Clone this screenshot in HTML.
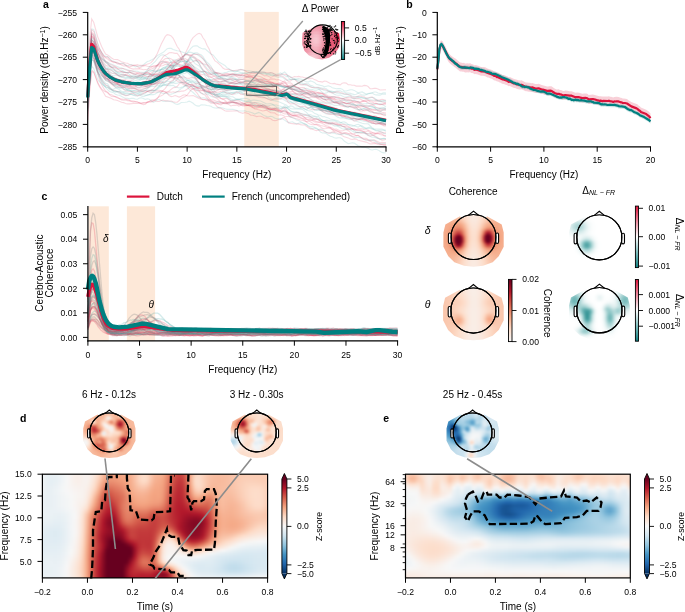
<!DOCTYPE html>
<html><head><meta charset="utf-8"><style>
html,body{margin:0;padding:0;background:#fff;}
#w{position:relative;width:685px;height:612px;overflow:hidden;}
svg{position:absolute;left:0;top:0;display:block;will-change:transform;}
text{font-family:"Liberation Sans", sans-serif;}
</style></head><body><div id="w">
<div style="position:absolute;left:42.4px;top:474.2px;width:225.2px;height:103.7px;overflow:hidden;"><div style="position:absolute;left:-3.6px;top:-3.6px;width:236.0px;filter:blur(1.2px)"><div style="height:3px;background:linear-gradient(90deg,#f0f4f6,#eff3f6,#ebf1f5,#e9f1f5,#eaf1f5,#edf2f5,#f1f4f6,#f7f7f7,#f8f3f0,#f8f0eb,#f9efea,#f8f1ed,#f8f2ee,#f9efe9,#fae7dc,#fddbc7,#f8bc9f,#f3a380,#ef9979,#f09c7b,#f3a380,#f4a885,#f5ab8a,#f6b394,#f9c1a6,#fbd0b9,#fdd9c4,#fcd5c0,#f9c5ab,#f7b99b,#f7b697,#f5ae8d,#ec9374,#dd6f59,#ce5146,#c7433f,#cc4d44,#df745c,#f5ae8d,#fcd3bc,#fddcc8,#fcd5c0,#facbb2,#f9c3a8,#f8c0a4,#f8bfa3,#f8bea2,#f8bfa3,#f9c1a5,#f9c4aa,#fac8ae,#facbb2,#fbccb4,#fbcdb6,#fbceb6,#fbceb6,#fbceb6,#fbcdb6,#fbceb6,#fbceb6)"></div><div style="height:3px;background:linear-gradient(90deg,#f0f4f6,#eff3f5,#eaf1f5,#e8f0f4,#e9f0f4,#ecf2f5,#f0f4f6,#f7f7f7,#f8f3f0,#f9f0ea,#f9efe9,#f8f1ed,#f8f2ef,#f9eee8,#fbe6da,#fdd9c4,#f8bb9d,#f3a381,#ef9a7a,#f09d7c,#f3a380,#f4a785,#f5aa88,#f6b293,#f9c2a7,#fcd3bd,#fddcc9,#fdd9c4,#fac6ad,#f7b799,#f6b495,#f5ac8b,#eb9173,#dc6e57,#ce5045,#c7413e,#cb4a43,#de735c,#f6b090,#fcd6c1,#fddcc9,#fcd4be,#fac9b0,#f9c1a6,#f8bea2,#f8bda1,#f8bda1,#f8bea2,#f9c1a6,#f9c5ab,#fac9b0,#facbb3,#fbcdb5,#fbcdb5,#fbcdb5,#fbcdb5,#fbcdb5,#fbcdb5,#fbceb6,#fbceb6)"></div><div style="height:3px;background:linear-gradient(90deg,#f0f4f6,#eef3f5,#e8f0f4,#e6eff4,#e7eff4,#eaf1f5,#f0f4f6,#f6f7f7,#f8f3f0,#f9efea,#f9eee8,#f8f1ed,#f8f2ef,#f9ede6,#fbe3d5,#fbd1bb,#f7b597,#f29f7e,#ee9878,#ef9a7a,#f2a07e,#f4a481,#f4a785,#f6b090,#f9c2a7,#fcd5c0,#fcdecc,#fddbc7,#f9c6ac,#f6b394,#f6af8f,#f5a886,#e98c6f,#da6954,#cc4c43,#c43c3c,#c84440,#dd7059,#f6b394,#fddcc8,#fcddcb,#fcd2bc,#fac7ad,#f8bfa4,#f8bc9f,#f8bb9e,#f8bc9f,#f8bea1,#f9c1a6,#fac6ad,#facbb2,#fbceb6,#fbcfb7,#fbceb7,#fbcdb6,#fbcdb5,#fbccb4,#fbcdb5,#fbceb6,#fbceb6)"></div><div style="height:3px;background:linear-gradient(90deg,#f0f4f6,#eef3f5,#e8f0f4,#e6eff4,#e7f0f4,#ebf1f5,#f1f4f6,#f7f7f7,#f8f3f0,#f9f0eb,#f9efe9,#f8f1ed,#f8f2ee,#f9ece3,#fce0d0,#facab1,#f5ad8c,#ed9576,#ea8f71,#ec9374,#ef9979,#f19e7d,#f4a582,#f6af8f,#f9c0a5,#fcd2bc,#fddcc8,#fcd7c2,#f9c1a6,#f6b090,#f5ac8b,#f4a582,#e7886c,#d86450,#c94641,#c1373a,#c53e3d,#db6b56,#f6b293,#fddcc9,#fcdecd,#fcd4be,#fac7ad,#f8bea2,#f8bb9e,#f8ba9d,#f8bb9e,#f8bea2,#f9c2a7,#fac7ae,#fbccb4,#fbcfb8,#fbd1ba,#fbd1bb,#fbd1ba,#fbd0b8,#fbceb7,#fbceb6,#fbceb6,#fbceb6)"></div><div style="height:3px;background:linear-gradient(90deg,#f0f4f6,#eef3f5,#e8f0f4,#e6eff4,#e9f0f4,#edf2f5,#f3f5f6,#f7f7f6,#f8f3f1,#f8f1ec,#f9f0eb,#f8f1ed,#f8f1ec,#faeae0,#fcddcb,#f9c2a6,#f2a17f,#e7876b,#e58368,#e8886c,#eb8f71,#ee9777,#f2a17f,#f5ae8d,#f8bda1,#faccb3,#fcd3bd,#fbcdb6,#f8bb9e,#f5ac8b,#f5aa88,#f3a280,#e68469,#d6604d,#c7413e,#bf3137,#c3393b,#d96652,#f5ae8d,#fddac6,#fcdecd,#fcd5bf,#fac6ac,#f8bca0,#f7ba9c,#f8bb9e,#f8bc9f,#f8bea2,#f9c2a7,#fac7ae,#fbcdb5,#fbd1ba,#fcd4bd,#fcd5bf,#fcd5c0,#fcd4be,#fcd2bc,#fbcfb7,#fbcdb6,#fbcdb6)"></div><div style="height:3px;background:linear-gradient(90deg,#f1f4f6,#eff3f5,#e9f0f4,#e8f0f4,#ebf1f5,#eff3f6,#f4f6f6,#f7f6f6,#f8f4f2,#f8f2ef,#f8f1ed,#f8f2ee,#f9f0ea,#fae7dc,#fdd9c5,#f7b89a,#ec9274,#e0775f,#df755d,#e27d63,#e68469,#ea8e71,#f09d7c,#f5ac8b,#f7b99b,#f9c3a9,#fac8af,#f9c2a7,#f6b394,#f5a987,#f5a886,#f19f7e,#e48066,#d35b4a,#c43c3c,#bc2c35,#c03539,#d6614e,#f4a785,#fcd3bd,#fddcc9,#fcd2bc,#f9c2a8,#f7b89a,#f7b89a,#f8bb9e,#f8bda1,#f8bfa3,#f9c2a7,#fac7ad,#fbccb4,#fbd2bb,#fcd6c0,#fdd9c4,#fddac6,#fdd9c5,#fcd6c0,#fbd0b9,#fbcdb6,#fbcdb6)"></div><div style="height:3px;background:linear-gradient(90deg,#f0f4f6,#eef3f5,#e9f0f4,#e9f0f4,#ecf2f5,#f0f4f6,#f4f6f7,#f7f7f7,#f7f5f4,#f8f3f1,#f8f2ef,#f8f2ee,#f9eee8,#fbe4d7,#fbd1ba,#f5ae8d,#e58267,#d96652,#d96752,#de725b,#e17a61,#e6856a,#ee9878,#f5aa88,#f7b496,#f8bb9e,#f8bda1,#f7b89b,#f5ad8c,#f4a684,#f4a784,#f19d7c,#e37d63,#d15648,#c1373a,#ba2933,#bf3237,#d45c4b,#f19e7d,#fac9b1,#fcd4be,#facab1,#f7b99c,#f6b08f,#f6b495,#f8bb9f,#f8bea2,#f8bfa3,#f9c1a6,#f9c6ac,#faccb3,#fbd2bb,#fcd7c2,#fddbc7,#fddcc9,#fddcc8,#fdd9c4,#fbd1ba,#fbceb6,#fbceb6)"></div><div style="height:3px;background:linear-gradient(90deg,#eff3f6,#eef3f5,#e9f1f4,#e9f0f4,#ecf2f5,#f0f3f6,#f3f5f6,#f6f6f7,#f7f6f6,#f8f4f3,#f8f3f0,#f8f2ee,#f9ede6,#fce1d1,#fac6ac,#f2a17f,#de725a,#d15649,#d35b4b,#da6853,#dd7059,#e27c63,#ec9273,#f4a684,#f6b090,#f7b495,#f7b597,#f6b192,#f5a987,#f4a481,#f4a683,#f09b7b,#e17960,#ce5146,#bf3338,#b92632,#be3036,#d15749,#ec9475,#f8bda0,#f9c6ac,#f8ba9d,#f5a987,#f3a27f,#f5ad8d,#f8bb9e,#f8bea2,#f8bea1,#f8bfa3,#f9c4a9,#facab2,#fbd1ba,#fcd7c2,#fddbc8,#fdddca,#fddcca,#fddac5,#fbd1bb,#fbceb6,#fbceb6)"></div><div style="height:3px;background:linear-gradient(90deg,#eef3f5,#ecf2f5,#e9f0f4,#e9f0f4,#ebf1f5,#eef3f5,#f1f4f6,#f4f6f6,#f7f7f7,#f7f5f3,#f8f3f0,#f8f2ee,#f9ece4,#fddcc9,#f8bb9e,#ec9374,#d76350,#ca4942,#ce5045,#d6604d,#da6954,#df755d,#e98c6f,#f3a280,#f5ab8a,#f6af8f,#f6b090,#f5ad8c,#f4a683,#f3a280,#f4a582,#ef9979,#df755d,#cc4c44,#be2f36,#b82431,#bd2e35,#cf5146,#e7876b,#f5ad8c,#f6b394,#f4a784,#ec9274,#eb8f71,#f4a684,#f7b99c,#f8bea2,#f8bc9f,#f8bca0,#f9c1a6,#fac8af,#fbd0b9,#fcd6c1,#fddbc7,#fdddca,#fddcca,#fddac6,#fbd1bb,#fbceb6,#fbceb6)"></div><div style="height:3px;background:linear-gradient(90deg,#edf2f5,#ecf2f5,#e9f0f4,#e9f0f4,#ebf1f5,#eef3f5,#f1f4f6,#f3f5f6,#f6f6f7,#f7f5f3,#f8f2ef,#f8f1ed,#faeae1,#fcd6c0,#f6b292,#e7886b,#d2594a,#c53e3d,#c84440,#d15648,#d86450,#df745c,#e8896d,#f09d7c,#f4a784,#f5ab8a,#f5ac8b,#f5aa88,#f3a481,#f2a17f,#f3a280,#ed9575,#dd7059,#ca4741,#bc2c35,#b72230,#bb2b34,#ca4942,#df755d,#ee9677,#f09c7b,#ea8e71,#e37e64,#e48166,#f2a07e,#f7b89a,#f8bea1,#f8ba9d,#f7ba9c,#f8bea2,#f9c5ab,#fbcdb5,#fcd4bf,#fddac6,#fddcca,#fdddca,#fddac6,#fbd1ba,#fbcdb5,#fbcdb5)"></div><div style="height:3px;background:linear-gradient(90deg,#ecf2f5,#ebf1f5,#e9f0f4,#e9f0f4,#ebf1f5,#eef3f5,#f1f4f6,#f3f5f6,#f6f7f7,#f8f5f3,#f8f1ed,#f9f0eb,#fae8dd,#fbceb7,#f5a988,#e48065,#cf5246,#c13639,#c2383a,#cc4b43,#d7624e,#e0775f,#e8896c,#ee9778,#f3a27f,#f4a785,#f5a886,#f4a683,#f2a07e,#f19d7c,#f09c7b,#ea8d70,#da6a55,#c8433f,#bb2933,#b61f2e,#b92632,#c53e3d,#d6604d,#e17a61,#e48066,#e17960,#dc6f58,#e0785f,#f09c7b,#f7b799,#f8bda0,#f7b99b,#f7b799,#f8ba9d,#f9c1a6,#fac9b0,#fbd2bb,#fdd9c4,#fddcc9,#fdddca,#fddac6,#fbd0b9,#faccb3,#faccb3)"></div><div style="height:3px;background:linear-gradient(90deg,#edf2f5,#ecf2f5,#e9f0f4,#e9f0f4,#ebf1f5,#eef3f5,#f1f4f6,#f3f5f6,#f6f7f7,#f8f4f3,#f8f1ec,#f9eee7,#fbe4d6,#f9c5ab,#f29f7e,#e0775f,#cc4c44,#bd2f36,#bc2c35,#c6403e,#d65f4d,#e17a61,#e8896d,#ec9273,#ef9a79,#f29f7e,#f2a17f,#f19e7c,#ee9778,#ec9374,#eb9172,#e58267,#d7624f,#c53f3d,#b92732,#b41d2d,#b6212f,#bf3137,#ca4942,#d45c4b,#d86550,#d86450,#d7624e,#de725b,#ef9878,#f7b596,#f8bb9e,#f7b799,#f7b596,#f7b79a,#f8bea1,#f9c6ac,#fbcfb7,#fcd6c1,#fddbc8,#fddcc9,#fdd9c5,#fbceb7,#fac9b1,#fac9b1)"></div><div style="height:3px;background:linear-gradient(90deg,#edf2f5,#ecf2f5,#eaf1f5,#e9f1f4,#ebf1f5,#edf2f5,#eff3f6,#f2f5f6,#f5f6f7,#f7f5f4,#f8f0ec,#faeae1,#fcdecc,#f7b89b,#eb9173,#db6b56,#c84440,#b92732,#b7212f,#c03438,#d35a4a,#e17a61,#e7886c,#e98c6f,#ea8f71,#eb9173,#ec9374,#eb9072,#e7866a,#e47f65,#e37e64,#de735c,#d2594a,#c33a3b,#b92531,#b41b2d,#b41c2d,#b92531,#bf3338,#c6403e,#ca4842,#cc4d44,#d05347,#da6a55,#ec9475,#f6b293,#f7b99b,#f7b597,#f6b394,#f7b697,#f8bb9f,#f9c3a8,#facbb3,#fcd2bc,#fcd7c2,#fdd8c4,#fcd5bf,#facbb3,#fac7ad,#fac7ad)"></div><div style="height:3px;background:linear-gradient(90deg,#edf2f5,#edf2f5,#ebf1f5,#eaf1f5,#eaf1f5,#ebf1f5,#edf2f5,#f0f4f6,#f4f5f6,#f7f6f5,#f8f0ec,#fbe6da,#fbd2bb,#f5aa89,#e48166,#d45d4c,#c2383a,#b51e2e,#b0172b,#bb2933,#cf5146,#df755d,#e68569,#e7866a,#e58267,#e48065,#e58267,#e37e64,#dd7059,#d96651,#d96752,#d7634f,#cd4e45,#c13639,#b82531,#b41b2c,#b2182b,#b31a2c,#b6202f,#b92732,#bd2d35,#c13639,#c84340,#d7624e,#ea8e70,#f6ae8e,#f7b698,#f6b394,#f6b292,#f7b596,#f8ba9d,#f9c1a6,#fac7ae,#fbcdb5,#fbd0b9,#fbd1bb,#fbcfb7,#fac8ae,#f9c4aa,#f9c4aa)"></div><div style="height:3px;background:linear-gradient(90deg,#edf2f5,#edf2f5,#ebf2f5,#eaf1f5,#e9f0f4,#e8f0f4,#eaf1f5,#edf2f5,#f2f5f6,#f7f7f7,#f8f0eb,#fbe3d4,#f9c5ab,#f09c7b,#de735b,#ce4f45,#bc2c35,#ac162a,#a31329,#b41d2d,#ca4842,#dd7059,#e58267,#e48166,#e0765e,#dd6f59,#de725a,#dc6d57,#d45b4b,#ce4f45,#d05447,#d15648,#c94741,#c03338,#b92531,#b41b2d,#ae172a,#a9152a,#a81529,#aa152a,#ae172a,#b61f2e,#c03438,#d3594a,#e8896c,#f5ab89,#f6b394,#f6b192,#f6b090,#f6b394,#f7b89b,#f8bea2,#f9c3a9,#fac7ae,#facab2,#facbb3,#facab1,#f9c6ac,#f9c4a9,#f9c4a9)"></div><div style="height:3px;background:linear-gradient(90deg,#ecf2f5,#ecf2f5,#ebf1f5,#e9f1f4,#e7f0f4,#e7eff4,#e8f0f4,#ecf2f5,#f2f4f6,#f7f7f7,#f9efea,#fce1d1,#f8bfa3,#ec9274,#da6954,#c94641,#b72230,#9f1228,#940e26,#a81529,#c53e3d,#db6b55,#e37e64,#e27d63,#dc6e58,#d86450,#d86450,#d6604d,#cd4d44,#c7433f,#cb4a43,#ce4f45,#c84440,#bf3338,#b92732,#b41c2d,#a9152a,#9f1228,#981027,#950f26,#981027,#a61429,#ba2832,#cf5347,#e68569,#f5a886,#f6b191,#f6af8f,#f5ae8d,#f6b091,#f7b596,#f8ba9d,#f8bfa3,#f9c3a9,#fac7ad,#fac9b0,#fac9b0,#fac7ae,#fac6ac,#fac6ac)"></div><div style="height:3px;background:linear-gradient(90deg,#eaf1f5,#eaf1f5,#eaf1f5,#e8f0f4,#e6eff4,#e6eff4,#e7f0f4,#ecf2f5,#f2f4f6,#f7f6f6,#f9eee8,#fce0cf,#f8bca0,#e98d6f,#d76350,#c63f3e,#b31a2c,#940e26,#880a24,#9b1127,#c03338,#d7624f,#e0775f,#df765e,#d96752,#d45b4b,#d35a4a,#d05548,#c94640,#c53f3d,#ca4842,#ce4f45,#c94641,#c13639,#ba2933,#b41b2c,#a51429,#960f27,#8c0c25,#860a24,#880b24,#981027,#b6202f,#cd4f45,#e58267,#f4a784,#f6af8f,#f5ae8d,#f5ac8a,#f5ad8c,#f6b191,#f7b698,#f8bc9f,#f9c2a6,#fac6ad,#facab1,#faccb4,#facbb3,#facab2,#facab2)"></div><div style="height:3px;background:linear-gradient(90deg,#e9f0f4,#e9f0f4,#e8f0f4,#e6eff4,#e4eef4,#e4eef4,#e6eff4,#ebf1f5,#f2f4f6,#f7f6f5,#f9eee8,#fcdfce,#f8bb9e,#e88a6d,#d55f4c,#c33b3b,#b0172b,#910d26,#840924,#940e26,#b92531,#ce5045,#d96752,#da6954,#d55d4c,#cf5246,#ce5045,#cc4c43,#c6413e,#c53e3d,#cb4942,#cf5347,#cc4d44,#c53d3d,#bc2b34,#b2192b,#a11328,#920e26,#860a24,#800823,#820923,#940e26,#b51e2e,#cd4f45,#e58267,#f4a683,#f6af8e,#f5ad8c,#f5aa88,#f5ab89,#f6ae8e,#f7b495,#f8bb9f,#f9c3a8,#facab1,#fbcfb8,#fbd2bb,#fbd1ba,#fbcfb8,#fbcfb8)"></div><div style="height:3px;background:linear-gradient(90deg,#e8f0f4,#e7f0f4,#e5eef4,#e3edf3,#e2edf3,#e2edf3,#e5eff4,#ebf1f5,#f2f5f6,#f7f6f5,#f9eee8,#fcdfce,#f7b99b,#e7886b,#d35b4b,#c13639,#af172b,#950f26,#890b24,#910e26,#ae172a,#c13639,#cd4e45,#d25749,#ce5045,#ca4841,#c94641,#c84440,#c53d3d,#c53e3d,#cc4c44,#d35a4a,#d35b4a,#cc4c44,#bf3237,#b1182b,#9f1228,#910e26,#870a24,#820923,#860a24,#991027,#b72230,#cf5246,#e68469,#f4a784,#f6af8f,#f5ad8c,#f5aa89,#f5ab8a,#f6af8f,#f7b698,#f8bfa3,#fac8af,#fbd0b9,#fcd7c2,#fdd9c5,#fcd7c2,#fcd5c0,#fcd5c0)"></div><div style="height:3px;background:linear-gradient(90deg,#e6eff4,#e6eff4,#e3edf3,#e0ecf3,#dfecf3,#e0ecf3,#e4eef3,#eaf1f5,#f2f4f6,#f7f6f6,#f9eee8,#fcdecd,#f7b799,#e6866a,#d25749,#bf3137,#ae172a,#991027,#8f0d25,#900d26,#9e1228,#b41c2d,#c2383a,#ca4842,#c94540,#c53e3d,#c53f3d,#c53e3d,#c33a3b,#c63f3e,#cf5347,#da6853,#de725b,#d96752,#c84340,#b51e2e,#a11228,#930e26,#8a0b25,#870a24,#8d0c25,#a01228,#bb2933,#d25849,#e8896c,#f5a988,#f6b292,#f6b090,#f6ae8e,#f6b090,#f7b596,#f8bda1,#fac7ad,#fbd1ba,#fddac6,#fcdecc,#fcdfce,#fcdecb,#fddcc9,#fddcc9)"></div><div style="height:3px;background:linear-gradient(90deg,#e5eef4,#e4eef4,#e1edf3,#dfecf3,#deebf2,#dfecf3,#e3eef3,#eaf1f5,#f1f4f6,#f7f6f6,#f9eee8,#fcddcb,#f7b596,#e58468,#d05447,#bc2d35,#a9152a,#960f27,#8f0d25,#8d0c25,#910d26,#a51429,#bc2d35,#c84440,#c7413f,#c33a3b,#c33a3b,#c33a3b,#c2383a,#c7423f,#d55f4c,#e48066,#ee9777,#eb9072,#d96652,#c03438,#aa152a,#950f26,#8b0c25,#8a0b25,#900d26,#a51429,#bf3137,#d7624e,#eb9072,#f6ae8e,#f7b799,#f7b698,#f7b698,#f8bb9e,#f9c2a7,#facbb2,#fcd4be,#fddcc9,#fce0d0,#fbe3d5,#fbe4d7,#fbe3d5,#fbe2d4,#fbe2d4)"></div><div style="height:3px;background:linear-gradient(90deg,#e4eef3,#e3eef3,#e1ecf3,#dfecf3,#deebf2,#dfecf3,#e3eef3,#eaf1f5,#f1f4f6,#f7f6f5,#f9ede6,#fddcca,#f6b394,#e48167,#cf5246,#bb2933,#a21328,#8d0c25,#860a24,#840924,#860a24,#9b1127,#ba2833,#c84340,#c7413e,#c2383a,#c2383a,#c2383a,#c13639,#c94641,#dd6f59,#f2a07e,#f8bda0,#f8bc9f,#ed9475,#d25749,#b82431,#9c1128,#8f0d25,#8e0d25,#950f26,#ac162a,#c43c3c,#dc6e58,#f09b7b,#f7b597,#f8bea2,#f8c0a4,#f9c3a9,#facbb2,#fcd4be,#fddcc9,#fce0d0,#fbe4d7,#fae7dc,#fae9e0,#faeae1,#faeae1,#faeae1,#faeae1)"></div><div style="height:3px;background:linear-gradient(90deg,#e3edf3,#e2edf3,#e1edf3,#e0ecf3,#dfecf3,#e0ecf3,#e4eef3,#eaf1f5,#f1f4f6,#f7f5f4,#f9ece4,#fddbc8,#f6b192,#e37f65,#ce5146,#ba2933,#9f1228,#840924,#770522,#730421,#780522,#8f0d25,#b51d2d,#c33a3b,#c43c3c,#c13639,#c13739,#c13639,#c13539,#cc4b43,#e58267,#f8ba9d,#fddcc8,#fdddcb,#f8bda1,#e58368,#c84440,#b2182b,#9f1228,#9e1228,#a61429,#b82531,#ce5046,#e48066,#f5a886,#f8bea2,#fac8ae,#fbccb4,#fcd3bd,#fddcc9,#fce2d3,#fbe7db,#faeae1,#f9ede5,#f9efe8,#f9f0eb,#f8f1ed,#f8f2ee,#f8f2ef,#f8f2ef)"></div><div style="height:3px;background:linear-gradient(90deg,#e2edf3,#e2edf3,#e2edf3,#e1ecf3,#e0ecf3,#e1edf3,#e5eef4,#ebf1f5,#f2f5f6,#f8f4f2,#faebe2,#fddac6,#f6b090,#e27c63,#ce5046,#bc2c35,#a11328,#7f0823,#67001f,#67001f,#67001f,#7a0622,#9b1127,#b51d2d,#bc2c34,#bf3338,#c13639,#c03539,#c03438,#cf5247,#ee9777,#fbd1bb,#fae7dc,#fae9df,#fddcc8,#f6af8f,#de725a,#c53e3d,#ba2732,#b92531,#be3137,#cb4b43,#dd715a,#ef9878,#f7b597,#fac8ae,#fcd3bd,#fddbc8,#fce0d0,#fbe6da,#f9ece4,#f8f0eb,#f8f3f0,#f7f5f3,#f7f6f5,#f7f7f7,#f6f6f7,#f3f5f6,#f2f5f6,#f2f5f6)"></div><div style="height:3px;background:linear-gradient(90deg,#e2edf3,#e2edf3,#e3edf3,#e2edf3,#e2edf3,#e3edf3,#e6eff4,#ecf2f5,#f4f5f6,#f8f3f1,#faeae1,#fdd8c4,#f5ae8d,#e17960,#ce5046,#be3036,#a61429,#7c0722,#67001f,#67001f,#67001f,#67001f,#760521,#910d26,#b2182b,#be3036,#c2383a,#c03438,#c03539,#d3594a,#f4a885,#fcdfce,#f9eee8,#f9f0eb,#fae8dd,#fbd2bb,#f3a481,#dd715a,#d25849,#d05548,#d86450,#e37d63,#f09b7b,#f7b495,#fac7ad,#fcd6c1,#fcdfce,#fbe5d7,#faeae1,#f8f0eb,#f7f5f4,#f4f6f7,#f1f4f6,#f0f4f6,#eff3f5,#eef3f5,#ecf2f5,#e9f0f4,#e8f0f4,#e8f0f4)"></div><div style="height:3px;background:linear-gradient(90deg,#e3eef3,#e3eef3,#e4eef3,#e3eef3,#e3eef3,#e4eef4,#e7f0f4,#eef3f5,#f5f6f7,#f8f2ef,#fae9e0,#fcd7c1,#f5ac8a,#e0775f,#cd4f45,#be3036,#a51429,#750421,#67001f,#67001f,#67001f,#67001f,#67001f,#720321,#a21328,#be2f36,#c43b3c,#c1373a,#c1373a,#d65f4d,#f6b191,#fbe4d7,#f8f1ed,#f8f2ef,#f9efe9,#fbe4d6,#fac9b0,#f4a784,#ea8f71,#e98c6f,#f09d7c,#f6b192,#f9c4a9,#fcd3bd,#fcdecc,#fbe4d7,#faeae0,#f9efea,#f7f5f3,#f3f5f6,#eef3f5,#eaf1f5,#e8f0f4,#e6eff4,#e6eff4,#e5eff4,#e4eef3,#e1edf3,#e0ecf3,#e0ecf3)"></div><div style="height:3px;background:linear-gradient(90deg,#e4eef4,#e4eef4,#e5eef4,#e4eef4,#e4eef4,#e5eff4,#e9f0f4,#eff3f5,#f6f7f7,#f8f2ee,#fae9de,#fcd5bf,#f5aa88,#df755d,#cc4c44,#bb2b34,#9d1128,#69011f,#67001f,#67001f,#67001f,#67001f,#67001f,#67001f,#9d1128,#c03338,#c7433f,#c53d3d,#c43c3c,#d7634f,#f7b596,#fbe6da,#f8f2ee,#f8f3f0,#f8f2ef,#f9ede5,#fce1d1,#fbcfb8,#f9c1a5,#f8bfa4,#facbb3,#fddcc8,#fbe3d5,#fae9df,#f9eee8,#f8f3f0,#f7f7f7,#f2f4f6,#ecf2f5,#e7f0f4,#e3eef3,#e1ecf3,#dfecf3,#dfecf3,#dfecf3,#dfebf3,#deebf2,#dceaf2,#dbeaf2,#dbeaf2)"></div><div style="height:3px;background:linear-gradient(90deg,#e6eff4,#e6eff4,#e6eff4,#e6eff4,#e6eff4,#e7eff4,#eaf1f5,#f0f4f6,#f7f7f6,#f8f1ec,#fae8dc,#fcd3bd,#f4a886,#de735b,#ca4842,#b82431,#930e26,#67001f,#67001f,#67001f,#67001f,#67001f,#67001f,#67001f,#a11328,#c43c3c,#cd4e45,#cb4942,#c84440,#d96753,#f7b799,#fae7dc,#f8f3ef,#f8f4f2,#f8f4f3,#f8f3ef,#f9ede7,#fae7dc,#fbe3d4,#fbe3d4,#fae8dd,#f9efe8,#f8f4f2,#f4f6f6,#eef3f5,#eaf1f5,#e6eff4,#e3eef3,#e0ecf3,#ddebf2,#dbeaf2,#d9e9f2,#d9e9f1,#d9e9f2,#dae9f2,#dae9f2,#dae9f2,#d9e9f2,#d9e9f1,#d9e9f1)"></div><div style="height:3px;background:linear-gradient(90deg,#e7eff4,#e7f0f4,#e8f0f4,#e7f0f4,#e7eff4,#e8f0f4,#ebf1f5,#f2f4f6,#f7f5f4,#f9efe9,#fbe6d9,#fbd1ba,#f4a785,#dd705a,#c84540,#b6202f,#8e0c25,#67001f,#67001f,#67001f,#67001f,#67001f,#67001f,#6e0220,#ad162a,#ca4842,#d55f4c,#d45c4b,#cf5146,#dc6e58,#f8ba9d,#fae9df,#f7f5f3,#f7f7f6,#f6f7f7,#f6f7f7,#f7f7f7,#f7f5f4,#f8f3f1,#f8f4f2,#f6f7f7,#f0f4f6,#ebf1f5,#e7eff4,#e2edf3,#deebf2,#dbeaf2,#d9e9f2,#d8e8f1,#d6e7f1,#d5e7f1,#d5e7f1,#d5e7f1,#d6e8f1,#d8e8f1,#d9e9f1,#d9e9f1,#d8e9f1,#d8e8f1,#d8e8f1)"></div><div style="height:3px;background:linear-gradient(90deg,#e9f0f4,#e9f0f4,#e9f1f5,#e9f0f4,#e8f0f4,#e9f0f4,#edf2f5,#f3f5f6,#f8f3f1,#f9ede5,#fbe4d6,#fbcfb8,#f4a785,#dc6e58,#c7423f,#b51e2e,#8c0c25,#67001f,#67001f,#67001f,#67001f,#67001f,#67001f,#830923,#b72230,#d05347,#dc6e57,#dc6d57,#d55f4c,#df745c,#f8ba9d,#fae8dd,#f8f4f3,#f6f7f7,#f4f6f6,#f2f4f6,#eff3f6,#eef3f5,#edf2f5,#ebf1f5,#e8f0f4,#e5eff4,#e3eef3,#e1edf3,#deebf2,#d9e9f2,#d6e7f1,#d3e6f0,#d2e5f0,#d1e5f0,#d1e5f0,#d2e6f0,#d4e6f0,#d5e7f1,#d7e8f1,#d8e8f1,#d9e9f1,#d9e9f1,#d8e8f1,#d8e8f1)"></div><div style="height:3px;background:linear-gradient(90deg,#e9f1f5,#eaf1f5,#eaf1f5,#eaf1f5,#e9f0f4,#eaf1f5,#eef3f5,#f5f6f7,#f8f2ee,#faeae1,#fce1d2,#fbceb6,#f4a886,#dc6d57,#c63f3e,#b41c2d,#8c0c25,#67001f,#67001f,#67001f,#67001f,#67001f,#6a011f,#9a1027,#be2f36,#d25849,#de725b,#df745c,#d86450,#dd715a,#f5ac8b,#fdddca,#faeae0,#f8f0eb,#f7f5f4,#f3f5f6,#edf2f5,#e9f0f4,#e5eef4,#e2edf3,#e0ecf3,#dfecf3,#dfecf3,#dfecf3,#dceaf2,#d7e8f1,#d3e6f0,#cee3ef,#cae2ee,#cae1ee,#cbe2ee,#cfe4ef,#d2e5f0,#d4e7f1,#d7e8f1,#d8e8f1,#d9e9f2,#d9e9f1,#d8e9f1,#d8e9f1)"></div><div style="height:3px;background:linear-gradient(90deg,#eaf1f5,#eaf1f5,#eaf1f5,#eaf1f5,#eaf1f5,#ebf1f5,#eff3f6,#f7f7f7,#f8f0ec,#fae9df,#fce0cf,#fbccb4,#f5a886,#dc6d57,#c53e3d,#b31a2c,#8a0b25,#67001f,#67001f,#67001f,#67001f,#67001f,#7d0723,#ac162a,#c13539,#cf5146,#d96752,#da6a55,#d55d4c,#d6604d,#e58368,#f5ad8c,#fac7ad,#fddcca,#fae9df,#f8f4f2,#f1f4f6,#eaf1f5,#e3eef3,#deebf2,#dceaf2,#dceaf2,#ddebf2,#ddebf2,#dae9f2,#d5e7f1,#cfe4ef,#c8e0ed,#c4deec,#c3deec,#c6dfed,#cae1ee,#cfe4ef,#d3e6f0,#d6e7f1,#d8e8f1,#d9e9f1,#d9e9f1,#d8e9f1,#d8e9f1)"></div><div style="height:3px;background:linear-gradient(90deg,#e9f1f5,#eaf1f5,#eaf1f5,#e9f1f4,#eaf1f5,#ecf2f5,#f1f4f6,#f7f6f6,#f9efea,#fae8dd,#fcdfce,#facbb3,#f5a886,#dc6e57,#c43d3c,#b1182b,#880b24,#67001f,#67001f,#67001f,#67001f,#67001f,#8c0c25,#b51f2e,#c03539,#c7433f,#ce5046,#d05548,#cc4d44,#c94641,#cc4c43,#d65f4d,#e47f65,#f5ab89,#fcd4be,#fae9e0,#f8f5f3,#f0f4f6,#e6eff4,#dfecf3,#dbeaf2,#dbeaf2,#dceaf2,#dbeaf2,#d8e8f1,#d4e6f0,#cde3ef,#c6dfed,#c2ddec,#c1ddeb,#c3deec,#c8e0ed,#cde3ef,#d2e6f0,#d6e7f1,#d9e9f1,#dae9f2,#dae9f2,#dae9f2,#dae9f2)"></div><div style="height:3px;background:linear-gradient(90deg,#e9f1f5,#e9f1f5,#e9f0f4,#e9f1f4,#eaf1f5,#edf2f5,#f2f4f6,#f7f6f5,#f9efe9,#fae8dd,#fcdfcd,#facbb3,#f5a886,#dc6e58,#c43c3c,#af172a,#860a24,#67001f,#67001f,#67001f,#67001f,#67001f,#960f26,#b82431,#be3036,#bf3237,#c13739,#c33a3b,#c2383a,#bb2a34,#b1182b,#ae172a,#bf3237,#db6c56,#f6b090,#fcddcb,#f9ece5,#f7f6f6,#ecf2f5,#e3eef3,#dfebf3,#ddebf2,#ddebf2,#dceaf2,#d9e9f2,#d5e7f1,#d1e5f0,#cbe2ee,#c8e1ed,#c8e0ed,#c9e1ee,#cde3ef,#d2e6f0,#d6e7f1,#d9e9f2,#dceaf2,#deebf2,#deebf2,#deebf2,#deebf2)"></div><div style="height:3px;background:linear-gradient(90deg,#eaf1f5,#eaf1f5,#eaf1f5,#eaf1f5,#ebf1f5,#edf2f5,#f2f5f6,#f7f5f4,#f9efe9,#fae8dd,#fcdfce,#faccb3,#f5a886,#dc6f58,#c43c3c,#ae172a,#860a24,#67001f,#67001f,#67001f,#67001f,#67001f,#970f27,#b72330,#ba2933,#b82330,#b72230,#b82531,#b82431,#af172b,#910d26,#830923,#9c1127,#c53e3d,#ea8e71,#facab2,#fbe4d7,#f8f0eb,#f4f5f6,#eaf1f5,#e5eef4,#e3edf3,#e2edf3,#e1edf3,#dfecf3,#dceaf2,#dae9f2,#d8e8f1,#d7e8f1,#d7e8f1,#d8e8f1,#dae9f2,#dceaf2,#e0ecf3,#e3edf3,#e5eff4,#e7eff4,#e7f0f4,#e7f0f4,#e7f0f4)"></div><div style="height:3px;background:linear-gradient(90deg,#ecf2f5,#ecf2f5,#edf2f5,#ecf2f5,#ecf2f5,#edf2f5,#f2f4f6,#f7f5f4,#f9efe9,#fae9de,#fce1d1,#fbcdb5,#f4a886,#dc6e58,#c43c3c,#af172b,#890b24,#67001f,#67001f,#67001f,#67001f,#67001f,#8f0d25,#b3192c,#b6202f,#b41d2d,#b41c2d,#b41b2d,#b1182b,#a71529,#9a1027,#950f26,#a51429,#c2383a,#e37e64,#f8bc9f,#fcdecd,#faebe3,#f8f4f2,#f3f5f6,#eef3f5,#ecf2f5,#ecf2f5,#ecf2f5,#ebf1f5,#eaf1f5,#ebf1f5,#ebf1f5,#ecf2f5,#edf2f5,#eef3f5,#eff3f6,#f1f4f6,#f2f5f6,#f4f6f6,#f6f6f7,#f7f7f7,#f7f7f7,#f7f7f7,#f7f7f7)"></div><div style="height:3px;background:linear-gradient(90deg,#edf2f5,#edf2f5,#eef3f5,#edf2f5,#ecf2f5,#edf2f5,#f1f4f6,#f7f6f5,#f9efe9,#fae9df,#fce1d2,#fbceb6,#f4a886,#dc6e58,#c43c3c,#b0172b,#8a0b25,#67001f,#67001f,#67001f,#67001f,#67001f,#8b0b25,#af172a,#b51e2e,#b51d2d,#b51e2e,#b41c2d,#b0172b,#a9152a,#a81529,#ab162a,#b41d2d,#c6413e,#e47f65,#f7ba9c,#fdddcb,#faeae1,#f8f3f0,#f6f6f7,#f2f5f6,#f0f4f6,#f0f4f6,#f0f4f6,#f0f4f6,#f0f4f6,#f2f4f6,#f3f5f6,#f5f6f7,#f6f6f7,#f7f7f7,#f7f6f6,#f7f6f5,#f7f5f3,#f8f4f2,#f8f3f0,#f8f3ef,#f8f2ef,#f8f2ee,#f8f2ee)"></div></div></div><div style="position:absolute;left:405.5px;top:474.2px;width:224.8px;height:103.7px;overflow:hidden;"><div style="position:absolute;left:-3.6px;top:-3.6px;width:232.0px;filter:blur(1.2px)"><div style="height:3px;background:linear-gradient(90deg,#fbe7db,#fbe2d3,#fddbc6,#fdd9c4,#fcdfcd,#fbe4d7,#faeae0,#f9ece3,#fae9de,#fbe6da,#fbe5d8,#fce0d0,#fddcc9,#fcdecc,#fce0d0,#fdddca,#fce0cf,#fbe3d4,#fddbc8,#fbd2bb,#fddcc8,#fce0d0,#fce0cf,#fce2d3,#fce0d0,#fcd6c1,#fbcdb5,#fac8af,#fbd1ba,#fcdecc,#fce0d0,#fce1d1,#fbe3d4,#fce0d0,#fbd1ba,#fbcdb5,#fddac6,#fcdecc,#fce2d3,#fae8dd,#fae8de,#fbe6da,#fbe3d4,#fcdecc,#fdd8c4,#fddbc8,#fce1d1,#fbe2d3,#fce0cf,#fcdfcf,#fce1d2,#fbe4d7,#fae7dc,#fae7db,#fbe4d7,#fbe4d6,#fbe4d6,#fbe6da,#fae7dc)"></div><div style="height:3px;background:linear-gradient(90deg,#fbe4d6,#fddcc8,#f9c5ab,#f9c3a8,#fcd3bd,#fcdfce,#fae9df,#f9ece5,#fae7db,#fbe3d5,#fbe4d6,#fddcc9,#fbceb6,#fcd6c0,#fddbc7,#facab1,#fcd4be,#fce0cf,#fbd1ba,#f9c5ab,#fcd6c0,#fdddca,#fddcc8,#fce0d0,#fcdfcd,#facbb3,#f8bfa3,#f8bb9e,#fac8af,#fdddcb,#fce0cf,#fcdecc,#fce2d2,#fcdfce,#fac9b0,#f9c3a8,#fbd1ba,#fcd6c1,#fcdfce,#faeae0,#fae8de,#fbe3d5,#fce0d0,#fcd7c1,#facbb3,#fbd1ba,#fdddca,#fdddcb,#fddac6,#fddbc7,#fddcc9,#fcdfce,#fbe3d4,#fce2d2,#fcdfce,#fce0d0,#fce2d2,#fbe3d5,#fbe5d7)"></div><div style="height:3px;background:linear-gradient(90deg,#fbe3d5,#fcd7c2,#f7ba9c,#f7b798,#facbb3,#fddbc7,#fae8de,#f9eee8,#fbe4d7,#fce1d0,#fbe4d7,#fddac5,#f9c4a9,#fcd2bc,#fddcc8,#f9c4aa,#fcd3bd,#fce2d3,#fcd2bc,#fac9b0,#fdd9c5,#fddbc7,#fcd3bd,#fce0cf,#fcdfce,#f9c6ac,#f7b89b,#f7b698,#f9c6ac,#fcdfce,#fce0cf,#fddbc8,#fbe3d4,#fbe3d4,#fbcdb5,#f9c4aa,#fbceb7,#fbcfb7,#fddcc9,#f9ece4,#fae7db,#fce0cf,#fce0cf,#fcd5c0,#facab1,#fcd5c0,#fcdfcd,#fddbc7,#fcd4be,#fcd8c3,#fcd7c2,#fddbc7,#fce0cf,#fcdecc,#fdd9c5,#fcdfce,#fce0d0,#fcddcb,#fcdfcd)"></div><div style="height:3px;background:linear-gradient(90deg,#fae9df,#fce0cf,#fac9af,#f9c5ab,#fcd6c0,#fcd7c2,#fae8dd,#f9eee8,#fce0d0,#fcdecb,#fae8dd,#fcdecc,#fac9b0,#fcdecb,#fbe6da,#fddac6,#fbe4d7,#f9ede5,#fce0d0,#fce0cf,#fbe4d6,#fddbc8,#fbcdb5,#fce1d1,#fce2d2,#fac9b0,#f8c0a4,#f8c0a4,#fbceb6,#fbe5d7,#fbe2d4,#fddac6,#fae7dc,#faebe3,#fddcc9,#fcd4bf,#fdd9c5,#fcd2bc,#fdddca,#f9eee8,#fbe5d9,#fcdfce,#fbe6d9,#fce0d0,#fddbc8,#fbe4d7,#fae8dd,#fdddcb,#fddac6,#fcdfcd,#fddbc7,#fddcc8,#fbe2d4,#fcdfce,#fdd9c5,#fbe3d6,#fbe4d6,#fcd6c1,#fcd5c0)"></div><div style="height:3px;background:linear-gradient(90deg,#f8f1ed,#faebe3,#fce1d2,#fce0d0,#fbe4d6,#fddac6,#fbe6db,#f9ede6,#fdddca,#fddcc8,#f9ece4,#fbe5d9,#fddbc7,#faebe2,#f7f5f4,#f9ece3,#f7f7f6,#f2f5f6,#f9eee8,#f8f3f0,#f8f1ed,#fce0cf,#fbd0b9,#fae7dc,#fae8de,#fdd9c4,#fdd8c3,#fddac6,#fcdecc,#f9eee8,#fae9df,#fcdecc,#f9eee8,#f7f6f5,#fae8dd,#fbe4d6,#fbe7db,#fce0cf,#fce1d2,#f8f1ed,#fae7dc,#fbe4d7,#f8f1ed,#f9ece5,#fae9de,#f8f4f2,#f8f4f2,#fbe4d6,#fbe3d5,#faeae1,#fbe3d4,#fbe3d5,#f9ede6,#fae8dd,#fce1d1,#f9eee7,#f9eee7,#fddbc7,#fcd6c1)"></div><div style="height:3px;background:linear-gradient(90deg,#f7f7f7,#f8f4f2,#f9efe9,#f9eee8,#f9eee8,#fcdecc,#fbe5d9,#faebe2,#fddbc7,#fddbc7,#f9ede6,#faebe3,#fbe5d9,#f7f7f7,#eaf1f5,#f6f6f7,#e7eff4,#e4eef3,#f4f5f6,#e8f0f4,#eef3f5,#fae8dd,#fcdecc,#f8f2ef,#f8f3f1,#fae7db,#f9ece4,#f9eee8,#f9ece4,#f2f5f6,#f8f3f1,#fbe6d9,#f7f7f6,#edf2f5,#f8f1ed,#f9f0ea,#f7f6f5,#f9eee7,#faeae1,#f7f6f6,#f9eee8,#f9efe9,#edf2f5,#f6f7f7,#f8f3f1,#ebf1f5,#eef3f5,#f9ede5,#f9efe9,#f7f7f7,#f9eee8,#f9f0ea,#f0f3f6,#f7f6f6,#f9ece4,#f3f5f6,#f2f4f6,#fae7db,#fbe3d5)"></div><div style="height:3px;background:linear-gradient(90deg,#f4f6f6,#f6f6f7,#f7f5f4,#f7f5f3,#f8f3f1,#fbe2d3,#fbe5d9,#fae9de,#fddcc9,#fddcc8,#faebe2,#f9ede5,#f9ede5,#eef3f5,#e3eef3,#eef3f5,#e0ecf3,#ddebf2,#e8f0f4,#dae9f2,#e0ecf3,#f7f5f4,#f9efe9,#e8f0f4,#e8f0f4,#f5f6f7,#e8f0f4,#e4eef4,#eff3f5,#deebf2,#e8f0f4,#f8f4f2,#eaf1f5,#e3edf3,#f1f4f6,#f0f4f6,#e1edf3,#ecf2f5,#f6f7f7,#ecf2f5,#f2f4f6,#edf2f5,#d9e9f2,#e8f0f4,#f0f4f6,#e2edf3,#e5eef4,#f7f6f6,#f3f5f6,#e9f0f4,#f3f5f6,#f0f4f6,#dceaf2,#e5eff4,#f6f6f7,#e6eff4,#e5eef4,#f8f3f0,#f9efe9)"></div><div style="height:3px;background:linear-gradient(90deg,#f4f5f6,#f4f6f6,#f6f7f7,#f7f7f7,#f7f5f4,#fae8dd,#fae8dd,#fae9df,#fce0d0,#fce0cf,#faeae1,#f9eee8,#f8f2ef,#eaf1f5,#e1edf3,#e6eff4,#dae9f2,#d5e7f1,#d9e9f1,#c6dfed,#c7e0ed,#dbeaf2,#deebf2,#c4deec,#c6dfed,#d3e6f0,#bddbea,#b7d8e8,#cce3ef,#b8d8e9,#c4dfec,#d8e8f1,#cbe2ee,#c6e0ed,#d5e7f1,#d2e5f0,#b5d7e8,#c4deec,#d6e7f1,#d2e5f0,#d5e7f1,#cfe4f0,#b5d7e8,#d0e5f0,#dbeaf2,#d3e6f0,#d6e7f1,#e4eef3,#e1ecf3,#dbeaf2,#e4eef3,#e2edf3,#d2e5f0,#dae9f2,#e9f0f4,#e0ecf3,#e0ecf3,#f2f5f6,#f7f7f7)"></div><div style="height:3px;background:linear-gradient(90deg,#f3f5f6,#f3f5f6,#f4f6f6,#f5f6f7,#f7f6f6,#f9eee7,#f9ece5,#f9ece4,#fae8dd,#fae8de,#f9efe9,#f8f3f1,#f5f6f7,#e6eff4,#ddebf2,#dceaf2,#d0e4f0,#c1ddeb,#bad9e9,#a2cde2,#99c9e0,#a0cce2,#9ccae1,#81bad8,#83bcd9,#8ec3dd,#76b3d5,#70afd2,#87beda,#75b3d4,#7ab6d6,#8bc0dc,#81bbd8,#82bbd9,#8fc3dd,#88beda,#69abd0,#77b4d5,#92c5de,#96c7df,#9dcae1,#97c7df,#81bad8,#9bcae1,#acd2e5,#a9d1e5,#b2d5e7,#c4deec,#c8e0ed,#cae1ee,#d6e7f1,#d7e8f1,#cce3ef,#d5e7f1,#e1ecf3,#ddebf2,#deebf2,#ebf1f5,#eff3f5)"></div><div style="height:3px;background:linear-gradient(90deg,#f4f6f6,#f4f5f6,#f3f5f6,#f4f6f6,#f7f7f7,#f8f2ef,#f8f1ec,#f8f1ec,#f8f0eb,#f8f2ee,#f7f7f7,#f1f4f6,#eaf1f5,#e0ecf3,#d8e8f1,#d2e6f0,#bfdceb,#abd2e5,#99c9e0,#7eb8d7,#6cadd1,#65a9cf,#5aa1cb,#4393c3,#408fc1,#408fc1,#3986bc,#3784bb,#3e8cc0,#3986bc,#3885bc,#3b89be,#3c89be,#3f8dc0,#4494c3,#4292c2,#3a87bd,#3e8cbf,#4e9ac7,#5aa2cb,#65a9cf,#64a8ce,#58a0ca,#6aacd0,#7ab6d6,#7fb9d8,#8dc2dc,#9fcbe2,#aad1e5,#b4d6e8,#c0dceb,#c5dfed,#c0dceb,#cae2ee,#d7e8f1,#d9e9f1,#ddebf2,#e5eef4,#e7eff4)"></div><div style="height:3px;background:linear-gradient(90deg,#f6f6f7,#f5f6f7,#f4f5f6,#f4f6f7,#f7f7f7,#f8f5f3,#f8f4f1,#f8f4f3,#f7f7f7,#f1f4f6,#ebf1f5,#e5eef4,#dfecf3,#d8e9f1,#d2e5f0,#c6dfed,#b3d6e7,#9ccae1,#82bbd8,#66a9cf,#559ec9,#4a97c5,#408fc1,#3581ba,#2d76b4,#276eb0,#2166ac,#2166ac,#256baf,#2368ad,#2267ad,#246aae,#286fb1,#2e77b5,#347fb9,#3580b9,#327cb7,#3580b9,#3b89be,#4190c2,#4997c5,#4c99c6,#4997c5,#539dc9,#5da3cc,#64a8ce,#72b1d3,#88bfdb,#9ac9e0,#a4cee3,#a9d1e4,#a7d0e4,#a5cfe4,#b2d5e7,#c6dfed,#d4e6f0,#dbeaf2,#dfecf3,#dfecf3)"></div><div style="height:3px;background:linear-gradient(90deg,#f7f6f6,#f7f7f7,#f5f6f7,#f6f6f7,#f7f7f6,#f7f6f5,#f7f6f5,#f6f6f7,#eff3f6,#e7eff4,#deebf2,#d8e8f1,#d2e5f0,#cae1ee,#c1ddeb,#b6d7e8,#a5cfe3,#8ec2dd,#70b0d2,#579fca,#4896c5,#4190c2,#3a87bd,#2f78b5,#2368ad,#1b5b9c,#185494,#195696,#1c5c9e,#1c5c9e,#1b5b9d,#1d5ea1,#2166ac,#286fb1,#2e77b5,#317cb7,#327cb7,#347fb9,#3884bc,#3c8abe,#408fc1,#4291c2,#4292c2,#4796c4,#4d9ac7,#569fc9,#66a9cf,#7eb8d7,#95c6df,#9dcbe1,#97c8df,#89bfdb,#82bbd9,#95c6df,#b2d5e7,#cfe4ef,#dceaf2,#ddebf2,#dbeaf2)"></div><div style="height:3px;background:linear-gradient(90deg,#f7f5f4,#f7f6f5,#f7f6f6,#f7f6f5,#f7f6f5,#f7f6f5,#f6f7f7,#f2f4f6,#eaf1f5,#e0ecf3,#d5e7f1,#c9e1ee,#bddbea,#b4d6e8,#acd2e6,#a4cee3,#98c8e0,#81bad8,#66a9cf,#4e9ac7,#4291c2,#3d8bbf,#3783bb,#2c74b3,#2064a9,#195696,#175392,#1a5899,#1d5fa2,#1e61a5,#1e61a5,#2063a8,#2369ae,#2970b1,#2e77b5,#317cb7,#337eb8,#3580b9,#3784bb,#3a87bd,#3c8abe,#3e8cbf,#3f8ec0,#4190c2,#4594c4,#509bc8,#64a8ce,#80bad8,#98c8e0,#9ecbe1,#8dc2dc,#70afd2,#63a7ce,#7ab6d6,#a4cee3,#cce2ef,#deebf2,#ddebf2,#d9e9f1)"></div><div style="height:3px;background:linear-gradient(90deg,#f8f4f2,#f8f4f2,#f8f4f2,#f8f3f1,#f8f4f1,#f7f5f3,#f7f7f7,#f0f4f6,#e7f0f4,#dceaf2,#d1e5f0,#c0ddeb,#b3d6e7,#a9d1e5,#a4cee3,#9fcce2,#96c7df,#82bbd9,#69abd0,#529cc8,#4393c3,#3d8bbf,#3682ba,#2b73b3,#2064a9,#195797,#175392,#195798,#1d5ea1,#2064a9,#2268ad,#256caf,#2971b1,#2d76b4,#307ab6,#337db8,#347fb9,#3581ba,#3884bb,#3a87bd,#3d8abf,#3f8dc0,#4190c1,#4494c3,#4e9ac7,#5ba2cb,#70b0d2,#8bc1dc,#9ecbe2,#a1cde2,#8cc1dc,#6cadd1,#5ea4cc,#75b3d4,#a2cde2,#cbe2ee,#dfebf2,#ddebf2,#d8e9f1)"></div><div style="height:3px;background:linear-gradient(90deg,#f8f3f0,#f8f3ef,#f8f1ed,#f8f1ec,#f8f1ed,#f8f3ef,#f7f6f5,#f2f5f6,#e9f0f4,#deebf2,#d2e6f0,#c3deec,#b7d8e9,#afd4e6,#abd2e5,#a9d0e4,#a1cde2,#92c5de,#79b5d5,#61a6cd,#4e9ac7,#4190c2,#3985bc,#2e77b4,#2267ad,#1a5999,#175290,#175290,#1a5898,#1e61a5,#246aae,#2b73b2,#2f79b6,#337db8,#3480b9,#3580b9,#3580b9,#3682ba,#3986bc,#3e8cbf,#4292c2,#4a97c5,#519cc8,#5aa1cb,#66a9cf,#75b3d4,#87beda,#99c9e0,#a4cee3,#a3cee3,#94c6df,#7db8d7,#74b2d4,#88bfdb,#aad1e5,#cbe2ee,#dceaf2,#dceaf2,#d8e8f1)"></div><div style="height:3px;background:linear-gradient(90deg,#f8f1ed,#f8f1ed,#f9efe9,#f9eee8,#f9efe9,#f8f1ec,#f8f4f2,#f5f6f7,#ecf2f5,#e2edf3,#d7e8f1,#cde3ef,#c1ddeb,#badaea,#b8d9e9,#b7d8e9,#b0d4e7,#a1cde2,#8ac0db,#70afd2,#5ca3cb,#4b98c6,#3e8dc0,#3580b9,#2b73b3,#2368ad,#1e61a5,#1d5fa2,#1f63a7,#256baf,#2c75b4,#337eb8,#3885bc,#3b89be,#3c8abe,#3b89be,#3a88bd,#3b89be,#408ec1,#4997c5,#569fca,#61a6cd,#6aacd0,#73b1d3,#7fb9d7,#8cc1dc,#98c8e0,#a2cde3,#a8d0e4,#a6cfe4,#9dcbe1,#93c5de,#91c4dd,#9ecbe1,#b4d6e8,#cce3ef,#d9e9f1,#dae9f2,#d9e9f1)"></div><div style="height:3px;background:linear-gradient(90deg,#f8f0eb,#f9efea,#f9ede6,#f9ece5,#f9ede6,#f9f0ea,#f8f3f0,#f6f7f7,#eff3f6,#e7eff4,#deebf2,#d6e7f1,#cde3ef,#c6dfed,#c4deec,#c3deec,#bddbea,#acd2e5,#96c7df,#7cb7d7,#69abd0,#5aa2cb,#4d99c6,#4190c2,#3b88bd,#3682ba,#337eb8,#337db8,#347fb9,#3784bb,#3c89be,#408fc1,#4594c4,#4a98c5,#4c99c6,#4b98c6,#4997c5,#4b98c6,#549ec9,#61a6cd,#6daed1,#77b4d5,#7fb9d7,#86beda,#8fc3dd,#97c8df,#9fcbe2,#a5cfe3,#a9d1e5,#aad1e5,#a6cfe4,#a1cde2,#a2cde3,#acd2e6,#bcdbea,#cde3ef,#d7e8f1,#d9e9f2,#d9e9f1)"></div><div style="height:3px;background:linear-gradient(90deg,#f9efea,#f9efe8,#f9ece4,#f9ece4,#f9ede6,#f9efea,#f8f3f0,#f7f7f6,#f2f5f6,#ecf2f5,#e6eff4,#deebf2,#d6e8f1,#d1e5f0,#cde3ef,#cae1ee,#c3deec,#b5d7e8,#a2cde3,#90c4dd,#7eb9d7,#71b0d3,#67aacf,#5ca3cc,#539dc9,#4d99c6,#4b98c6,#4c99c6,#4e9ac7,#519cc8,#539dc8,#579fca,#5ca3cc,#61a6cd,#65a8cf,#65a8cf,#64a8ce,#65a9cf,#6bacd1,#73b2d4,#7db7d7,#84bcd9,#8ac0db,#90c4dd,#95c7df,#9ac9e0,#9fcce2,#a4cee3,#a9d0e4,#abd2e5,#abd2e5,#acd2e5,#aed3e6,#b5d7e8,#bfdceb,#cbe2ee,#d3e6f0,#d8e8f1,#d8e8f1)"></div><div style="height:3px;background:linear-gradient(90deg,#f9f0ea,#f9efe9,#f9ece4,#f9ece4,#f9ede6,#f9efea,#f8f3ef,#f7f6f5,#f5f6f7,#f2f4f6,#edf2f5,#e6eff4,#deebf2,#d8e8f1,#d3e6f0,#cee4ef,#c8e0ed,#bedceb,#b3d6e7,#a7d0e4,#9bcae1,#90c4dd,#83bcd9,#77b4d5,#6eaed2,#68aad0,#67aacf,#68abd0,#6aabd0,#6aabd0,#69abd0,#6aacd0,#6fafd2,#75b2d4,#79b5d5,#7ab6d6,#7ab6d6,#7ab6d6,#7bb7d6,#7eb9d7,#83bbd9,#88bfdb,#8dc2dc,#92c5de,#97c7df,#9bc9e0,#9fcbe2,#a3cee3,#a7d0e4,#abd2e5,#aed3e6,#b1d5e7,#b5d7e8,#b9d9e9,#bedbeb,#c5dfec,#cde3ef,#d5e7f1,#d7e8f1)"></div><div style="height:3px;background:linear-gradient(90deg,#f9efea,#f9eee8,#f9ece4,#f9ece4,#f9ede5,#f9efe9,#f8f1ed,#f8f3f1,#f7f5f4,#f6f7f7,#f2f5f6,#ecf2f5,#e5eff4,#deebf2,#d9e9f1,#d5e7f1,#d1e5f0,#cce2ef,#c6dfed,#bedceb,#b4d6e8,#a8d0e4,#9dcae1,#93c5de,#8ac0db,#84bcd9,#82bbd9,#82bbd9,#83bbd9,#82bbd9,#82bbd8,#83bbd9,#86beda,#8bc1dc,#8fc3dd,#91c5de,#91c4de,#8fc3dd,#8dc2dc,#8ac0db,#8ac0db,#8dc2dc,#92c5de,#96c7df,#9ac9e0,#9dcbe1,#a1cce2,#a4cee3,#a7d0e4,#abd2e5,#afd4e6,#b3d6e7,#b6d7e8,#b9d9e9,#bcdaea,#c0dceb,#c7e0ed,#d2e5f0,#d4e6f1)"></div><div style="height:3px;background:linear-gradient(90deg,#f9eee7,#f9ede6,#f9ece4,#faebe3,#f9ece4,#f9ede5,#f9eee8,#f9f0eb,#f8f2ee,#f8f4f2,#f7f7f7,#f1f4f6,#ebf1f5,#e5eef4,#e1ecf3,#deebf2,#dceaf2,#dae9f2,#d7e8f1,#d3e6f0,#c9e1ee,#bddbea,#b2d5e7,#abd2e5,#a6cfe4,#a3cee3,#a1cde2,#a0cce2,#9fcce2,#9fcbe2,#9fcbe2,#a0cce2,#a2cde2,#a4cee3,#a6cfe4,#a7d0e4,#a7d0e4,#a5cfe4,#a2cde2,#9dcbe1,#9bc9e0,#9bcae1,#9ecbe2,#a2cde3,#a5cfe3,#a8d0e4,#aad1e5,#acd2e5,#afd4e6,#b1d5e7,#b4d6e8,#b6d7e8,#b9d9e9,#bcdaea,#bfdceb,#c3deec,#c9e1ee,#d1e5f0,#d2e6f0)"></div><div style="height:3px;background:linear-gradient(90deg,#f9ede5,#f9ece5,#faebe3,#faeae1,#faeae0,#faeae0,#faeae1,#faebe3,#f9ede5,#f9efe9,#f8f2ef,#f7f7f6,#f2f4f6,#ecf2f5,#e9f0f4,#e7eff4,#e6eff4,#e6eff4,#e5eff4,#e2edf3,#dceaf2,#d4e6f1,#cbe2ee,#c5dfec,#c2ddec,#c0ddeb,#bfdceb,#bcdbea,#badaea,#b9d9e9,#b9d9e9,#b9d9e9,#bbdaea,#bddbea,#c0dceb,#c1ddec,#c2ddec,#c1ddeb,#bddbea,#bad9e9,#b7d8e9,#b7d8e9,#b9d9e9,#bbdaea,#bddbea,#bedceb,#c0dceb,#c1ddec,#c3deec,#c5dfed,#c6e0ed,#c8e0ed,#cae1ee,#cde3ef,#d1e5f0,#d3e6f0,#d6e7f1,#d8e8f1,#d9e9f1)"></div><div style="height:3px;background:linear-gradient(90deg,#f9ede5,#f9ece5,#faeae1,#fae9de,#fae7dc,#fbe6da,#fbe6d9,#fbe6da,#fae7db,#fae9df,#f9ece4,#f9f0eb,#f8f4f2,#f5f6f7,#f1f4f6,#eef3f5,#eff3f5,#f2f4f6,#f4f6f7,#f4f6f6,#eef3f5,#e5eff4,#ddebf2,#d9e9f1,#d7e8f1,#d7e8f1,#d6e7f1,#d5e7f1,#d3e6f0,#d1e5f0,#d0e4f0,#cfe4f0,#d2e5f0,#d4e6f1,#d6e7f1,#d8e8f1,#d9e9f1,#d9e9f1,#d9e9f1,#d8e8f1,#d8e8f1,#d8e8f1,#d8e8f1,#d8e8f1,#d8e9f1,#d9e9f1,#d9e9f1,#dae9f2,#dbeaf2,#dceaf2,#ddebf2,#deebf2,#dfecf3,#e1edf3,#e3eef3,#e5eff4,#e7eff4,#e7eff4,#e7eff4)"></div><div style="height:3px;background:linear-gradient(90deg,#f9ede6,#f9ede5,#faeae0,#fae7dc,#fbe5d8,#fbe3d5,#fce2d3,#fce2d2,#fbe2d3,#fbe3d6,#fbe6da,#faeae0,#f9eee7,#f8f2ef,#f7f6f5,#f6f6f7,#f6f7f7,#f8f4f2,#f9f0eb,#f9efe9,#f8f3f0,#f3f5f6,#eaf1f5,#e5eff4,#e4eef3,#e4eef3,#e3eef3,#e2edf3,#e1ecf3,#dfecf3,#deebf2,#ddebf2,#dfecf3,#e1edf3,#e4eef3,#e5eff4,#e7eff4,#e7eff4,#e7eff4,#e7eff4,#e6eff4,#e6eff4,#e6eff4,#e6eff4,#e6eff4,#e6eff4,#e6eff4,#e7eff4,#e8f0f4,#eaf1f5,#ebf1f5,#ecf2f5,#edf2f5,#f0f4f6,#f2f5f6,#f5f6f7,#f6f7f7,#f5f6f7,#f5f6f7)"></div><div style="height:3px;background:linear-gradient(90deg,#f9eee8,#f9ede6,#fae9e0,#fbe6da,#fbe3d5,#fce1d2,#fce0cf,#fcdfce,#fcdfce,#fce0d0,#fce2d3,#fbe5d8,#fae9df,#f9ede6,#f8f1ec,#f8f3f0,#f8f3f0,#f9f0eb,#f9ece4,#faebe2,#f9efe9,#f7f6f4,#f1f4f6,#edf2f5,#ecf2f5,#ecf2f5,#ecf2f5,#eaf1f5,#e9f0f4,#e8f0f4,#e8f0f4,#e8f0f4,#e9f0f4,#eaf1f5,#ebf1f5,#ecf2f5,#edf2f5,#ecf2f5,#ebf1f5,#e9f0f4,#e8f0f4,#e7eff4,#e7f0f4,#e8f0f4,#e8f0f4,#e7f0f4,#e8f0f4,#e9f0f4,#eaf1f5,#ebf1f5,#ecf2f5,#edf2f5,#eff3f5,#f2f5f6,#f6f6f7,#f7f5f4,#f8f4f2,#f8f4f1,#f8f4f2)"></div><div style="height:3px;background:linear-gradient(90deg,#f8f1ec,#f9efea,#faebe2,#fbe7db,#fbe3d5,#fce1d0,#fcdfcd,#fcdecc,#fcdecb,#fcdecd,#fce0cf,#fbe2d4,#fbe6d9,#fae9e0,#f9eee7,#f8f1ed,#f8f2ef,#f8f1ed,#f9f0eb,#f9f0eb,#f8f3f1,#f5f6f7,#eef3f5,#ecf2f5,#ebf1f5,#ebf1f5,#eaf1f5,#e9f0f4,#e7f0f4,#e7eff4,#e7eff4,#e7eff4,#e7eff4,#e6eff4,#e6eff4,#e6eff4,#e6eff4,#e5eff4,#e3eef3,#e0ecf3,#deebf2,#deebf2,#deebf2,#deebf2,#deebf2,#deebf2,#deebf2,#dfecf3,#e0ecf3,#e1edf3,#e2edf3,#e3edf3,#e4eef4,#e7eff4,#eaf1f5,#edf2f5,#f0f4f6,#f1f4f6,#f1f4f6)"></div><div style="height:3px;background:linear-gradient(90deg,#f8f4f2,#f8f3f0,#f9ede6,#fae8de,#fbe4d7,#fce1d1,#fcdfcd,#fcdecb,#fdddcb,#fcdecc,#fce0cf,#fce2d3,#fbe5d8,#fae9df,#f9eee7,#f8f2ef,#f7f6f5,#f5f6f7,#f3f5f6,#f1f4f6,#edf2f5,#e9f0f4,#e6eff4,#e4eef3,#e2edf3,#e1edf3,#dfecf3,#ddebf2,#dceaf2,#dbeaf2,#dae9f2,#dae9f2,#d9e9f2,#d8e9f1,#d7e8f1,#d7e8f1,#d6e7f1,#d5e7f1,#d3e6f0,#d2e5f0,#d0e5f0,#cfe4ef,#cde3ef,#cde3ef,#cce2ef,#cce2ee,#cce3ef,#cee3ef,#d0e4f0,#d1e5f0,#d2e5f0,#d2e5f0,#d2e6f0,#d3e6f0,#d4e6f1,#d5e7f1,#d7e8f1,#dae9f2,#dbeaf2)"></div><div style="height:3px;background:linear-gradient(90deg,#f5f6f7,#f7f7f7,#f8f1ed,#f9ebe3,#fbe7db,#fbe3d4,#fce0d0,#fcdecd,#fcdecd,#fcdfce,#fce1d2,#fbe4d7,#fae8dd,#f9ece4,#f8f1ec,#f7f6f5,#f2f5f6,#edf2f5,#e9f0f4,#e6eff4,#e3edf3,#e0ecf3,#deebf2,#dbeaf2,#d9e9f1,#d7e8f1,#d5e7f1,#d3e6f0,#d2e5f0,#d0e4f0,#cee3ef,#cce3ef,#cbe2ee,#c9e1ee,#c7e0ed,#c6dfed,#c5dfec,#c3deec,#c2ddec,#c0dceb,#bedceb,#bddbea,#bbdaea,#bad9e9,#b9d9e9,#b9d9e9,#bad9e9,#bcdaea,#bddbea,#bfdceb,#bfdceb,#bfdceb,#bedbeb,#bddbea,#bcdaea,#bcdbea,#bfdceb,#c4deec,#c6dfed)"></div><div style="height:3px;background:linear-gradient(90deg,#eff3f6,#f1f4f6,#f7f5f4,#f9f0ea,#faeae1,#fbe6da,#fbe3d4,#fce1d1,#fce1d1,#fbe2d3,#fbe5d8,#fae8de,#f9ede5,#f8f1ed,#f7f6f5,#f3f5f6,#edf2f5,#eaf1f5,#e7eff4,#e5eef4,#e2edf3,#deebf2,#dbeaf2,#d8e8f1,#d5e7f1,#d3e6f0,#d1e5f0,#cfe4ef,#cee3ef,#cce2ef,#cae2ee,#c8e1ed,#c6dfed,#c4deec,#c3deec,#c3deec,#c3deec,#c2ddec,#c0dceb,#bddbea,#bad9e9,#b8d9e9,#b8d8e9,#b8d8e9,#b8d8e9,#b9d9e9,#bbdaea,#bcdbea,#bedbeb,#bfdceb,#bedceb,#bddbea,#bcdaea,#bbdaea,#bad9e9,#bbdaea,#bddbea,#c0ddeb,#c2ddec)"></div><div style="height:3px;background:linear-gradient(90deg,#ecf2f5,#edf2f5,#f4f5f6,#f8f4f2,#f9efe9,#faeae1,#fbe7db,#fbe5d8,#fbe5d8,#fae7db,#faeae0,#f9eee7,#f8f2ee,#f7f6f5,#f3f5f6,#eff3f6,#ecf2f5,#ebf1f5,#eaf1f5,#e8f0f4,#e5eff4,#e2edf3,#deebf2,#dae9f2,#d8e8f1,#d6e7f1,#d5e7f1,#d4e6f1,#d3e6f0,#d3e6f0,#d2e5f0,#d1e5f0,#d0e4f0,#cee4ef,#cde3ef,#cde3ef,#cee3ef,#cde3ef,#cae2ee,#c7e0ed,#c5dfec,#c4deec,#c5dfec,#c6dfed,#c8e0ed,#c9e1ee,#cbe2ee,#cde3ef,#cfe4f0,#d0e5f0,#cfe4ef,#cde3ef,#cbe2ee,#cae1ee,#cae1ee,#cae2ee,#cce2ee,#cde3ef,#cee3ef)"></div><div style="height:3px;background:linear-gradient(90deg,#ebf1f5,#ecf2f5,#f0f4f6,#f6f7f7,#f8f3f0,#f9efe9,#f9ece3,#faeae1,#faeae1,#f9ece5,#f9efea,#f8f2ef,#f7f6f5,#f5f6f7,#f1f4f6,#eff3f6,#eef3f5,#eef3f5,#eef3f5,#edf2f5,#ebf1f5,#e8f0f4,#e4eef4,#e2edf3,#e1ecf3,#e0ecf3,#deebf2,#ddebf2,#dceaf2,#dceaf2,#dceaf2,#dceaf2,#dbeaf2,#dbeaf2,#dbeaf2,#dae9f2,#d9e9f2,#d8e8f1,#d7e8f1,#d7e8f1,#d6e8f1,#d7e8f1,#d8e8f1,#d9e9f2,#dbeaf2,#dceaf2,#ddebf2,#dfebf3,#e0ecf3,#e1ecf3,#e0ecf3,#dfebf2,#ddebf2,#dceaf2,#dbeaf2,#dae9f2,#dae9f2,#dbeaf2,#dbeaf2)"></div><div style="height:3px;background:linear-gradient(90deg,#eff3f5,#eff3f6,#f2f4f6,#f6f6f7,#f7f5f3,#f8f2ee,#f9f0ea,#f9efe8,#f9efe9,#f8f1ec,#f8f3f0,#f7f6f5,#f6f7f7,#f4f5f6,#f2f5f6,#f1f4f6,#f1f4f6,#f2f5f6,#f2f5f6,#f2f4f6,#f0f4f6,#eef3f5,#ecf2f5,#ebf1f5,#eaf1f5,#e9f1f4,#e8f0f4,#e7eff4,#e6eff4,#e6eff4,#e6eff4,#e6eff4,#e7eff4,#e7eff4,#e7eff4,#e6eff4,#e4eef4,#e3eef3,#e3edf3,#e3eef3,#e4eef3,#e5eef4,#e6eff4,#e7eff4,#e8f0f4,#e9f0f4,#eaf1f5,#ebf1f5,#ecf2f5,#edf2f5,#edf2f5,#ecf2f5,#eaf1f5,#e9f0f4,#e8f0f4,#e7eff4,#e6eff4,#e6eff4,#e7eff4)"></div><div style="height:3px;background:linear-gradient(90deg,#f5f6f7,#f6f6f7,#f7f7f7,#f7f5f4,#f8f4f1,#f8f2ef,#f8f2ee,#f8f1ed,#f8f2ee,#f8f3f0,#f7f5f3,#f7f6f6,#f6f7f7,#f5f6f7,#f4f6f7,#f4f6f7,#f5f6f7,#f5f6f7,#f5f6f7,#f5f6f7,#f5f6f7,#f4f6f6,#f3f5f6,#f2f5f6,#f1f4f6,#f0f4f6,#eff3f6,#eff3f6,#eff3f5,#eff3f5,#eff3f5,#eff3f6,#eff3f6,#eff3f6,#eff3f6,#eff3f5,#eef3f5,#eef3f5,#edf2f5,#eef3f5,#eef3f5,#eff3f5,#eff3f6,#f0f4f6,#f0f4f6,#f0f4f6,#f1f4f6,#f1f4f6,#f2f5f6,#f2f5f6,#f2f5f6,#f2f4f6,#f1f4f6,#f0f4f6,#f0f4f6,#eff3f6,#eff3f6,#eff3f6,#eff3f6)"></div><div style="height:3px;background:linear-gradient(90deg,#f8f2ef,#f8f2ef,#f8f1ed,#f8f1ec,#f8f1ec,#f8f1ed,#f8f1ed,#f8f2ee,#f8f3ef,#f8f3f1,#f8f4f2,#f7f5f3,#f7f5f4,#f7f6f5,#f7f6f5,#f7f6f5,#f7f6f5,#f7f6f5,#f7f6f5,#f7f6f5,#f7f6f5,#f7f5f4,#f7f5f4,#f7f6f5,#f7f7f7,#f6f6f7,#f5f6f7,#f6f6f7,#f6f7f7,#f7f7f7,#f6f7f7,#f6f7f7,#f6f7f7,#f6f6f7,#f6f7f7,#f6f7f7,#f7f7f7,#f7f7f7,#f7f7f7,#f7f7f7,#f6f7f7,#f6f7f7,#f6f6f7,#f6f6f7,#f5f6f7,#f5f6f7,#f5f6f7,#f5f6f7,#f4f6f7,#f4f6f7,#f4f6f7,#f5f6f7,#f5f6f7,#f5f6f7,#f6f6f7,#f6f6f7,#f6f7f7,#f6f7f7,#f6f7f7)"></div><div style="height:3px;background:linear-gradient(90deg,#f9ede6,#f9ede6,#f9ece5,#f9ede5,#f9ede7,#f9eee8,#f9f0ea,#f8f0ec,#f8f1ec,#f8f1ed,#f8f1ed,#f8f1ed,#f8f2ee,#f8f2ee,#f8f2ee,#f8f2ee,#f8f2ee,#f8f2ef,#f8f3ef,#f8f2ef,#f8f2ee,#f8f1ed,#f8f1ec,#f8f2ee,#f8f3f0,#f8f3f1,#f8f3f1,#f8f3f0,#f8f2ee,#f8f2ee,#f8f2ee,#f8f2ef,#f8f3f0,#f8f3f0,#f8f3f0,#f8f2ef,#f8f1ed,#f8f1ed,#f8f1ed,#f8f1ed,#f8f2ee,#f8f3ef,#f8f3f0,#f8f4f1,#f8f4f2,#f8f4f2,#f7f5f3,#f7f5f4,#f7f6f5,#f7f6f5,#f7f6f5,#f7f6f4,#f7f5f3,#f8f4f2,#f8f4f1,#f8f3f0,#f8f3f0,#f8f3ef,#f8f3f0)"></div><div style="height:3px;background:linear-gradient(90deg,#faebe2,#faeae1,#faeae1,#faeae2,#faebe2,#f9ebe3,#f9ece4,#f9ece5,#f9ece5,#f9ece5,#f9ece5,#f9ece5,#f9ece5,#f9ece5,#f9ece5,#f9ece5,#f9ede5,#f9ede5,#f9ede5,#f9ede5,#f9ece5,#f9ece4,#f9ece4,#f9ece5,#f9ede5,#f9ede6,#f9ede6,#f9ede5,#f9ece5,#f9ece5,#f9ece5,#f9ede5,#f9ede5,#f9ede6,#f9ede5,#f9ece5,#f9ece4,#f9ece4,#f9ece4,#f9ece4,#f9ece5,#f9ede5,#f9ede6,#f9ede6,#f9ede6,#f9ede7,#f9eee7,#f9eee8,#f9eee8,#f9eee8,#f9eee8,#f9eee8,#f9eee7,#f9ede7,#f9ede6,#f9ede6,#f9ede5,#f9ede5,#f9ede5)"></div><div style="height:3px;background:linear-gradient(90deg,#faeae2,#faeae2,#faeae2,#faeae2,#faeae2,#faeae2,#faeae2,#faeae2,#faeae2,#faeae2,#faeae2,#faeae2,#faeae2,#faeae2,#faeae2,#faeae2,#faeae2,#faeae2,#faeae2,#faeae2,#faeae2,#faeae2,#faeae2,#faeae2,#faeae2,#faeae2,#faeae2,#faeae2,#faeae2,#faeae2,#faeae2,#faeae2,#faeae2,#faeae2,#faeae2,#faeae2,#faeae2,#faeae2,#faeae2,#faeae2,#faeae2,#faeae2,#faeae2,#faeae2,#faeae2,#faeae2,#faeae2,#faeae2,#faeae2,#faeae2,#faeae2,#faeae2,#faeae2,#faeae2,#faeae2,#faeae2,#faeae2,#faeae2,#faeae2)"></div></div></div><div style="position:absolute;left:82.2px;top:411.9px;width:54.3px;height:47.2px;overflow:hidden;clip-path:polygon(15.4px 2.5px,2.8px 9.6px,1.0px 16.6px,1.0px 28.9px,5.3px 37.3px,10.6px 42.3px,18.9px 45.4px,27.1px 46.2px,35.3px 45.4px,43.7px 42.3px,49.0px 37.3px,53.3px 28.9px,53.3px 16.6px,51.5px 9.6px,38.8px 2.5px,37.8px 4.1px,36.3px 3.3px,34.7px 2.5px,33.1px 1.9px,31.4px 1.5px,29.7px 1.2px,28.0px 1.0px,26.3px 1.0px,24.5px 1.2px,22.8px 1.5px,21.2px 1.9px,19.5px 2.5px,18.0px 3.3px,16.5px 4.1px);"><div style="position:absolute;left:-2.4px;top:-2.4px;width:60.0px;filter:blur(0.8px)"><div style="height:1.2px;background:linear-gradient(90deg,#f8bb9e,#f8bb9e,#f8bb9e,#f8bb9e,#f8bb9e,#f8bb9e,#f8bb9e,#f8bb9e,#f8bb9e,#f8bb9e,#f8bb9e,#f8bb9e,#f8bb9e,#f8bb9e,#f8bb9e,#f8bb9e,#f8bb9e,#f8ba9d,#f7ba9c,#f8ba9d,#f8bb9e,#f8bb9e,#f8bb9e,#f8bb9e,#f8bb9e,#f8bb9e,#f8bb9e,#f8bb9e,#f8bb9e,#f8bb9e,#f8bb9e)"></div><div style="height:1.2px;background:linear-gradient(90deg,#f8bb9e,#f8bb9e,#f8bb9e,#f8bb9e,#f8bb9e,#f8bb9e,#f8bb9e,#f8bb9e,#f8bb9e,#f8bb9e,#f8bb9d,#f8ba9d,#f8bb9e,#f8bb9d,#f8ba9d,#f8ba9d,#f8bb9e,#f7b99c,#f6b292,#f7b799,#f8bb9e,#f8bb9e,#f8bb9e,#f8bb9e,#f8bb9e,#f8bb9e,#f8bb9e,#f8bb9e,#f8bb9e,#f8bb9e,#f8bb9e)"></div><div style="height:1.2px;background:linear-gradient(90deg,#f8bb9e,#f8bb9e,#f8bb9e,#f8bb9e,#f8bb9e,#f8bb9e,#f8bb9e,#f8bb9e,#f8bb9e,#f8ba9d,#f8ba9d,#f8ba9d,#f8ba9d,#f8ba9d,#f7b99b,#f7b99c,#f8ba9d,#f7b597,#ef9a79,#f6ae8e,#f8bb9f,#f8bc9f,#f8bb9e,#f8bb9e,#f8bb9e,#f8bb9e,#f8bb9e,#f8bb9e,#f8bb9e,#f8bb9e,#f8bb9e)"></div><div style="height:1.2px;background:linear-gradient(90deg,#f8bb9e,#f8bb9e,#f8bb9e,#f8bb9e,#f8bb9e,#f8bb9e,#f8bb9e,#f8bb9e,#f8ba9d,#f7ba9d,#f7b99b,#f7b99b,#f7ba9d,#f7b99c,#f7b698,#f7b799,#f8ba9d,#f6b495,#e98d6f,#f5ab89,#f8bfa3,#f9c0a5,#f8bda0,#f8bb9e,#f8bb9e,#f8bb9e,#f8bb9e,#f8bb9e,#f8bb9e,#f8bb9e,#f8bb9e)"></div><div style="height:1.2px;background:linear-gradient(90deg,#f8bb9e,#f8bb9e,#f8bb9e,#f8bb9e,#f8bb9e,#f8bb9e,#f8ba9d,#f8ba9d,#f8ba9d,#f7b99c,#f7b799,#f7b799,#f7ba9d,#f8bca0,#f8bda0,#f8bca0,#f8bb9f,#f7b799,#f4a582,#f7b596,#fac7ae,#facab1,#f8c0a4,#f8bb9e,#f8ba9d,#f8bb9e,#f8bb9e,#f8bb9e,#f8bb9e,#f8bb9e,#f8bb9e)"></div><div style="height:1.2px;background:linear-gradient(90deg,#f8bb9e,#f8bb9e,#f8bb9e,#f8bb9e,#f8ba9d,#f8ba9d,#f8ba9d,#f7ba9d,#f7b99c,#f7b89b,#f7b697,#f7b698,#f8bb9e,#fac9b0,#fdddca,#fcd5bf,#f9c1a6,#f7ba9d,#f7b596,#f8bc9f,#fbcfb7,#fcd3bd,#f9c3a9,#f8bb9e,#f8ba9d,#f8bb9e,#f8bb9e,#f8bb9e,#f8bb9e,#f8bb9e,#f8bb9e)"></div><div style="height:1.2px;background:linear-gradient(90deg,#f8bb9e,#f8bb9e,#f8bb9e,#f8ba9d,#f8ba9d,#f8ba9d,#f8ba9d,#f7b89b,#f7b495,#f7b596,#f7b698,#f7b89a,#f8bea2,#fdddca,#f5f6f7,#faebe2,#fac9b0,#f8bb9f,#f7b698,#f7b89a,#fac9b0,#fbd1ba,#f9c1a6,#f7b99c,#f7ba9d,#f8ba9d,#f8bb9e,#f8bb9e,#f8bb9e,#f8bb9e,#f8bb9e)"></div><div style="height:1.2px;background:linear-gradient(90deg,#f8bb9e,#f8bb9e,#f8ba9d,#f8ba9d,#f7ba9d,#f7ba9d,#f8bc9f,#f7b89b,#f5ac8b,#f6ae8e,#f7b799,#f8bb9e,#f9c1a6,#fbe2d3,#e5eff4,#f8f0ec,#fbcdb6,#f8bfa3,#f6b293,#f5a987,#f6b090,#f8ba9d,#f7b799,#f7b698,#f7b99b,#f8ba9d,#f8bb9e,#f8bb9e,#f8bb9e,#f8bb9e,#f8bb9e)"></div><div style="height:1.2px;background:linear-gradient(90deg,#f8bb9e,#f8bb9e,#f8ba9d,#f7ba9d,#f7b99b,#f8ba9d,#f9c4a9,#f9c3a8,#f5a987,#f5a987,#f7b89b,#f8c0a4,#f9c6ac,#fcdecc,#f8f4f1,#fce2d2,#fac7ae,#fac7ad,#f5ad8c,#ea8e70,#e7866a,#ed9576,#f4a583,#f6b090,#f7b799,#f7ba9d,#f8bb9d,#f8bb9e,#f8bb9e,#f8bb9e,#f8bb9e)"></div><div style="height:1.2px;background:linear-gradient(90deg,#f8bb9e,#f8ba9d,#f8ba9d,#f7b99c,#f7b799,#f8bb9e,#fcd4bf,#fddbc7,#f6b394,#f5aa89,#f7ba9d,#fac8af,#fbd1bb,#fcd7c2,#fdd8c3,#f7b596,#f5aa88,#fac9b0,#f4a481,#dc6f58,#d25849,#da6a54,#ea8d6f,#f5a987,#f7b597,#f7ba9c,#f8ba9d,#f8bb9e,#f8bb9e,#f8bb9e,#f8bb9e)"></div><div style="height:1.2px;background:linear-gradient(90deg,#f8bb9e,#f8ba9d,#f7ba9c,#f7b89a,#f7b495,#f7b99b,#fcdecc,#fbe6da,#f8bea1,#f5ad8c,#f8bb9e,#fcd3bd,#fce2d2,#fddcc9,#f9c1a6,#eb9173,#e27b62,#f8bb9e,#ea8e70,#cd4e44,#bb2b34,#c7413e,#e0765e,#f2a17f,#f6b394,#f7b99c,#f8ba9d,#f8bb9e,#f8bb9e,#f8bb9e,#f8bb9e)"></div><div style="height:1.2px;background:linear-gradient(90deg,#f8bb9e,#f8ba9d,#f7b99c,#f7b697,#f6af8f,#f6af8f,#fcd2bc,#fcdecd,#f7b698,#f5aa88,#f7b99b,#fddbc7,#f9eee7,#fae7dc,#fbceb6,#f4a785,#eb8f71,#f5ad8d,#e17960,#bf3237,#9f1228,#b82330,#db6c56,#f09b7b,#f6b192,#f7b89b,#f8ba9d,#f8bb9e,#f8bb9e,#f8bb9e,#f8bb9e)"></div><div style="height:1.2px;background:linear-gradient(90deg,#f8bb9d,#f8ba9d,#f7b89b,#f6b394,#f5a886,#f19d7c,#f5ac8b,#f6b292,#f19e7d,#f4a582,#f7b697,#fdd9c4,#f8f2ee,#f8f3f0,#fce2d3,#facab1,#f8bca0,#f6ae8e,#df755d,#ba2833,#900d26,#b31b2c,#e0765e,#f09d7c,#f6b090,#f7b89a,#f7ba9d,#f8ba9d,#f8bb9e,#f8bb9e,#f8bb9e)"></div><div style="height:1.2px;background:linear-gradient(90deg,#f8ba9d,#f7ba9d,#f7b799,#f6b090,#f19f7d,#e7886c,#e37e64,#e0765e,#e48066,#f3a280,#f6b394,#fbceb6,#f9ece5,#f3f5f6,#f9eee8,#fcdfce,#fddbc7,#f8ba9d,#e47f65,#c03539,#a01228,#b92732,#e37e64,#f2a17f,#f6b191,#f7b698,#f7b99c,#f8ba9d,#f8bb9e,#f8bb9e,#f8bb9e)"></div><div style="height:1.2px;background:linear-gradient(90deg,#f8ba9d,#f7ba9c,#f7b698,#f5ad8c,#ed9676,#e17860,#d7634f,#cc4d44,#da6954,#f19f7d,#f6af8f,#f9c1a6,#fbe3d5,#f6f7f7,#f8f3f0,#faebe2,#f8f0eb,#fbceb7,#ec9374,#cf5347,#bc2c34,#c63f3d,#e27b62,#f4a582,#f6b192,#f6b495,#f7b89a,#f7ba9d,#f8ba9d,#f8bb9e,#f8bb9e)"></div><div style="height:1.2px;background:linear-gradient(90deg,#f8ba9d,#f7ba9c,#f7b698,#f5ab89,#eb9172,#dd7059,#ce4f45,#bf3237,#cf5246,#e98d6f,#f3a481,#f7b596,#fdd8c4,#f9ece5,#f9eee8,#f8f2ee,#ecf2f5,#fcdecc,#f5a987,#e0765e,#d3594a,#d6604d,#e48167,#f4a583,#f5ad8d,#f6ae8e,#f7b597,#f7b99c,#f8ba9d,#f8bb9e,#f8bb9e)"></div><div style="height:1.2px;background:linear-gradient(90deg,#f8bb9e,#f7ba9d,#f7b698,#f5aa89,#ee9677,#e27b62,#c7413e,#b6202f,#c33a3b,#da6954,#e98c6f,#f5ac8b,#fbcdb5,#fcdfce,#fbe6da,#f8f2ee,#f2f5f6,#fce2d3,#f8ba9d,#ef9a79,#e68469,#e48065,#e88a6d,#ef9979,#f19e7d,#f4a583,#f6b192,#f7b89b,#f8ba9d,#f8bb9e,#f8bb9e)"></div><div style="height:1.2px;background:linear-gradient(90deg,#f8bb9e,#f8ba9d,#f7b799,#f5ac8b,#f4a582,#ef9a79,#c8433f,#b51e2e,#bd2f36,#cc4c44,#e27c62,#f6b293,#fddac6,#fdd8c4,#fcdfcd,#f9efe9,#f8f3f0,#fbe3d5,#fac9b0,#f7b799,#f5ad8c,#ef9a7a,#ea8f71,#e6866a,#e7866a,#ee9878,#f5ad8d,#f7b799,#f8ba9d,#f8bb9e,#f8bb9e)"></div><div style="height:1.2px;background:linear-gradient(90deg,#f8bc9f,#f8bc9f,#f7b99b,#f6af8f,#f5a987,#f19e7d,#cf5246,#be3036,#c33b3b,#cf5247,#e6856a,#fcd3bc,#f8f3f0,#fce0cf,#fcd7c2,#f9ece3,#f9eee8,#fbe4d6,#fddac5,#fcd3bc,#fbcdb5,#f5ae8d,#ed9676,#e17a61,#df755d,#ea8f71,#f5ab89,#f7b798,#f7ba9d,#f8bb9e,#f8bb9e)"></div><div style="height:1.2px;background:linear-gradient(90deg,#f8bda1,#f8bea2,#f8bca0,#f7b596,#f4a785,#eb9172,#d76350,#cc4c43,#d15749,#dd7059,#f19f7d,#faeae1,#dae9f2,#faeae1,#fbd1ba,#fae9df,#fae9df,#fbe3d5,#fce1d2,#fce0cf,#fddbc7,#f7b799,#f19f7d,#e17a61,#de725b,#ea8d70,#f5aa89,#f7b798,#f7ba9d,#f8bb9e,#f8bb9e)"></div><div style="height:1.2px;background:linear-gradient(90deg,#f8c0a4,#f9c2a7,#f9c2a7,#f8bca0,#f6ae8e,#ee9777,#e17a61,#da6a55,#df755d,#eb9173,#f6ae8e,#f9ede5,#dbeaf2,#f9ece5,#fdd9c4,#fae8dd,#fbe4d6,#fcdfcd,#fcdfce,#fcdecc,#fcd4be,#f7b597,#f19f7e,#e48066,#e17a61,#ec9475,#f5ad8c,#f7b799,#f8ba9d,#f8bb9e,#f8bb9e)"></div><div style="height:1.2px;background:linear-gradient(90deg,#f9c3a9,#fac8af,#facab2,#fac6ad,#f7ba9c,#f5a987,#ec9374,#e68569,#ec9375,#f7b597,#f6b192,#fcddcb,#f8f2ef,#fbe3d5,#fcddcb,#fbe4d7,#fcdecc,#fcd7c1,#fcd6c0,#fbd2bb,#f9c3a9,#f4a684,#ea8e71,#e48065,#e7866a,#f19e7d,#f6b090,#f7b89a,#f8ba9d,#f8bb9e,#f8bb9e)"></div><div style="height:1.2px;background:linear-gradient(90deg,#fac9af,#fbd0b9,#fcd5c0,#fcd3bc,#f9c6ac,#f7b798,#f4a683,#ee9777,#f4a582,#f9c4aa,#f5ab89,#f8bca0,#fcd5bf,#fcd3bd,#fcd8c3,#fddcca,#fcd6c1,#fbcfb8,#faccb4,#f9c4a9,#f5ac8b,#e58368,#db6b56,#de735b,#e98c6f,#f4a684,#f6b495,#f7b99c,#f8ba9d,#f8bb9e,#f8bb9e)"></div><div style="height:1.2px;background:linear-gradient(90deg,#fbcfb8,#fddbc7,#fcdfce,#fcdecd,#fcd2bc,#f8bfa3,#f6ae8e,#f3a280,#f2a17f,#f5ac8b,#ee9777,#f2a07e,#f7b597,#f9c2a7,#fbccb4,#fbd1ba,#fbcfb7,#facab2,#f9c5ab,#f7b799,#ea8d70,#cf5347,#c2383a,#d15749,#e8896c,#f5aa88,#f7b698,#f7ba9c,#f8ba9d,#f8bb9e,#f8bb9e)"></div><div style="height:1.2px;background:linear-gradient(90deg,#fcd7c2,#fce1d2,#fae7dc,#fae7db,#fcdecb,#fac6ad,#f6b495,#f4a784,#ee9777,#ea8f71,#e58267,#e58267,#f2a17f,#f7b799,#f9c4a9,#facab1,#facab1,#fac7ad,#f9c0a5,#f7b596,#df745c,#b51e2e,#970f27,#be3037,#e37d63,#f5aa88,#f7b799,#f7ba9d,#f8bb9e,#f8bb9e,#f8bb9e)"></div><div style="height:1.2px;background:linear-gradient(90deg,#fdddca,#fae7dc,#f9efe9,#f9efe9,#fbe5d9,#fbd2bb,#f8ba9d,#f4a886,#eb9072,#e7876b,#e48066,#dc6f58,#ea8e70,#f6ae8e,#f9c2a7,#fac9af,#fac6ac,#f9c4a9,#f8bfa4,#f9c2a7,#dc6d57,#981027,#6b0120,#aa152a,#dd715a,#f5a886,#f7b799,#f8ba9d,#f8bb9e,#f8bb9e,#f8bb9e)"></div><div style="height:1.2px;background:linear-gradient(90deg,#fce0d0,#f9ece5,#f7f5f4,#f7f6f5,#f9ece4,#fddcc9,#f8c0a4,#f4a582,#e8886c,#ea8d70,#f3a27f,#dc6e58,#e47f65,#f5a886,#fbd0b9,#fcd4be,#f9c5ab,#f9c4aa,#f8c0a4,#f9c4a9,#dc6e58,#a71429,#6b0120,#a11228,#dc6e58,#f5a886,#f7b799,#f8ba9d,#f8bb9e,#f8bb9e,#f8bb9e)"></div><div style="height:1.2px;background:linear-gradient(90deg,#fce2d3,#f9efea,#f4f6f7,#f4f5f6,#f9f0ea,#fce0cf,#f9c0a5,#f09c7b,#e48065,#eb9072,#f7b799,#dd715a,#de735b,#f4a582,#fce0d0,#fce1d1,#fac9b0,#fbd0b9,#f9c4a9,#f6b495,#dd715a,#c03539,#900d26,#b41c2d,#e0775e,#f5aa89,#f7b89a,#f8ba9d,#f8bb9e,#f8bb9e,#f8bb9e)"></div><div style="height:1.2px;background:linear-gradient(90deg,#fce2d3,#f9efea,#f4f6f7,#f4f5f6,#f8f0eb,#fce0cf,#f8bb9e,#e98c6f,#df745d,#e0765e,#ed9676,#d96752,#d96752,#f09b7b,#fcdfce,#fbe6d9,#fcd7c1,#fce0cf,#fbccb4,#f5ad8c,#e27c63,#cf5146,#b92631,#c84440,#e8886c,#f6ae8e,#f7b89b,#f8ba9d,#f8bb9e,#f8bb9e,#f8bb9e)"></div><div style="height:1.2px;background:linear-gradient(90deg,#fce0d0,#f9ece5,#f7f5f4,#f7f6f5,#f9ede6,#fcdecc,#f7b596,#e48066,#da6a54,#cb4942,#d86651,#d45d4b,#d7624f,#eb9072,#fcd5bf,#f9efea,#fbe6da,#fce2d3,#faccb4,#f6af8e,#ea8e70,#da6a55,#d15749,#dd715a,#f09c7b,#f6b393,#f7b99c,#f8ba9d,#f8bb9e,#f8bb9e,#f8bb9e)"></div><div style="height:1.2px;background:linear-gradient(90deg,#fdddca,#fae8dc,#f9efea,#f9f0ea,#fae8de,#fddbc7,#f7b596,#e7866a,#dc6e57,#c43b3c,#d45c4b,#d55f4c,#da6a55,#eb8f71,#fcd6c0,#e7eff4,#f7f6f5,#fddbc6,#f9c2a7,#f6b090,#ee9677,#e58368,#e58368,#ed9576,#f5ab8a,#f7b698,#f7ba9d,#f8bb9d,#f8bb9e,#f8bb9e,#f8bb9e)"></div><div style="height:1.2px;background:linear-gradient(90deg,#fcd7c2,#fce1d2,#fae7dc,#fae8dd,#fce2d3,#fcd5bf,#f7b99c,#ef9a7a,#e6856a,#db6b56,#db6c56,#d86551,#df755d,#ed9676,#fdd8c3,#dfecf3,#f3f5f6,#fbd0b9,#f7b799,#f5aa88,#e6856a,#e98b6e,#f2a17f,#f5ab89,#f6b495,#f7b99b,#f8ba9d,#f8bb9e,#f8bb9e,#f8bb9e,#f8bb9e)"></div><div style="height:1.2px;background:linear-gradient(90deg,#fbcfb8,#fddbc7,#fce0cf,#fce0cf,#fddcc8,#fbceb6,#f8bca0,#f5aa88,#ef9a7a,#ed9475,#e48066,#dc6d57,#dc6d57,#ed9475,#facbb3,#f7f5f4,#f9ece4,#fac7ad,#f5a987,#ef9a7a,#d86450,#e68469,#f5ad8d,#f7b496,#f7b89a,#f7ba9d,#f8ba9d,#f8bb9e,#f8bb9e,#f8bb9e,#f8bb9e)"></div><div style="height:1.2px;background:linear-gradient(90deg,#fac9b0,#fbd1ba,#fcd7c1,#fcd7c2,#fbd1ba,#fac8ae,#f8bca0,#f6b090,#f4a683,#f3a27f,#eb9173,#df765e,#c8433f,#e6866a,#f8ba9d,#fddcc9,#fdd9c5,#f9c3a8,#f5a886,#ef9979,#d55e4c,#e7876b,#f6b394,#f7b99b,#f7ba9d,#f8ba9d,#f8bb9e,#f8bb9e,#f8bb9e,#f8bb9e,#f8bb9e)"></div><div style="height:1.2px;background:linear-gradient(90deg,#f9c3a9,#fac8af,#fbccb4,#fbccb4,#fac9b0,#f9c3a8,#f8bb9f,#f6b394,#f5ab8a,#f4a582,#f09c7b,#e68469,#c7423f,#e7876b,#f6b293,#f9c2a8,#fac7ae,#fac8af,#f8bfa3,#f6ae8e,#e68469,#f19e7c,#f7b799,#f8ba9d,#f8ba9d,#f8bb9e,#f8bb9e,#f8bb9e,#f8bb9e,#f8bb9e,#f8bb9e)"></div><div style="height:1.2px;background:linear-gradient(90deg,#f8c0a4,#f9c3a8,#f9c5ab,#f9c5ab,#f9c3a8,#f8bfa3,#f8bb9e,#f7b597,#f6af8f,#f5a987,#f3a381,#ef9979,#e37e64,#f19f7e,#f6b394,#f8bca0,#f9c3a8,#fbcdb5,#fbd0b8,#f8bfa4,#f5ac8b,#f6b292,#f7ba9d,#f8bb9e,#f8bb9e,#f8bb9e,#f8bb9e,#f8bb9e,#f8bb9e,#f8bb9e,#f8bb9e)"></div><div style="height:1.2px;background:linear-gradient(90deg,#f8bda1,#f8bfa3,#f9c0a5,#f9c0a5,#f8bfa3,#f8bda0,#f8ba9d,#f7b799,#f6b393,#f5ae8d,#f5aa88,#f4a785,#f4a683,#f6af8e,#f7b799,#f8bea1,#f9c3a8,#facbb3,#fbceb7,#f9c4a9,#f8ba9d,#f7ba9d,#f8bb9e,#f8bb9e,#f8bb9e,#f8bb9e,#f8bb9e,#f8bb9e,#f8bb9e,#f8bb9e,#f8bb9e)"></div><div style="height:1.2px;background:linear-gradient(90deg,#f8bc9f,#f8bda0,#f8bda1,#f8bda1,#f8bda0,#f8bc9f,#f8ba9d,#f7b89a,#f7b597,#f6b292,#f6af8f,#f5ae8d,#f6b090,#f7b597,#f8bb9e,#f9c0a5,#f9c3a9,#fac7ad,#fac8ae,#f9c2a7,#f8bda1,#f8bc9f,#f8bb9e,#f8bb9e,#f8bb9e,#f8bb9e,#f8bb9e,#f8bb9e,#f8bb9e,#f8bb9e,#f8bb9e)"></div><div style="height:1.2px;background:linear-gradient(90deg,#f8bb9e,#f8bc9f,#f8bc9f,#f8bc9f,#f8bc9f,#f8bb9e,#f8ba9d,#f7b99b,#f7b799,#f7b596,#f6b394,#f6b394,#f7b597,#f7ba9c,#f8bea2,#f9c2a7,#f9c4aa,#f9c5aa,#f9c3a9,#f8c0a4,#f8bda1,#f8bc9f,#f8bb9e,#f8bb9e,#f8bb9e,#f8bb9e,#f8bb9e,#f8bb9e,#f8bb9e,#f8bb9e,#f8bb9e)"></div><div style="height:1.2px;background:linear-gradient(90deg,#f8bb9e,#f8bb9e,#f8bb9e,#f8bb9e,#f8bb9e,#f8bb9e,#f8ba9d,#f7ba9c,#f7b89b,#f7b799,#f7b698,#f7b799,#f7b99c,#f8bda0,#f9c1a6,#f9c4a9,#f9c5aa,#f9c4a9,#f9c2a7,#f8bfa4,#f8bda1,#f8bc9f,#f8bb9e,#f8bb9e,#f8bb9e,#f8bb9e,#f8bb9e,#f8bb9e,#f8bb9e,#f8bb9e,#f8bb9e)"></div><div style="height:1.2px;background:linear-gradient(90deg,#f8bb9e,#f8bb9e,#f8bb9e,#f8bb9e,#f8bb9e,#f8bb9e,#f8ba9d,#f8ba9d,#f7b99c,#f7b99b,#f7b99b,#f7ba9c,#f8bc9f,#f8bfa3,#f9c2a7,#f9c4aa,#f9c4aa,#f9c3a9,#f9c1a6,#f8bfa3,#f8bda1,#f8bc9f,#f8bb9e,#f8bb9e,#f8bb9e,#f8bb9e,#f8bb9e,#f8bb9e,#f8bb9e,#f8bb9e,#f8bb9e)"></div><div style="height:1.2px;background:linear-gradient(90deg,#f8bb9e,#f8bb9e,#f8bb9e,#f8bb9e,#f8bb9e,#f8bb9e,#f8ba9d,#f8ba9d,#f8ba9d,#f8ba9d,#f8ba9d,#f8bb9f,#f8bea1,#f9c0a5,#f9c3a8,#f9c4aa,#f9c4a9,#f9c3a8,#f9c1a5,#f8bea3,#f8bda0,#f8bc9f,#f8bb9e,#f8bb9e,#f8bb9e,#f8bb9e,#f8bb9e,#f8bb9e,#f8bb9e,#f8bb9e,#f8bb9e)"></div><div style="height:1.2px;background:linear-gradient(90deg,#f8bb9e,#f8bb9e,#f8bb9e,#f8bb9e,#f8bb9e,#f8bb9e,#f8bb9e,#f8bb9e,#f8bb9d,#f8bb9e,#f8bb9e,#f8bca0,#f8bea2,#f9c0a5,#f9c2a7,#f9c3a9,#f9c3a8,#f9c2a7,#f8c0a4,#f8bea2,#f8bda0,#f8bc9f,#f8bb9e,#f8bb9e,#f8bb9e,#f8bb9e,#f8bb9e,#f8bb9e,#f8bb9e,#f8bb9e,#f8bb9e)"></div><div style="height:1.2px;background:linear-gradient(90deg,#f8bb9e,#f8bb9e,#f8bb9e,#f8bb9e,#f8bb9e,#f8bb9e,#f8bb9e,#f8bb9e,#f8bb9e,#f8bb9e,#f8bc9f,#f8bda0,#f8bea2,#f9c0a5,#f9c1a6,#f9c2a7,#f9c2a7,#f9c0a5,#f8bfa3,#f8bda1,#f8bca0,#f8bb9f,#f8bb9e,#f8bb9e,#f8bb9e,#f8bb9e,#f8bb9e,#f8bb9e,#f8bb9e,#f8bb9e,#f8bb9e)"></div></div></div><div style="position:absolute;left:229.7px;top:411.9px;width:54.3px;height:47.2px;overflow:hidden;clip-path:polygon(15.4px 2.5px,2.8px 9.6px,1.0px 16.6px,1.0px 28.9px,5.3px 37.3px,10.6px 42.3px,18.9px 45.4px,27.1px 46.2px,35.3px 45.4px,43.7px 42.3px,49.0px 37.3px,53.3px 28.9px,53.3px 16.6px,51.5px 9.6px,38.8px 2.5px,37.8px 4.1px,36.3px 3.3px,34.7px 2.5px,33.1px 1.9px,31.4px 1.5px,29.7px 1.2px,28.0px 1.0px,26.3px 1.0px,24.5px 1.2px,22.8px 1.5px,21.2px 1.9px,19.5px 2.5px,18.0px 3.3px,16.5px 4.1px);"><div style="position:absolute;left:-2.4px;top:-2.4px;width:60.0px;filter:blur(0.8px)"><div style="height:1.2px;background:linear-gradient(90deg,#fcdecc,#fcdecb,#fcddcb,#fdddcb,#fdddca,#fdddca,#fdddca,#fdddca,#fdddca,#fdddca,#fdddca,#fdddca,#fdddcb,#fcdecb,#fcdecb,#fcdecc,#fcdecc,#fcdecc,#fcdecc,#fcdecc,#fcdecc,#fcdecc,#fcdecc,#fcdecc,#fcdecc,#fcdecc,#fcdecc,#fcdecc,#fcdecc,#fcdecc,#fcdecc)"></div><div style="height:1.2px;background:linear-gradient(90deg,#fcdecb,#fcddcb,#fdddcb,#fdddca,#fddcca,#fddcc9,#fddcc9,#fddcc9,#fddcc9,#fddcc9,#fddcc9,#fdddca,#fdddcb,#fcdecc,#fcdecc,#fcdecc,#fce0cf,#fce0cf,#fcdecc,#fcdecc,#fcdecc,#fcdecc,#fcdecc,#fcdecc,#fcdecc,#fcdecc,#fcdecc,#fcdecc,#fcdecc,#fcdecc,#fcdecc)"></div><div style="height:1.2px;background:linear-gradient(90deg,#fcddcb,#fdddcb,#fdddca,#fddcc9,#fddcc8,#fddbc8,#fddbc7,#fddbc7,#fddbc7,#fddbc7,#fddbc7,#fddbc8,#fdddcb,#fcdecc,#fcdecc,#fcdfcd,#fbe4d7,#fbe4d6,#fcdfcd,#fcdecc,#fcdecc,#fcdecc,#fcdecc,#fcdecc,#fcdecc,#fcdecc,#fcdecc,#fcdecc,#fcdecc,#fcdecc,#fcdecc)"></div><div style="height:1.2px;background:linear-gradient(90deg,#fdddcb,#fdddca,#fddcc9,#fddbc7,#fddac6,#fdd9c4,#fdd8c4,#fcd8c3,#fdd8c3,#fcd8c3,#fcd6c1,#fdd8c4,#fdddcb,#fcdfce,#fcdecc,#fcdfce,#fae9de,#fae8dd,#fcdfce,#fcdecc,#fcdecc,#fcdecc,#fcdecc,#fcdecc,#fcdecc,#fcdecc,#fcdecc,#fcdecc,#fcdecc,#fcdecc,#fcdecc)"></div><div style="height:1.2px;background:linear-gradient(90deg,#fdddca,#fddcc9,#fddbc7,#fdd9c4,#fcd7c2,#fcd5c0,#fcd4be,#fcd3bd,#fcd3bd,#fcd2bc,#fbd1ba,#fcd4be,#fdddca,#fcdfce,#fcdfcd,#fcdfcf,#fae7db,#fbe6da,#fcdfce,#fcdecc,#fcddcb,#fdddcb,#fcddcb,#fcdecc,#fcdecc,#fcdecc,#fcdecc,#fcdecc,#fcdecc,#fcdecc,#fcdecc)"></div><div style="height:1.2px;background:linear-gradient(90deg,#fddcc9,#fddbc7,#fdd9c4,#fcd5c0,#fcd3bc,#fbd0b9,#fbceb6,#faccb4,#facbb3,#facbb2,#fbccb4,#fcd2bc,#fddcc9,#fcdfcd,#fcdecd,#fcdfce,#fbe3d4,#fbe2d3,#fcdecd,#fdddcb,#fddcc9,#fddcc8,#fddcc9,#fdddcb,#fcdecc,#fcdecc,#fcdecc,#fcdecc,#fcdecc,#fcdecc,#fcdecc)"></div><div style="height:1.2px;background:linear-gradient(90deg,#fddcc8,#fdd9c5,#fcd5c0,#fbd1ba,#fbcdb5,#fac9b0,#f9c4a9,#f8bfa3,#f8bc9f,#f8bea2,#fac7ae,#fbd1ba,#fdd9c5,#fddcc9,#fcdecc,#fce0cf,#fce2d3,#fce1d1,#fdddcb,#fddcc8,#fcd7c2,#fcd4be,#fcd7c2,#fddcc8,#fcddcb,#fcdecc,#fcdecc,#fcdecc,#fcdecc,#fcdecc,#fcdecc)"></div><div style="height:1.2px;background:linear-gradient(90deg,#fddbc7,#fcd7c2,#fbd1bb,#facbb3,#f9c6ac,#f8bfa3,#f7b597,#f5ab89,#f3a280,#f5a987,#f8bea2,#fbcdb5,#fbd2bb,#fcd5bf,#fddcc9,#fce0d0,#fbe4d6,#fce1d1,#fcd8c3,#fcd6c0,#fbccb4,#f9c5ab,#fac8af,#fcd4be,#fddcca,#fcdecc,#fcdecc,#fcdecc,#fcdecc,#fcdecc,#fcdecc)"></div><div style="height:1.2px;background:linear-gradient(90deg,#fddac5,#fcd4be,#fbcdb5,#f9c5ab,#f8bda1,#f6b293,#f2a07f,#e7886b,#df755d,#e7876b,#f6b08f,#fac6ac,#f9c4aa,#fac6ad,#fddac6,#fce0d0,#fbe5d8,#fce0d0,#fbcfb7,#fbcdb5,#f8bea2,#f6b191,#f5ad8c,#f7b89b,#fcd5c0,#fcdecb,#fcdecc,#fcdecc,#fcdecc,#fcdecc,#fcdecc)"></div><div style="height:1.2px;background:linear-gradient(90deg,#fdd8c4,#fbd2bb,#fac9b0,#f8bfa4,#f7b496,#f3a481,#e58368,#d45d4c,#c63f3d,#d7624f,#f2a07e,#f8bfa3,#f7ba9c,#f8bda1,#fddcc9,#fce2d3,#fbe5d7,#fce0d0,#fbd0b9,#fac7ad,#f6b293,#f09c7b,#e8896c,#e47f65,#f9c4a9,#fdddcb,#fcdecc,#fcdecc,#fcdecc,#fcdecc,#fcdecc)"></div><div style="height:1.2px;background:linear-gradient(90deg,#fcd7c2,#fbcfb8,#f9c5ab,#f7ba9d,#f5ac8c,#ec9274,#d96752,#c03539,#aa152a,#c7413f,#ea8e71,#f7ba9d,#f8bfa4,#faccb3,#fbe5d9,#fbe6da,#fbe3d5,#fce1d1,#fdd8c3,#f9c6ac,#f5aa89,#ea8e70,#e37d63,#e0775e,#f9c1a6,#fdddcb,#fcdecc,#fcdecc,#fcdecc,#fcdecc,#fcdecc)"></div><div style="height:1.2px;background:linear-gradient(90deg,#fcd6c1,#fbcdb6,#f9c2a7,#f7b697,#f4a784,#e6866a,#d05447,#b41c2d,#910e26,#ba2732,#e48065,#f7b99c,#fdd9c5,#fbe5d8,#f7f5f4,#f9ede5,#fbe2d3,#fce0d0,#fdddcb,#fbcdb6,#f5ab8a,#e98b6e,#ea8e70,#f5ac8a,#fbd1bb,#fcddcb,#fcdecc,#fcdecc,#fcdecc,#fcdecc,#fcdecc)"></div><div style="height:1.2px;background:linear-gradient(90deg,#fcd6c0,#fbcdb5,#f9c1a6,#f6b495,#f3a481,#e58267,#d2594a,#b41b2d,#8e0c25,#b51f2e,#e17a61,#f8bb9e,#fbe5d8,#f8f3f0,#e8f0f4,#f8f0eb,#fce0cf,#fcdfcf,#fce2d3,#fcdfcf,#f8bda0,#f09b7a,#f4a785,#fac7ae,#fddbc7,#fcdecb,#fcdecc,#fcdecc,#fcdecc,#fcdecc,#fcdecc)"></div><div style="height:1.2px;background:linear-gradient(90deg,#fcd6c1,#fbcdb5,#f9c2a7,#f7b596,#f4a582,#e7866a,#da6853,#bd2e35,#a31329,#c03438,#e68469,#f8bb9e,#fce0d0,#f8f4f2,#e8f0f4,#faeae1,#fdd9c5,#fcdfcd,#fae8dd,#f9ede7,#fdd8c4,#f7b596,#f8bda1,#fcd4bf,#fdddca,#fcddcb,#fcdecc,#fcdecc,#fcdecc,#fcdecc,#fcdecc)"></div><div style="height:1.2px;background:linear-gradient(90deg,#fcd7c2,#fbcfb7,#f9c4aa,#f7b89a,#f5aa88,#eb9173,#de725b,#c94641,#bf3338,#d3594a,#ed9575,#f8bda1,#fdd8c4,#f9ece4,#f7f5f3,#fdddca,#facbb3,#fcddcb,#faeae1,#f8f2ee,#fce0cf,#fac7ae,#fbd1ba,#fcdfce,#fcdecd,#fdddca,#fdddcb,#fcdecc,#fcdecc,#fcdecc,#fcdecc)"></div><div style="height:1.2px;background:linear-gradient(90deg,#fdd8c4,#fbd1bb,#fac8af,#f8bda1,#f6b192,#f2a17f,#e7876b,#db6c56,#d7634f,#e0765e,#f09b7a,#f8bea2,#fcd5bf,#fbe4d6,#fbe6d9,#facbb2,#f9c3a8,#fdddcb,#faeae1,#faeae0,#fcd4be,#facab1,#fddcc9,#fbe7db,#fce0cf,#fddac6,#fddcc9,#fcdecb,#fcdecc,#fcdecc,#fcdecc)"></div><div style="height:1.2px;background:linear-gradient(90deg,#fddbc7,#fcd5c0,#fbceb6,#f9c5aa,#f8bb9e,#f6b08f,#f4a481,#ed9676,#e88a6d,#e27c63,#e6866a,#f7b89a,#fcd5bf,#fcdfce,#fcdfcd,#fac7ad,#f9c3a8,#fcdecc,#faebe2,#fbe2d3,#f8c0a4,#f9c1a6,#fdddcb,#fae8de,#fcdecc,#fcd4be,#fddac6,#fdddcb,#fcdecc,#fcdecc,#fcdecc)"></div><div style="height:1.2px;background:linear-gradient(90deg,#fddcc9,#fddac6,#fcd5bf,#fbceb6,#f9c5ab,#f8bca0,#f7b596,#f6af8f,#f3a280,#da6a55,#d15648,#f5aa89,#fcd6c0,#fce0cf,#fce2d3,#fbcfb7,#fac9b0,#fcdfce,#faebe2,#fce1d2,#f8bea2,#f8bfa3,#fddcc8,#fbe3d5,#fdd9c5,#fbcfb7,#fcd7c2,#fdddca,#fcdecc,#fcdecc,#fcdecc)"></div><div style="height:1.2px;background:linear-gradient(90deg,#fcdfcd,#fcdecc,#fdddca,#fdd9c4,#fbd1ba,#fac7ad,#f8ba9d,#f6b293,#f5ac8b,#d7624f,#c43b3c,#f4a481,#fcd8c3,#fbe3d4,#fae9de,#fdddcb,#fcdfce,#fae8dd,#faebe2,#fbe2d4,#fbd2bb,#fbcdb5,#fddcc8,#fcdfcd,#fcd7c2,#fbd0b8,#fcd8c3,#fdddca,#fcdecc,#fcdecc,#fcdecc)"></div><div style="height:1.2px;background:linear-gradient(90deg,#fce1d2,#fbe2d4,#fbe3d4,#fce1d1,#fdddca,#fcd3bd,#f8bda0,#f6b090,#f7b89a,#e6866a,#d6614e,#f6b191,#fddcc8,#fbe4d7,#faebe2,#f9ece4,#ecf2f5,#f0f4f6,#f9ede6,#fbe3d4,#fce2d2,#fdddca,#fdddca,#fcdfcd,#fce0d0,#fdd8c3,#fddbc7,#fdddcb,#fcdecc,#fcdecc,#fcdecc)"></div><div style="height:1.2px;background:linear-gradient(90deg,#fbe5d7,#fae8dd,#faeae1,#fae9e0,#fbe6d9,#fcdfce,#fbcfb8,#f9c3a9,#fbceb7,#f8bda1,#f4a784,#fac8af,#fcdfcd,#fae7db,#f9ede6,#eff3f5,#acd2e6,#cee4ef,#f8f1ed,#fce1d2,#fcdfcf,#fddcc9,#fdd9c4,#fce0cf,#f9eee8,#fce0d0,#fdddca,#fcdecb,#fcdecc,#fcdecc,#fcdecc)"></div><div style="height:1.2px;background:linear-gradient(90deg,#fae9de,#f9eee8,#f8f3ef,#f8f3f1,#f9f0eb,#faeae0,#fbe6da,#fbe5d9,#fce1d1,#fdddca,#fbd0b9,#fddac5,#fce2d2,#f9eee7,#f4f6f6,#e0ecf3,#94c6df,#c1ddeb,#f8f2ef,#fcdfce,#fcd2bc,#fbccb4,#f9c3a8,#fddac5,#f9efea,#fbe2d3,#fcdecb,#fcdecc,#fcdecc,#fcdecc,#fcdecc)"></div><div style="height:1.2px;background:linear-gradient(90deg,#f9ede7,#f7f6f5,#f0f4f6,#edf2f5,#f1f4f6,#f7f6f5,#f5f6f7,#f3f5f6,#fae9df,#fce1d2,#fcdecc,#fcdecd,#fbe3d5,#f8f3f1,#e5eef4,#e2edf3,#c0ddeb,#dae9f2,#f8f2ee,#fddcc9,#fac7ae,#f8bea2,#f5a987,#fac9b0,#fbe3d5,#fce0cf,#fcdecc,#fcdecc,#fcdecc,#fcdecc,#fcdecc)"></div><div style="height:1.2px;background:linear-gradient(90deg,#f8f2ef,#eff3f5,#e2edf3,#ddebf2,#e2edf3,#e7eff4,#e2edf3,#e7f0f4,#f9ece3,#fce1d2,#fce0cf,#fce0cf,#fce2d2,#f9efea,#e9f0f4,#edf2f5,#e9f0f4,#f0f4f6,#f7f5f4,#fcd6c1,#f8bda1,#f8bfa3,#f6af8e,#facbb2,#fcddcb,#fcdecd,#fcdecc,#fcdecc,#fcdecc,#fcdecc,#fcdecc)"></div><div style="height:1.2px;background:linear-gradient(90deg,#f7f7f7,#e5eef4,#d5e7f1,#cee3ef,#d4e6f1,#dbeaf2,#ddebf2,#ebf1f5,#faeae1,#fce1d1,#fce0cf,#fcdfcf,#fcdecc,#fbe5d9,#f6f7f7,#f5f6f7,#f7f6f4,#f7f7f7,#f8f4f1,#facbb3,#f7b596,#facab1,#fbcfb8,#fddcc8,#fcdecc,#fcdecc,#fcdecc,#fcdecc,#fcdecc,#fcdecc,#fcdecc)"></div><div style="height:1.2px;background:linear-gradient(90deg,#f2f5f6,#ddebf2,#c7e0ed,#bbdaea,#c5dfec,#d6e7f1,#e2edf3,#f5f6f7,#fae8de,#fce1d1,#fcdfce,#fcdfce,#fddcc8,#fcdfce,#f7f5f3,#f1f4f6,#f6f7f7,#ecf2f5,#f8f3f0,#facbb3,#f7b99c,#fcd3bd,#fce1d2,#fbe5d8,#fcdfcd,#fcdecc,#fcdecc,#fcdecc,#fcdecc,#fcdecc,#fcdecc)"></div><div style="height:1.2px;background:linear-gradient(90deg,#eff3f6,#d8e8f1,#bddbea,#afd4e6,#bad9e9,#d4e7f1,#e8f0f4,#f8f3f1,#fae7db,#fce1d1,#fcdfcd,#fcdecd,#fdddca,#fbe2d4,#f3f5f6,#ebf1f5,#eef3f5,#ddebf2,#eef3f5,#fcdecd,#facbb3,#fddbc7,#fbe3d5,#fbe5d8,#fcdfcd,#fcdecc,#fcdecc,#fcdecc,#fcdecc,#fcdecc,#fcdecc)"></div><div style="height:1.2px;background:linear-gradient(90deg,#eef3f5,#d7e8f1,#bbdaea,#add3e6,#b8d8e9,#d5e7f1,#ebf1f5,#f8f1ec,#fbe6db,#fce1d1,#fdddcb,#fdddcb,#fce0cf,#faebe3,#e7eff4,#e5eff4,#ebf1f5,#d5e7f1,#dceaf2,#faebe3,#fddcc9,#fcdecc,#fce0d0,#fce0d0,#fcdecd,#fcdecc,#fcdecc,#fcdecc,#fcdecc,#fcdecc,#fcdecc)"></div><div style="height:1.2px;background:linear-gradient(90deg,#f0f4f6,#dae9f2,#c1ddeb,#b4d6e8,#bfdceb,#d8e8f1,#eef3f5,#f9efea,#fbe6da,#fce0d0,#fddcc8,#fddcc8,#fbe3d4,#f8f3f0,#e0ecf3,#e3eef3,#edf2f5,#dceaf2,#dfecf3,#f9eee8,#fce1d1,#fcdfce,#fcdfce,#fcdfcd,#fcdecd,#fcdecc,#fcdecc,#fcdecc,#fcdecc,#fcdecc,#fcdecc)"></div><div style="height:1.2px;background:linear-gradient(90deg,#f5f6f7,#e1ecf3,#cfe4ef,#c3deec,#cde3ef,#dfebf3,#f3f5f6,#f9eee7,#fbe5d9,#fce0cf,#fddbc8,#fddcc8,#fbe5d8,#f7f6f5,#e5eef4,#eaf1f5,#f3f5f6,#edf2f5,#f4f6f7,#fae9df,#fce1d2,#fce0cf,#fcdfce,#fcdecd,#fcdecc,#fcdecc,#fcdecc,#fcdecc,#fcdecc,#fcdecc,#fcdecc)"></div><div style="height:1.2px;background:linear-gradient(90deg,#f8f5f3,#eaf1f5,#dbeaf2,#d5e7f1,#dae9f2,#e8f0f4,#f7f6f5,#faebe3,#fbe4d7,#fce0cf,#fdddca,#fcdecb,#fbe6db,#f7f6f5,#eff3f5,#f1f4f6,#f5f6f7,#f8f4f3,#f9ece4,#fbe3d5,#fce0d0,#fcdfce,#fcdfcd,#fcdecd,#fcdecc,#fcdecc,#fcdecc,#fcdecc,#fcdecc,#fcdecc,#fcdecc)"></div><div style="height:1.2px;background:linear-gradient(90deg,#f9f0eb,#f3f5f6,#e8f0f4,#e3eef3,#e7eff4,#f2f5f6,#f8f1ed,#fae9de,#fbe3d5,#fce0d0,#fce0d0,#fce2d2,#fbe7db,#f8f3f1,#f4f6f6,#f1f4f6,#f1f4f6,#f8f1ed,#fbe5d8,#fcdfce,#fcdfce,#fcdfce,#fcdfcd,#fcdecc,#fcdecc,#fcdecc,#fcdecc,#fcdecc,#fcdecc,#fcdecc,#fcdecc)"></div><div style="height:1.2px;background:linear-gradient(90deg,#faebe3,#f8f3ef,#f4f6f7,#f1f4f6,#f4f5f6,#f8f3f1,#f9ece4,#fbe6da,#fce2d3,#fce1d0,#fbe6da,#faeae0,#fbe6da,#f9efea,#f6f6f7,#eff3f6,#ecf2f5,#f8f1ed,#fce2d3,#fdddca,#fcdecd,#fcdfcd,#fcdecd,#fcdecc,#fcdecc,#fcdecc,#fcdecc,#fcdecc,#fcdecc,#fcdecc,#fcdecc)"></div><div style="height:1.2px;background:linear-gradient(90deg,#fae7dc,#f9ece5,#f8f1ec,#f8f3f0,#f8f1ed,#f9ede6,#fae8dd,#fbe4d6,#fce1d1,#fce1d1,#f9ede6,#f8f2ef,#fbe6da,#faeae1,#f7f5f4,#f3f5f6,#eef3f5,#f9f0eb,#fce0d0,#fddcc9,#fcdecc,#fcdecd,#fcdecc,#fcdecc,#fcdecc,#fcdecc,#fcdecc,#fcdecc,#fcdecc,#fcdecc,#fcdecc)"></div><div style="height:1.2px;background:linear-gradient(90deg,#fbe4d7,#fae7dc,#faeae1,#f9ece4,#faebe2,#fae8dd,#fbe5d7,#fce2d2,#fce0cf,#fce1d1,#f9ede5,#f8f2ee,#fbe4d7,#fbe4d7,#f9ece5,#f8f2ef,#f7f7f7,#f9ece4,#fce0cf,#fdddcb,#fcdecc,#fcdecc,#fcdecc,#fcdecc,#fcdecc,#fcdecc,#fcdecc,#fcdecc,#fcdecc,#fcdecc,#fcdecc)"></div><div style="height:1.2px;background:linear-gradient(90deg,#fce2d3,#fbe4d6,#fbe6d9,#fbe6db,#fbe6da,#fbe4d7,#fce2d3,#fce0d0,#fcdfce,#fcdfcf,#fbe6da,#fae9de,#fce1d2,#fce0d0,#fbe4d7,#fae9df,#f9ece5,#fbe5d8,#fcdfcd,#fcdecc,#fcdecc,#fcdecc,#fcdecc,#fcdecc,#fcdecc,#fcdecc,#fcdecc,#fcdecc,#fcdecc,#fcdecc,#fcdecc)"></div><div style="height:1.2px;background:linear-gradient(90deg,#fce0d0,#fce1d2,#fbe2d4,#fbe3d4,#fbe3d4,#fce1d2,#fce0d0,#fcdfce,#fcdecd,#fcdecd,#fce0d0,#fce1d1,#fcdfce,#fcdfcd,#fce0d0,#fbe3d4,#fbe3d5,#fce0cf,#fcdecc,#fcdecc,#fcdecc,#fcdecc,#fcdecc,#fcdecc,#fcdecc,#fcdecc,#fcdecc,#fcdecc,#fcdecc,#fcdecc,#fcdecc)"></div><div style="height:1.2px;background:linear-gradient(90deg,#fcdfce,#fce0cf,#fce0d0,#fce1d1,#fce0d0,#fce0cf,#fcdfce,#fcdfcd,#fcdecc,#fcdecc,#fcdecd,#fcdecd,#fcdecc,#fcdecd,#fcdfcd,#fce0cf,#fcdfce,#fcdecc,#fcdecc,#fcdecc,#fcdecc,#fcdecc,#fcdecc,#fcdecc,#fcdecc,#fcdecc,#fcdecc,#fcdecc,#fcdecc,#fcdecc,#fcdecc)"></div><div style="height:1.2px;background:linear-gradient(90deg,#fcdecd,#fcdfce,#fcdfce,#fcdfce,#fcdfce,#fcdfce,#fcdfcd,#fcdecc,#fcdecc,#fcdecc,#fcdecc,#fcdecc,#fcdecc,#fcdecc,#fcdecc,#fcdecd,#fcdecc,#fcdecc,#fcdecc,#fcdecc,#fcdecc,#fcdecc,#fcdecc,#fcdecc,#fcdecc,#fcdecc,#fcdecc,#fcdecc,#fcdecc,#fcdecc,#fcdecc)"></div><div style="height:1.2px;background:linear-gradient(90deg,#fcdecc,#fcdecd,#fcdecd,#fcdfcd,#fcdecd,#fcdecd,#fcdecc,#fcdecc,#fcdecc,#fcdecc,#fcdecc,#fcdecc,#fcdecc,#fcdecc,#fcdecc,#fcdecc,#fcdecc,#fcdecc,#fcdecc,#fcdecc,#fcdecc,#fcdecc,#fcdecc,#fcdecc,#fcdecc,#fcdecc,#fcdecc,#fcdecc,#fcdecc,#fcdecc,#fcdecc)"></div><div style="height:1.2px;background:linear-gradient(90deg,#fcdecc,#fcdecc,#fcdecc,#fcdecc,#fcdecc,#fcdecc,#fcdecc,#fcdecc,#fcdecc,#fcdecc,#fcdecc,#fcdecc,#fcdecc,#fcdecc,#fcdecc,#fcdecc,#fcdecc,#fcdecc,#fcdecc,#fcdecc,#fcdecc,#fcdecc,#fcdecc,#fcdecc,#fcdecc,#fcdecc,#fcdecc,#fcdecc,#fcdecc,#fcdecc,#fcdecc)"></div><div style="height:1.2px;background:linear-gradient(90deg,#fcdecc,#fcdecc,#fcdecc,#fcdecc,#fcdecc,#fcdecc,#fcdecc,#fcdecc,#fcdecc,#fcdecc,#fcdecc,#fcdecc,#fcdecc,#fcdecc,#fcdecc,#fcdecc,#fcdecc,#fcdecc,#fcdecc,#fcdecc,#fcdecc,#fcdecc,#fcdecc,#fcdecc,#fcdecc,#fcdecc,#fcdecc,#fcdecc,#fcdecc,#fcdecc,#fcdecc)"></div><div style="height:1.2px;background:linear-gradient(90deg,#fcdecc,#fcdecc,#fcdecc,#fcdecc,#fcdecc,#fcdecc,#fcdecc,#fcdecc,#fcdecc,#fcdecc,#fcdecc,#fcdecc,#fcdecc,#fcdecc,#fcdecc,#fcdecc,#fcdecc,#fcdecc,#fcdecc,#fcdecc,#fcdecc,#fcdecc,#fcdecc,#fcdecc,#fcdecc,#fcdecc,#fcdecc,#fcdecc,#fcdecc,#fcdecc,#fcdecc)"></div><div style="height:1.2px;background:linear-gradient(90deg,#fcdecc,#fcdecc,#fcdecc,#fcdecc,#fcdecc,#fcdecc,#fcdecc,#fcdecc,#fcdecc,#fcdecc,#fcdecc,#fcdecc,#fcdecc,#fcdecc,#fcdecc,#fcdecc,#fcdecc,#fcdecc,#fcdecc,#fcdecc,#fcdecc,#fcdecc,#fcdecc,#fcdecc,#fcdecc,#fcdecc,#fcdecc,#fcdecc,#fcdecc,#fcdecc,#fcdecc)"></div></div></div><div style="position:absolute;left:445.5px;top:411.9px;width:54.3px;height:47.2px;overflow:hidden;clip-path:polygon(15.4px 2.5px,2.8px 9.6px,1.0px 16.6px,1.0px 28.9px,5.3px 37.3px,10.6px 42.3px,18.9px 45.4px,27.1px 46.2px,35.3px 45.4px,43.7px 42.3px,49.0px 37.3px,53.3px 28.9px,53.3px 16.6px,51.5px 9.6px,38.8px 2.5px,37.8px 4.1px,36.3px 3.3px,34.7px 2.5px,33.1px 1.9px,31.4px 1.5px,29.7px 1.2px,28.0px 1.0px,26.3px 1.0px,24.5px 1.2px,22.8px 1.5px,21.2px 1.9px,19.5px 2.5px,18.0px 3.3px,16.5px 4.1px);"><div style="position:absolute;left:-2.4px;top:-2.4px;width:60.0px;filter:blur(0.8px)"><div style="height:1.2px;background:linear-gradient(90deg,#b5d7e8,#b2d5e7,#aed3e6,#acd2e5,#abd2e5,#aed3e6,#b1d5e7,#b5d7e8,#b8d8e9,#bad9e9,#badaea,#bbdaea,#bbdaea,#bbdaea,#bbdaea,#bbdaea,#bbdaea,#bbdaea,#bbdaea,#bcdaea,#bcdaea,#bddbea,#bedbeb,#bedceb,#bedceb,#bedbeb,#bddbea,#bcdaea,#bcdaea,#bbdaea,#bbdaea)"></div><div style="height:1.2px;background:linear-gradient(90deg,#b4d6e8,#afd4e6,#aad1e5,#a7cfe4,#a6cfe4,#a9d1e5,#aed3e6,#b3d6e8,#b7d8e9,#b9d9e9,#bad9ea,#bbdaea,#bbdaea,#bbdaea,#bbdaea,#bbdaea,#bcdaea,#bcdaea,#bbdaea,#bcdaea,#bddbea,#bedceb,#c0dceb,#c1ddeb,#c1ddeb,#c0dceb,#bfdceb,#bddbea,#bcdaea,#bbdaea,#bbdaea)"></div><div style="height:1.2px;background:linear-gradient(90deg,#b2d5e7,#abd2e5,#a5cfe3,#a1cce2,#a0cce2,#a4cee3,#abd2e5,#b1d5e7,#b6d7e8,#b9d9e9,#bad9e9,#bbdaea,#bbdaea,#bbdaea,#bbdaea,#bcdaea,#c0dceb,#c4deec,#bddbea,#bcdbea,#bedbeb,#c0ddeb,#c3deec,#c4deec,#c4deec,#c3deec,#c1ddeb,#bedceb,#bddbea,#bcdaea,#bbdaea)"></div><div style="height:1.2px;background:linear-gradient(90deg,#afd4e6,#a7d0e4,#9fcce2,#9ac9e0,#99c9e0,#9ecbe1,#a6cfe4,#aed3e6,#b4d7e8,#b9d9e9,#bbdaea,#bbdaea,#bbdaea,#bbdaea,#bbdaea,#bfdceb,#cce3ef,#d9e9f2,#c0ddeb,#bddbea,#c0dceb,#c4deec,#c6e0ed,#c8e1ed,#c8e1ee,#c6e0ed,#c3deec,#c0dceb,#bedbea,#bcdaea,#bbdaea)"></div><div style="height:1.2px;background:linear-gradient(90deg,#acd2e5,#a2cde3,#98c8e0,#91c4de,#91c4dd,#97c8df,#a1cde2,#abd2e5,#b3d6e7,#b9d9e9,#bbdaea,#bbdaea,#bbdaea,#bbdaea,#bbdaea,#c1ddec,#d3e6f0,#e3edf3,#c1ddeb,#bbdaea,#c2ddec,#c9e1ee,#cbe2ee,#cde3ef,#cde3ef,#cbe2ee,#c6e0ed,#c2ddec,#bfdceb,#bddbea,#bcdaea)"></div><div style="height:1.2px;background:linear-gradient(90deg,#a9d1e5,#9dcae1,#90c4dd,#85bdda,#85bcd9,#8ec2dd,#9bcae1,#a7d0e4,#b1d5e7,#b9d9e9,#bbdaea,#bbdaea,#badaea,#bad9e9,#b9d9e9,#bfdceb,#cce3ef,#d3e6f0,#bad9e9,#b7d8e8,#c2ddec,#cce3ef,#cbe2ee,#d1e5f0,#d2e6f0,#cfe4f0,#cae1ee,#c4deec,#c0dceb,#bddbea,#bcdaea)"></div><div style="height:1.2px;background:linear-gradient(90deg,#a5cfe3,#97c7df,#85bdda,#78b5d5,#77b4d5,#82bbd9,#94c6df,#a2cde3,#aed3e6,#b8d8e9,#bbdaea,#bad9e9,#b9d9e9,#b7d8e9,#b3d6e7,#b5d7e8,#c4dfec,#c2deec,#b4d6e8,#b2d5e7,#c1ddeb,#cce2ef,#c3deec,#d3e6f0,#d5e7f1,#d3e6f0,#cde3ef,#c6e0ed,#c1ddeb,#bedbea,#bcdaea)"></div><div style="height:1.2px;background:linear-gradient(90deg,#a1cde2,#90c3dd,#79b5d6,#6aacd0,#69abd0,#75b3d4,#8ac0db,#9dcae1,#abd2e5,#b8d8e9,#bbdaea,#b8d8e9,#b5d7e8,#b0d4e6,#a6cfe4,#a4cee3,#bddbea,#bfdceb,#b2d5e7,#b1d5e7,#c5dfed,#d2e6f0,#c1ddeb,#d4e6f0,#d8e8f1,#d5e7f1,#d0e5f0,#c8e0ed,#c2ddec,#bedbeb,#bcdaea)"></div><div style="height:1.2px;background:linear-gradient(90deg,#9dcbe1,#87beda,#6daed1,#5ba2cb,#59a1ca,#66a9cf,#7db8d7,#96c7df,#a7d0e4,#b6d7e8,#b9d9e9,#b2d5e7,#a9d1e5,#a2cde3,#92c5de,#8ac0db,#a6cfe4,#b8d8e9,#b3d6e7,#b6d7e8,#d1e5f0,#ddebf2,#cbe2ee,#d0e4f0,#d9e9f2,#d7e8f1,#d2e5f0,#cae1ee,#c3deec,#bfdceb,#bddbea)"></div><div style="height:1.2px;background:linear-gradient(90deg,#99c9e0,#7eb9d7,#61a6cd,#4c99c6,#4796c5,#549ec9,#6eaed2,#90c4dd,#a3cee3,#b0d4e6,#b4d6e8,#a7d0e4,#97c7df,#90c4dd,#75b3d4,#67aacf,#92c5de,#b9d9e9,#b5d7e8,#bbdaea,#d7e8f1,#e3edf3,#cce2ef,#c3deec,#d9e9f1,#d8e8f1,#d3e6f0,#cbe2ee,#c4deec,#bfdceb,#bddbea)"></div><div style="height:1.2px;background:linear-gradient(90deg,#95c7df,#76b3d4,#559ec9,#408fc1,#3d8bbf,#4190c1,#5fa5cd,#95c7df,#a4cee3,#a8d0e4,#add3e6,#9ecbe2,#88beda,#82bbd9,#62a7ce,#519cc8,#8bc1dc,#c6dfed,#b5d7e8,#bbdaea,#d9e9f2,#e1edf3,#d0e5f0,#c6e0ed,#d8e8f1,#d7e8f1,#d3e6f0,#cce2ee,#c5dfed,#c0ddeb,#bedbea)"></div><div style="height:1.2px;background:linear-gradient(90deg,#92c5de,#6fafd2,#4997c5,#3a86bd,#347fb9,#327cb7,#4695c4,#a0cce2,#a9d1e5,#a0cce2,#a8d0e4,#9fcce2,#8cc1dc,#85bcd9,#62a7ce,#509bc7,#8ac0db,#c3deec,#acd2e5,#b7d8e8,#dae9f2,#e3eef3,#d8e8f1,#d1e5f0,#d5e7f1,#d6e7f1,#d3e6f0,#cce3ef,#c6dfed,#c1ddec,#bfdceb)"></div><div style="height:1.2px;background:linear-gradient(90deg,#8ec2dd,#68aad0,#4191c2,#337eb8,#2970b1,#1c5d9f,#3079b6,#93c5de,#9fcce2,#97c8df,#a4cee3,#a4cee3,#98c8e0,#91c4de,#75b3d4,#65a9cf,#88bfdb,#a7d0e4,#9ac9e0,#b1d5e7,#dae9f2,#e7f0f4,#dbeaf2,#cae2ee,#cae1ee,#d2e6f0,#d2e6f0,#cde3ef,#c7e0ed,#c3deec,#c0dceb)"></div><div style="height:1.2px;background:linear-gradient(90deg,#8bc0dc,#63a7ce,#3e8cc0,#2e77b5,#1e5fa3,#09376b,#175291,#539dc8,#7ab6d6,#8dc2dc,#9fcce2,#a1cde2,#95c7df,#97c8df,#96c7df,#8fc3dd,#92c5de,#93c5de,#94c6df,#b1d5e7,#d5e7f1,#e5eff4,#dae9f2,#b8d9e9,#bbdaea,#cee4ef,#d2e5f0,#cee4ef,#c9e1ee,#c5dfec,#c1ddeb)"></div><div style="height:1.2px;background:linear-gradient(90deg,#89bfdb,#5fa5cd,#3b89be,#2a72b2,#175392,#053061,#073366,#2c75b4,#4f9bc7,#83bcd9,#99c9e0,#93c6de,#79b5d5,#92c5de,#bad9e9,#bcdaea,#a8d0e4,#9bc9e0,#a2cde3,#b9d9e9,#d0e4f0,#dceaf2,#cee3ef,#a4cee3,#b5d7e8,#cde3ef,#d3e6f0,#d0e5f0,#cce2ef,#c7e0ed,#c3deec)"></div><div style="height:1.2px;background:linear-gradient(90deg,#88beda,#5da4cc,#3a87bd,#286fb1,#175291,#053061,#063163,#1e5fa3,#3c89be,#77b4d5,#94c6df,#7eb9d7,#4b98c6,#7cb7d6,#d4e7f1,#dbeaf2,#c2deec,#b3d6e7,#bcdaea,#c5dfed,#cde3ef,#d0e4f0,#acd2e5,#96c7df,#b9d9e9,#d0e5f0,#d4e6f1,#d3e6f0,#cfe4ef,#cae1ee,#c5dfed)"></div><div style="height:1.2px;background:linear-gradient(90deg,#88bfdb,#5ea4cc,#3a87bd,#286fb1,#1a5899,#0d3f76,#0d4077,#1b5a9c,#3581ba,#6aacd0,#99c9e0,#83bcd9,#3c89be,#68abd0,#d9e9f2,#e9f0f4,#d6e8f1,#cde3ef,#d3e6f0,#d6e7f1,#d4e6f1,#cbe2ee,#a2cde3,#9bc9e0,#c2ddec,#d3e6f0,#d6e7f1,#d5e7f1,#d2e6f0,#cde3ef,#c8e0ed)"></div><div style="height:1.2px;background:linear-gradient(90deg,#89bfdb,#60a5cd,#3c89be,#2a72b2,#1e60a3,#16508e,#154e8b,#1d5fa3,#347fb9,#67aacf,#aed3e6,#abd2e5,#4d99c6,#74b2d4,#dae9f2,#edf2f5,#e1ecf3,#dceaf2,#dfecf3,#e0ecf3,#dae9f2,#d1e5f0,#b4d6e8,#b0d4e7,#cae1ee,#d3e6f0,#d7e8f1,#d7e8f1,#d5e7f1,#d1e5f0,#cae2ee)"></div><div style="height:1.2px;background:linear-gradient(90deg,#8cc1dc,#64a8ce,#3f8dc0,#2e78b5,#2369ad,#1d5fa2,#1c5c9e,#2267ad,#3682ba,#6aabd0,#bedbea,#cfe4ef,#89bfdb,#9dcbe1,#ddeaf2,#edf2f5,#e8f0f4,#e6eff4,#e8f0f4,#e6eff4,#deebf2,#d4e6f1,#c4deec,#c4dfec,#cee4ef,#d1e5f0,#d9e9f1,#dae9f2,#d7e8f1,#d3e6f0,#cde3ef)"></div><div style="height:1.2px;background:linear-gradient(90deg,#8fc3dd,#6aacd0,#4292c3,#347fb9,#2a73b2,#256caf,#2368ad,#256caf,#3682ba,#67aacf,#b4d6e8,#d2e5f0,#b5d7e8,#c5dfec,#e3edf3,#eef3f5,#edf2f5,#edf2f5,#edf2f5,#e9f0f4,#deebf2,#d2e6f0,#bfdceb,#c8e0ed,#d0e4f0,#d1e5f0,#dae9f2,#dceaf2,#d9e9f2,#d5e7f1,#cfe4ef)"></div><div style="height:1.2px;background:linear-gradient(90deg,#93c5de,#71b0d3,#4c99c6,#3a87bd,#327db8,#2d76b4,#286fb1,#256baf,#317cb7,#5aa2cb,#a1cde2,#c6e0ed,#cee3ef,#dbeaf2,#e9f1f5,#f1f4f6,#f2f5f6,#f1f4f6,#f0f4f6,#e9f0f4,#dbeaf2,#c9e1ee,#add3e6,#bad9e9,#cee3ef,#d6e7f1,#dceaf2,#ddebf2,#dbeaf2,#d6e7f1,#d0e4f0)"></div><div style="height:1.2px;background:linear-gradient(90deg,#97c7df,#79b5d5,#58a0ca,#4190c2,#3a87bd,#347fb9,#2971b2,#1f63a8,#266daf,#4393c3,#95c7df,#c3deec,#d7e8f1,#e4eef3,#eff3f6,#f5f6f7,#f5f6f7,#f3f5f6,#f3f5f6,#e9f0f4,#d2e6f0,#b8d9e9,#a1cce2,#a9d1e4,#c8e0ed,#d9e9f1,#deebf2,#deebf2,#dbeaf2,#d6e7f1,#d0e5f0)"></div><div style="height:1.2px;background:linear-gradient(90deg,#9bc9e0,#81bbd8,#64a8ce,#4d9ac7,#4190c1,#3885bc,#2970b1,#185493,#175392,#3682ba,#90c4dd,#c8e1ed,#dbeaf2,#e8f0f4,#f2f5f6,#f7f7f7,#f6f7f7,#f2f5f6,#f6f7f7,#ebf1f5,#bfdceb,#9fcce2,#90c4dd,#9fcce2,#c5dfed,#d9e9f2,#ddebf2,#ddebf2,#dae9f2,#d6e7f1,#d0e4f0)"></div><div style="height:1.2px;background:linear-gradient(90deg,#9fcbe2,#8ac0db,#71b0d3,#5da3cc,#4c99c6,#3d8bbf,#2971b2,#104680,#09376b,#2971b2,#8dc2dc,#cee3ef,#dfebf2,#eaf1f5,#f3f5f6,#f7f7f7,#f5f6f7,#eff3f6,#f3f5f6,#e5eef4,#a8d0e4,#7fb9d8,#76b3d4,#9dcbe1,#c6e0ed,#d8e8f1,#dceaf2,#dceaf2,#d9e9f1,#d5e7f1,#cfe4ef)"></div><div style="height:1.2px;background:linear-gradient(90deg,#a3cde3,#92c5de,#7db8d7,#6bacd1,#5ba2cb,#4292c2,#2e78b5,#0f447c,#053061,#2166ac,#83bcd9,#c9e1ee,#e1edf3,#ecf2f5,#f3f5f6,#f6f6f7,#f1f4f6,#ecf2f5,#eff3f6,#e0ecf3,#9ccae1,#67aacf,#6aabd0,#9dcae1,#c5dfed,#d6e7f1,#d9e9f2,#d9e9f2,#d7e8f1,#d3e6f0,#cde3ef)"></div><div style="height:1.2px;background:linear-gradient(90deg,#a7cfe4,#99c8e0,#88bfdb,#79b5d6,#6aacd0,#529cc8,#3986bc,#16508e,#053061,#2165ab,#74b2d4,#b1d5e7,#ddebf2,#eef3f5,#f7f5f4,#f7f6f5,#eef3f5,#e8f0f4,#f0f4f6,#e5eef4,#9ecbe1,#65a8cf,#6eaed2,#9fcbe2,#c3deec,#d3e6f0,#d7e8f1,#d7e8f1,#d4e7f1,#d1e5f0,#cae2ee)"></div><div style="height:1.2px;background:linear-gradient(90deg,#aad1e5,#9fcbe2,#93c5de,#86beda,#7ab6d6,#65a9cf,#4c99c6,#246aae,#08376a,#2a71b2,#6bacd1,#8dc2dc,#cce3ef,#eef3f5,#fbe6d9,#faeae1,#ebf1f5,#e3edf3,#e9f1f4,#e1edf3,#a7d0e4,#79b5d6,#80bad8,#a5cfe4,#c3deec,#d1e5f0,#d3e6f0,#d3e6f0,#d2e5f0,#cde3ef,#c8e0ed)"></div><div style="height:1.2px;background:linear-gradient(90deg,#add3e6,#a4cee3,#9ac9e0,#93c5de,#89bfdb,#79b5d6,#67aacf,#3884bb,#1e60a4,#3c8abe,#76b3d4,#7cb7d7,#b8d8e9,#edf2f5,#faccb4,#fddcc8,#eaf1f5,#deebf2,#deebf2,#d7e8f1,#b1d5e7,#96c7df,#99c8e0,#afd4e6,#c3deec,#cde3ef,#d0e4f0,#d0e4f0,#cde3ef,#c9e1ee,#c5dfed)"></div><div style="height:1.2px;background:linear-gradient(90deg,#b0d4e7,#a9d1e4,#a1cde2,#9bcae1,#96c7df,#8dc2dc,#7db8d7,#57a0ca,#3f8ec0,#67aacf,#93c6de,#96c7df,#b9d9e9,#e6eff4,#fcd4be,#fce0cf,#e5eef4,#dbeaf2,#d8e8f1,#cee4ef,#bad9e9,#abd2e5,#acd2e5,#b8d8e9,#c4deec,#c9e1ee,#cbe2ee,#cbe2ee,#c9e1ee,#c6dfed,#c3deec)"></div><div style="height:1.2px;background:linear-gradient(90deg,#b2d5e7,#add3e6,#a7d0e4,#a3cde3,#a0cce2,#9ccae1,#95c6df,#84bcd9,#79b5d6,#99c9e0,#afd4e6,#b2d5e7,#c2ddec,#dbeaf2,#f9f0eb,#f7f5f4,#d9e9f2,#d5e7f1,#d5e7f1,#c9e1ee,#bfdceb,#b9d9e9,#b9d9e9,#bedbeb,#c4deec,#c6e0ed,#c7e0ed,#c7e0ed,#c5dfed,#c3deec,#c1ddeb)"></div><div style="height:1.2px;background:linear-gradient(90deg,#b4d6e8,#b0d4e7,#acd2e5,#a9d0e4,#a8d0e4,#a8d0e4,#a7d0e4,#a3cee3,#a1cde2,#b9d9e9,#c3deec,#bedbeb,#c1ddeb,#d3e6f0,#edf2f5,#e5eef4,#c1ddeb,#bcdbea,#cde3ef,#c2ddec,#c1ddeb,#c0dceb,#bfdceb,#c1ddeb,#c3deec,#c4deec,#c4deec,#c4deec,#c2deec,#c1ddeb,#bfdceb)"></div><div style="height:1.2px;background:linear-gradient(90deg,#b6d7e8,#b3d6e7,#afd4e6,#aed3e6,#aed3e6,#b1d4e7,#b4d6e8,#b6d7e8,#b8d8e9,#c4deec,#c7e0ed,#bedbeb,#b7d8e8,#cbe2ee,#eff3f5,#e2edf3,#b2d5e7,#a9d1e5,#bddbea,#b7d8e9,#c0dceb,#c3deec,#c2deec,#c2ddec,#c2ddec,#c2ddec,#c2ddec,#c1ddeb,#c0dceb,#bfdceb,#bedbea)"></div><div style="height:1.2px;background:linear-gradient(90deg,#b7d8e9,#b5d7e8,#b3d6e7,#b1d5e7,#b2d5e7,#b6d7e8,#bcdaea,#c1ddeb,#c4dfec,#c7e0ed,#c6e0ed,#bbdaea,#add3e6,#c4deec,#ecf2f5,#e1edf3,#c2ddec,#b7d8e9,#b6d7e8,#b2d5e7,#c0ddeb,#c5dfed,#c4deec,#c2deec,#c1ddec,#c1ddeb,#c0dceb,#bfdceb,#bfdceb,#bedbea,#bddbea)"></div><div style="height:1.2px;background:linear-gradient(90deg,#b8d8e9,#b7d8e8,#b5d7e8,#b4d6e8,#b6d7e8,#bad9e9,#c0dceb,#c6dfed,#cae1ee,#cbe2ee,#c8e0ed,#bddbea,#b0d4e7,#c6dfed,#e2edf3,#deebf2,#d2e5f0,#c8e1ed,#bbdaea,#b8d8e9,#c3deec,#c6e0ed,#c4dfec,#c3deec,#c1ddeb,#c0dceb,#bfdceb,#bedbeb,#bddbea,#bddbea,#bcdaea)"></div><div style="height:1.2px;background:linear-gradient(90deg,#b9d9e9,#b8d8e9,#b7d8e8,#b6d8e8,#b8d8e9,#bcdaea,#c2ddec,#c8e0ed,#cbe2ee,#cce2ee,#cae1ee,#c5dfed,#c4deec,#d7e8f1,#e5eef4,#e1edf3,#d8e8f1,#d1e5f0,#c6e0ed,#c3deec,#c8e0ed,#c7e0ed,#c5dfed,#c3deec,#c1ddeb,#bfdceb,#bedceb,#bddbea,#bddbea,#bcdaea,#bcdaea)"></div><div style="height:1.2px;background:linear-gradient(90deg,#bad9e9,#b9d9e9,#b8d8e9,#b8d8e9,#b9d9e9,#bddbea,#c2ddec,#c7e0ed,#cbe2ee,#cbe2ee,#cbe2ee,#cee3ef,#d8e8f1,#eaf1f5,#f5f6f7,#edf2f5,#dfecf3,#d5e7f1,#cee4ef,#cbe2ee,#cbe2ee,#c9e1ee,#c6dfed,#c3deec,#c1ddeb,#bfdceb,#bedbeb,#bddbea,#bcdbea,#bcdaea,#bcdaea)"></div><div style="height:1.2px;background:linear-gradient(90deg,#bad9e9,#bad9e9,#b9d9e9,#b9d9e9,#bad9e9,#bddbea,#c1ddeb,#c6dfed,#c9e1ee,#c9e1ee,#cbe2ee,#d4e6f0,#e5eff4,#f8f1ed,#fae8de,#f8f2ef,#e7eff4,#d8e8f1,#d2e5f0,#cfe4ef,#cce3ef,#c9e1ee,#c6e0ed,#c4deec,#c1ddeb,#bfdceb,#bedbeb,#bddbea,#bcdaea,#bcdaea,#bbdaea)"></div><div style="height:1.2px;background:linear-gradient(90deg,#badaea,#bad9e9,#bad9e9,#bad9e9,#bbdaea,#bddbea,#c0dceb,#c3deec,#c6dfed,#c7e0ed,#cbe2ee,#d6e8f1,#eef3f5,#fbe6d9,#fddac6,#fae8dd,#eef3f5,#dae9f2,#d3e6f0,#d0e5f0,#cde3ef,#cae2ee,#c7e0ed,#c4deec,#c1ddeb,#bfdceb,#bedbea,#bddbea,#bcdaea,#bcdaea,#bbdaea)"></div><div style="height:1.2px;background:linear-gradient(90deg,#bbdaea,#bad9ea,#bad9e9,#bad9e9,#bbdaea,#bcdbea,#bfdceb,#c1ddec,#c4deec,#c5dfed,#cae1ee,#d7e8f1,#f2f4f6,#fce1d1,#fbcfb8,#fbe3d5,#f1f4f6,#dceaf2,#d4e6f1,#d1e5f0,#cee3ef,#cae2ee,#c7e0ed,#c4deec,#c1ddec,#bfdceb,#bedbea,#bddbea,#bcdaea,#bcdaea,#bbdaea)"></div><div style="height:1.2px;background:linear-gradient(90deg,#bbdaea,#bbdaea,#badaea,#bbdaea,#bbdaea,#bcdaea,#bedbea,#c0dceb,#c2ddec,#c4deec,#c8e1ee,#d6e7f1,#eff3f6,#fbe4d7,#fcd7c2,#fbe7db,#eff3f5,#dbeaf2,#d4e6f1,#d1e5f0,#cee3ef,#cbe2ee,#c7e0ed,#c4deec,#c1ddec,#bfdceb,#bedbea,#bddbea,#bcdaea,#bbdaea,#bbdaea)"></div><div style="height:1.2px;background:linear-gradient(90deg,#bbdaea,#bbdaea,#bbdaea,#bbdaea,#bbdaea,#bcdaea,#bddbea,#bedceb,#c0dceb,#c2ddec,#c7e0ed,#d3e6f0,#e7f0f4,#f9efe9,#fbe6d9,#f8f0eb,#e9f0f4,#d9e9f2,#d3e6f0,#d1e5f0,#cee3ef,#cae2ee,#c7e0ed,#c4deec,#c1ddeb,#bfdceb,#bedbea,#bddbea,#bcdaea,#bbdaea,#bbdaea)"></div><div style="height:1.2px;background:linear-gradient(90deg,#bbdaea,#bbdaea,#bbdaea,#bbdaea,#bbdaea,#bcdaea,#bddbea,#bedbea,#bfdceb,#c1ddeb,#c5dfed,#cfe4f0,#deebf2,#f0f4f6,#f7f5f4,#f0f4f6,#e1ecf3,#d7e8f1,#d2e6f0,#d0e5f0,#cde3ef,#cae1ee,#c7e0ed,#c4deec,#c1ddeb,#bfdceb,#bedbea,#bddbea,#bcdaea,#bbdaea,#bbdaea)"></div><div style="height:1.2px;background:linear-gradient(90deg,#bbdaea,#bbdaea,#bbdaea,#bbdaea,#bbdaea,#bcdaea,#bcdaea,#bddbea,#bfdceb,#c0ddeb,#c3deec,#cae2ee,#d6e7f1,#e1ecf3,#e6eff4,#e2edf3,#dae9f2,#d4e6f1,#d1e5f0,#cfe4ef,#cce3ef,#c9e1ee,#c6dfed,#c3deec,#c1ddeb,#bfdceb,#bddbea,#bcdbea,#bcdaea,#bbdaea,#bbdaea)"></div><div style="height:1.2px;background:linear-gradient(90deg,#bbdaea,#bbdaea,#bbdaea,#bbdaea,#bbdaea,#bcdaea,#bcdaea,#bddbea,#bedbeb,#c0dceb,#c2deec,#c7e0ed,#cfe4ef,#d6e7f1,#d9e9f2,#d8e8f1,#d4e7f1,#d2e5f0,#d0e4f0,#cee3ef,#cbe2ee,#c8e1ee,#c5dfed,#c3deec,#c0ddeb,#bfdceb,#bddbea,#bcdbea,#bcdaea,#bbdaea,#bbdaea)"></div></div></div><div style="position:absolute;left:442.4px;top:213.5px;width:62.3px;height:54.2px;overflow:hidden;clip-path:polygon(17.6px 2.8px,3.0px 10.9px,1.0px 19.0px,1.0px 33.2px,5.9px 42.8px,12.0px 48.7px,21.7px 52.3px,31.1px 53.2px,40.6px 52.3px,50.3px 48.7px,56.3px 42.8px,61.3px 33.2px,61.3px 19.0px,59.3px 10.9px,44.6px 2.8px,43.4px 4.6px,41.7px 3.6px,39.9px 2.8px,38.0px 2.1px,36.1px 1.5px,34.1px 1.2px,32.1px 1.0px,30.2px 1.0px,28.2px 1.2px,26.2px 1.5px,24.3px 2.1px,22.4px 2.8px,20.6px 3.6px,18.9px 4.6px);"><div style="position:absolute;left:-2.4px;top:-2.4px;width:68.0px;filter:blur(0.8px)"><div style="height:1.2px;background:linear-gradient(90deg,#f6b191,#f6b192,#f6b293,#f6b394,#f7b597,#f7b89a,#f8bb9e,#f8bfa3,#f9c4aa,#facbb2,#fbd2bb,#fdd9c5,#fcdecd,#fbe2d3,#fbe6d9,#fae8de,#faeae0,#faeae1,#fae9e0,#fae7dc,#fbe4d7,#fce1d0,#fddcca,#fcd6c0,#fbceb7,#fac7ae,#f9c2a7,#f8bda0,#f7b99c,#f7b698,#f7b495,#f6b393,#f6b292,#f6b191,#f6b091)"></div><div style="height:1.2px;background:linear-gradient(90deg,#f6b191,#f6b192,#f6b293,#f6b394,#f7b596,#f7b799,#f8ba9d,#f8bfa3,#f9c4a9,#facab1,#fbd1ba,#fdd9c4,#fcdecc,#fbe2d3,#fbe6d9,#fae8de,#faeae0,#faeae1,#fae9df,#fae7dc,#fbe4d7,#fce0d0,#fddcc9,#fcd5c0,#fbceb6,#fac7ad,#f9c1a6,#f8bca0,#f7b99b,#f7b698,#f7b495,#f6b393,#f6b292,#f6b191,#f6b091)"></div><div style="height:1.2px;background:linear-gradient(90deg,#f6b191,#f6b192,#f6b293,#f6b394,#f7b596,#f7b799,#f7ba9d,#f8bea2,#f9c3a8,#fac9b0,#fbd0b9,#fcd8c3,#fcdecb,#fce2d2,#fbe5d9,#fae8dd,#faeae0,#faeae1,#fae9df,#fae7db,#fbe4d6,#fce0d0,#fddcc8,#fcd4bf,#fbcdb5,#fac6ac,#f9c0a5,#f8bc9f,#f7b89b,#f7b697,#f6b495,#f6b293,#f6b292,#f6b191,#f6b091)"></div><div style="height:1.2px;background:linear-gradient(90deg,#f6b191,#f6b191,#f6b292,#f6b394,#f7b596,#f7b798,#f7b99c,#f8bda1,#f9c1a6,#fac7ae,#fbceb7,#fcd6c1,#fdddca,#fce1d1,#fbe5d8,#fae8dd,#fae9e0,#faeae0,#fae9df,#fae7db,#fbe3d6,#fce0cf,#fddbc7,#fcd3bd,#faccb3,#f9c5ab,#f8bfa4,#f8bb9e,#f7b89a,#f7b597,#f6b495,#f6b293,#f6b192,#f6b191,#f6b091)"></div><div style="height:1.2px;background:linear-gradient(90deg,#f6b191,#f6b191,#f6b292,#f6b394,#f7b495,#f7b698,#f7b89b,#f8bc9f,#f8c0a4,#f9c5ab,#faccb4,#fcd4be,#fddcc8,#fce0d0,#fbe4d7,#fae7dc,#fae9df,#faeae0,#fae9de,#fbe6db,#fbe3d5,#fcdfce,#fddac6,#fbd2bb,#facab1,#f9c4a9,#f8bea2,#f8ba9d,#f7b799,#f7b596,#f6b394,#f6b293,#f6b192,#f6b191,#f6b091)"></div><div style="height:1.2px;background:linear-gradient(90deg,#f6b191,#f6b191,#f6b292,#f6b393,#f6b495,#f7b597,#f7b799,#f7ba9d,#f8bda1,#f9c2a7,#fac9b0,#fbd1ba,#fddac5,#fcdfce,#fbe3d5,#fae7db,#fae9df,#fae9e0,#fae8de,#fbe6da,#fbe3d4,#fcdecd,#fdd9c4,#fbd0b9,#fac8af,#f9c2a7,#f8bda0,#f7b99c,#f7b698,#f7b496,#f6b394,#f6b293,#f6b192,#f6b191,#f6b091)"></div><div style="height:1.2px;background:linear-gradient(90deg,#f6b191,#f6b191,#f6b292,#f6b293,#f6b394,#f7b496,#f7b697,#f7b89a,#f8ba9d,#f8bfa3,#f9c5ab,#fbcdb5,#fcd6c1,#fcdecc,#fbe2d4,#fbe6da,#fae8de,#fae9df,#fae8dd,#fbe6d9,#fce2d3,#fcddcb,#fcd7c1,#fbceb6,#f9c6ac,#f8c0a4,#f8bb9e,#f7b89a,#f7b597,#f6b495,#f6b393,#f6b292,#f6b192,#f6b191,#f6b091)"></div><div style="height:1.2px;background:linear-gradient(90deg,#f6b191,#f6b191,#f6b192,#f6b293,#f6b393,#f6b394,#f6b495,#f7b596,#f7b798,#f7ba9d,#f8c0a4,#fac8af,#fcd2bc,#fddcc9,#fce1d2,#fbe5d9,#fae8dd,#fae9de,#fae8dd,#fbe5d8,#fce1d1,#fddcc9,#fcd4be,#facbb3,#f9c3a9,#f8bda1,#f7b99b,#f7b698,#f7b495,#f6b394,#f6b293,#f6b292,#f6b191,#f6b191,#f6b090)"></div><div style="height:1.2px;background:linear-gradient(90deg,#f6b091,#f6b191,#f6b192,#f6b192,#f6b292,#f6b292,#f6b192,#f6b192,#f6b293,#f7b596,#f7ba9d,#f9c2a7,#fbcdb5,#fdd9c4,#fce0cf,#fbe4d7,#fae7dc,#fae8dd,#fae7dc,#fbe4d7,#fce0d0,#fddbc7,#fbd1ba,#fac8ae,#f8c0a4,#f7ba9d,#f7b698,#f6b495,#f6b393,#f6b292,#f6b292,#f6b192,#f6b191,#f6b191,#f6b090)"></div><div style="height:1.2px;background:linear-gradient(90deg,#f6b091,#f6b191,#f6b191,#f6b191,#f6b191,#f6b090,#f6af8e,#f5ad8d,#f5ad8c,#f6ae8e,#f6b394,#f8bc9f,#fac7ae,#fcd4be,#fcdecc,#fbe3d5,#fbe6db,#fae7dc,#fbe6db,#fbe3d5,#fcdfce,#fdd8c4,#fbceb6,#f9c4a9,#f8bc9f,#f7b698,#f6b394,#f6b192,#f6b191,#f6b191,#f6b191,#f6b191,#f6b191,#f6b091,#f6b090)"></div><div style="height:1.2px;background:linear-gradient(90deg,#f6b091,#f6b191,#f6b191,#f6b091,#f6b090,#f6ae8e,#f5ac8b,#f5a987,#f4a785,#f4a885,#f5ac8b,#f7b596,#f9c1a6,#fbcfb8,#fddcc9,#fce2d3,#fbe6d9,#fae7db,#fbe6d9,#fbe2d4,#fcdecc,#fcd5bf,#fac9b1,#f8bfa3,#f7b799,#f6b192,#f6af8f,#f6ae8e,#f6af8e,#f6af8f,#f6b090,#f6b090,#f6b091,#f6b091,#f6b090)"></div><div style="height:1.2px;background:linear-gradient(90deg,#f6b090,#f6b091,#f6b090,#f6b090,#f6ae8e,#f5ac8b,#f5a987,#f4a482,#f2a07e,#f29f7e,#f4a481,#f5ad8d,#f8bb9e,#facab2,#fddac5,#fce1d1,#fbe5d8,#fbe6da,#fbe5d8,#fce1d2,#fddcc9,#fbd1bb,#f9c5aa,#f7b99c,#f6b191,#f5ac8b,#f5aa89,#f5ab8a,#f5ac8b,#f5ae8d,#f6af8f,#f6b090,#f6b090,#f6b090,#f6b090)"></div><div style="height:1.2px;background:linear-gradient(90deg,#f6b090,#f6b090,#f6b090,#f6af8f,#f5ad8c,#f5aa88,#f4a582,#f19e7d,#ee9878,#ed9676,#ef9a7a,#f4a683,#f7b596,#f9c6ac,#fcd6c1,#fcdfcf,#fbe4d6,#fbe5d9,#fbe4d7,#fce0d0,#fddac6,#fbcdb5,#f8bfa3,#f6b293,#f5a987,#f4a582,#f4a582,#f4a785,#f5aa88,#f5ac8b,#f6ae8e,#f6af8f,#f6b090,#f6b090,#f6b090)"></div><div style="height:1.2px;background:linear-gradient(90deg,#f6b090,#f6b090,#f6af8f,#f6ae8e,#f5ac8b,#f4a885,#f2a17f,#ee9878,#eb9072,#e98c6f,#eb9072,#f19d7c,#f6af8e,#f9c1a6,#fcd3bd,#fcdecd,#fbe3d5,#fbe5d8,#fbe3d5,#fcdfce,#fcd7c2,#fac8af,#f7b89a,#f5a987,#f19d7c,#ef9a7a,#f19d7c,#f3a380,#f4a785,#f5aa89,#f5ad8c,#f6af8e,#f6b090,#f6b090,#f6b090)"></div><div style="height:1.2px;background:linear-gradient(90deg,#f6b090,#f6b090,#f6af8f,#f5ad8d,#f5aa89,#f4a583,#f09d7c,#ec9273,#e7886b,#e58267,#e7866a,#ed9475,#f5a987,#f8bda1,#fbd0b9,#fdddcb,#fbe2d3,#fbe4d6,#fbe2d3,#fcdecc,#fcd3bd,#f9c3a8,#f6b090,#f09b7a,#e98c6f,#e98c6e,#ec9475,#f09c7b,#f3a481,#f5a987,#f5ac8b,#f6ae8e,#f6af8f,#f6b090,#f6b090)"></div><div style="height:1.2px;background:linear-gradient(90deg,#f6b090,#f6b090,#f6af8e,#f5ad8c,#f5a987,#f3a380,#ef9878,#e98b6e,#e37e64,#e0765e,#e27b61,#e98b6e,#f4a481,#f7ba9c,#fbceb6,#fddcc9,#fce2d2,#fbe3d5,#fce1d2,#fddcca,#fbd0b8,#f8bda1,#f4a683,#e7886b,#df765e,#e17960,#e7876b,#ed9676,#f2a07e,#f4a784,#f5ab89,#f5ad8d,#f6af8f,#f6b090,#f6b090)"></div><div style="height:1.2px;background:linear-gradient(90deg,#f6b090,#f6af8f,#f6ae8e,#f5ac8b,#f4a886,#f2a07e,#ed9475,#e58468,#de725b,#d96753,#db6c57,#e48166,#f19e7c,#f7b799,#faccb3,#fddcc8,#fce1d1,#fbe2d4,#fce0d0,#fddbc7,#faccb4,#f7b698,#ee9677,#dc6e58,#d25849,#d6604d,#e17960,#ea8e71,#f09c7b,#f4a582,#f5aa88,#f5ad8c,#f6af8e,#f6b08f,#f6b090)"></div><div style="height:1.2px;background:linear-gradient(90deg,#f6b090,#f6af8f,#f5ae8d,#f5ab8a,#f4a684,#f19d7c,#ea8f71,#e27b61,#d7634f,#d05347,#d35a4a,#df745d,#ee9777,#f6b495,#facab1,#fddbc7,#fce0d0,#fce2d3,#fce0cf,#fdd9c5,#fac8af,#f6af8f,#e68469,#cd4e45,#be3137,#c6403e,#d96753,#e7866a,#ee9878,#f3a380,#f5a987,#f5ac8b,#f6ae8e,#f6af8f,#f6b090)"></div><div style="height:1.2px;background:linear-gradient(90deg,#f6b090,#f6af8f,#f5ad8d,#f5aa89,#f4a582,#f09b7a,#e88a6d,#dd7059,#cd4f45,#c2383a,#c6403e,#d86450,#ea8f71,#f6b192,#fac9b0,#fddac6,#fce0cf,#fce1d2,#fcdfce,#fcd7c2,#f9c5aa,#f4a886,#dd6f59,#ba2933,#9c1127,#b41c2d,#d05347,#e37e64,#ed9475,#f2a07f,#f4a885,#f5ac8b,#f6ae8e,#f6af8f,#f6b090)"></div><div style="height:1.2px;background:linear-gradient(90deg,#f6b090,#f6af8f,#f5ad8c,#f5aa88,#f4a481,#ef9878,#e68469,#d7634f,#c13539,#b0172b,#b6202f,#ce5045,#e7866a,#f6af8e,#fac8ae,#fdd9c5,#fcdfcf,#fce1d1,#fcdecd,#fcd5c0,#f9c1a6,#f29f7e,#d3594a,#991027,#69011f,#8d0c25,#c53e3d,#df755d,#eb9172,#f19f7d,#f4a784,#f5ab8a,#f5ae8d,#f6af8f,#f6b090)"></div><div style="height:1.2px;background:linear-gradient(90deg,#f6b08f,#f6af8e,#f5ad8c,#f5a988,#f3a380,#ee9677,#e37e64,#d05447,#b1182b,#850a24,#930e26,#c2383a,#e27c62,#f5ac8b,#fac7ad,#fdd9c4,#fcdfce,#fce1d1,#fcdecc,#fcd4be,#f8bfa3,#ee9778,#c84540,#720421,#67001f,#67001f,#bb2b34,#dc6e58,#ea8e70,#f19d7c,#f4a684,#f5ab8a,#f5ae8d,#f6af8f,#f6b090)"></div><div style="height:1.2px;background:linear-gradient(90deg,#f6b08f,#f6af8e,#f5ad8c,#f5a987,#f3a280,#ed9475,#e17960,#c84440,#910d26,#67001f,#68001f,#b51e2e,#de715a,#f5aa88,#f9c6ac,#fdd8c3,#fcdfce,#fce0d0,#fcdecb,#fcd3bd,#f8bda1,#eb9173,#c03539,#67001f,#67001f,#67001f,#b41b2d,#da6853,#e98c6f,#f09c7b,#f4a683,#f5ab89,#f5ae8d,#f6af8f,#f6b090)"></div><div style="height:1.2px;background:linear-gradient(90deg,#f6af8f,#f6af8e,#f5ad8c,#f5a987,#f2a17f,#ec9374,#df745c,#c13539,#720421,#67001f,#67001f,#a01228,#da6853,#f4a885,#f9c6ac,#fdd8c3,#fcdfce,#fce0d0,#fcddcb,#fcd3bc,#f8bca0,#ea8e70,#bc2c34,#67001f,#67001f,#67001f,#ad162a,#d86551,#e98b6e,#f09c7b,#f4a683,#f5ab89,#f5ae8d,#f6af8f,#f6b090)"></div><div style="height:1.2px;background:linear-gradient(90deg,#f6af8f,#f6af8e,#f5ac8c,#f5a987,#f2a17f,#ec9273,#dd715a,#bb2b34,#67001f,#67001f,#67001f,#8d0c25,#d7624e,#f4a784,#f9c6ac,#fdd8c4,#fcdfce,#fce0d0,#fcddcb,#fcd3bc,#f8bca0,#ea8e71,#bc2c34,#67001f,#67001f,#67001f,#ad162a,#d86651,#e98b6e,#f09c7b,#f4a683,#f5ab89,#f5ae8d,#f6af8f,#f6b090)"></div><div style="height:1.2px;background:linear-gradient(90deg,#f6af8f,#f6af8e,#f5ad8c,#f5a987,#f2a17f,#ec9273,#dd6f59,#b92632,#67001f,#67001f,#67001f,#850a24,#d65f4d,#f4a784,#fac6ad,#fdd9c4,#fcdfce,#fce0d0,#fcdecc,#fcd3bd,#f8bea1,#ec9273,#c03539,#67001f,#67001f,#67001f,#b41b2d,#da6954,#e98c6f,#f09d7c,#f4a683,#f5ab8a,#f5ae8d,#f6af8f,#f6b090)"></div><div style="height:1.2px;background:linear-gradient(90deg,#f6af8f,#f6af8e,#f5ad8c,#f5a987,#f3a280,#ec9374,#dd715a,#ba2933,#67001f,#67001f,#67001f,#890b24,#d7624f,#f5a886,#fac7ae,#fddac5,#fce0cf,#fce1d1,#fcdecc,#fcd5bf,#f8c0a4,#ef9878,#c84540,#700321,#67001f,#67001f,#bb2b34,#dc6f58,#ea8f71,#f19e7d,#f4a784,#f5ab8a,#f5ae8d,#f6af8f,#f6b090)"></div><div style="height:1.2px;background:linear-gradient(90deg,#f6b08f,#f6af8e,#f5ad8c,#f5a988,#f3a380,#ed9475,#df755d,#bf3237,#67001f,#67001f,#67001f,#991027,#da6a55,#f5ac8a,#fac9b0,#fddbc7,#fce0cf,#fce1d2,#fcdfcd,#fcd6c1,#f9c3a8,#f2a17f,#d35a4a,#981027,#67001f,#8c0c25,#c53f3d,#e0775e,#ec9273,#f2a07e,#f4a785,#f5ac8a,#f6ae8e,#f6af8f,#f6b090)"></div><div style="height:1.2px;background:linear-gradient(90deg,#f6b090,#f6af8f,#f5ad8c,#f5aa88,#f4a481,#ee9777,#e27b62,#c6413e,#830923,#67001f,#67001f,#b2192b,#e0765e,#f6b090,#faccb3,#fddcc8,#fce1d0,#fce2d3,#fcdfce,#fdd8c3,#fac6ac,#f5aa88,#dd705a,#ba2833,#9b1027,#b41b2c,#d05548,#e47f65,#ed9676,#f3a27f,#f5a886,#f5ac8b,#f6ae8e,#f6af8f,#f6b090)"></div><div style="height:1.2px;background:linear-gradient(90deg,#f6b090,#f6af8f,#f5ad8d,#f5aa89,#f4a583,#ef9a7a,#e58267,#d05347,#a71429,#730421,#850a24,#c2373a,#e6856a,#f7b597,#fbceb7,#fdddca,#fce1d2,#fbe2d4,#fce0d0,#fddac6,#facab1,#f6b192,#e6866a,#ce4f45,#be3137,#c7413e,#da6954,#e8886c,#ef9a79,#f3a481,#f5a987,#f5ad8c,#f6af8e,#f6af8f,#f6b090)"></div><div style="height:1.2px;background:linear-gradient(90deg,#f6b090,#f6af8f,#f5ae8d,#f5ab8a,#f4a784,#f19d7c,#e88a6e,#d96652,#bf3237,#a71429,#b41c2d,#d15749,#ed9576,#f8bb9e,#fbd1bb,#fcdecb,#fce2d3,#fbe3d5,#fce1d1,#fddcc9,#fbceb6,#f7b99b,#ef9979,#dd7059,#d2594a,#d7624e,#e27b62,#eb9173,#f19e7d,#f4a683,#f5aa89,#f5ad8d,#f6af8f,#f6b090,#f6b090)"></div><div style="height:1.2px;background:linear-gradient(90deg,#f6b090,#f6af8f,#f6ae8e,#f5ac8b,#f5a886,#f2a17f,#ec9274,#e0785f,#d05447,#c33b3b,#ca4841,#df745c,#f4a481,#f9c1a6,#fcd5bf,#fcdfcd,#fbe3d4,#fbe4d6,#fce2d3,#fdddcb,#fbd2bb,#f8bfa4,#f5a886,#e88a6e,#e17860,#e27b62,#e88a6e,#ef9978,#f3a280,#f4a886,#f5ab8a,#f5ae8d,#f6af8f,#f6b090,#f6b090)"></div><div style="height:1.2px;background:linear-gradient(90deg,#f6b090,#f6b08f,#f6af8e,#f5ad8c,#f5aa88,#f4a582,#ef9a79,#e7876b,#dd7059,#d7614e,#db6c56,#ea8d70,#f6af8f,#fac7ad,#fcd8c3,#fce0cf,#fbe4d6,#fbe5d8,#fbe3d5,#fcdfcd,#fcd5c0,#f9c5ab,#f6b394,#f19f7d,#eb9072,#ea8f71,#ee9777,#f29f7e,#f4a683,#f5aa88,#f5ad8c,#f6ae8e,#f6af8f,#f6b090,#f6b090)"></div><div style="height:1.2px;background:linear-gradient(90deg,#f6b090,#f6b090,#f6af8f,#f5ae8d,#f5ab8a,#f4a785,#f2a07e,#ed9475,#e7866a,#e37f65,#e8886c,#f2a17f,#f7b89b,#faccb4,#fddbc7,#fce1d1,#fbe4d7,#fbe5d9,#fbe4d6,#fce0cf,#fdd9c4,#facbb2,#f8bb9e,#f5ac8b,#f2a17f,#f19e7c,#f2a17f,#f4a582,#f5a987,#f5ac8a,#f5ae8d,#f6af8f,#f6b090,#f6b090,#f6b090)"></div><div style="height:1.2px;background:linear-gradient(90deg,#f6b090,#f6b090,#f6af8f,#f6ae8e,#f5ad8c,#f5aa88,#f4a683,#f19f7d,#ee9777,#ed9576,#f19e7c,#f6ae8e,#f9c0a5,#fbd1ba,#fdddca,#fce2d3,#fbe5d9,#fbe6da,#fbe5d8,#fce1d1,#fddcc8,#fbcfb8,#f9c2a7,#f7b597,#f5ac8b,#f5a886,#f4a886,#f5a988,#f5ab8a,#f5ad8d,#f6af8e,#f6b090,#f6b090,#f6b090,#f6b090)"></div><div style="height:1.2px;background:linear-gradient(90deg,#f6b090,#f6b090,#f6b090,#f6af8f,#f5ae8d,#f5ac8b,#f5aa88,#f4a684,#f3a481,#f4a582,#f5ac8b,#f7b89a,#fac7ad,#fcd5bf,#fcdecc,#fbe3d5,#fbe6da,#fae7db,#fbe5d9,#fbe2d3,#fdddcb,#fcd4bd,#fac7ae,#f8bc9f,#f6b495,#f6af8e,#f5ad8c,#f5ad8c,#f5ae8d,#f6af8f,#f6b090,#f6b090,#f6b090,#f6b090,#f6b090)"></div><div style="height:1.2px;background:linear-gradient(90deg,#f6b090,#f6b090,#f6b090,#f6b090,#f6af8f,#f6ae8e,#f5ad8c,#f5ac8a,#f5ab8a,#f5ae8d,#f7b596,#f8bfa4,#faccb4,#fdd8c4,#fcdfcf,#fbe4d6,#fbe7db,#fae7dc,#fbe6da,#fbe3d5,#fcdecd,#fcd7c2,#faccb4,#f9c2a7,#f7b99c,#f7b495,#f6b192,#f6b090,#f6b090,#f6b090,#f6b191,#f6b191,#f6b191,#f6b091,#f6b090)"></div><div style="height:1.2px;background:linear-gradient(90deg,#f6b090,#f6b091,#f6b191,#f6b191,#f6b090,#f6b090,#f6b08f,#f6b090,#f6b191,#f7b596,#f8bb9f,#f9c5ab,#fbd0b9,#fddbc8,#fce1d1,#fbe5d8,#fae7dc,#fae8dd,#fae7db,#fbe4d6,#fce0cf,#fddac6,#fbd0b9,#fac6ac,#f8bea2,#f7b89b,#f7b596,#f6b394,#f6b292,#f6b192,#f6b192,#f6b191,#f6b191,#f6b191,#f6b090)"></div><div style="height:1.2px;background:linear-gradient(90deg,#f6b091,#f6b191,#f6b191,#f6b191,#f6b192,#f6b192,#f6b292,#f6b394,#f7b597,#f7ba9c,#f9c1a5,#facab1,#fcd4be,#fdddca,#fce2d2,#fbe5d9,#fae8dd,#fae8de,#fae7dc,#fbe5d8,#fce1d1,#fddcc9,#fcd3bd,#facab1,#f9c2a7,#f8bc9f,#f7b89a,#f7b597,#f6b395,#f6b393,#f6b292,#f6b192,#f6b191,#f6b191,#f6b090)"></div><div style="height:1.2px;background:linear-gradient(90deg,#f6b091,#f6b191,#f6b191,#f6b292,#f6b293,#f6b394,#f6b495,#f7b697,#f7b99b,#f8bea2,#f9c5aa,#fbcdb5,#fcd7c2,#fcdecc,#fbe3d4,#fbe6da,#fae8de,#fae9df,#fae8dd,#fbe5d9,#fce2d2,#fdddcb,#fcd6c0,#fbcdb5,#f9c5ab,#f8bfa3,#f8ba9d,#f7b799,#f7b596,#f6b394,#f6b293,#f6b292,#f6b191,#f6b191,#f6b091)"></div><div style="height:1.2px;background:linear-gradient(90deg,#f6b091,#f6b191,#f6b192,#f6b293,#f6b394,#f6b495,#f7b697,#f7b89a,#f8bc9f,#f9c1a6,#fac8af,#fbd0b9,#fddac5,#fcdfce,#fbe3d5,#fbe7db,#fae9de,#fae9df,#fae8de,#fbe6da,#fbe2d3,#fcdecc,#fcd8c3,#fbcfb8,#fac7ae,#f9c1a6,#f8bca0,#f7b99b,#f7b698,#f7b495,#f6b394,#f6b293,#f6b192,#f6b191,#f6b091)"></div><div style="height:1.2px;background:linear-gradient(90deg,#f6b191,#f6b191,#f6b292,#f6b293,#f6b394,#f7b596,#f7b799,#f7ba9d,#f8bea2,#f9c3a9,#facab2,#fcd3bc,#fddbc8,#fce0cf,#fbe4d6,#fae7dc,#fae9df,#fae9e0,#fae9de,#fbe6da,#fbe3d4,#fcdfcd,#fddac5,#fbd1ba,#fac9b1,#f9c3a8,#f8bea2,#f7ba9d,#f7b799,#f7b596,#f6b394,#f6b293,#f6b192,#f6b191,#f6b091)"></div><div style="height:1.2px;background:linear-gradient(90deg,#f6b191,#f6b191,#f6b292,#f6b393,#f6b495,#f7b697,#f7b89a,#f8bb9e,#f8c0a4,#f9c6ac,#fbcdb5,#fcd5bf,#fddcc9,#fce1d1,#fbe4d7,#fae7dc,#fae9df,#faeae0,#fae9df,#fbe7db,#fbe3d5,#fcdfce,#fddbc7,#fcd3bc,#facbb3,#f9c4aa,#f8bfa3,#f8bb9e,#f7b89a,#f7b597,#f6b495,#f6b293,#f6b192,#f6b191,#f6b091)"></div><div style="height:1.2px;background:linear-gradient(90deg,#f6b191,#f6b191,#f6b292,#f6b394,#f7b495,#f7b698,#f7b99b,#f8bca0,#f9c1a6,#fac7ae,#fbceb7,#fcd6c1,#fdddca,#fce1d2,#fbe5d8,#fae8dd,#fae9e0,#faeae0,#fae9df,#fae7db,#fbe4d6,#fce0cf,#fddcc8,#fcd4be,#fbccb4,#f9c6ac,#f9c0a5,#f8bc9f,#f7b89b,#f7b697,#f6b495,#f6b293,#f6b192,#f6b191,#f6b091)"></div><div style="height:1.2px;background:linear-gradient(90deg,#f6b191,#f6b191,#f6b292,#f6b394,#f7b596,#f7b799,#f7ba9c,#f8bda1,#f9c2a7,#fac8af,#fbd0b8,#fcd7c3,#fcddcb,#fce2d2,#fbe5d8,#fae8dd,#faeae0,#faeae1,#fae9df,#fae7dc,#fbe4d6,#fce0d0,#fddcc9,#fcd5bf,#fbcdb5,#fac7ad,#f9c1a6,#f8bca0,#f7b99b,#f7b698,#f6b495,#f6b393,#f6b292,#f6b191,#f6b091)"></div><div style="height:1.2px;background:linear-gradient(90deg,#f6b191,#f6b192,#f6b293,#f6b394,#f7b596,#f7b799,#f8ba9d,#f8bea2,#f9c3a9,#fac9b0,#fbd1ba,#fdd8c4,#fcdecc,#fce2d3,#fbe5d9,#fae8de,#faeae0,#faeae1,#fae9df,#fae7dc,#fbe4d7,#fce0d0,#fddcc9,#fcd6c0,#fbceb6,#fac7ae,#f9c1a6,#f8bda0,#f7b99c,#f7b698,#f7b495,#f6b393,#f6b292,#f6b191,#f6b091)"></div><div style="height:1.2px;background:linear-gradient(90deg,#f6b191,#f6b192,#f6b293,#f6b394,#f7b596,#f7b799,#f8ba9d,#f8bfa3,#f9c4a9,#facab1,#fbd1bb,#fdd9c5,#fcdecc,#fbe2d3,#fbe6d9,#fae8de,#faeae0,#faeae1,#fae9e0,#fae7dc,#fbe4d7,#fce1d1,#fdddca,#fcd6c1,#fbcfb7,#fac8ae,#f9c2a7,#f8bda1,#f7b99c,#f7b698,#f7b495,#f6b393,#f6b292,#f6b191,#f6b091)"></div><div style="height:1.2px;background:linear-gradient(90deg,#f6b191,#f6b192,#f6b293,#f6b394,#f7b596,#f7b79a,#f8bb9e,#f8bfa3,#f9c4aa,#facbb2,#fbd2bb,#fddac5,#fcdecd,#fbe2d4,#fbe6d9,#fae8de,#faeae1,#faeae1,#fae9e0,#fae7dc,#fbe4d7,#fce1d1,#fdddca,#fcd6c1,#fbcfb8,#fac8af,#f9c2a7,#f8bda1,#f7b99c,#f7b698,#f7b495,#f6b393,#f6b292,#f6b191,#f6b091)"></div><div style="height:1.2px;background:linear-gradient(90deg,#f6b191,#f6b192,#f6b293,#f6b394,#f7b597,#f7b89a,#f8bb9e,#f8bfa4,#f9c5aa,#facbb3,#fcd2bc,#fddac6,#fcdfcd,#fbe2d4,#fbe6da,#fae8de,#faeae1,#faeae1,#fae9e0,#fae7dc,#fbe5d7,#fce1d1,#fdddca,#fcd7c2,#fbcfb8,#fac8af,#f9c2a7,#f8bda1,#f7b99c,#f7b798,#f7b496,#f6b394,#f6b292,#f6b191,#f6b091)"></div><div style="height:1.2px;background:linear-gradient(90deg,#f6b191,#f6b192,#f6b293,#f6b394,#f7b597,#f7b89a,#f8bb9e,#f8bfa4,#f9c5ab,#facbb3,#fcd3bc,#fddac6,#fcdfcd,#fbe3d4,#fbe6da,#fae8de,#faeae1,#faeae1,#fae9e0,#fae7dc,#fbe5d7,#fce1d1,#fdddca,#fcd7c2,#fbcfb8,#fac8af,#f9c2a8,#f8bea1,#f7ba9c,#f7b798,#f7b496,#f6b394,#f6b292,#f6b191,#f6b091)"></div><div style="height:1.2px;background:linear-gradient(90deg,#f6b191,#f6b192,#f6b293,#f6b394,#f7b597,#f7b89a,#f8bb9e,#f8c0a4,#f9c5ab,#facbb3,#fcd3bc,#fddac6,#fcdfce,#fbe3d4,#fbe6da,#fae8de,#faeae1,#faeae1,#fae9e0,#fae8dc,#fbe5d7,#fce1d1,#fdddcb,#fcd7c2,#fbd0b8,#fac9af,#f9c3a8,#f8bea1,#f7ba9c,#f7b798,#f7b496,#f6b394,#f6b292,#f6b191,#f6b091)"></div></div></div><div style="position:absolute;left:442.1px;top:286.9px;width:62.6px;height:54.4px;overflow:hidden;clip-path:polygon(17.7px 2.8px,3.0px 10.9px,1.0px 19.1px,1.0px 33.3px,6.0px 43.0px,12.1px 48.9px,21.8px 52.5px,31.3px 53.4px,40.8px 52.5px,50.5px 48.9px,56.6px 43.0px,61.6px 33.3px,61.6px 19.1px,59.5px 10.9px,44.8px 2.8px,43.6px 4.6px,41.9px 3.6px,40.1px 2.8px,38.2px 2.1px,36.3px 1.5px,34.3px 1.2px,32.3px 1.0px,30.3px 1.0px,28.3px 1.2px,26.3px 1.5px,24.4px 2.1px,22.5px 2.8px,20.7px 3.6px,18.9px 4.6px);"><div style="position:absolute;left:-2.4px;top:-2.4px;width:68.0px;filter:blur(0.8px)"><div style="height:1.2px;background:linear-gradient(90deg,#f9c4aa,#f9c5ab,#fac6ac,#fac8ae,#facab1,#fbccb4,#fbd0b9,#fcd4be,#fdd8c4,#fddcc9,#fcdfce,#fbe2d3,#fbe5d8,#fae8dd,#faeae1,#f9ece4,#f9ede6,#f9ede6,#f9ede5,#f9ebe3,#fae9e0,#fae7dc,#fbe4d7,#fce1d2,#fcdecd,#fddbc8,#fcd7c2,#fcd2bc,#fbcfb7,#facbb3,#fac9b0,#fac7ae,#f9c6ac,#f9c5ab,#f9c4aa)"></div><div style="height:1.2px;background:linear-gradient(90deg,#f9c4aa,#f9c5ab,#fac6ac,#fac8ae,#facab1,#fbccb4,#fbd0b9,#fcd4be,#fdd8c3,#fddcc9,#fcdfce,#fbe2d3,#fbe5d8,#fae8dd,#faeae1,#f9ece4,#f9ede6,#f9ede6,#f9ede5,#f9ebe3,#fae9e0,#fae7dc,#fbe4d7,#fce1d2,#fcdecd,#fddbc8,#fcd7c2,#fcd2bc,#fbcfb7,#facbb3,#fac9b0,#fac7ae,#f9c6ac,#f9c5ab,#f9c4aa)"></div><div style="height:1.2px;background:linear-gradient(90deg,#f9c4aa,#f9c5ab,#fac6ac,#fac8ae,#facab1,#fbccb4,#fbd0b8,#fcd4be,#fdd8c3,#fddcc9,#fcdfce,#fbe2d3,#fbe5d8,#fae8dd,#faeae1,#f9ece4,#f9ede6,#f9ede6,#f9ede5,#f9ebe3,#fae9e0,#fae7dc,#fbe4d7,#fce1d2,#fcdecc,#fddbc8,#fcd7c1,#fcd2bc,#fbcfb7,#facbb3,#fac9b0,#fac7ae,#f9c6ac,#f9c5ab,#f9c4aa)"></div><div style="height:1.2px;background:linear-gradient(90deg,#f9c4aa,#f9c5ab,#fac6ac,#fac8ae,#facab1,#fbccb4,#fbd0b8,#fcd4be,#fdd8c3,#fddcc9,#fcdfce,#fbe2d3,#fbe5d8,#fae8dd,#faeae1,#f9ece4,#f9ede6,#f9ede6,#f9ede5,#f9ebe3,#fae9e0,#fae7db,#fbe4d7,#fce1d1,#fcdecc,#fddbc7,#fcd7c1,#fcd2bc,#fbceb7,#facbb3,#fac9b0,#fac7ae,#f9c6ac,#f9c5ab,#f9c4aa)"></div><div style="height:1.2px;background:linear-gradient(90deg,#f9c4aa,#f9c5ab,#fac6ac,#fac8ae,#facab1,#fbccb4,#fbd0b8,#fcd4bd,#fdd8c3,#fddcc9,#fcdfce,#fce2d3,#fbe5d8,#fae8dd,#faeae1,#f9ece4,#f9ede6,#f9ede6,#f9ede5,#f9ebe3,#fae9e0,#fae7db,#fbe4d6,#fce1d1,#fcdecc,#fddbc7,#fcd6c1,#fcd2bc,#fbceb7,#facbb3,#fac9b0,#fac7ae,#f9c6ac,#f9c5ab,#f9c4aa)"></div><div style="height:1.2px;background:linear-gradient(90deg,#f9c4aa,#f9c5ab,#fac6ac,#fac8ae,#facab1,#fbccb4,#fbd0b8,#fcd3bd,#fcd8c3,#fddcc9,#fcdfcd,#fce2d2,#fbe5d7,#fae7dc,#faeae0,#f9ece4,#f9ede6,#f9ede6,#f9ede5,#faebe3,#fae9df,#fae7db,#fbe4d6,#fce1d1,#fcdecc,#fddbc7,#fcd6c1,#fbd2bb,#fbceb7,#facbb3,#fac9b0,#fac7ae,#f9c6ac,#f9c5ab,#f9c4aa)"></div><div style="height:1.2px;background:linear-gradient(90deg,#f9c4aa,#f9c5ab,#fac6ac,#fac8ae,#facab1,#fbccb4,#fbcfb8,#fcd3bd,#fcd7c2,#fddcc8,#fcdecd,#fce1d2,#fbe4d7,#fae7dc,#faeae0,#f9ece3,#f9ede5,#f9ede6,#f9ede5,#faebe3,#fae9df,#fbe6db,#fbe3d5,#fce0d0,#fdddcb,#fddac6,#fcd6c0,#fbd2bb,#fbceb7,#facbb3,#fac9b0,#fac7ae,#f9c6ac,#f9c5ab,#f9c4aa)"></div><div style="height:1.2px;background:linear-gradient(90deg,#f9c4aa,#f9c5ab,#fac6ac,#fac8ae,#facab1,#fbccb4,#fbcfb8,#fcd3bd,#fcd7c2,#fddbc7,#fcdecc,#fce1d1,#fbe4d6,#fbe7db,#fae9e0,#f9ebe3,#f9ede5,#f9ede6,#f9ede5,#faebe3,#fae9df,#fbe6da,#fbe3d5,#fce0cf,#fdddca,#fdd9c5,#fcd5bf,#fbd1ba,#fbceb6,#facbb3,#fac9b0,#fac7ae,#f9c6ac,#f9c5ab,#f9c4aa)"></div><div style="height:1.2px;background:linear-gradient(90deg,#f9c4aa,#f9c5ab,#fac6ac,#fac8ae,#facab1,#fbccb4,#fbcfb8,#fcd3bc,#fcd6c1,#fddac6,#fdddcb,#fce0cf,#fbe3d4,#fbe6da,#fae9df,#faebe3,#f9ede5,#f9ede6,#f9ece5,#faebe2,#fae9de,#fbe6d9,#fbe2d3,#fcdfce,#fddcc9,#fcd8c3,#fcd4be,#fbd0ba,#fbceb6,#facbb3,#fac9b0,#fac7ae,#f9c6ac,#f9c5ab,#f9c4aa)"></div><div style="height:1.2px;background:linear-gradient(90deg,#f9c4aa,#f9c5ab,#fac6ac,#fac8ae,#facab1,#fbccb4,#fbcfb8,#fcd2bc,#fcd5c0,#fdd9c4,#fddcc9,#fcdfce,#fce2d3,#fbe5d9,#fae8de,#faebe2,#f9ece5,#f9ede6,#f9ece5,#faebe2,#fae8de,#fbe5d8,#fce1d2,#fcdecc,#fddbc7,#fcd6c1,#fcd3bc,#fbd0b9,#fbcdb5,#facbb2,#fac9b0,#fac7ae,#f9c6ac,#f9c5ab,#f9c4aa)"></div><div style="height:1.2px;background:linear-gradient(90deg,#f9c4aa,#f9c5ab,#fac6ac,#fac8ae,#facab1,#faccb4,#fbcfb7,#fbd2bb,#fcd4bf,#fcd7c3,#fddbc7,#fcdecc,#fce1d1,#fbe4d7,#fae8dd,#faeae1,#f9ece4,#f9ede5,#f9ece4,#faebe2,#fae8dd,#fbe4d7,#fce1d0,#fdddca,#fdd9c4,#fcd4be,#fbd1ba,#fbcfb7,#fbcdb5,#facbb2,#fac9b0,#fac7ad,#f9c6ac,#f9c5ab,#f9c4aa)"></div><div style="height:1.2px;background:linear-gradient(90deg,#f9c4aa,#f9c5ab,#fac6ac,#fac8ae,#facab1,#faccb4,#fbceb7,#fbd1ba,#fcd3bd,#fcd6c0,#fdd9c5,#fddcc9,#fce0cf,#fbe3d5,#fae7dc,#faeae1,#f9ece4,#f9ede5,#f9ece4,#faeae1,#fae7dc,#fbe4d6,#fce0cf,#fddcc8,#fcd6c1,#fcd2bc,#fbd0b9,#fbceb6,#fbccb4,#facab2,#fac9af,#fac7ad,#f9c6ac,#f9c5ab,#f9c4aa)"></div><div style="height:1.2px;background:linear-gradient(90deg,#f9c4aa,#f9c5ab,#fac6ac,#fac8ae,#facab1,#faccb4,#fbceb7,#fbd0b9,#fcd2bc,#fcd4bf,#fcd7c2,#fddbc7,#fcdfcd,#fbe3d4,#fbe6db,#faeae0,#f9ece4,#f9ede5,#f9ece4,#faeae1,#fae7dc,#fbe3d5,#fcdfcd,#fddac6,#fcd4be,#fbd0b9,#fbceb7,#fbcdb5,#faccb3,#facab2,#fac9af,#fac7ad,#f9c6ac,#f9c5ab,#f9c4aa)"></div><div style="height:1.2px;background:linear-gradient(90deg,#f9c4aa,#f9c5ab,#fac6ac,#fac8ae,#fac9b1,#faccb3,#fbceb6,#fbd0b9,#fbd2bb,#fcd3bd,#fcd6c0,#fddac6,#fcdecc,#fce2d3,#fbe6da,#fae9e0,#f9ece4,#f9ece5,#f9ece4,#faeae1,#fae7db,#fbe3d4,#fcdecc,#fdd8c4,#fcd2bc,#fbcfb7,#fbcdb5,#fbccb4,#facbb3,#facab1,#fac8af,#fac7ad,#f9c6ac,#f9c5ab,#f9c4aa)"></div><div style="height:1.2px;background:linear-gradient(90deg,#f9c4aa,#f9c5ab,#fac6ac,#fac8ae,#fac9b1,#faccb3,#fbceb6,#fbd0b9,#fbd1bb,#fcd3bc,#fcd5bf,#fdd9c4,#fdddcb,#fce1d2,#fbe6d9,#fae9df,#f9ece3,#f9ece5,#f9ece4,#faeae0,#fbe7db,#fbe2d3,#fcddcb,#fcd7c3,#fbd1bb,#fbceb6,#fbcdb5,#faccb4,#facbb3,#facab1,#fac8af,#fac7ad,#f9c6ac,#f9c5ab,#f9c4aa)"></div><div style="height:1.2px;background:linear-gradient(90deg,#f9c4aa,#f9c5ab,#fac6ac,#fac8ae,#fac9b1,#faccb3,#fbceb6,#fbd0b9,#fbd1bb,#fcd3bc,#fcd5bf,#fdd9c4,#fdddcb,#fce1d2,#fbe6d9,#fae9df,#f9ece3,#f9ece5,#f9ece4,#faeae0,#fbe7db,#fbe2d3,#fcddcb,#fcd7c2,#fbd1bb,#fbceb6,#fbcdb5,#faccb4,#facbb3,#facab1,#fac8af,#fac7ad,#f9c6ac,#f9c5ab,#f9c4aa)"></div><div style="height:1.2px;background:linear-gradient(90deg,#f9c4aa,#f9c5ab,#fac6ac,#fac8ae,#fac9b1,#faccb3,#fbceb6,#fbd0b9,#fbd2bb,#fcd3bd,#fcd5c0,#fddac5,#fcdecc,#fce2d3,#fbe6da,#fae9e0,#f9ece4,#f9ece5,#f9ece4,#faeae1,#fae7db,#fbe2d4,#fcdecc,#fdd8c4,#fcd2bc,#fbcfb7,#fbcdb5,#fbccb4,#facbb3,#facab1,#fac8af,#fac7ad,#f9c6ac,#f9c5ab,#f9c4aa)"></div><div style="height:1.2px;background:linear-gradient(90deg,#f9c4aa,#f9c5ab,#fac6ac,#fac8ae,#facab1,#faccb4,#fbceb7,#fbd0b9,#fcd2bc,#fcd4be,#fcd7c2,#fddbc7,#fcdecd,#fbe2d4,#fbe6db,#faeae0,#f9ece4,#f9ede5,#f9ece4,#faeae1,#fae7dc,#fbe3d5,#fcdfcd,#fddac6,#fcd4be,#fbd0b9,#fbceb7,#fbcdb5,#faccb3,#facab1,#fac9af,#fac7ad,#f9c6ac,#f9c5ab,#f9c4aa)"></div><div style="height:1.2px;background:linear-gradient(90deg,#f9c4aa,#f9c5ab,#fac6ac,#fac8ae,#facab1,#faccb4,#fbceb7,#fbd1ba,#fcd3bd,#fcd6c0,#fdd9c4,#fddcc9,#fcdfcf,#fbe3d5,#fae7dc,#faeae1,#f9ece4,#f9ede5,#f9ece4,#faeae1,#fae7dc,#fbe4d6,#fcdfcf,#fddbc8,#fcd6c0,#fbd2bb,#fbcfb8,#fbceb6,#fbccb4,#facab2,#fac9af,#fac7ad,#f9c6ac,#f9c5ab,#f9c4aa)"></div><div style="height:1.2px;background:linear-gradient(90deg,#f9c4aa,#f9c5ab,#fac6ac,#fac8ae,#facab1,#faccb4,#fbcfb7,#fbd1bb,#fcd4be,#fcd7c2,#fddbc6,#fdddcb,#fce1d0,#fbe4d7,#fae8dd,#faeae1,#f9ece4,#f9ede5,#f9ece4,#faebe2,#fae8dd,#fbe4d7,#fce0d0,#fdddca,#fcd8c3,#fcd4be,#fbd1ba,#fbcfb7,#fbcdb5,#facbb2,#fac9b0,#fac7ad,#f9c6ac,#f9c5ab,#f9c4aa)"></div><div style="height:1.2px;background:linear-gradient(90deg,#f9c4aa,#f9c5ab,#fac6ac,#fac8ae,#facab1,#fbccb4,#fbcfb7,#fbd2bb,#fcd5bf,#fcd8c3,#fddcc8,#fcdecd,#fce1d2,#fbe5d8,#fae8de,#faebe2,#f9ece5,#f9ede6,#f9ece5,#faebe2,#fae8de,#fbe5d8,#fce1d2,#fcddcb,#fddac5,#fcd5bf,#fbd2bb,#fbcfb8,#fbcdb5,#facbb2,#fac9b0,#fac7ae,#f9c6ac,#f9c5ab,#f9c4aa)"></div><div style="height:1.2px;background:linear-gradient(90deg,#f9c4aa,#f9c5ab,#fac6ac,#fac8ae,#facab1,#fbccb4,#fbcfb7,#fbd2bb,#fcd5bf,#fdd8c4,#fddcc8,#fcdfcd,#fbe2d3,#fbe6d9,#fae9de,#faebe3,#f9ece5,#f9ede6,#f9ece5,#faebe2,#fae9de,#fbe5d9,#fce2d3,#fcdecc,#fddac6,#fcd5c0,#fcd2bc,#fbcfb8,#fbcdb5,#facbb2,#fac9b0,#fac7ae,#f9c6ac,#f9c5ab,#f9c4aa)"></div><div style="height:1.2px;background:linear-gradient(90deg,#f9c4aa,#f9c5ab,#fac6ac,#fac8ae,#facab1,#faccb4,#fbcfb7,#fbd1bb,#fcd4be,#fcd7c2,#fddbc8,#fcdfcd,#fbe2d3,#fbe6da,#fae9df,#faebe3,#f9ede5,#f9ede6,#f9ece5,#faebe3,#fae9df,#fbe6d9,#fce2d3,#fcdecc,#fdd9c5,#fcd4be,#fbd1ba,#fbcfb8,#fbcdb5,#facbb2,#fac9b0,#fac7ae,#f9c6ac,#f9c5ab,#f9c4aa)"></div><div style="height:1.2px;background:linear-gradient(90deg,#f9c4aa,#f9c5ab,#fac6ac,#fac8ae,#facab1,#faccb4,#fbceb7,#fbd0b9,#fcd2bc,#fcd5bf,#fdd9c5,#fcdecc,#fce2d3,#fbe6da,#fae9df,#f9ebe3,#f9ede5,#f9ede6,#f9ede5,#faebe3,#fae9df,#fbe6d9,#fce1d2,#fdddca,#fcd6c0,#fbd0b9,#fbceb7,#fbceb6,#fbcdb5,#facbb2,#fac9b0,#fac7ae,#f9c6ac,#f9c5ab,#f9c4aa)"></div><div style="height:1.2px;background:linear-gradient(90deg,#f9c4aa,#f9c5ab,#fac6ac,#fac8ae,#fac9b1,#faccb3,#fbcdb5,#fbceb7,#fbcfb7,#fbd0b9,#fcd4bf,#fddcc8,#fce1d0,#fbe5d9,#fae9df,#f9ebe3,#f9ede5,#f9ede6,#f9ede5,#faebe3,#fae9df,#fbe5d9,#fce0d0,#fdd9c5,#fbcfb8,#facab1,#fac9b0,#facbb2,#facbb3,#facbb2,#fac9b0,#fac7ae,#f9c6ac,#f9c5ab,#f9c4aa)"></div><div style="height:1.2px;background:linear-gradient(90deg,#f9c4aa,#f9c5ab,#fac6ac,#fac8ae,#fac9b0,#facbb3,#faccb4,#facbb3,#facab1,#fac9b1,#fbcdb5,#fcd6c1,#fcdfcd,#fbe4d7,#fae9de,#faebe3,#f9ede5,#f9ede6,#f9ede5,#faebe3,#fae9df,#fbe5d8,#fcdecd,#fcd3bc,#f9c6ac,#f9c0a5,#f9c2a7,#fac7ad,#facab1,#facab1,#fac9b0,#fac7ae,#f9c6ac,#f9c5ab,#f9c4aa)"></div><div style="height:1.2px;background:linear-gradient(90deg,#f9c4aa,#f9c5ab,#fac6ac,#fac8ae,#fac9b0,#facbb2,#facab2,#fac8af,#f9c4a9,#f9c1a6,#f9c4aa,#fbcfb7,#fddcc9,#fbe3d5,#fae8dd,#faebe3,#f9ede5,#f9ede6,#f9ede5,#faebe3,#fae9de,#fbe4d6,#fddcc9,#facbb2,#f8bb9e,#f7b596,#f7ba9d,#f9c3a8,#fac8af,#facab1,#fac9af,#fac7ae,#f9c6ac,#f9c5ab,#f9c4aa)"></div><div style="height:1.2px;background:linear-gradient(90deg,#f9c4aa,#f9c5ab,#fac6ac,#fac8ae,#fac9b0,#facab1,#fac9b0,#f9c4aa,#f8bea1,#f7b99b,#f8bb9e,#fac7ad,#fcd8c3,#fce2d2,#fae8dc,#faebe2,#f9ede5,#f9ede6,#f9ede5,#faebe3,#fae8de,#fbe3d5,#fdd9c5,#f9c3a9,#f6b091,#f5ab89,#f6b293,#f8bea2,#fac6ad,#fac9b0,#fac8af,#fac7ae,#f9c6ac,#f9c5ab,#f9c4aa)"></div><div style="height:1.2px;background:linear-gradient(90deg,#f9c4aa,#f9c5ab,#fac6ac,#fac8ae,#fac9b0,#facab1,#fac8ae,#f9c1a6,#f7b89b,#f6b192,#f6b394,#f8c0a4,#fcd3bd,#fce0d0,#fae7dc,#faebe2,#f9ede5,#f9ede6,#f9ede5,#faebe3,#fae8de,#fbe3d4,#fcd7c2,#f8bea2,#f5aa88,#f3a381,#f5ad8c,#f8bc9f,#f9c5ab,#fac9b0,#fac8af,#fac7ad,#f9c6ac,#f9c5ab,#f9c4aa)"></div><div style="height:1.2px;background:linear-gradient(90deg,#f9c4aa,#f9c5ab,#fac6ac,#fac7ae,#fac9b0,#fac9b0,#fac7ad,#f8c0a4,#f7b596,#f5ad8c,#f6ae8e,#f8bc9f,#fbd0b9,#fce0cf,#fae7db,#faebe2,#f9ede5,#f9ede6,#f9ede5,#faebe3,#fae8de,#fbe2d4,#fcd7c1,#f8bea2,#f5a987,#f3a280,#f5ac8b,#f8bb9e,#f9c5ab,#fac9b0,#fac8af,#fac7ad,#f9c6ac,#f9c5ab,#f9c4aa)"></div><div style="height:1.2px;background:linear-gradient(90deg,#f9c4aa,#f9c5ab,#fac6ac,#fac7ae,#fac9b0,#fac9b0,#fac7ad,#f8bfa4,#f7b596,#f5ac8b,#f5ae8d,#f8bb9f,#fbd0b9,#fce0cf,#fae7db,#faebe2,#f9ede5,#f9ede6,#f9ede5,#faebe3,#fae8de,#fbe3d4,#fdd8c4,#f9c1a6,#f5ae8d,#f4a885,#f6b090,#f8bda1,#fac6ac,#fac9b0,#fac8af,#fac7ae,#f9c6ac,#f9c5ab,#f9c4aa)"></div><div style="height:1.2px;background:linear-gradient(90deg,#f9c4aa,#f9c5ab,#fac6ac,#fac7ae,#fac9b0,#fac9b1,#fac7ae,#f9c1a6,#f7b799,#f6b090,#f6b292,#f8bfa3,#fcd2bc,#fce0d0,#fae7dc,#faebe2,#f9ede5,#f9ede6,#f9ede5,#faebe3,#fae8de,#fbe4d6,#fddcc8,#fac8af,#f7b799,#f6b191,#f7b799,#f9c1a6,#fac8ae,#fac9b1,#fac9af,#fac7ae,#f9c6ac,#f9c5ab,#f9c4aa)"></div><div style="height:1.2px;background:linear-gradient(90deg,#f9c4aa,#f9c5ab,#fac6ac,#fac8ae,#fac9b0,#facab1,#fac9af,#f9c4a9,#f8bca0,#f7b799,#f7b99c,#f9c5ab,#fcd7c1,#fce1d2,#fae7dc,#faebe2,#f9ede5,#f9ede6,#f9ede5,#faebe3,#fae9df,#fbe5d7,#fcdecc,#fbd0b9,#f9c2a7,#f8bda0,#f8c0a4,#f9c6ac,#fac9b1,#facab1,#fac9b0,#fac7ae,#f9c6ac,#f9c5ab,#f9c4aa)"></div><div style="height:1.2px;background:linear-gradient(90deg,#f9c4aa,#f9c5ab,#fac6ac,#fac8ae,#fac9b0,#facab2,#facab1,#fac7ae,#f9c2a8,#f8bfa4,#f9c2a7,#fbcdb5,#fddbc8,#fbe3d4,#fae8dd,#faebe3,#f9ede5,#f9ede6,#f9ede5,#faebe3,#fae9df,#fbe5d9,#fce0d0,#fdd8c3,#fbcdb5,#fac7ae,#fac8ae,#facab1,#facbb3,#facab2,#fac9b0,#fac7ae,#f9c6ac,#f9c5ab,#f9c4aa)"></div><div style="height:1.2px;background:linear-gradient(90deg,#f9c4aa,#f9c5ab,#fac6ac,#fac8ae,#fac9b0,#facbb3,#faccb3,#facbb2,#fac9b0,#fac8af,#faccb3,#fcd5bf,#fcdecd,#fbe4d7,#fae9de,#f9ebe3,#f9ede6,#f9ede6,#f9ede5,#f9ebe3,#fae9df,#fbe6da,#fce2d3,#fdddca,#fcd5c0,#fbd0b9,#fbceb6,#fbcdb6,#fbcdb5,#facbb2,#fac9b0,#fac7ae,#f9c6ac,#f9c5ab,#f9c4aa)"></div><div style="height:1.2px;background:linear-gradient(90deg,#f9c4aa,#f9c5ab,#fac6ac,#fac8ae,#fac9b1,#facbb3,#fbcdb5,#fbceb6,#fbceb6,#fbcfb8,#fcd4be,#fddbc8,#fce1d1,#fbe5d9,#fae9df,#f9ece3,#f9ede6,#f9ede6,#f9ede5,#f9ebe3,#fae9e0,#fbe7db,#fbe3d5,#fcdfce,#fddbc7,#fcd5c0,#fcd2bc,#fbd0b9,#fbceb6,#facbb3,#fac9b0,#fac7ae,#f9c6ac,#f9c5ab,#f9c4aa)"></div><div style="height:1.2px;background:linear-gradient(90deg,#f9c4aa,#f9c5ab,#fac6ac,#fac8ae,#facab1,#faccb4,#fbceb7,#fbd0b9,#fcd2bc,#fcd5bf,#fddac6,#fcdecc,#fbe2d4,#fbe6db,#faeae0,#f9ece4,#f9ede6,#f9ede6,#f9ede5,#f9ebe3,#fae9e0,#fae7db,#fbe4d6,#fce0d0,#fdddca,#fdd9c4,#fcd5bf,#fbd1ba,#fbceb6,#facbb3,#fac9b0,#fac7ae,#f9c6ac,#f9c5ab,#f9c4aa)"></div><div style="height:1.2px;background:linear-gradient(90deg,#f9c4aa,#f9c5ab,#fac6ac,#fac8ae,#facab1,#fbccb4,#fbcfb7,#fbd2bb,#fcd5bf,#fdd9c4,#fdddca,#fce0d0,#fbe4d6,#fae7dc,#faeae0,#f9ece4,#f9ede6,#f9ede6,#f9ede5,#f9ebe3,#fae9e0,#fae7db,#fbe4d6,#fce1d1,#fcdecb,#fddbc6,#fcd6c0,#fbd2bb,#fbceb7,#facbb3,#fac9b0,#fac7ae,#f9c6ac,#f9c5ab,#f9c4aa)"></div><div style="height:1.2px;background:linear-gradient(90deg,#f9c4aa,#f9c5ab,#fac6ac,#fac8ae,#facab1,#fbccb4,#fbcfb8,#fcd3bc,#fcd7c1,#fddbc7,#fcdecc,#fce1d1,#fbe4d7,#fae7dc,#faeae1,#f9ece4,#f9ede6,#f9ede6,#f9ede5,#f9ebe3,#fae9e0,#fae7dc,#fbe4d7,#fce1d1,#fcdecc,#fddbc7,#fcd6c1,#fcd2bc,#fbceb7,#facbb3,#fac9b0,#fac7ae,#f9c6ac,#f9c5ab,#f9c4aa)"></div><div style="height:1.2px;background:linear-gradient(90deg,#f9c4aa,#f9c5ab,#fac6ac,#fac8ae,#facab1,#fbccb4,#fbcfb8,#fcd3bd,#fcd8c3,#fddcc8,#fcdfcd,#fce2d2,#fbe5d8,#fae8dd,#faeae1,#f9ece4,#f9ede6,#f9ede6,#f9ede5,#f9ebe3,#fae9e0,#fae7dc,#fbe4d7,#fce1d2,#fcdecc,#fddbc8,#fcd7c1,#fcd2bc,#fbcfb7,#facbb3,#fac9b0,#fac7ae,#f9c6ac,#f9c5ab,#f9c4aa)"></div><div style="height:1.2px;background:linear-gradient(90deg,#f9c4aa,#f9c5ab,#fac6ac,#fac8ae,#facab1,#fbccb4,#fbd0b8,#fcd3bd,#fcd8c3,#fddcc9,#fcdfce,#fce2d3,#fbe5d8,#fae8dd,#faeae1,#f9ece4,#f9ede6,#f9ede6,#f9ede5,#f9ebe3,#fae9e0,#fae7dc,#fbe4d7,#fce1d2,#fcdecd,#fddbc8,#fcd7c2,#fcd2bc,#fbcfb7,#facbb3,#fac9b0,#fac7ae,#f9c6ac,#f9c5ab,#f9c4aa)"></div><div style="height:1.2px;background:linear-gradient(90deg,#f9c4aa,#f9c5ab,#fac6ac,#fac8ae,#facab1,#fbccb4,#fbd0b8,#fcd4be,#fdd8c3,#fddcc9,#fcdfce,#fbe2d3,#fbe5d8,#fae8dd,#faeae1,#f9ece4,#f9ede6,#f9ede6,#f9ede5,#f9ebe3,#fae9e0,#fae7dc,#fbe4d7,#fce1d2,#fcdecd,#fddbc8,#fcd7c2,#fcd2bc,#fbcfb7,#facbb3,#fac9b0,#fac7ae,#f9c6ac,#f9c5ab,#f9c4aa)"></div><div style="height:1.2px;background:linear-gradient(90deg,#f9c4aa,#f9c5ab,#fac6ac,#fac8ae,#facab1,#fbccb4,#fbd0b9,#fcd4be,#fdd8c3,#fddcc9,#fcdfce,#fbe2d3,#fbe5d8,#fae8dd,#faeae1,#f9ece4,#f9ede6,#f9ede6,#f9ede5,#f9ebe3,#fae9e0,#fae7dc,#fbe4d7,#fce1d2,#fcdecd,#fddbc8,#fcd7c2,#fcd2bc,#fbcfb7,#facbb3,#fac9b0,#fac7ae,#f9c6ac,#f9c5ab,#f9c4aa)"></div><div style="height:1.2px;background:linear-gradient(90deg,#f9c4aa,#f9c5ab,#fac6ac,#fac8ae,#facab1,#fbccb4,#fbd0b9,#fcd4be,#fdd8c4,#fddcc9,#fcdfce,#fbe2d3,#fbe5d8,#fae8dd,#faeae1,#f9ece4,#f9ede6,#f9ede6,#f9ede5,#f9ebe3,#fae9e0,#fae7dc,#fbe4d7,#fce1d2,#fcdecd,#fddbc8,#fcd7c2,#fcd2bc,#fbcfb7,#facbb3,#fac9b0,#fac7ae,#f9c6ac,#f9c5ab,#f9c4aa)"></div><div style="height:1.2px;background:linear-gradient(90deg,#f9c4aa,#f9c5ab,#fac6ac,#fac8ae,#facab1,#fbccb4,#fbd0b9,#fcd4be,#fdd8c4,#fddcc9,#fcdfce,#fbe2d3,#fbe5d8,#fae8dd,#faeae1,#f9ece4,#f9ede6,#f9ede6,#f9ede5,#f9ebe3,#fae9e0,#fae7dc,#fbe4d7,#fce1d2,#fcdecd,#fddbc8,#fcd7c2,#fcd2bc,#fbcfb7,#facbb3,#fac9b0,#fac7ae,#f9c6ac,#f9c5ab,#f9c4aa)"></div><div style="height:1.2px;background:linear-gradient(90deg,#f9c4aa,#f9c5ab,#fac6ac,#fac8ae,#facab1,#fbccb4,#fbd0b9,#fcd4be,#fdd8c4,#fddcc9,#fcdfce,#fbe2d3,#fbe5d8,#fae8dd,#faeae1,#f9ece4,#f9ede6,#f9ede6,#f9ede5,#f9ebe3,#fae9e0,#fae7dc,#fbe4d7,#fce1d2,#fcdecd,#fddbc8,#fcd7c2,#fcd2bc,#fbcfb7,#facbb3,#fac9b0,#fac7ae,#f9c6ac,#f9c5ab,#f9c4aa)"></div><div style="height:1.2px;background:linear-gradient(90deg,#f9c4aa,#f9c5ab,#fac6ac,#fac8ae,#facab1,#fbccb4,#fbd0b9,#fcd4be,#fdd8c4,#fddcc9,#fcdfce,#fbe2d3,#fbe5d8,#fae8dd,#faeae1,#f9ece4,#f9ede6,#f9ede6,#f9ede5,#f9ebe3,#fae9e0,#fae7dc,#fbe4d7,#fce1d2,#fcdecd,#fddbc8,#fcd7c2,#fcd2bc,#fbcfb7,#facbb3,#fac9b0,#fac7ae,#f9c6ac,#f9c5ab,#f9c4aa)"></div><div style="height:1.2px;background:linear-gradient(90deg,#f9c4aa,#f9c5ab,#fac6ac,#fac8ae,#facab1,#fbccb4,#fbd0b9,#fcd4be,#fdd8c4,#fddcc9,#fcdfce,#fbe2d3,#fbe5d8,#fae8dd,#faeae1,#f9ece4,#f9ede6,#f9ede6,#f9ede5,#f9ebe3,#fae9e0,#fae7dc,#fbe4d7,#fce1d2,#fcdecd,#fddbc8,#fcd7c2,#fcd2bc,#fbcfb7,#facbb3,#fac9b0,#fac7ae,#f9c6ac,#f9c5ab,#f9c4aa)"></div><div style="height:1.2px;background:linear-gradient(90deg,#f9c4aa,#f9c5ab,#fac6ac,#fac8ae,#facab1,#fbccb4,#fbd0b9,#fcd4be,#fdd8c4,#fddcc9,#fcdfce,#fbe2d3,#fbe5d8,#fae8dd,#faeae1,#f9ece4,#f9ede6,#f9ede6,#f9ede5,#f9ebe3,#fae9e0,#fae7dc,#fbe4d7,#fce1d2,#fcdecd,#fddbc8,#fcd7c2,#fcd2bc,#fbcfb7,#facbb3,#fac9b0,#fac7ae,#f9c6ac,#f9c5ab,#f9c4aa)"></div><div style="height:1.2px;background:linear-gradient(90deg,#f9c4aa,#f9c5ab,#fac6ac,#fac8ae,#facab1,#fbccb4,#fbd0b9,#fcd4be,#fdd8c4,#fddcc9,#fcdfce,#fbe2d3,#fbe5d8,#fae8dd,#faeae1,#f9ece4,#f9ede6,#f9ede6,#f9ede5,#f9ebe3,#fae9e0,#fae7dc,#fbe4d7,#fce1d2,#fcdecd,#fddbc8,#fcd7c2,#fcd2bc,#fbcfb7,#facbb3,#fac9b0,#fac7ae,#f9c6ac,#f9c5ab,#f9c4aa)"></div></div></div><div style="position:absolute;left:568.0px;top:213.7px;width:62.6px;height:54.4px;overflow:hidden;clip-path:polygon(17.7px 2.8px,3.0px 10.9px,1.0px 19.1px,1.0px 33.3px,6.0px 43.0px,12.1px 48.9px,21.8px 52.5px,31.3px 53.4px,40.8px 52.5px,50.5px 48.9px,56.6px 43.0px,61.6px 33.3px,61.6px 19.1px,59.5px 10.9px,44.8px 2.8px,43.6px 4.6px,41.9px 3.6px,40.1px 2.8px,38.2px 2.1px,36.3px 1.5px,34.3px 1.2px,32.3px 1.0px,30.3px 1.0px,28.3px 1.2px,26.3px 1.5px,24.4px 2.1px,22.5px 2.8px,20.7px 3.6px,18.9px 4.6px);"><div style="position:absolute;left:-2.4px;top:-2.4px;width:68.0px;filter:blur(0.8px)"><div style="height:1.2px;background:linear-gradient(90deg,#ffffff,#ffffff,#ffffff,#ffffff,#ffffff,#ffffff,#ffffff,#ffffff,#ffffff,#ffffff,#ffffff,#ffffff,#ffffff,#ffffff,#ffffff,#ffffff,#ffffff,#ffffff,#ffffff,#ffffff,#ffffff,#ffffff,#ffffff,#ffffff,#ffffff,#ffffff,#ffffff,#ffffff,#ffffff,#ffffff,#ffffff,#ffffff,#ffffff,#ffffff,#ffffff)"></div><div style="height:1.2px;background:linear-gradient(90deg,#ffffff,#ffffff,#ffffff,#ffffff,#feffff,#feffff,#feffff,#feffff,#feffff,#ffffff,#ffffff,#ffffff,#ffffff,#ffffff,#ffffff,#ffffff,#ffffff,#ffffff,#ffffff,#ffffff,#ffffff,#ffffff,#ffffff,#ffffff,#ffffff,#ffffff,#ffffff,#ffffff,#ffffff,#ffffff,#ffffff,#ffffff,#ffffff,#ffffff,#ffffff)"></div><div style="height:1.2px;background:linear-gradient(90deg,#ffffff,#ffffff,#feffff,#feffff,#fefefe,#fefefe,#fdfefe,#fdfefe,#fefefe,#feffff,#feffff,#ffffff,#ffffff,#ffffff,#ffffff,#ffffff,#ffffff,#ffffff,#ffffff,#ffffff,#ffffff,#ffffff,#ffffff,#ffffff,#ffffff,#ffffff,#ffffff,#ffffff,#ffffff,#ffffff,#ffffff,#ffffff,#ffffff,#ffffff,#ffffff)"></div><div style="height:1.2px;background:linear-gradient(90deg,#ffffff,#feffff,#fefefe,#fdfefe,#fcfefe,#fcfdfd,#fcfdfd,#fcfdfd,#fcfefe,#fdfefe,#fefefe,#feffff,#ffffff,#ffffff,#ffffff,#ffffff,#ffffff,#ffffff,#ffffff,#ffffff,#ffffff,#ffffff,#ffffff,#ffffff,#ffffff,#ffffff,#ffffff,#ffffff,#ffffff,#ffffff,#ffffff,#ffffff,#ffffff,#ffffff,#ffffff)"></div><div style="height:1.2px;background:linear-gradient(90deg,#feffff,#fefefe,#fdfefe,#fcfdfd,#fafdfd,#f9fcfc,#f9fcfc,#f9fcfc,#fafcfc,#fbfdfd,#fdfefe,#fefefe,#feffff,#ffffff,#ffffff,#ffffff,#ffffff,#ffffff,#ffffff,#ffffff,#ffffff,#ffffff,#ffffff,#ffffff,#ffffff,#ffffff,#ffffff,#ffffff,#ffffff,#ffffff,#ffffff,#ffffff,#ffffff,#ffffff,#ffffff)"></div><div style="height:1.2px;background:linear-gradient(90deg,#fefefe,#fdfefe,#fbfdfd,#f9fcfc,#f6fbfb,#f5fafa,#f4f9f9,#f4fafa,#f6fbfb,#f8fcfc,#fbfdfd,#fcfefe,#fefefe,#feffff,#ffffff,#ffffff,#ffffff,#ffffff,#ffffff,#ffffff,#ffffff,#ffffff,#ffffff,#ffffff,#ffffff,#ffffff,#ffffff,#ffffff,#ffffff,#ffffff,#ffffff,#ffffff,#ffffff,#ffffff,#ffffff)"></div><div style="height:1.2px;background:linear-gradient(90deg,#fdfefe,#fbfdfd,#f9fcfc,#f5fafa,#f1f8f8,#eef6f6,#ecf6f6,#edf6f6,#f0f8f8,#f4f9f9,#f8fbfb,#fbfdfd,#fdfefe,#feffff,#ffffff,#ffffff,#ffffff,#ffffff,#ffffff,#ffffff,#ffffff,#ffffff,#ffffff,#ffffff,#ffffff,#ffffff,#ffffff,#ffffff,#ffffff,#ffffff,#ffffff,#ffffff,#ffffff,#ffffff,#ffffff)"></div><div style="height:1.2px;background:linear-gradient(90deg,#fcfefe,#f9fcfc,#f5fafa,#eff7f7,#e9f4f4,#e4f2f2,#e2f1f1,#e4f1f1,#e8f3f3,#eef6f6,#f4f9f9,#f9fcfc,#fcfdfd,#fefefe,#feffff,#ffffff,#ffffff,#ffffff,#ffffff,#ffffff,#ffffff,#ffffff,#ffffff,#ffffff,#ffffff,#ffffff,#ffffff,#ffffff,#ffffff,#ffffff,#ffffff,#ffffff,#ffffff,#ffffff,#ffffff)"></div><div style="height:1.2px;background:linear-gradient(90deg,#fbfdfd,#f7fbfb,#f1f8f8,#e8f4f4,#e0efef,#d9ecec,#d6eaea,#d8ebeb,#deeeee,#e6f3f3,#eff7f7,#f6fafa,#fafdfd,#fdfefe,#feffff,#ffffff,#ffffff,#ffffff,#ffffff,#ffffff,#ffffff,#ffffff,#ffffff,#ffffff,#ffffff,#ffffff,#ffffff,#ffffff,#ffffff,#ffffff,#ffffff,#ffffff,#ffffff,#ffffff,#ffffff)"></div><div style="height:1.2px;background:linear-gradient(90deg,#fafcfc,#f4fafa,#ecf5f5,#e1f0f0,#d5eaea,#cbe5e5,#c7e3e3,#cae5e5,#d3e9e9,#deefef,#e9f4f4,#f3f9f9,#f9fcfc,#fcfefe,#fefefe,#ffffff,#ffffff,#ffffff,#ffffff,#ffffff,#ffffff,#ffffff,#ffffff,#ffffff,#ffffff,#ffffff,#ffffff,#ffffff,#ffffff,#ffffff,#ffffff,#ffffff,#ffffff,#ffffff,#ffffff)"></div><div style="height:1.2px;background:linear-gradient(90deg,#f8fcfc,#f1f8f8,#e7f3f3,#d9ecec,#cae5e5,#bedfdf,#b9dcdc,#bddede,#c7e3e3,#d6eaea,#e4f2f2,#eff7f7,#f7fbfb,#fbfdfd,#fefefe,#ffffff,#ffffff,#ffffff,#ffffff,#ffffff,#ffffff,#ffffff,#ffffff,#ffffff,#ffffff,#ffffff,#ffffff,#ffffff,#ffffff,#ffffff,#ffffff,#ffffff,#ffffff,#ffffff,#ffffff)"></div><div style="height:1.2px;background:linear-gradient(90deg,#f7fbfb,#eff7f7,#e3f1f1,#d3e9e9,#c2e0e0,#b4d9d9,#aed6d6,#b2d8d8,#bedfdf,#cfe7e7,#e0efef,#edf6f6,#f6fafa,#fbfdfd,#fdfefe,#feffff,#ffffff,#ffffff,#ffffff,#ffffff,#ffffff,#ffffff,#ffffff,#ffffff,#ffffff,#ffffff,#ffffff,#ffffff,#ffffff,#ffffff,#ffffff,#ffffff,#ffffff,#ffffff,#ffffff)"></div><div style="height:1.2px;background:linear-gradient(90deg,#f6fbfb,#eef6f6,#e0f0f0,#cfe7e7,#bcdede,#add6d6,#a7d3d3,#abd5d5,#b9dcdc,#cbe5e5,#ddeeee,#ebf5f5,#f5fafa,#fbfdfd,#fdfefe,#feffff,#ffffff,#ffffff,#ffffff,#ffffff,#ffffff,#ffffff,#ffffff,#ffffff,#ffffff,#ffffff,#ffffff,#ffffff,#ffffff,#ffffff,#ffffff,#ffffff,#ffffff,#ffffff,#ffffff)"></div><div style="height:1.2px;background:linear-gradient(90deg,#f6fbfb,#eef6f6,#e0efef,#cee7e7,#bbdddd,#acd6d6,#a6d2d2,#aad5d5,#b8dbdb,#cae5e5,#dceeee,#ebf5f5,#f5fafa,#fafdfd,#fdfefe,#feffff,#ffffff,#ffffff,#ffffff,#ffffff,#ffffff,#ffffff,#ffffff,#ffffff,#ffffff,#ffffff,#ffffff,#ffffff,#ffffff,#ffffff,#ffffff,#ffffff,#ffffff,#ffffff,#ffffff)"></div><div style="height:1.2px;background:linear-gradient(90deg,#f7fbfb,#eff7f7,#e2f0f0,#d1e8e8,#bfdfdf,#b1d8d8,#abd5d5,#afd7d7,#bcdddd,#cde6e6,#deefef,#ecf6f6,#f5fafa,#fbfdfd,#fdfefe,#feffff,#ffffff,#ffffff,#ffffff,#ffffff,#ffffff,#ffffff,#ffffff,#ffffff,#ffffff,#ffffff,#ffffff,#ffffff,#ffffff,#ffffff,#ffffff,#ffffff,#ffffff,#ffffff,#ffffff)"></div><div style="height:1.2px;background:linear-gradient(90deg,#f8fbfb,#f1f8f8,#e5f2f2,#d7ebeb,#c7e3e3,#badddd,#b5dada,#b9dcdc,#c4e1e1,#d3e9e9,#e2f1f1,#eef7f7,#f7fbfb,#fbfdfd,#fdfefe,#feffff,#ffffff,#ffffff,#ffffff,#ffffff,#ffffff,#ffffff,#ffffff,#ffffff,#ffffff,#ffffff,#ffffff,#ffffff,#ffffff,#ffffff,#ffffff,#ffffff,#ffffff,#ffffff,#ffffff)"></div><div style="height:1.2px;background:linear-gradient(90deg,#f9fcfc,#f3f9f9,#eaf4f4,#deeeee,#d1e8e8,#c7e3e3,#c2e1e1,#c5e2e2,#cee7e7,#dbeded,#e7f3f3,#f1f8f8,#f8fbfb,#fcfdfd,#fefefe,#ffffff,#ffffff,#ffffff,#ffffff,#ffffff,#ffffff,#ffffff,#ffffff,#ffffff,#ffffff,#ffffff,#ffffff,#ffffff,#ffffff,#ffffff,#ffffff,#ffffff,#ffffff,#ffffff,#ffffff)"></div><div style="height:1.2px;background:linear-gradient(90deg,#fbfdfd,#f6fafa,#eff7f7,#e6f2f2,#dceded,#d4eaea,#d1e8e8,#d3e9e9,#daecec,#e3f1f1,#ecf6f6,#f4f9f9,#f9fcfc,#fcfefe,#fefefe,#ffffff,#ffffff,#ffffff,#ffffff,#ffffff,#ffffff,#ffffff,#ffffff,#ffffff,#ffffff,#ffffff,#ffffff,#ffffff,#ffffff,#ffffff,#ffffff,#ffffff,#ffffff,#ffffff,#ffffff)"></div><div style="height:1.2px;background:linear-gradient(90deg,#fcfdfd,#f9fcfc,#f4f9f9,#edf6f6,#e6f3f3,#e0f0f0,#deeeee,#dfefef,#e4f1f1,#eaf4f4,#f0f8f8,#f6fafa,#fafcfc,#fcfefe,#fefefe,#ffffff,#ffffff,#ffffff,#ffffff,#ffffff,#ffffff,#ffffff,#ffffff,#ffffff,#ffffff,#ffffff,#ffffff,#ffffff,#ffffff,#ffffff,#ffffff,#ffffff,#ffffff,#ffffff,#ffffff)"></div><div style="height:1.2px;background:linear-gradient(90deg,#fdfefe,#fbfdfd,#f7fbfb,#f3f9f9,#eef7f7,#ebf5f5,#e9f4f4,#e9f4f4,#ebf5f5,#eef6f6,#f1f8f8,#f5fafa,#f9fcfc,#fcfdfd,#fdfefe,#feffff,#ffffff,#ffffff,#ffffff,#ffffff,#ffffff,#ffffff,#ffffff,#ffffff,#ffffff,#ffffff,#ffffff,#ffffff,#ffffff,#ffffff,#ffffff,#ffffff,#ffffff,#ffffff,#ffffff)"></div><div style="height:1.2px;background:linear-gradient(90deg,#fefefe,#fcfefe,#fafdfd,#f8fbfb,#f5fafa,#f2f9f9,#f0f8f8,#eff7f7,#eff7f7,#eef7f7,#eff7f7,#f2f8f8,#f5fafa,#f9fcfc,#fcfefe,#feffff,#ffffff,#ffffff,#ffffff,#ffffff,#ffffff,#ffffff,#ffffff,#ffffff,#ffffff,#ffffff,#ffffff,#ffffff,#ffffff,#ffffff,#ffffff,#ffffff,#ffffff,#ffffff,#ffffff)"></div><div style="height:1.2px;background:linear-gradient(90deg,#feffff,#fdfefe,#fcfefe,#fbfdfd,#f9fcfc,#f7fbfb,#f5fafa,#f2f9f9,#eef7f7,#eaf4f4,#e7f3f3,#e9f4f4,#eff7f7,#f5fafa,#fafdfd,#fdfefe,#ffffff,#ffffff,#ffffff,#ffffff,#ffffff,#ffffff,#ffffff,#ffffff,#ffffff,#ffffff,#ffffff,#ffffff,#ffffff,#ffffff,#ffffff,#ffffff,#ffffff,#ffffff,#ffffff)"></div><div style="height:1.2px;background:linear-gradient(90deg,#ffffff,#feffff,#fefefe,#fdfefe,#fcfdfd,#fafdfd,#f7fbfb,#f2f8f8,#e9f4f4,#dfefef,#d8ecec,#daecec,#e3f1f1,#eef7f7,#f7fbfb,#fcfefe,#feffff,#ffffff,#ffffff,#ffffff,#ffffff,#ffffff,#ffffff,#ffffff,#ffffff,#ffffff,#ffffff,#ffffff,#ffffff,#ffffff,#ffffff,#ffffff,#ffffff,#ffffff,#ffffff)"></div><div style="height:1.2px;background:linear-gradient(90deg,#ffffff,#ffffff,#feffff,#fefefe,#fdfefe,#fbfdfd,#f7fbfb,#eef6f6,#dfefef,#cde6e6,#c2e0e0,#c4e1e1,#d2e8e8,#e4f1f1,#f2f9f9,#fafdfd,#fefefe,#ffffff,#ffffff,#ffffff,#ffffff,#ffffff,#ffffff,#ffffff,#ffffff,#ffffff,#ffffff,#ffffff,#ffffff,#ffffff,#ffffff,#ffffff,#ffffff,#ffffff,#ffffff)"></div><div style="height:1.2px;background:linear-gradient(90deg,#ffffff,#ffffff,#ffffff,#feffff,#fefefe,#fbfdfd,#f5fafa,#e7f3f3,#d0e8e8,#b6dada,#a5d2d2,#a7d3d3,#bbdddd,#d6ebeb,#ecf5f5,#f8fbfb,#fdfefe,#ffffff,#ffffff,#ffffff,#ffffff,#ffffff,#ffffff,#ffffff,#ffffff,#ffffff,#ffffff,#ffffff,#ffffff,#ffffff,#ffffff,#ffffff,#ffffff,#ffffff,#ffffff)"></div><div style="height:1.2px;background:linear-gradient(90deg,#ffffff,#ffffff,#ffffff,#ffffff,#fefefe,#fbfdfd,#f2f9f9,#e0efef,#c0dfdf,#9bcdcd,#83c1c1,#86c3c3,#a3d1d1,#c7e3e3,#e5f2f2,#f5fafa,#fcfefe,#feffff,#ffffff,#ffffff,#ffffff,#ffffff,#ffffff,#ffffff,#ffffff,#ffffff,#ffffff,#ffffff,#ffffff,#ffffff,#ffffff,#ffffff,#ffffff,#ffffff,#ffffff)"></div><div style="height:1.2px;background:linear-gradient(90deg,#ffffff,#ffffff,#ffffff,#ffffff,#fefefe,#fafdfd,#f0f7f7,#d8ebeb,#b0d8d8,#82c1c1,#67b1b2,#6bb3b4,#8bc5c5,#b9dcdc,#deeeee,#f3f9f9,#fbfdfd,#feffff,#ffffff,#ffffff,#ffffff,#ffffff,#ffffff,#ffffff,#ffffff,#ffffff,#ffffff,#ffffff,#ffffff,#ffffff,#ffffff,#ffffff,#ffffff,#ffffff,#ffffff)"></div><div style="height:1.2px;background:linear-gradient(90deg,#ffffff,#ffffff,#ffffff,#ffffff,#fefefe,#fafcfc,#edf6f6,#d2e8e8,#a4d2d2,#71b7b7,#53a6a6,#57a8a8,#7abcbc,#afd7d7,#d9ecec,#f1f8f8,#fbfdfd,#feffff,#ffffff,#ffffff,#ffffff,#ffffff,#ffffff,#ffffff,#ffffff,#ffffff,#ffffff,#ffffff,#ffffff,#ffffff,#ffffff,#ffffff,#ffffff,#ffffff,#ffffff)"></div><div style="height:1.2px;background:linear-gradient(90deg,#ffffff,#ffffff,#ffffff,#ffffff,#fefefe,#f9fcfc,#edf6f6,#d0e7e7,#9fcfcf,#6bb3b3,#4aa1a1,#4ea3a4,#74b9b9,#aad5d5,#d7ebeb,#f0f8f8,#fbfdfd,#feffff,#ffffff,#ffffff,#ffffff,#ffffff,#ffffff,#ffffff,#ffffff,#ffffff,#ffffff,#ffffff,#ffffff,#ffffff,#ffffff,#ffffff,#ffffff,#ffffff,#ffffff)"></div><div style="height:1.2px;background:linear-gradient(90deg,#ffffff,#ffffff,#ffffff,#ffffff,#fefefe,#fafcfc,#edf6f6,#d1e8e8,#a3d1d1,#6fb6b6,#50a4a4,#54a6a7,#78bbbb,#add6d6,#d8ecec,#f1f8f8,#fbfdfd,#feffff,#ffffff,#ffffff,#ffffff,#ffffff,#ffffff,#ffffff,#ffffff,#ffffff,#ffffff,#ffffff,#ffffff,#ffffff,#ffffff,#ffffff,#ffffff,#ffffff,#ffffff)"></div><div style="height:1.2px;background:linear-gradient(90deg,#ffffff,#ffffff,#ffffff,#ffffff,#fefefe,#fafdfd,#eff7f7,#d6ebeb,#add6d6,#7dbebe,#62aeaf,#65b0b0,#86c3c3,#b6dbdb,#ddeeee,#f2f9f9,#fbfdfd,#feffff,#ffffff,#ffffff,#ffffff,#ffffff,#ffffff,#ffffff,#ffffff,#ffffff,#ffffff,#ffffff,#ffffff,#ffffff,#ffffff,#ffffff,#ffffff,#ffffff,#ffffff)"></div><div style="height:1.2px;background:linear-gradient(90deg,#ffffff,#ffffff,#ffffff,#ffffff,#feffff,#fbfdfd,#f2f9f9,#deeeee,#bcdede,#96caca,#7cbdbd,#7fbfbf,#9dcece,#c4e1e1,#e3f1f1,#f5fafa,#fcfdfd,#feffff,#ffffff,#ffffff,#ffffff,#ffffff,#ffffff,#ffffff,#ffffff,#ffffff,#ffffff,#ffffff,#ffffff,#ffffff,#ffffff,#ffffff,#ffffff,#ffffff,#ffffff)"></div><div style="height:1.2px;background:linear-gradient(90deg,#ffffff,#ffffff,#ffffff,#ffffff,#feffff,#fcfefe,#f5fafa,#e6f3f3,#cde6e6,#b0d8d8,#9dcece,#a0cfcf,#b6dada,#d3e9e9,#eaf5f5,#f7fbfb,#fdfefe,#feffff,#ffffff,#ffffff,#ffffff,#ffffff,#ffffff,#ffffff,#ffffff,#ffffff,#ffffff,#ffffff,#ffffff,#ffffff,#ffffff,#ffffff,#ffffff,#ffffff,#ffffff)"></div><div style="height:1.2px;background:linear-gradient(90deg,#ffffff,#ffffff,#ffffff,#ffffff,#ffffff,#fdfefe,#f8fcfc,#eef7f7,#ddeeee,#c9e4e4,#bcdede,#bedede,#cde6e6,#e1f0f0,#f1f8f8,#fafcfc,#fdfefe,#ffffff,#ffffff,#ffffff,#ffffff,#ffffff,#ffffff,#ffffff,#ffffff,#ffffff,#ffffff,#ffffff,#ffffff,#ffffff,#ffffff,#ffffff,#ffffff,#ffffff,#ffffff)"></div><div style="height:1.2px;background:linear-gradient(90deg,#ffffff,#ffffff,#ffffff,#ffffff,#ffffff,#fefefe,#fbfdfd,#f4fafa,#eaf4f4,#ddeeee,#d5eaea,#d6ebeb,#e0efef,#ecf6f6,#f6fbfb,#fcfdfd,#feffff,#ffffff,#ffffff,#ffffff,#ffffff,#ffffff,#ffffff,#ffffff,#ffffff,#ffffff,#ffffff,#ffffff,#ffffff,#ffffff,#ffffff,#ffffff,#ffffff,#ffffff,#ffffff)"></div><div style="height:1.2px;background:linear-gradient(90deg,#ffffff,#ffffff,#ffffff,#ffffff,#ffffff,#feffff,#fdfefe,#f9fcfc,#f3f9f9,#ecf5f5,#e7f3f3,#e8f3f3,#edf6f6,#f4fafa,#fafcfc,#fdfefe,#feffff,#ffffff,#ffffff,#ffffff,#ffffff,#ffffff,#ffffff,#ffffff,#ffffff,#ffffff,#ffffff,#ffffff,#ffffff,#ffffff,#ffffff,#ffffff,#ffffff,#ffffff,#ffffff)"></div><div style="height:1.2px;background:linear-gradient(90deg,#ffffff,#ffffff,#ffffff,#ffffff,#ffffff,#ffffff,#fefefe,#fcfdfd,#f9fcfc,#f5fafa,#f2f9f9,#f3f9f9,#f6fafa,#f9fcfc,#fcfefe,#feffff,#ffffff,#ffffff,#ffffff,#ffffff,#ffffff,#ffffff,#ffffff,#ffffff,#ffffff,#ffffff,#ffffff,#ffffff,#ffffff,#ffffff,#ffffff,#ffffff,#ffffff,#ffffff,#ffffff)"></div><div style="height:1.2px;background:linear-gradient(90deg,#ffffff,#ffffff,#ffffff,#ffffff,#ffffff,#ffffff,#feffff,#fdfefe,#fcfdfd,#fafdfd,#f9fcfc,#f9fcfc,#fafdfd,#fcfefe,#fefefe,#ffffff,#ffffff,#ffffff,#ffffff,#ffffff,#ffffff,#ffffff,#ffffff,#ffffff,#ffffff,#ffffff,#ffffff,#ffffff,#ffffff,#ffffff,#ffffff,#ffffff,#ffffff,#ffffff,#ffffff)"></div><div style="height:1.2px;background:linear-gradient(90deg,#ffffff,#ffffff,#ffffff,#ffffff,#ffffff,#ffffff,#ffffff,#feffff,#fefefe,#fdfefe,#fcfefe,#fcfefe,#fdfefe,#fefefe,#feffff,#ffffff,#ffffff,#ffffff,#ffffff,#ffffff,#ffffff,#ffffff,#ffffff,#ffffff,#ffffff,#ffffff,#ffffff,#ffffff,#ffffff,#ffffff,#ffffff,#ffffff,#ffffff,#ffffff,#ffffff)"></div><div style="height:1.2px;background:linear-gradient(90deg,#ffffff,#ffffff,#ffffff,#ffffff,#ffffff,#ffffff,#ffffff,#ffffff,#feffff,#feffff,#fefefe,#fefefe,#feffff,#ffffff,#ffffff,#ffffff,#ffffff,#ffffff,#ffffff,#ffffff,#ffffff,#ffffff,#ffffff,#ffffff,#ffffff,#ffffff,#ffffff,#ffffff,#ffffff,#ffffff,#ffffff,#ffffff,#ffffff,#ffffff,#ffffff)"></div><div style="height:1.2px;background:linear-gradient(90deg,#ffffff,#ffffff,#ffffff,#ffffff,#ffffff,#ffffff,#ffffff,#ffffff,#ffffff,#ffffff,#ffffff,#ffffff,#ffffff,#ffffff,#ffffff,#ffffff,#ffffff,#ffffff,#ffffff,#ffffff,#ffffff,#ffffff,#ffffff,#ffffff,#ffffff,#ffffff,#ffffff,#ffffff,#ffffff,#ffffff,#ffffff,#ffffff,#ffffff,#ffffff,#ffffff)"></div><div style="height:1.2px;background:linear-gradient(90deg,#ffffff,#ffffff,#ffffff,#ffffff,#ffffff,#ffffff,#ffffff,#ffffff,#ffffff,#ffffff,#ffffff,#ffffff,#ffffff,#ffffff,#ffffff,#ffffff,#ffffff,#ffffff,#ffffff,#ffffff,#ffffff,#ffffff,#ffffff,#ffffff,#ffffff,#ffffff,#ffffff,#ffffff,#ffffff,#ffffff,#ffffff,#ffffff,#ffffff,#ffffff,#ffffff)"></div><div style="height:1.2px;background:linear-gradient(90deg,#ffffff,#ffffff,#ffffff,#ffffff,#ffffff,#ffffff,#ffffff,#ffffff,#ffffff,#ffffff,#ffffff,#ffffff,#ffffff,#ffffff,#ffffff,#ffffff,#ffffff,#ffffff,#ffffff,#ffffff,#ffffff,#ffffff,#ffffff,#ffffff,#ffffff,#ffffff,#ffffff,#ffffff,#ffffff,#ffffff,#ffffff,#ffffff,#ffffff,#ffffff,#ffffff)"></div><div style="height:1.2px;background:linear-gradient(90deg,#ffffff,#ffffff,#ffffff,#ffffff,#ffffff,#ffffff,#ffffff,#ffffff,#ffffff,#ffffff,#ffffff,#ffffff,#ffffff,#ffffff,#ffffff,#ffffff,#ffffff,#ffffff,#ffffff,#ffffff,#ffffff,#ffffff,#ffffff,#ffffff,#ffffff,#ffffff,#ffffff,#ffffff,#ffffff,#ffffff,#ffffff,#ffffff,#ffffff,#ffffff,#ffffff)"></div><div style="height:1.2px;background:linear-gradient(90deg,#ffffff,#ffffff,#ffffff,#ffffff,#ffffff,#ffffff,#ffffff,#ffffff,#ffffff,#ffffff,#ffffff,#ffffff,#ffffff,#ffffff,#ffffff,#ffffff,#ffffff,#ffffff,#ffffff,#ffffff,#ffffff,#ffffff,#ffffff,#ffffff,#ffffff,#ffffff,#ffffff,#ffffff,#ffffff,#ffffff,#ffffff,#ffffff,#ffffff,#ffffff,#ffffff)"></div><div style="height:1.2px;background:linear-gradient(90deg,#ffffff,#ffffff,#ffffff,#ffffff,#ffffff,#ffffff,#ffffff,#ffffff,#ffffff,#ffffff,#ffffff,#ffffff,#ffffff,#ffffff,#ffffff,#ffffff,#ffffff,#ffffff,#ffffff,#ffffff,#ffffff,#ffffff,#ffffff,#ffffff,#ffffff,#ffffff,#ffffff,#ffffff,#ffffff,#ffffff,#ffffff,#ffffff,#ffffff,#ffffff,#ffffff)"></div><div style="height:1.2px;background:linear-gradient(90deg,#ffffff,#ffffff,#ffffff,#ffffff,#ffffff,#ffffff,#ffffff,#ffffff,#ffffff,#ffffff,#ffffff,#ffffff,#ffffff,#ffffff,#ffffff,#ffffff,#ffffff,#ffffff,#ffffff,#ffffff,#ffffff,#ffffff,#ffffff,#ffffff,#ffffff,#ffffff,#ffffff,#ffffff,#ffffff,#ffffff,#ffffff,#ffffff,#ffffff,#ffffff,#ffffff)"></div><div style="height:1.2px;background:linear-gradient(90deg,#ffffff,#ffffff,#ffffff,#ffffff,#ffffff,#ffffff,#ffffff,#ffffff,#ffffff,#ffffff,#ffffff,#ffffff,#ffffff,#ffffff,#ffffff,#ffffff,#ffffff,#ffffff,#ffffff,#ffffff,#ffffff,#ffffff,#ffffff,#ffffff,#ffffff,#ffffff,#ffffff,#ffffff,#ffffff,#ffffff,#ffffff,#ffffff,#ffffff,#ffffff,#ffffff)"></div><div style="height:1.2px;background:linear-gradient(90deg,#ffffff,#ffffff,#ffffff,#ffffff,#ffffff,#ffffff,#ffffff,#ffffff,#ffffff,#ffffff,#ffffff,#ffffff,#ffffff,#ffffff,#ffffff,#ffffff,#ffffff,#ffffff,#ffffff,#ffffff,#ffffff,#ffffff,#ffffff,#ffffff,#ffffff,#ffffff,#ffffff,#ffffff,#ffffff,#ffffff,#ffffff,#ffffff,#ffffff,#ffffff,#ffffff)"></div><div style="height:1.2px;background:linear-gradient(90deg,#ffffff,#ffffff,#ffffff,#ffffff,#ffffff,#ffffff,#ffffff,#ffffff,#ffffff,#ffffff,#ffffff,#ffffff,#ffffff,#ffffff,#ffffff,#ffffff,#ffffff,#ffffff,#ffffff,#ffffff,#ffffff,#ffffff,#ffffff,#ffffff,#ffffff,#ffffff,#ffffff,#ffffff,#ffffff,#ffffff,#ffffff,#ffffff,#ffffff,#ffffff,#ffffff)"></div></div></div><div style="position:absolute;left:568.0px;top:286.5px;width:62.8px;height:54.6px;overflow:hidden;clip-path:polygon(17.8px 2.8px,3.0px 11.0px,1.0px 19.1px,1.0px 33.4px,6.0px 43.2px,12.1px 49.1px,21.9px 52.7px,31.4px 53.6px,41.0px 52.7px,50.7px 49.1px,56.8px 43.2px,61.8px 33.4px,61.8px 19.1px,59.8px 11.0px,45.0px 2.8px,43.8px 4.7px,42.1px 3.6px,40.3px 2.8px,38.4px 2.1px,36.4px 1.5px,34.4px 1.2px,32.4px 1.0px,30.4px 1.0px,28.4px 1.2px,26.4px 1.5px,24.5px 2.1px,22.6px 2.8px,20.8px 3.6px,19.0px 4.7px);"><div style="position:absolute;left:-2.4px;top:-2.4px;width:68.0px;filter:blur(0.8px)"><div style="height:1.2px;background:linear-gradient(90deg,#fdfefe,#fcfefe,#fbfdfd,#f9fcfc,#f8fcfc,#f9fcfc,#fafcfc,#fbfdfd,#fdfefe,#fefefe,#ffffff,#ffffff,#ffffff,#ffffff,#ffffff,#ffffff,#ffffff,#ffffff,#ffffff,#ffffff,#ffffff,#ffffff,#ffffff,#ffffff,#ffffff,#fefefe,#fdfefe,#fcfdfd,#fafdfd,#f9fcfc,#f9fcfc,#fafcfc,#fbfdfd,#fdfefe,#fefefe)"></div><div style="height:1.2px;background:linear-gradient(90deg,#fcfefe,#fafdfd,#f8fbfb,#f6fafa,#f5fafa,#f5fafa,#f7fbfb,#f9fcfc,#fcfdfd,#fdfefe,#feffff,#ffffff,#ffffff,#ffffff,#ffffff,#ffffff,#ffffff,#ffffff,#ffffff,#ffffff,#ffffff,#ffffff,#ffffff,#ffffff,#feffff,#fdfefe,#fcfdfd,#f9fcfc,#f7fbfb,#f6fafa,#f6fafa,#f7fbfb,#f9fcfc,#fbfdfd,#fdfefe)"></div><div style="height:1.2px;background:linear-gradient(90deg,#fbfdfd,#f8fcfc,#f4fafa,#f1f8f8,#eff7f7,#f0f7f7,#f3f9f9,#f7fbfb,#fafdfd,#fdfefe,#fefefe,#ffffff,#ffffff,#ffffff,#ffffff,#ffffff,#ffffff,#ffffff,#ffffff,#ffffff,#ffffff,#ffffff,#ffffff,#ffffff,#fefefe,#fcfefe,#fafcfc,#f7fbfb,#f3f9f9,#f1f8f8,#f1f8f8,#f3f9f9,#f6fafa,#f9fcfc,#fcfdfd)"></div><div style="height:1.2px;background:linear-gradient(90deg,#f9fcfc,#f5fafa,#eff7f7,#eaf5f5,#e8f3f3,#e9f4f4,#edf6f6,#f3f9f9,#f8fbfb,#fbfdfd,#fdfefe,#feffff,#ffffff,#ffffff,#ffffff,#ffffff,#ffffff,#ffffff,#ffffff,#ffffff,#ffffff,#ffffff,#ffffff,#feffff,#fdfefe,#fbfdfd,#f8fbfb,#f3f9f9,#eef6f6,#eaf5f5,#eaf4f4,#edf6f6,#f1f8f8,#f6fbfb,#fafdfd)"></div><div style="height:1.2px;background:linear-gradient(90deg,#f7fbfb,#f0f8f8,#e9f4f4,#e2f0f0,#deefef,#e0efef,#e6f2f2,#edf6f6,#f5fafa,#fafcfc,#fdfefe,#feffff,#ffffff,#ffffff,#ffffff,#ffffff,#ffffff,#ffffff,#ffffff,#ffffff,#ffffff,#ffffff,#ffffff,#feffff,#fdfefe,#fafcfc,#f4fafa,#eef6f6,#e6f3f3,#e2f0f0,#e1f0f0,#e5f2f2,#ecf5f5,#f3f9f9,#f8fcfc)"></div><div style="height:1.2px;background:linear-gradient(90deg,#f4f9f9,#ebf5f5,#e0f0f0,#d7ebeb,#d2e8e8,#d4eaea,#dceeee,#e7f3f3,#f1f8f8,#f8fbfb,#fcfdfd,#fefefe,#ffffff,#ffffff,#ffffff,#ffffff,#ffffff,#ffffff,#ffffff,#ffffff,#ffffff,#ffffff,#ffffff,#fefefe,#fcfdfd,#f8fbfb,#f1f8f8,#e7f3f3,#ddeeee,#d7ebeb,#d6ebeb,#dbeded,#e5f2f2,#eef7f7,#f6fbfb)"></div><div style="height:1.2px;background:linear-gradient(90deg,#f0f8f8,#e5f2f2,#d7ebeb,#cae4e4,#c4e1e1,#c6e3e3,#d1e8e8,#dfefef,#ecf6f6,#f6fafa,#fbfdfd,#fefefe,#ffffff,#ffffff,#ffffff,#ffffff,#feffff,#feffff,#feffff,#ffffff,#ffffff,#ffffff,#feffff,#fdfefe,#fbfdfd,#f5fafa,#ecf5f5,#dfefef,#d3e9e9,#cae5e5,#c9e4e4,#d0e8e8,#dceeee,#e9f4f4,#f3f9f9)"></div><div style="height:1.2px;background:linear-gradient(90deg,#edf6f6,#deeeee,#cbe5e5,#bbdddd,#b3d9d9,#b7dbdb,#c4e2e2,#d7ebeb,#e7f3f3,#f3f9f9,#fafcfc,#fdfefe,#feffff,#ffffff,#ffffff,#feffff,#fdfefe,#fcfdfd,#fdfefe,#feffff,#ffffff,#ffffff,#feffff,#fdfefe,#f9fcfc,#f2f9f9,#e7f3f3,#d7ebeb,#c7e3e3,#bcdddd,#badddd,#c3e1e1,#d3e9e9,#e3f1f1,#f0f8f8)"></div><div style="height:1.2px;background:linear-gradient(90deg,#e8f4f4,#d6eaea,#c0dfdf,#acd5d5,#a2d0d0,#a6d3d3,#b7dbdb,#cde6e6,#e2f0f0,#f0f8f8,#f9fcfc,#fdfefe,#feffff,#ffffff,#ffffff,#fdfefe,#f9fcfc,#f7fbfb,#fafcfc,#fdfefe,#ffffff,#feffff,#fefefe,#fcfefe,#f8fcfc,#f0f7f7,#e1f0f0,#cee6e6,#badcdc,#acd6d6,#aad5d5,#b6dada,#c9e4e4,#ddeeee,#edf6f6)"></div><div style="height:1.2px;background:linear-gradient(90deg,#e4f2f2,#cee7e7,#b4d9d9,#9ccece,#91c8c8,#96caca,#aad4d4,#c4e2e2,#dceeee,#eef6f6,#f7fbfb,#fcfefe,#feffff,#ffffff,#feffff,#fbfdfd,#f3f9f9,#eff7f7,#f5fafa,#fcfdfd,#feffff,#feffff,#fdfefe,#fbfdfd,#f7fbfb,#edf6f6,#dceded,#c4e2e2,#add6d6,#9dcece,#9bcdcd,#a8d3d3,#bfdfdf,#d6ebeb,#e9f4f4)"></div><div style="height:1.2px;background:linear-gradient(90deg,#e0f0f0,#c7e3e3,#a9d4d4,#8ec7c7,#81c0c0,#87c3c3,#9dcece,#bbdddd,#d7ebeb,#ebf5f5,#f6fbfb,#fcfdfd,#fefefe,#ffffff,#feffff,#f9fcfc,#eef7f7,#e8f3f3,#f0f8f8,#fbfdfd,#fefefe,#fefefe,#fdfefe,#fbfdfd,#f5fafa,#eaf4f4,#d6ebeb,#bcdede,#a1d0d0,#8ec7c7,#8cc6c6,#9bcdcd,#b5dada,#d1e8e8,#e6f3f3)"></div><div style="height:1.2px;background:linear-gradient(90deg,#ddeeee,#c1e0e0,#a0cfcf,#82c1c1,#75b9b9,#7bbdbd,#93c9c9,#b4dada,#d3e9e9,#e9f4f4,#f5fafa,#fbfdfd,#fefefe,#feffff,#fefefe,#f9fcfc,#ecf6f6,#e6f2f2,#eff7f7,#fafdfd,#fefefe,#fdfefe,#fcfdfd,#fafcfc,#f4fafa,#e8f3f3,#d2e9e9,#b5dada,#97cbcb,#83c1c1,#80c0c0,#91c8c8,#aed6d6,#cce5e5,#e3f1f1)"></div><div style="height:1.2px;background:linear-gradient(90deg,#dbeded,#bddede,#9acccc,#7bbdbd,#6db5b5,#73b8b8,#8cc6c6,#afd7d7,#d0e7e7,#e7f3f3,#f4f9f9,#fafdfd,#fdfefe,#feffff,#feffff,#fafcfc,#f0f7f7,#eaf4f4,#f2f8f8,#fbfdfd,#fdfefe,#fcfefe,#fbfdfd,#f8fcfc,#f3f9f9,#e6f2f2,#cfe7e7,#b0d8d8,#90c8c8,#7bbdbd,#79bbbb,#8ac4c4,#a8d4d4,#c8e4e4,#e2f0f0)"></div><div style="height:1.2px;background:linear-gradient(90deg,#daecec,#bbdddd,#97cbcb,#77bbbb,#69b3b3,#70b6b6,#89c4c4,#add6d6,#cee6e6,#e5f2f2,#f2f9f9,#f9fcfc,#fcfefe,#fefefe,#feffff,#fcfdfd,#f5fafa,#f2f8f8,#f7fbfb,#fcfdfd,#fdfefe,#fbfdfd,#f9fcfc,#f7fbfb,#f2f8f8,#e5f2f2,#cee6e6,#aed6d6,#8dc6c6,#78bbbb,#75baba,#86c3c3,#a6d2d2,#c7e3e3,#e1f0f0)"></div><div style="height:1.2px;background:linear-gradient(90deg,#daecec,#bcdddd,#98cbcb,#78bbbb,#6ab3b3,#70b7b7,#89c4c4,#acd6d6,#cce6e6,#e2f1f1,#eff7f7,#f6fbfb,#fbfdfd,#fdfefe,#feffff,#fdfefe,#fafdfd,#f9fcfc,#fbfdfd,#fdfefe,#fbfdfd,#f8fcfc,#f6fafa,#f5fafa,#f1f8f8,#e5f2f2,#cee6e6,#aed7d7,#8ec6c6,#79bbbb,#76baba,#87c3c3,#a6d3d3,#c7e3e3,#e1f0f0)"></div><div style="height:1.2px;background:linear-gradient(90deg,#dceded,#bfdfdf,#9ccece,#7dbebe,#70b6b6,#76baba,#8dc6c6,#add6d6,#cae4e4,#ddeeee,#eaf4f4,#f2f8f8,#f8fbfb,#fcfdfd,#fefefe,#feffff,#fdfefe,#fdfefe,#fdfefe,#fcfefe,#f9fcfc,#f4fafa,#f1f8f8,#f1f8f8,#eff7f7,#e5f2f2,#cfe7e7,#b1d8d8,#93c9c9,#7ebebe,#7bbdbd,#8cc6c6,#aad5d5,#cae4e4,#e2f1f1)"></div><div style="height:1.2px;background:linear-gradient(90deg,#deefef,#c4e1e1,#a4d1d1,#87c3c3,#79bcbc,#7ebfbf,#94c9c9,#aed7d7,#c5e2e2,#d4eaea,#e0efef,#eaf4f4,#f3f9f9,#fafcfc,#fdfefe,#ffffff,#ffffff,#feffff,#fefefe,#fafdfd,#f3f9f9,#edf6f6,#ebf5f5,#edf6f6,#edf6f6,#e5f2f2,#d1e8e8,#b6dbdb,#9acdcd,#87c3c3,#85c2c2,#95caca,#b1d8d8,#cee6e6,#e4f2f2)"></div><div style="height:1.2px;background:linear-gradient(90deg,#e2f0f0,#cae5e5,#add6d6,#94c9c9,#87c3c3,#8bc5c5,#9ccdcd,#aed6d6,#bbdddd,#c4e2e2,#cfe7e7,#ddeeee,#ebf5f5,#f5fafa,#fcfdfd,#feffff,#ffffff,#ffffff,#fdfefe,#f5fafa,#e8f3f3,#dfefef,#e0f0f0,#e7f3f3,#eaf4f4,#e3f1f1,#d1e8e8,#badddd,#a4d1d1,#94c9c9,#92c9c9,#a0d0d0,#b9dcdc,#d3e9e9,#e7f3f3)"></div><div style="height:1.2px;background:linear-gradient(90deg,#e6f2f2,#d1e8e8,#b9dcdc,#a3d1d1,#97cbcb,#9acccc,#a4d1d1,#abd5d5,#abd5d5,#acd6d6,#b7dbdb,#c9e4e4,#dceded,#edf6f6,#f9fcfc,#fefefe,#ffffff,#feffff,#fafdfd,#ebf5f5,#d4e9e9,#cae5e5,#d2e8e8,#deeeee,#e4f1f1,#ddeeee,#cde6e6,#bcdddd,#add6d6,#a2d0d0,#a1d0d0,#aed6d6,#c3e1e1,#d9ecec,#ebf5f5)"></div><div style="height:1.2px;background:linear-gradient(90deg,#eaf5f5,#d9ecec,#c5e2e2,#b2d9d9,#a9d4d4,#a9d4d4,#acd5d5,#a7d3d3,#98cccc,#8fc7c7,#98cbcb,#acd5d5,#c3e1e1,#ddeeee,#f3f9f9,#fdfefe,#ffffff,#feffff,#f8fbfb,#dfefef,#bcdede,#b1d8d8,#bfdfdf,#d2e9e9,#daeded,#d1e8e8,#c1e0e0,#b8dbdb,#b4d9d9,#b0d7d7,#b1d8d8,#bbdddd,#cde6e6,#e0efef,#eef7f7)"></div><div style="height:1.2px;background:linear-gradient(90deg,#eef7f7,#e1f0f0,#d0e8e8,#c2e0e0,#b9dcdc,#b8dbdb,#b4dada,#a3d1d1,#87c3c3,#74b9b9,#77bbbb,#88c3c3,#9fcfcf,#c4e1e1,#e9f4f4,#fbfdfd,#feffff,#fefefe,#f6fafa,#d7ebeb,#abd5d5,#9ccdcd,#aed6d6,#c5e2e2,#cee7e7,#c1e0e0,#afd7d7,#b0d7d7,#b9dcdc,#bddede,#c0dfdf,#c9e4e4,#d7ebeb,#e6f2f2,#f1f8f8)"></div><div style="height:1.2px;background:linear-gradient(90deg,#f2f9f9,#e8f3f3,#dbeded,#cfe7e7,#c9e4e4,#c6e2e2,#bedede,#a4d2d2,#7dbebe,#62aeae,#5cabac,#66b1b1,#78bbbb,#a7d3d3,#deefef,#f8fcfc,#feffff,#fefefe,#f6fafa,#d7ebeb,#a8d4d4,#93c9c9,#a0cfcf,#b8dbdb,#c2e0e0,#b0d8d8,#9ecece,#a7d3d3,#bddede,#c9e4e4,#cee6e6,#d5eaea,#e0f0f0,#ebf5f5,#f5fafa)"></div><div style="height:1.2px;background:linear-gradient(90deg,#f5fafa,#eef6f6,#e4f2f2,#dbeded,#d6ebeb,#d3e9e9,#c9e4e4,#acd5d5,#7ebebe,#59a9aa,#49a0a1,#4ba1a2,#5dacac,#93c9c9,#d6ebeb,#f7fbfb,#feffff,#feffff,#f7fbfb,#deefef,#b3d9d9,#94caca,#95caca,#abd5d5,#b9dcdc,#a8d4d4,#97cbcb,#a6d2d2,#c3e1e1,#d4e9e9,#daecec,#e0efef,#e8f3f3,#f0f8f8,#f7fbfb)"></div><div style="height:1.2px;background:linear-gradient(90deg,#f8fcfc,#f2f9f9,#ecf5f5,#e5f2f2,#e2f0f0,#deefef,#d4eaea,#b9dcdc,#89c4c4,#5baaab,#3e9a9b,#3b9899,#53a6a6,#90c7c7,#d6eaea,#f7fbfb,#feffff,#feffff,#fafcfc,#e6f3f3,#bfdfdf,#98cbcb,#8bc5c5,#a0cfcf,#b5dada,#acd6d6,#9fcfcf,#b0d7d7,#cee6e6,#deefef,#e4f2f2,#e8f4f4,#eef7f7,#f5fafa,#f9fcfc)"></div><div style="height:1.2px;background:linear-gradient(90deg,#fafdfd,#f6fbfb,#f2f8f8,#edf6f6,#eaf5f5,#e8f4f4,#e0efef,#c8e3e3,#9acccc,#62afaf,#3a9898,#359595,#57a8a9,#9acccc,#dbeded,#f8fbfb,#feffff,#feffff,#fbfdfd,#ebf5f5,#c6e3e3,#97cbcb,#81c0c0,#96cbcb,#b6dada,#badddd,#b5dada,#c3e1e1,#daeded,#e8f3f3,#ecf6f6,#eff7f7,#f3f9f9,#f8fbfb,#fbfdfd)"></div><div style="height:1.2px;background:linear-gradient(90deg,#fcfdfd,#f9fcfc,#f6fafa,#f3f9f9,#f1f8f8,#f0f7f7,#eaf4f4,#d6eaea,#aad5d5,#6bb4b4,#399798,#339394,#5fadad,#a6d3d3,#e0f0f0,#f9fcfc,#feffff,#feffff,#fbfdfd,#edf6f6,#c7e3e3,#92c8c8,#77babb,#8ec7c7,#b9dcdc,#cce5e5,#cee6e6,#d8ecec,#e7f3f3,#f0f7f7,#f2f9f9,#f4fafa,#f7fbfb,#fafdfd,#fcfefe)"></div><div style="height:1.2px;background:linear-gradient(90deg,#fdfefe,#fbfdfd,#f9fcfc,#f7fbfb,#f6fbfb,#f5fafa,#f1f8f8,#e1f0f0,#b7dbdb,#72b8b8,#399797,#319293,#63afb0,#afd7d7,#e4f2f2,#f9fcfc,#feffff,#feffff,#fbfdfd,#edf6f6,#c5e2e2,#8cc5c5,#6fb6b6,#88c4c4,#bcdddd,#daeded,#e3f1f1,#e9f4f4,#f1f8f8,#f5fafa,#f7fbfb,#f8fcfc,#fafcfc,#fcfdfd,#fdfefe)"></div><div style="height:1.2px;background:linear-gradient(90deg,#fefefe,#fdfefe,#fbfdfd,#fafdfd,#f9fcfc,#f9fcfc,#f6fafa,#e8f3f3,#c0dfdf,#78bbbb,#3a9898,#319293,#66b1b1,#b2d9d9,#e6f2f2,#fafcfc,#feffff,#feffff,#fbfdfd,#ecf6f6,#c3e1e1,#87c3c3,#6ab3b3,#84c2c2,#bedede,#e3f1f1,#f0f7f7,#f5fafa,#f8fbfb,#f9fcfc,#fafdfd,#fbfdfd,#fcfdfd,#fdfefe,#fefefe)"></div><div style="height:1.2px;background:linear-gradient(90deg,#feffff,#fefefe,#fdfefe,#fcfefe,#fcfdfd,#fbfdfd,#f9fcfc,#ecf6f6,#c6e2e2,#7fbfbf,#409b9b,#359596,#6ab3b3,#b5dada,#e7f3f3,#fafcfc,#feffff,#feffff,#fbfdfd,#ecf5f5,#c3e1e1,#86c2c2,#69b2b2,#84c1c1,#bfdfdf,#e8f4f4,#f7fbfb,#fafdfd,#fbfdfd,#fcfdfd,#fcfefe,#fcfefe,#fdfefe,#fefefe,#feffff)"></div><div style="height:1.2px;background:linear-gradient(90deg,#ffffff,#feffff,#fefefe,#fdfefe,#fdfefe,#fdfefe,#fbfdfd,#eff7f7,#cbe5e5,#88c3c3,#4ba1a2,#409b9c,#71b7b7,#badcdc,#e8f4f4,#fafdfd,#feffff,#feffff,#fbfdfd,#ecf6f6,#c4e1e1,#88c4c4,#6bb4b4,#86c3c3,#c2e0e0,#eaf5f5,#f9fcfc,#fdfefe,#fdfefe,#fdfefe,#fdfefe,#fefefe,#fefefe,#feffff,#ffffff)"></div><div style="height:1.2px;background:linear-gradient(90deg,#ffffff,#ffffff,#feffff,#feffff,#fefefe,#fefefe,#fcfdfd,#f1f8f8,#d1e8e8,#94c9c9,#5baaab,#51a5a5,#7dbebe,#c0e0e0,#ebf5f5,#fbfdfd,#feffff,#feffff,#fbfdfd,#edf6f6,#c7e3e3,#8ec7c7,#72b8b8,#8cc6c6,#c5e2e2,#ecf6f6,#fbfdfd,#fefefe,#feffff,#feffff,#feffff,#feffff,#feffff,#ffffff,#ffffff)"></div><div style="height:1.2px;background:linear-gradient(90deg,#ffffff,#ffffff,#ffffff,#feffff,#feffff,#feffff,#fcfefe,#f3f9f9,#d8ebeb,#a2d1d1,#6fb6b6,#66b1b1,#8fc7c7,#c9e4e4,#edf6f6,#fbfdfd,#feffff,#ffffff,#fcfdfd,#eff7f7,#cbe5e5,#97cbcb,#7cbdbd,#96caca,#cae4e4,#eef6f6,#fbfdfd,#feffff,#ffffff,#feffff,#feffff,#ffffff,#ffffff,#ffffff,#ffffff)"></div><div style="height:1.2px;background:linear-gradient(90deg,#ffffff,#ffffff,#ffffff,#ffffff,#ffffff,#feffff,#fdfefe,#f5fafa,#deeeee,#b2d8d8,#85c2c2,#7dbebe,#a2d0d0,#d2e8e8,#f0f8f8,#fcfdfd,#feffff,#ffffff,#fcfefe,#f0f8f8,#d1e8e8,#a2d1d1,#89c4c4,#a1d0d0,#cfe7e7,#f0f7f7,#fcfdfd,#feffff,#ffffff,#ffffff,#ffffff,#ffffff,#ffffff,#ffffff,#ffffff)"></div><div style="height:1.2px;background:linear-gradient(90deg,#ffffff,#ffffff,#ffffff,#ffffff,#ffffff,#feffff,#fdfefe,#f6fbfb,#e3f1f1,#c0e0e0,#9dcece,#96cbcb,#b4d9d9,#dbeded,#f3f9f9,#fcfefe,#ffffff,#ffffff,#fcfefe,#f2f9f9,#d7ebeb,#afd7d7,#99cccc,#add6d6,#d6eaea,#f2f8f8,#fcfefe,#ffffff,#ffffff,#ffffff,#ffffff,#ffffff,#ffffff,#ffffff,#ffffff)"></div><div style="height:1.2px;background:linear-gradient(90deg,#ffffff,#ffffff,#ffffff,#ffffff,#ffffff,#fefefe,#fcfdfd,#f5fafa,#e6f2f2,#cae4e4,#afd7d7,#abd5d5,#c3e1e1,#e2f0f0,#f5fafa,#fdfefe,#ffffff,#ffffff,#fdfefe,#f4fafa,#ddeeee,#bcdddd,#aad4d4,#bbdddd,#dceeee,#f4f9f9,#fdfefe,#ffffff,#ffffff,#ffffff,#ffffff,#ffffff,#ffffff,#ffffff,#ffffff)"></div><div style="height:1.2px;background:linear-gradient(90deg,#ffffff,#ffffff,#ffffff,#ffffff,#feffff,#fcfefe,#f9fcfc,#f1f8f8,#e2f1f1,#cce5e5,#b8dcdc,#b8dbdb,#cce6e6,#e6f2f2,#f6fafa,#fdfefe,#feffff,#ffffff,#fdfefe,#f6fbfb,#e4f1f1,#c8e4e4,#badcdc,#c7e3e3,#e3f1f1,#f6fafa,#fdfefe,#ffffff,#ffffff,#ffffff,#ffffff,#ffffff,#ffffff,#ffffff,#ffffff)"></div><div style="height:1.2px;background:linear-gradient(90deg,#ffffff,#ffffff,#ffffff,#feffff,#fdfefe,#fafcfc,#f3f9f9,#e8f3f3,#d7ebeb,#c3e1e1,#b5dada,#b9dcdc,#cee7e7,#e6f2f2,#f5fafa,#fcfdfd,#feffff,#ffffff,#fefefe,#f8fcfc,#e9f4f4,#d4e9e9,#c8e4e4,#d3e9e9,#e9f4f4,#f8fbfb,#fefefe,#ffffff,#ffffff,#ffffff,#ffffff,#ffffff,#ffffff,#ffffff,#ffffff)"></div><div style="height:1.2px;background:linear-gradient(90deg,#ffffff,#ffffff,#ffffff,#fefefe,#fcfdfd,#f6fbfb,#ecf5f5,#dbeded,#c6e2e2,#b2d8d8,#a8d4d4,#b1d8d8,#c9e4e4,#e2f1f1,#f3f9f9,#fbfdfd,#fefefe,#ffffff,#fefefe,#fafcfc,#eff7f7,#deeeee,#d5eaea,#ddeeee,#eef7f7,#fafcfc,#fefefe,#ffffff,#ffffff,#ffffff,#ffffff,#ffffff,#ffffff,#ffffff,#ffffff)"></div><div style="height:1.2px;background:linear-gradient(90deg,#ffffff,#ffffff,#ffffff,#fefefe,#fafdfd,#f3f9f9,#e4f2f2,#cee7e7,#b4dada,#9fcfcf,#99cccc,#a6d3d3,#c2e0e0,#deeeee,#f0f8f8,#fafcfc,#fdfefe,#ffffff,#feffff,#fbfdfd,#f3f9f9,#e7f3f3,#e0efef,#e6f3f3,#f2f9f9,#fbfdfd,#feffff,#ffffff,#ffffff,#ffffff,#ffffff,#ffffff,#ffffff,#ffffff,#ffffff)"></div><div style="height:1.2px;background:linear-gradient(90deg,#ffffff,#ffffff,#ffffff,#fdfefe,#fafcfc,#f1f8f8,#e0f0f0,#c8e3e3,#abd5d5,#96caca,#92c8c8,#a2d1d1,#bfdfdf,#dceded,#eff7f7,#f9fcfc,#fdfefe,#feffff,#feffff,#fcfefe,#f6fbfb,#edf6f6,#e9f4f4,#edf6f6,#f6fafa,#fcfefe,#feffff,#ffffff,#ffffff,#ffffff,#ffffff,#ffffff,#ffffff,#ffffff,#ffffff)"></div><div style="height:1.2px;background:linear-gradient(90deg,#ffffff,#ffffff,#ffffff,#fdfefe,#fafdfd,#f2f8f8,#e2f1f1,#cbe5e5,#b1d8d8,#9ecece,#9bcdcd,#abd5d5,#c6e2e2,#dfefef,#f0f8f8,#fafcfc,#fdfefe,#ffffff,#ffffff,#fdfefe,#f9fcfc,#f3f9f9,#eff7f7,#f3f9f9,#f9fcfc,#fdfefe,#ffffff,#ffffff,#ffffff,#ffffff,#ffffff,#ffffff,#ffffff,#ffffff,#ffffff)"></div><div style="height:1.2px;background:linear-gradient(90deg,#ffffff,#ffffff,#ffffff,#fefefe,#fbfdfd,#f5fafa,#e9f4f4,#d7ebeb,#c3e1e1,#b4dada,#b3d9d9,#bfdfdf,#d3e9e9,#e7f3f3,#f4f9f9,#fbfdfd,#fefefe,#ffffff,#ffffff,#fefefe,#fbfdfd,#f7fbfb,#f5fafa,#f7fbfb,#fbfdfd,#fefefe,#ffffff,#ffffff,#ffffff,#ffffff,#ffffff,#ffffff,#ffffff,#ffffff,#ffffff)"></div><div style="height:1.2px;background:linear-gradient(90deg,#ffffff,#ffffff,#ffffff,#feffff,#fdfefe,#f8fcfc,#f1f8f8,#e5f2f2,#d8ecec,#cfe7e7,#cfe7e7,#d6ebeb,#e3f1f1,#f0f7f7,#f8fbfb,#fcfefe,#feffff,#ffffff,#ffffff,#feffff,#fcfefe,#fafcfc,#f8fcfc,#fafcfc,#fcfefe,#feffff,#ffffff,#ffffff,#ffffff,#ffffff,#ffffff,#ffffff,#ffffff,#ffffff,#ffffff)"></div><div style="height:1.2px;background:linear-gradient(90deg,#ffffff,#ffffff,#ffffff,#ffffff,#fefefe,#fcfdfd,#f7fbfb,#f1f8f8,#ebf5f5,#e6f2f2,#e5f2f2,#eaf4f4,#f0f8f8,#f7fbfb,#fbfdfd,#fefefe,#ffffff,#ffffff,#ffffff,#feffff,#fdfefe,#fcfdfd,#fbfdfd,#fcfdfd,#fdfefe,#feffff,#ffffff,#ffffff,#ffffff,#ffffff,#ffffff,#ffffff,#ffffff,#ffffff,#ffffff)"></div><div style="height:1.2px;background:linear-gradient(90deg,#ffffff,#ffffff,#ffffff,#ffffff,#feffff,#fefefe,#fcfdfd,#f9fcfc,#f6fbfb,#f4fafa,#f4f9f9,#f6fafa,#f9fcfc,#fbfdfd,#fdfefe,#feffff,#ffffff,#ffffff,#ffffff,#ffffff,#fefefe,#fdfefe,#fcfefe,#fdfefe,#fefefe,#ffffff,#ffffff,#ffffff,#ffffff,#ffffff,#ffffff,#ffffff,#ffffff,#ffffff,#ffffff)"></div><div style="height:1.2px;background:linear-gradient(90deg,#ffffff,#ffffff,#ffffff,#ffffff,#ffffff,#feffff,#fefefe,#fdfefe,#fcfdfd,#fbfdfd,#fbfdfd,#fcfdfd,#fdfefe,#fefefe,#feffff,#ffffff,#ffffff,#ffffff,#ffffff,#ffffff,#feffff,#fefefe,#fdfefe,#fefefe,#feffff,#ffffff,#ffffff,#ffffff,#ffffff,#ffffff,#ffffff,#ffffff,#ffffff,#ffffff,#ffffff)"></div><div style="height:1.2px;background:linear-gradient(90deg,#ffffff,#ffffff,#ffffff,#ffffff,#ffffff,#ffffff,#ffffff,#feffff,#feffff,#fefefe,#fefefe,#fefefe,#feffff,#ffffff,#ffffff,#ffffff,#ffffff,#ffffff,#ffffff,#ffffff,#ffffff,#feffff,#feffff,#feffff,#ffffff,#ffffff,#ffffff,#ffffff,#ffffff,#ffffff,#ffffff,#ffffff,#ffffff,#ffffff,#ffffff)"></div><div style="height:1.2px;background:linear-gradient(90deg,#ffffff,#ffffff,#ffffff,#ffffff,#ffffff,#ffffff,#ffffff,#ffffff,#ffffff,#ffffff,#ffffff,#ffffff,#ffffff,#ffffff,#ffffff,#ffffff,#ffffff,#ffffff,#ffffff,#ffffff,#ffffff,#ffffff,#feffff,#ffffff,#ffffff,#ffffff,#ffffff,#ffffff,#ffffff,#ffffff,#ffffff,#ffffff,#ffffff,#ffffff,#ffffff)"></div><div style="height:1.2px;background:linear-gradient(90deg,#ffffff,#ffffff,#ffffff,#ffffff,#ffffff,#ffffff,#ffffff,#ffffff,#ffffff,#ffffff,#ffffff,#ffffff,#ffffff,#ffffff,#ffffff,#ffffff,#ffffff,#ffffff,#ffffff,#ffffff,#ffffff,#ffffff,#ffffff,#ffffff,#ffffff,#ffffff,#ffffff,#ffffff,#ffffff,#ffffff,#ffffff,#ffffff,#ffffff,#ffffff,#ffffff)"></div><div style="height:1.2px;background:linear-gradient(90deg,#ffffff,#ffffff,#ffffff,#ffffff,#ffffff,#ffffff,#ffffff,#ffffff,#ffffff,#ffffff,#ffffff,#ffffff,#ffffff,#ffffff,#ffffff,#ffffff,#ffffff,#ffffff,#ffffff,#ffffff,#ffffff,#ffffff,#ffffff,#ffffff,#ffffff,#ffffff,#ffffff,#ffffff,#ffffff,#ffffff,#ffffff,#ffffff,#ffffff,#ffffff,#ffffff)"></div></div></div><div style="position:absolute;left:300.0px;top:22.0px;width:42.0px;height:39.0px;overflow:hidden;clip-path:polygon(20.5px 2.4px,39.1px 11.3px,40.0px 18.0px,39.3px 25.0px,35.5px 31.0px,29.0px 35.8px,22.0px 37.4px,15.5px 36.6px,9.0px 33.6px,4.5px 29.0px,2.3px 23.0px,2.2px 16.0px,2.6px 10.8px);"><div style="position:absolute;left:-1.8px;top:-1.8px;width:46.0px;filter:blur(0.6px)"><div style="height:1.5px;background:linear-gradient(90deg,#ed859a,#ed859a,#ed869a,#ed869b,#ed879b,#ee879c,#ee899d,#ee8a9e,#ee8a9e,#ee8b9f,#ee8a9e,#ee899e,#ee889d,#ee879b,#ed869a,#ed859a,#ed8499,#ed8499,#ed8499,#ed8398,#ed8298,#ed8398,#ed8499,#ed859a)"></div><div style="height:1.5px;background:linear-gradient(90deg,#ed859a,#ed859a,#ed869a,#ed869b,#ee879c,#ee889d,#ee8a9e,#ee8c9f,#ee8da0,#ee8da1,#ee8da0,#ee8b9f,#ee8a9e,#ee889c,#ed869b,#ed8499,#ed8499,#ed8398,#ed8398,#ed8197,#ec7f95,#ec8096,#ed8298,#ed8499)"></div><div style="height:1.5px;background:linear-gradient(90deg,#ed859a,#ed869a,#ed869b,#ee879b,#ee889c,#ee8a9e,#ee8ca0,#ef8ea1,#ef90a3,#ef90a3,#ef90a3,#ef8ea1,#ee8b9f,#ee899d,#ed869b,#ed8499,#ed8398,#ed8297,#ed8196,#ec7e94,#ec7a91,#ec7b91,#ec8095,#ed8499)"></div><div style="height:1.5px;background:linear-gradient(90deg,#ed859a,#ed869a,#ed869b,#ee879c,#ee899d,#ee8b9f,#ef8ea2,#ef91a4,#ef94a6,#f094a7,#ef93a6,#ef91a4,#ef8da1,#ee8a9e,#ed869b,#ed8398,#ed8197,#ed8096,#ec7e94,#eb788f,#ea718a,#ea738b,#ec7b92,#ed8298)"></div><div style="height:1.5px;background:linear-gradient(90deg,#ed859a,#ed869b,#ed879b,#ee889c,#ee8a9e,#ef8da1,#ef91a4,#f095a7,#f098aa,#f099ab,#f098aa,#f095a7,#ef90a3,#ee8b9f,#ed869b,#ed8297,#ec7f95,#ec7e94,#ec7a91,#ea7089,#e8657f,#e96781,#eb758d,#ed8196)"></div><div style="height:1.5px;background:linear-gradient(90deg,#ed869a,#ed869b,#ee879b,#ee899d,#ee8c9f,#ef90a3,#f095a7,#f09aab,#f19eae,#f19fb0,#f19eae,#f099ab,#ef93a6,#ee8ca0,#ed869b,#ed8196,#ec7d93,#ec7b91,#eb768d,#e96680,#e65572,#e65774,#ea6d86,#ec7e94)"></div><div style="height:1.5px;background:linear-gradient(90deg,#ed869a,#ed869b,#ee879c,#ee8a9e,#ee8da1,#ef93a5,#f099aa,#f19fb0,#f2a4b4,#f2a6b5,#f2a4b3,#f19eaf,#f096a8,#ef8ea1,#ed859a,#ec7f95,#ec7a91,#eb778e,#ea7088,#e75b77,#e34262,#e44565,#e8637e,#ec7b92)"></div><div style="height:1.5px;background:linear-gradient(90deg,#ed869a,#ed869b,#ee889c,#ee8a9e,#ef8fa2,#f095a7,#f19dae,#f2a5b4,#f3abb9,#f3adbb,#f3aab9,#f2a3b3,#f09aab,#ef8fa2,#ed859a,#ec7c93,#eb778e,#ea738b,#e96a83,#e54f6d,#e02f53,#e13456,#e75a76,#eb7990)"></div><div style="height:1.5px;background:linear-gradient(90deg,#ed869a,#ed879b,#ee889d,#ee8b9f,#ef91a4,#f098aa,#f1a1b1,#f3aab9,#f4b1be,#f4b4c0,#f4b0be,#f2a8b7,#f19dae,#ef90a3,#ed8499,#eb7990,#ea738b,#ea6e87,#e8637e,#e34464,#de2046,#df254a,#e65370,#eb768e)"></div><div style="height:1.5px;background:linear-gradient(90deg,#ed869b,#ed879b,#ee899d,#ee8ca0,#ef92a5,#f09bac,#f2a5b5,#f3b0bd,#f5b7c4,#f5bac6,#f4b6c3,#f3adbb,#f1a0b0,#ef91a4,#ed8298,#eb768e,#ea6e87,#e96983,#e75e7a,#e23e5f,#dc173f,#dd1e44,#e54f6d,#eb758d)"></div><div style="height:1.5px;background:linear-gradient(90deg,#ed869b,#ee879b,#ee899d,#ee8da0,#ef94a6,#f19dae,#f2a8b7,#f4b4c1,#f5bcc8,#f6bfca,#f5bcc7,#f4b1bf,#f2a2b2,#ef92a4,#ed8196,#ea738b,#e96a83,#e8647f,#e75a76,#e23b5d,#dc173e,#de1e45,#e54f6d,#eb758d)"></div><div style="height:1.5px;background:linear-gradient(90deg,#ed869b,#ee879b,#ee899d,#ef8ea1,#f095a7,#f19faf,#f3abb9,#f5b7c4,#f6c0cb,#f6c4ce,#f6bfca,#f4b4c1,#f2a4b4,#ef92a4,#ec7f95,#ea7088,#e86580,#e8607b,#e65874,#e23d5e,#de1e45,#df274b,#e65371,#eb768e)"></div><div style="height:1.5px;background:linear-gradient(90deg,#ed869b,#ee879c,#ee899d,#ef8ea1,#f095a7,#f1a0b0,#f3acbb,#f5b9c5,#f6c3cd,#f7c6d0,#f6c1cc,#f4b6c2,#f2a5b4,#ef91a4,#ec7d93,#e96c85,#e8617c,#e75c78,#e65673,#e34363,#e02c50,#e13557,#e75b77,#eb798f)"></div><div style="height:1.5px;background:linear-gradient(90deg,#ed869b,#ee879c,#ee899e,#ef8ea1,#f095a7,#f1a0b0,#f3adbb,#f5b9c5,#f6c3cd,#f7c6d0,#f6c2cc,#f4b6c2,#f2a4b4,#ef90a3,#ec7b92,#e96a83,#e75e7a,#e75a76,#e65673,#e44a69,#e23c5d,#e34565,#e8647e,#ec7b92)"></div><div style="height:1.5px;background:linear-gradient(90deg,#ed869b,#ee879c,#ee899d,#ef8ea1,#f095a7,#f19fb0,#f3acba,#f5b8c4,#f6c1cc,#f7c5cf,#f6c0cb,#f4b4c1,#f2a3b3,#ef8fa2,#ec7a91,#e96882,#e75c78,#e65874,#e65774,#e55270,#e44c6a,#e65572,#e96c85,#ec7d94)"></div><div style="height:1.5px;background:linear-gradient(90deg,#ed869b,#ee879b,#ee899d,#ee8da1,#ef94a6,#f19eae,#f3aab8,#f4b5c2,#f6bec9,#f6c1cc,#f5bdc8,#f4b1bf,#f1a1b1,#ee8da0,#eb7990,#e96781,#e75b77,#e65874,#e75975,#e75976,#e75975,#e8627d,#eb738b,#ec7f95)"></div><div style="height:1.5px;background:linear-gradient(90deg,#ed869b,#ee879b,#ee899d,#ee8da0,#ef93a5,#f19cad,#f2a7b6,#f4b2bf,#f5bac5,#f5bcc8,#f5b8c4,#f3aebb,#f19eae,#ee8b9f,#eb788f,#e96781,#e75c78,#e65875,#e75b77,#e75f7b,#e8647e,#e96c85,#eb7990,#ed8197)"></div><div style="height:1.5px;background:linear-gradient(90deg,#ed869b,#ed879b,#ee899d,#ee8ca0,#ef92a4,#f09aab,#f2a3b3,#f3adbb,#f4b4c1,#f4b6c3,#f4b3c0,#f3a9b8,#f09bac,#ee8a9e,#eb788f,#e96882,#e75e79,#e75b77,#e75e7a,#e8647f,#e96b84,#eb738b,#ec7c93,#ed8297)"></div><div style="height:1.5px;background:linear-gradient(90deg,#ed869b,#ee879b,#ee889d,#ee8c9f,#ef91a4,#f098a9,#f1a0b1,#f2a9b7,#f3afbd,#f4b1be,#f3adbb,#f2a5b4,#f098a9,#ee889d,#eb788f,#e96a83,#e8607b,#e75e79,#e8627c,#e96982,#ea7089,#eb788f,#ec7f95,#ed8398)"></div><div style="height:1.5px;background:linear-gradient(90deg,#ed869b,#ee879c,#ee899d,#ee8ca0,#ef91a4,#f098a9,#f19fb0,#f2a6b6,#f3abba,#f3adbb,#f3a9b8,#f1a1b1,#f096a8,#ee889c,#eb7990,#ea6d86,#e8647f,#e8627d,#e86680,#ea6d86,#eb748c,#ec7b92,#ed8096,#ed8398)"></div><div style="height:1.5px;background:linear-gradient(90deg,#ee879b,#ee889d,#ee8b9f,#ef8ea2,#ef94a6,#f09aac,#f1a2b2,#f2a8b7,#f3acba,#f3acba,#f2a8b7,#f1a0b0,#f095a7,#ee899d,#ec7b92,#ea7089,#e96982,#e96781,#e96a83,#ea7089,#eb778e,#ec7d93,#ed8197,#ed8499)"></div><div style="height:1.5px;background:linear-gradient(90deg,#ee889c,#ee8a9e,#ef8ea1,#ef93a5,#f09aab,#f1a1b1,#f3a9b8,#f3afbd,#f4b2bf,#f4b1be,#f3abb9,#f2a2b2,#f097a9,#ee8b9f,#ec7f95,#eb748c,#ea6e86,#e96c85,#ea6e87,#eb748c,#ec7a91,#ec7f95,#ed8298,#ed8499)"></div><div style="height:1.5px;background:linear-gradient(90deg,#ee899d,#ee8da0,#ef92a5,#f099ab,#f1a2b2,#f3abba,#f4b4c1,#f5bac6,#f5bcc7,#f5b9c5,#f4b1bf,#f2a7b6,#f09bac,#ef8ea1,#ed8298,#eb7990,#ea738b,#ea7189,#ea738b,#eb778e,#ec7c92,#ec8096,#ed8398,#ed8499)"></div><div style="height:1.5px;background:linear-gradient(90deg,#ee8b9f,#ef8fa2,#f096a8,#f19faf,#f3a9b8,#f4b4c1,#f6bec9,#f6c4ce,#f7c5cf,#f6c0cb,#f5b7c3,#f3abb9,#f19eaf,#ef91a4,#ed869b,#ec7d93,#eb778f,#eb758d,#eb778e,#ec7a91,#ec7e94,#ed8197,#ed8398,#ed8499)"></div><div style="height:1.5px;background:linear-gradient(90deg,#ee8b9f,#ef90a3,#f097a9,#f1a1b1,#f3acba,#f5b7c4,#f6c1cc,#f7c7d0,#f7c7d1,#f6c2cc,#f5b8c4,#f3acba,#f19faf,#ef93a5,#ee889d,#ed8096,#ec7b92,#eb7990,#ec7a91,#ec7d93,#ec8095,#ed8298,#ed8499,#ed859a)"></div><div style="height:1.5px;background:linear-gradient(90deg,#ee8b9f,#ef8fa2,#f096a8,#f19eaf,#f2a8b7,#f4b2bf,#f5bbc6,#f6bfca,#f6bfca,#f5bbc6,#f4b2bf,#f2a7b6,#f19cad,#ef91a4,#ee899d,#ed8298,#ec7e94,#ec7d93,#ec7d93,#ec7f95,#ed8197,#ed8398,#ed8499,#ed859a)"></div><div style="height:1.5px;background:linear-gradient(90deg,#ee899d,#ee8da0,#ef91a4,#f098aa,#f19fb0,#f2a7b6,#f3adbb,#f4b1be,#f4b1be,#f3adbb,#f2a6b5,#f19eaf,#f096a8,#ef8ea2,#ee889c,#ed8398,#ed8096,#ec7f95,#ec7f95,#ed8196,#ed8298,#ed8499,#ed8499,#ed859a)"></div><div style="height:1.5px;background:linear-gradient(90deg,#ee889c,#ee8a9e,#ee8da0,#ef91a4,#f095a8,#f09aab,#f19eaf,#f1a0b0,#f1a0b0,#f19eae,#f09aab,#f095a7,#ef90a3,#ee8b9f,#ed879b,#ed8499,#ed8297,#ed8196,#ed8197,#ed8297,#ed8398,#ed8499,#ed859a,#ed859a)"></div><div style="height:1.5px;background:linear-gradient(90deg,#ed879b,#ee889c,#ee899d,#ee8b9f,#ef8ea1,#ef90a3,#ef92a5,#ef93a6,#ef93a6,#ef92a5,#ef90a3,#ee8da1,#ee8b9e,#ee889c,#ed869a,#ed8499,#ed8398,#ed8298,#ed8298,#ed8398,#ed8499,#ed8599,#ed859a,#ed859a)"></div></div></div>
<svg width="685" height="612" viewBox="0 0 685 612">
<rect x="244.3" y="11.9" width="34.5" height="134.9" fill="#fde8d8" opacity="0.95"/><path d="M87.7 105.1 89.7 74.8 91.7 55.7 93.7 58.1 95.7 64.4 97.6 68.3 101.6 70.5 103.6 72.7 105.6 75.5 107.6 76.6 109.6 78.1 111.6 78.8 113.6 80.7 115.5 81.8 117.5 82.5 119.5 82.3 121.5 82.4 123.5 82.1 125.5 82.9 129.5 83.8 131.4 84 133.4 85 135.4 84.9 137.4 84 139.4 83.5 143.4 83.9 147.4 83.1 151.3 80.8 155.3 78 157.3 77.2 159.3 75.8 161.3 74.9 167.2 68.5 169.2 66.9 173.2 62 177.2 59.4 179.2 58.6 181.2 57.2 183.2 56.3 185.1 54.5 187.1 54.2 191.1 55.1 193.1 55.9 197.1 59 199.1 60.1 201.1 62 205 67.4 211 74.4 218.9 79 220.9 79.6 222.9 79.5 224.9 80.2 228.9 82.2 230.9 82.6 236.8 81.4 238.8 82.1 240.8 82.5 244.8 82.1 246.8 82.7 248.8 84.1 250.8 84.3 254.7 84.2 256.7 84.5 258.7 84.2 260.7 84.8 262.7 85.7 264.7 86.1 266.7 85.4 270.7 86.9 272.6 87.4 274.6 86.2 276.6 86.5 280.6 90 282.6 89.5 284.6 87.9 286.6 86.7 288.5 86.8 290.5 88 292.5 88.8 296.5 89.2 298.5 90 300.5 89.7 302.5 90.2 306.4 92.2 308.4 92 310.4 92.3 312.4 93.2 314.4 93.4 318.4 92.2 322.4 93 326.3 96.1 328.3 97.2 334.3 97.1 338.3 97.5 340.3 98.5 342.2 98.9 346.2 97.6 348.2 97.5 356.2 98.7 358.1 98.4 360.1 99.1 364.1 101.3 366.1 101.4 368.1 100.7 370.1 100.5 374.1 101.3 376 101 378 101.2 380 100.9 382 101.8 386 103" fill="none" stroke="#dc143c" stroke-width="1.1" stroke-opacity="0.16"/><path d="M87.7 93.4 89.7 64 91.7 45.8 93.7 47.2 95.7 51.9 97.6 55.7 101.6 60.8 103.6 64.1 105.6 66.9 107.6 67.2 111.6 69.2 115.5 71 119.5 73.8 123.5 74.3 125.5 75 127.5 76.5 129.5 77 133.4 75.2 135.4 76 137.4 77.1 139.4 76.9 141.4 75.5 143.4 74.6 145.4 74.2 149.3 72 151.3 71.2 153.3 70.1 155.3 68.1 157.3 65 159.3 62.5 161.3 61.6 163.3 61.8 165.3 62.3 167.2 63.3 169.2 65.9 171.2 67.9 173.2 69.1 175.2 70.7 177.2 74.1 179.2 76.3 181.2 77.4 183.2 78.1 187.1 80.5 191.1 81.2 193.1 81.8 195.1 82.7 197.1 83.2 201.1 85 207 86.8 209 86.6 213 85.6 215 84.9 217 84.9 218.9 85.6 222.9 85.3 226.9 87.5 230.9 88.6 232.9 88.5 236.8 87.7 240.8 88.1 244.8 89.4 246.8 89.7 248.8 90.4 256.7 90.6 258.7 90.5 260.7 91.6 262.7 93.2 264.7 94.3 266.7 94.2 268.7 93.8 274.6 96.1 278.6 95 280.6 95.4 282.6 94.7 284.6 94.4 286.6 95.8 288.5 97.9 290.5 98.9 292.5 100.3 294.5 100.9 296.5 100.7 298.5 101.3 300.5 102.4 302.5 103.2 306.4 103.7 310.4 105.7 312.4 107.3 314.4 107.7 316.4 107.3 318.4 107.8 320.4 109.1 322.4 109.6 324.3 109.1 326.3 110.3 330.3 111.7 332.3 111.1 334.3 112 336.3 112.5 338.3 113.6 344.2 113.9 348.2 114.7 352.2 115.3 356.2 117.1 358.1 117.7 362.1 118.1 366.1 118.9 372.1 120.5 374.1 121.2 376 122.3 382 122.7 384 123.9 386 124.1" fill="none" stroke="#2a9d9d" stroke-width="1.1" stroke-opacity="0.16"/><path d="M87.7 101.7 89.7 70.2 91.7 51.8 93.7 53.7 97.6 65.4 99.6 70.3 101.6 74.2 103.6 77.5 105.6 80.2 107.6 81.1 113.6 85.9 115.5 87 117.5 87 119.5 86.4 121.5 87 125.5 90.7 127.5 91.3 131.4 91.5 135.4 91.9 137.4 91.8 139.4 91 141.4 90.6 145.4 90.6 151.3 92.9 155.3 92 157.3 92 161.3 91.1 163.3 91 165.3 92 167.2 93.5 169.2 95.5 171.2 96.6 173.2 96.3 175.2 95.6 179.2 97.1 181.2 96.3 183.2 95.1 185.1 94.8 187.1 95.8 189.1 96 193.1 95.5 199.1 98.6 201.1 99.2 205 99.5 207 100 213 99.8 217 101.4 218.9 101.9 220.9 101.9 222.9 102.5 224.9 103.4 226.9 103.5 228.9 102.1 230.9 101.8 232.9 102.1 234.9 102.7 236.8 102.5 238.8 103 240.8 103 242.8 102.6 246.8 105.1 248.8 105.4 250.8 104.4 252.8 105.2 254.7 105.7 256.7 105.6 258.7 105.2 260.7 105.4 266.7 108.1 268.7 109.4 274.6 109.9 276.6 111.3 278.6 111.5 280.6 112.2 282.6 110.8 284.6 110 286.6 111.7 288.5 115.1 290.5 116.5 294.5 115.9 296.5 115.8 304.5 118.9 306.4 119.1 308.4 120.1 310.4 120.5 312.4 120.2 314.4 119.1 316.4 118.9 318.4 119.6 320.4 121.2 322.4 122 326.3 122.2 328.3 123.6 330.3 124.3 334.3 123.5 336.3 124.2 338.3 125.2 342.2 126.2 346.2 126.7 350.2 127.9 354.2 129.9 358.1 130.3 360.1 130.2 362.1 131.5 364.1 131.5 366.1 131.8 368.1 130.9 372.1 134.4 374.1 134.8 376 133.7 378 133.5 380 134.5 382 135 386 135.5" fill="none" stroke="#dc143c" stroke-width="1.1" stroke-opacity="0.16"/><path d="M87.7 103.8 89.7 71.5 91.7 51.8 93.7 53.6 95.7 59.8 97.6 66.6 99.6 71.7 101.6 75.5 103.6 77.7 105.6 80.5 111.6 82.7 115.5 85.7 117.5 85.6 119.5 85.1 121.5 85.4 125.5 88.5 127.5 88.9 131.4 87.9 135.4 88.1 137.4 87.6 139.4 87.4 143.4 84.9 145.4 83.3 147.4 83.7 149.3 83.2 151.3 81.4 153.3 78.4 157.3 75.3 159.3 72.6 161.3 69.2 167.2 65.5 171.2 61.8 173.2 60.3 175.2 59.8 177.2 60.3 179.2 61.1 181.2 61.6 185.1 60.8 187.1 61.8 189.1 63.8 195.1 71.3 199.1 74.2 201.1 76.3 203 79 205 80.6 207 81.1 209 81.2 215 83.9 218.9 85.1 220.9 83.6 222.9 83 224.9 83.4 226.9 85.3 228.9 84.6 230.9 83.3 232.9 82.4 234.9 83.4 238.8 84.4 240.8 83.2 242.8 82.7 244.8 81.5 246.8 81.3 248.8 81.4 250.8 81.8 256.7 84.2 258.7 82.9 260.7 82 262.7 82 264.7 83.6 266.7 84.9 268.7 85.6 270.7 84.7 276.6 84.4 278.6 84.5 280.6 85.1 282.6 86.4 286.6 87.6 288.5 87.9 292.5 89.2 294.5 89 298.5 90.3 302.5 93.1 304.5 93.6 306.4 93.5 308.4 93.9 310.4 95.5 312.4 96.8 314.4 96.9 318.4 95.5 320.4 96.8 322.4 99.1 324.3 100 326.3 99 328.3 98.5 330.3 99 332.3 100.6 334.3 101.5 336.3 102 338.3 101.9 344.2 103 346.2 103.9 348.2 104.3 350.2 104 356.2 105.4 358.1 105.1 362.1 105.7 364.1 106.6 368.1 106.9 370.1 106.1 372.1 106.2 374.1 107.3 378 108.3 380 107.9 382 108.9 384 107.9 386 108.4" fill="none" stroke="#2a9d9d" stroke-width="1.1" stroke-opacity="0.16"/><path d="M87.7 87.9 89.7 54.2 91.7 33.4 93.7 35.5 97.6 51.5 99.6 57.1 101.6 62 103.6 66 105.6 69.2 107.6 69.8 109.6 72.2 111.6 73.3 115.5 74 119.5 76.6 123.5 76.1 125.5 74.9 127.5 75.3 129.5 76.6 131.4 78.2 133.4 78.6 137.4 77.2 139.4 75.7 141.4 74.9 143.4 74.4 145.4 73.3 149.3 69.7 151.3 69.1 153.3 68.2 155.3 67 157.3 64.9 159.3 63.7 161.3 61.8 165.3 58.6 167.2 58.5 169.2 58.1 171.2 58.9 173.2 60.2 175.2 62.5 177.2 64.2 179.2 64.9 181.2 66.4 185.1 70.6 187.1 70.4 189.1 71.8 193.1 75.9 195.1 75.5 197.1 76.4 201.1 79.9 207 81.5 211 81.9 215 80.9 217 81.3 218.9 82.3 220.9 82.1 222.9 81.1 224.9 80.4 226.9 80.3 228.9 79.4 230.9 79.4 234.9 81.3 240.8 79.6 242.8 79.2 246.8 80.1 250.8 80.2 252.8 80.9 256.7 81.3 260.7 82.4 268.7 83.7 270.7 84.2 274.6 86.1 276.6 86.5 278.6 85.6 280.6 85.7 284.6 86.6 286.6 86.2 290.5 89.4 292.5 89.9 294.5 89.8 296.5 90.5 298.5 91.6 300.5 91.9 302.5 92.8 304.5 94.1 306.4 94.7 308.4 94.9 310.4 95.9 312.4 96.5 314.4 96.7 316.4 97.3 318.4 99 320.4 99.7 322.4 101 326.3 102.8 328.3 102.7 330.3 103 332.3 102.9 334.3 101.9 336.3 102.5 338.3 103.4 340.3 105.8 342.2 106 344.2 106.6 348.2 106.8 350.2 106.3 352.2 106.6 354.2 107.2 356.2 108.1 360.1 111 362.1 111.1 364.1 109.9 366.1 109.6 368.1 110.6 370.1 111.9 372.1 112 374.1 113.1 376 113.3 380 113 384 115.6 386 115.5" fill="none" stroke="#dc143c" stroke-width="1.1" stroke-opacity="0.16"/><path d="M87.7 79 89.7 48.4 91.7 29 93.7 29.4 95.7 35.6 97.6 42.9 99.6 48.3 101.6 52.3 103.6 54.9 105.6 56.4 107.6 56.6 109.6 58.4 111.6 60.7 113.6 61.3 117.5 63.3 119.5 63.7 121.5 63.4 123.5 63.4 125.5 65.4 127.5 65.8 131.4 64.5 135.4 66.8 137.4 66.2 139.4 66.3 141.4 65.9 143.4 64.7 147.4 61.6 149.3 61 153.3 59.1 157.3 55.6 163.3 52.3 167.2 48.7 169.2 48.2 171.2 48.4 173.2 49.4 177.2 50.7 179.2 51 185.1 53.1 187.1 54.1 189.1 55.7 193.1 61.5 195.1 63.6 199.1 66 201.1 68.3 203 70.1 205 71.5 207 72 209 73.5 211 74.2 213 74.6 215 74.6 218.9 76.7 220.9 76.3 222.9 75.1 224.9 75.3 226.9 76.4 228.9 77.1 230.9 76.4 234.9 74.6 238.8 75.5 242.8 76 244.8 75.9 248.8 77.5 250.8 78.7 252.8 79.3 254.7 80.3 256.7 80.1 260.7 78.7 264.7 80.5 266.7 81.2 268.7 82.6 270.7 83.5 272.6 84.8 276.6 85.7 278.6 85.5 280.6 86.2 282.6 86.2 284.6 85.8 286.6 86.2 288.5 88 290.5 89.4 292.5 89.2 298.5 91.1 300.5 91.3 302.5 91.9 304.5 92.2 308.4 93.6 310.4 94.7 312.4 95 314.4 96.1 318.4 97.5 320.4 96.1 322.4 95.6 324.3 97.6 326.3 100.8 328.3 102 332.3 101.8 336.3 103.4 338.3 103.4 342.2 104.1 344.2 106 348.2 107.3 350.2 106.8 352.2 107.1 354.2 108 356.2 109.2 358.1 109.9 360.1 109.4 362.1 109.3 364.1 108.8 368.1 110.5 370.1 111.8 374.1 112.6 376 112.5 378 113.1 380 113.1 386 115" fill="none" stroke="#2a9d9d" stroke-width="1.1" stroke-opacity="0.16"/><path d="M87.7 90.5 89.7 57.5 91.7 36.9 93.7 38.9 97.6 54.1 99.6 60.1 101.6 64.3 103.6 69.2 105.6 72.9 109.6 76.8 111.6 77.5 113.6 77.6 115.5 78.1 119.5 80 123.5 79.7 125.5 79.8 127.5 80.3 131.4 80.3 135.4 83.1 137.4 83.6 139.4 82.7 143.4 81.5 145.4 81.9 147.4 81 149.3 79.6 151.3 77 157.3 70.6 159.3 67.5 161.3 63.7 163.3 61.6 165.3 61.4 169.2 63.8 173.2 67.4 175.2 69.8 177.2 72.8 179.2 76.3 181.2 79.3 183.2 81.1 189.1 84.4 193.1 85.8 195.1 87 197.1 87.9 199.1 87.2 201.1 87.1 203 86.7 205 87.6 207 87.6 209 89.3 211 89.5 215 88.6 218.9 89.6 220.9 88.6 222.9 88.9 224.9 89.7 226.9 89.7 230.9 87.8 234.9 88 236.8 87.8 240.8 88.5 242.8 88.5 244.8 87.7 250.8 89.9 252.8 90.2 256.7 90.2 264.7 93.5 266.7 94.6 268.7 94.5 270.7 94.1 274.6 94.4 276.6 94.1 278.6 94.8 282.6 96.8 284.6 97.4 286.6 98.5 288.5 99 290.5 99 292.5 99.8 296.5 100.6 300.5 101 306.4 103.8 308.4 104.4 310.4 105.7 314.4 107.5 318.4 108.5 320.4 109.8 322.4 110.6 324.3 110.7 326.3 110.5 330.3 111.7 332.3 112.6 334.3 114.3 336.3 115.2 338.3 115.7 340.3 115.1 348.2 117.2 352.2 118.5 354.2 118.3 356.2 118.9 358.1 119 360.1 119.4 362.1 119.5 364.1 120.2 368.1 119.7 370.1 120.7 374.1 121.9 376 121.6 378 122.8 382 124.6 386 125.3" fill="none" stroke="#dc143c" stroke-width="1.1" stroke-opacity="0.16"/><path d="M87.7 96.7 89.7 66.1 91.7 46.3 93.7 48.2 97.6 58.1 99.6 60.7 103.6 68.2 105.6 70.3 107.6 71.1 111.6 75.5 113.6 75.9 115.5 75.3 117.5 75.2 119.5 75.6 121.5 77 125.5 78.6 127.5 78 129.5 78.2 133.4 79.4 135.4 78.4 139.4 77.5 145.4 78.4 151.3 78.6 157.3 77.7 159.3 76.2 163.3 72.5 165.3 71.7 169.2 70.9 171.2 70.3 173.2 69.1 175.2 67.3 177.2 64.6 183.2 57.8 185.1 55.1 191.1 48.1 193.1 46.3 195.1 45.9 197.1 45.9 199.1 47.3 201.1 48.3 203 48.9 205 48.8 211 54 213 55 218.9 62 224.9 65.4 226.9 67.6 228.9 68.8 230.9 70.4 234.9 71.1 236.8 71 240.8 72.6 242.8 73 246.8 73.3 250.8 72.8 252.8 72.1 254.7 71.7 256.7 71.9 258.7 72.4 260.7 73.3 262.7 73.9 264.7 74 266.7 73.8 268.7 73.9 270.7 74.6 272.6 74.9 276.6 76.7 278.6 77.4 280.6 76.8 282.6 77.4 286.6 80.3 292.5 79 294.5 78.8 296.5 80.2 300.5 83.8 306.4 85.5 308.4 85.7 310.4 86.5 312.4 87.6 314.4 88.3 318.4 88.5 322.4 92.5 324.3 93.5 326.3 92.9 328.3 92 330.3 91.8 332.3 92.5 334.3 94.3 336.3 95 338.3 95.3 340.3 95 344.2 97 346.2 97.1 348.2 96.5 350.2 96.5 352.2 98 354.2 98.8 358.1 97.4 364.1 98.1 368.1 99.5 374.1 100.3 376 100.1 380 101.5 382 101.6 384 101.4 386 101.9" fill="none" stroke="#2a9d9d" stroke-width="1.1" stroke-opacity="0.16"/><path d="M87.7 96.8 89.7 64.4 91.7 44.8 93.7 46.8 97.6 60.6 99.6 65.6 103.6 73.7 105.6 77.3 107.6 78.5 111.6 81.7 115.5 83.9 117.5 84.4 121.5 86 123.5 86.6 125.5 86.5 129.5 87.2 131.4 87.9 133.4 88 135.4 88.6 137.4 89.9 139.4 90.7 143.4 91.9 145.4 92.2 147.4 91.6 149.3 90.7 153.3 90.7 155.3 90.3 159.3 90.3 161.3 90.7 163.3 91.6 165.3 91.7 167.2 92.3 169.2 91.9 171.2 92.2 173.2 91.8 175.2 92.3 177.2 91.5 179.2 91.6 181.2 91.1 183.2 91.1 185.1 90.4 189.1 87.8 191.1 85.9 193.1 85.8 195.1 86.1 199.1 88.5 201.1 90 203 90.5 205 90.2 207 91 209 92.8 211 94 213 94.2 215 95 218.9 97.7 220.9 98.6 222.9 99.1 224.9 100.3 226.9 102.2 228.9 102.7 230.9 102.8 232.9 102.1 236.8 103.1 238.8 104.7 240.8 104.7 244.8 104.1 246.8 105.1 248.8 105.4 250.8 106.2 254.7 109 258.7 109.7 262.7 111 266.7 110.2 270.7 112.8 274.6 112.9 276.6 114.5 278.6 115.2 280.6 114.8 282.6 115.2 284.6 116.2 288.5 116.5 298.5 119.2 300.5 120 302.5 120.2 306.4 121.8 308.4 123.4 310.4 124.3 312.4 124.6 316.4 124.7 320.4 126.8 322.4 128.4 324.3 128.8 326.3 128.5 328.3 127.9 330.3 128.5 332.3 129.4 336.3 130.6 340.3 133 342.2 133 346.2 132.6 348.2 133.5 350.2 133.6 354.2 134.5 356.2 135.6 358.1 135.6 360.1 136.9 364.1 138.4 366.1 138.3 368.1 139.5 370.1 140.4 372.1 140.3 374.1 139.8 380 142.8 382 142.4 386 142.8" fill="none" stroke="#dc143c" stroke-width="1.1" stroke-opacity="0.16"/><path d="M87.7 97.6 89.7 66.3 91.7 46.7 93.7 48.3 97.6 59.2 101.6 67.2 103.6 71.8 105.6 75.4 109.6 77.3 111.6 78.6 113.6 78.9 117.5 80.5 119.5 80.7 121.5 80.6 125.5 83 127.5 82.8 129.5 82.3 131.4 82.7 135.4 84.7 141.4 85.9 145.4 85.1 149.3 84.6 151.3 83.9 153.3 84.2 155.3 84 157.3 84.1 159.3 83.4 161.3 83.8 163.3 83.7 165.3 84.9 167.2 85.5 169.2 85.6 173.2 85.4 175.2 86.7 179.2 88 183.2 86.8 185.1 85.9 187.1 85.5 193.1 86.5 195.1 86.1 197.1 86.5 199.1 86.2 201.1 86.9 203 87 207 88.2 211 88.6 215 89.3 218.9 86.7 220.9 87 224.9 89.6 226.9 89.5 232.9 86.6 234.9 86.3 236.8 86.8 238.8 87.9 240.8 88.3 242.8 88.1 246.8 87.3 254.7 87.5 256.7 87.2 262.7 89.8 268.7 89.7 270.7 90.3 274.6 90.8 276.6 90.8 278.6 92.2 282.6 93.4 286.6 95.1 290.5 96.5 292.5 97 294.5 96.6 298.5 97.6 300.5 97.9 302.5 97.7 304.5 98.6 306.4 99.9 314.4 102.5 316.4 102.2 318.4 102.8 322.4 105.1 324.3 105.7 328.3 106.1 330.3 106 334.3 107.8 336.3 109.2 338.3 110 342.2 110.2 346.2 112.9 352.2 114 354.2 113.5 356.2 113.3 358.1 113.5 360.1 114.9 364.1 115.6 366.1 114.3 368.1 114.7 370.1 115.4 372.1 116.7 376 117.8 382 118.1 386 118.9" fill="none" stroke="#2a9d9d" stroke-width="1.1" stroke-opacity="0.16"/><path d="M87.7 71.4 89.7 38.6 91.7 18.9 93.7 22.3 97.6 36.5 101.6 46.5 103.6 50.6 105.6 54.1 107.6 54.9 111.6 58 113.6 59.2 117.5 59.6 121.5 61.7 125.5 63 127.5 63.3 129.5 64.4 131.4 65.1 135.4 65.3 137.4 64.7 139.4 65.4 141.4 65.2 143.4 65.6 145.4 64.7 149.3 63.6 151.3 62.4 153.3 60.2 155.3 57.1 157.3 53.4 161.3 44 165.3 36.4 167.2 34.6 169.2 35 171.2 35.9 173.2 38.3 177.2 46.5 179.2 49.3 181.2 53.4 185.1 62.7 189.1 66.7 191.1 68.4 193.1 69.7 195.1 70.5 197.1 70.8 199.1 71.9 203 71.3 205 71.7 207 73.8 209 74.6 211 74.6 213 73.6 217 72.6 218.9 73 220.9 74 222.9 74.2 224.9 73.7 226.9 73.6 230.9 74.5 232.9 73.8 236.8 74.6 242.8 75 244.8 76.3 246.8 76.7 250.8 76.5 252.8 77.2 254.7 78.7 256.7 79.8 258.7 80.2 260.7 79.9 262.7 79.1 264.7 78.9 266.7 79.9 270.7 81.5 272.6 82.5 274.6 84.2 276.6 84.1 278.6 83 280.6 82.9 282.6 83.5 284.6 85.6 286.6 86.5 288.5 86 290.5 85.1 292.5 85.3 298.5 88 302.5 91.3 304.5 92.5 310.4 93.1 312.4 92.7 314.4 92.9 318.4 96.8 320.4 97 322.4 96.3 324.3 96.4 326.3 97.2 330.3 98.1 334.3 100 336.3 101.5 338.3 102.3 340.3 102.4 342.2 102 346.2 103.2 350.2 104 354.2 106.2 356.2 106.3 358.1 105.9 360.1 105.2 362.1 105.7 364.1 106.6 370.1 108.7 372.1 109.7 376 110.5 380 111.1 382 112.2 386 113" fill="none" stroke="#dc143c" stroke-width="1.1" stroke-opacity="0.16"/><path d="M87.7 110.9 89.7 78.8 91.7 59.5 93.7 61.1 95.7 67.8 97.6 73.3 101.6 82.2 103.6 85.2 105.6 87 107.6 87.2 109.6 88.8 113.6 91.2 115.5 92.1 117.5 91.5 119.5 91.4 121.5 92.3 125.5 92.9 127.5 92.7 129.5 93.5 131.4 92.8 135.4 92.6 137.4 93.5 139.4 93.2 141.4 93.5 145.4 93.2 147.4 91.7 149.3 91.1 151.3 90.8 153.3 90.9 155.3 89.6 157.3 87.8 159.3 86.6 161.3 86.2 163.3 85.5 167.2 83.7 169.2 83.4 173.2 80.9 179.2 70.9 181.2 69 187.1 60.5 191.1 56.8 193.1 54 195.1 52.7 197.1 52.7 199.1 53.9 201.1 54.8 203 56.7 205 59.9 207 62.2 209 64 211 66.2 215 74 217 76.9 218.9 78.3 220.9 78.9 222.9 78.9 224.9 80.7 226.9 81.9 228.9 82.7 230.9 82.7 232.9 83.9 234.9 84.4 236.8 83.2 238.8 83.2 242.8 85.1 244.8 84.6 246.8 83.8 248.8 83.6 252.8 86.1 254.7 86.3 256.7 85.3 258.7 84.6 262.7 84.8 264.7 85.6 266.7 85.7 270.7 85.1 272.6 85.3 274.6 85.2 276.6 84.8 278.6 85.4 280.6 86.5 282.6 86.5 284.6 87 288.5 87 290.5 86.7 294.5 87.8 298.5 88 300.5 89.2 302.5 89.6 304.5 88.8 306.4 88.3 308.4 88.9 310.4 89.8 312.4 89.6 314.4 90.2 316.4 90.3 320.4 88.8 322.4 89.5 324.3 90.5 328.3 91.1 332.3 92.1 334.3 91.9 336.3 91.1 340.3 90.7 342.2 91.7 344.2 92 346.2 93.1 348.2 93 350.2 93.4 354.2 94.6 356.2 94.2 358.1 93.3 360.1 93.9 362.1 95.1 364.1 95.1 366.1 94.7 368.1 93.5 372.1 93.1 374.1 94.2 376 94.9 380 95.1 382 94.3 386 94.1" fill="none" stroke="#2a9d9d" stroke-width="1.1" stroke-opacity="0.16"/><path d="M87.7 87.6 89.7 55.6 91.7 36.2 93.7 37.8 97.6 51.5 103.6 65.5 105.6 68.7 107.6 68.9 109.6 69.6 113.6 71.8 115.5 73.5 117.5 74.8 119.5 75.5 121.5 74.8 123.5 74.4 127.5 75 133.4 77 135.4 76.5 137.4 75.7 139.4 75.9 141.4 76.7 143.4 76.3 147.4 74.3 149.3 74.3 153.3 75.7 155.3 76.7 157.3 76 159.3 74.6 161.3 72.7 163.3 73.3 167.2 74 169.2 73.8 173.2 75 177.2 74.4 179.2 72.9 183.2 68.9 185.1 66.6 189.1 63.5 191.1 62.6 193.1 61.4 197.1 60 199.1 60.6 203 63.8 205 64.3 207 65.1 211 70.4 213 72.1 220.9 73.9 222.9 75.2 224.9 75.6 226.9 75.7 230.9 74.2 232.9 74.1 234.9 74.5 238.8 74.6 242.8 75.8 248.8 74.6 250.8 73.8 252.8 73.3 254.7 73.4 256.7 73.8 258.7 73.3 260.7 73.7 264.7 75.9 266.7 75.5 270.7 77.4 274.6 75.8 276.6 75.7 280.6 75.9 282.6 76.3 284.6 77.6 288.5 81.3 290.5 81 292.5 79.3 294.5 79.2 298.5 83.3 300.5 84.8 302.5 84.9 304.5 84.4 306.4 84.2 310.4 87.1 312.4 87.4 318.4 87.5 320.4 88.7 324.3 89.3 326.3 89.9 328.3 91.3 332.3 93.1 336.3 91.9 338.3 91.7 340.3 92.5 344.2 93.7 348.2 94.5 350.2 95.5 352.2 97.1 354.2 97.4 358.1 96.2 360.1 95.8 362.1 96.5 364.1 96.8 366.1 98.1 368.1 98 370.1 97.3 372.1 97.1 376 100.1 380 99.7 382 99.3 384 99.9 386 100.2" fill="none" stroke="#dc143c" stroke-width="1.1" stroke-opacity="0.16"/><path d="M87.7 85 89.7 53.9 91.7 34 93.7 35.3 97.6 48.1 101.6 54.4 103.6 58.5 105.6 62 107.6 62.5 113.6 64.9 119.5 67.6 121.5 67.9 123.5 68.7 125.5 69 127.5 69.9 129.5 70.4 131.4 71.2 133.4 71 137.4 71.3 139.4 72 143.4 72.5 145.4 72 149.3 70.2 153.3 70.6 155.3 71.5 157.3 71 159.3 70.9 161.3 69.6 163.3 69.4 165.3 68.3 167.2 68.8 169.2 70.1 171.2 70.7 175.2 70.2 179.2 71.1 181.2 72.7 183.2 73.6 185.1 73.4 187.1 72 191.1 71.5 193.1 72.1 197.1 71.8 201.1 72.3 205 71.3 207 72.4 209 73.1 213 73 215 73.2 217 73.1 218.9 73.3 222.9 73.2 224.9 72.6 226.9 72.3 228.9 71.3 232.9 71.2 234.9 72 236.8 71.5 238.8 70.1 240.8 69.4 244.8 70.6 248.8 70.7 252.8 71.5 254.7 72.1 256.7 72.4 258.7 73.3 262.7 72.9 264.7 73.1 266.7 74.6 270.7 75.4 272.6 75.2 278.6 75.3 280.6 74.9 282.6 73.3 284.6 72 286.6 73.9 288.5 77.9 290.5 79.5 292.5 79.8 294.5 79.3 296.5 79.6 300.5 81.2 302.5 83.3 306.4 83.9 308.4 83.9 310.4 85.4 312.4 85.8 314.4 87 320.4 87.5 322.4 88.3 324.3 88.3 326.3 88.7 328.3 90.3 330.3 90.9 332.3 91.2 334.3 91.8 336.3 92.9 342.2 93.8 344.2 94.4 346.2 94.3 348.2 94.7 350.2 94.8 352.2 95.9 354.2 96.6 356.2 96.7 358.1 96.4 364.1 98.1 366.1 98.4 368.1 98.4 372.1 97.2 374.1 97.8 378 100.8 380 100.9 384 100.3 386 100.8" fill="none" stroke="#2a9d9d" stroke-width="1.1" stroke-opacity="0.16"/><path d="M87.7 87.6 89.7 58.3 91.7 40.2 93.7 42 95.7 46.1 97.6 49.4 99.6 51.5 101.6 55 105.6 61.1 107.6 62.2 109.6 64.3 113.6 65.7 117.5 68.2 123.5 68.6 125.5 69.8 129.5 70.7 131.4 70.5 133.4 71.6 137.4 72.8 143.4 73.1 145.4 72.8 147.4 73.3 149.3 73.5 151.3 74.2 153.3 73.9 155.3 74.2 159.3 74.2 161.3 73.3 163.3 73.1 165.3 74.4 167.2 76 169.2 76.9 171.2 76.7 175.2 78 177.2 78.1 181.2 76.9 183.2 76.7 187.1 78.3 189.1 78.4 191.1 77.6 195.1 77.8 201.1 79.5 203 79.3 207 79.9 209 80.4 211 80.6 213 79.9 215 79.6 217 78.9 218.9 79.2 220.9 78.3 226.9 79.5 228.9 79.1 230.9 78.4 232.9 78.7 234.9 79.4 236.8 79.7 238.8 79.2 242.8 79 246.8 77.2 248.8 77.2 250.8 77.5 254.7 77 258.7 80.7 260.7 81.5 262.7 80.7 264.7 81.3 266.7 81.3 270.7 82.9 272.6 85.4 274.6 85.5 278.6 84.1 280.6 84.4 282.6 83.4 284.6 82.8 286.6 84.6 288.5 87.1 290.5 88.3 294.5 93 296.5 93.8 298.5 93.4 300.5 93.4 302.5 94.9 306.4 97.3 308.4 98 310.4 99.6 314.4 101.9 316.4 102.6 318.4 103.7 322.4 104.9 324.3 104.9 326.3 105.9 330.3 108.9 334.3 109 338.3 109.7 340.3 111 344.2 111.5 346.2 112 348.2 113.7 352.2 115.8 354.2 116.3 358.1 116.2 360.1 117.2 362.1 117.7 364.1 118.7 366.1 118.6 368.1 118 370.1 118.4 372.1 119.7 374.1 120.7 378 121.1 380 122.5 382 123.5 384 124.2 386 123.7" fill="none" stroke="#dc143c" stroke-width="1.1" stroke-opacity="0.16"/><path d="M87.7 99.1 89.7 70.7 91.7 51.8 93.7 51.6 95.7 56.1 97.6 61.7 99.6 65.1 103.6 69.3 105.6 72.5 107.6 73.7 109.6 74.2 111.6 75.3 113.6 77.4 115.5 79.9 117.5 80.6 121.5 79.8 123.5 80.5 125.5 82.4 127.5 83.1 129.5 83 133.4 82.2 135.4 82.4 137.4 81.6 139.4 81.1 141.4 79.4 143.4 79.1 145.4 78 147.4 78.4 149.3 77.7 151.3 75.4 153.3 72.2 155.3 70.8 157.3 71.3 159.3 70.4 161.3 69.1 163.3 67.5 165.3 67.7 167.2 66.8 169.2 67.1 171.2 67.7 175.2 70.8 181.2 73.8 187.1 79.3 191.1 82.6 195.1 88 197.1 89.3 199.1 88.2 201.1 87.7 207 92.1 209 92.2 213 93.4 215 95 217 95.1 220.9 93.1 222.9 91.7 226.9 91.9 228.9 92.6 230.9 92.3 234.9 94 236.8 93.8 238.8 93.2 240.8 93.1 244.8 95.3 246.8 95.5 250.8 96.3 252.8 95.6 254.7 95.2 258.7 96.7 260.7 96.3 262.7 96.8 266.7 98.4 268.7 98.9 270.7 100.1 276.6 101.1 280.6 102.5 286.6 105.3 288.5 107.1 290.5 108.5 292.5 109 294.5 108.7 296.5 109 300.5 109.1 302.5 109.4 306.4 112.3 308.4 114.6 310.4 116.4 312.4 116.9 314.4 116.5 316.4 117.2 318.4 118.6 320.4 119.1 324.3 121.1 326.3 122.7 328.3 123.4 330.3 123.4 332.3 123 334.3 123.8 338.3 126.5 342.2 128.7 346.2 129.4 348.2 128.6 352.2 128.8 354.2 130.8 356.2 132 358.1 132.6 360.1 131.9 362.1 132.3 364.1 133 368.1 135.5 372.1 137.3 374.1 137.2 378 138.4 380 139.4 382 138.6 384 138.2 386 138.7" fill="none" stroke="#2a9d9d" stroke-width="1.1" stroke-opacity="0.16"/><path d="M87.7 107.8 89.7 78.2 91.7 59.3 93.7 60.3 97.6 72 99.6 74.6 101.6 75.5 105.6 79.2 107.6 79.1 109.6 80.9 111.6 83.8 113.6 85.1 115.5 84.6 117.5 83.8 121.5 85 123.5 85.2 127.5 86.6 131.4 86.8 133.4 87.2 135.4 87 137.4 85.8 141.4 85.1 145.4 86.2 147.4 86.1 151.3 84.7 153.3 84.7 155.3 83.3 159.3 79.3 161.3 77.8 163.3 75.5 165.3 72.6 167.2 70.8 169.2 70.9 171.2 71.4 173.2 73.6 175.2 75.4 177.2 75.9 179.2 75.1 181.2 76.8 185.1 81.8 187.1 83.5 189.1 84.3 191.1 84.5 197.1 83.6 201.1 85.3 203 85.7 205 86.7 207 86.4 209 85.6 211 84.3 213 84.4 215 83.9 218.9 83.4 220.9 83.9 222.9 83.9 224.9 84.4 226.9 84.2 228.9 83.7 230.9 82.9 232.9 82.8 236.8 83.4 238.8 82.8 240.8 81.6 244.8 81.2 246.8 81.5 248.8 81.3 250.8 81.9 252.8 80.9 254.7 80.4 256.7 80.4 262.7 82.6 264.7 83.1 268.7 83.3 270.7 82.9 272.6 82.9 274.6 83.6 278.6 84.3 284.6 85.7 286.6 86.5 288.5 86.4 290.5 85.7 294.5 86.5 298.5 87.7 300.5 89.2 302.5 90.1 306.4 90.3 308.4 90.2 312.4 91.4 314.4 91.5 316.4 92 320.4 93.6 322.4 93.6 326.3 94.7 328.3 96 332.3 96.8 334.3 96.7 336.3 97 338.3 97 342.2 98.4 344.2 98.9 350.2 99.6 352.2 100.6 354.2 100.7 356.2 101.5 360.1 102.6 362.1 101.8 364.1 100.5 366.1 99.9 368.1 100.1 370.1 101.8 372.1 102.1 374.1 103 376 103.4 378 104.2 380 104.6 382 104.4 386 103.1" fill="none" stroke="#dc143c" stroke-width="1.1" stroke-opacity="0.16"/><path d="M87.7 103.4 89.7 73.5 91.7 55.1 93.7 57 97.6 69.2 105.6 79.5 107.6 80.2 109.6 82.1 111.6 83.4 113.6 85.1 115.5 87.4 117.5 87.8 119.5 87.5 121.5 88.1 123.5 89.2 125.5 89.7 127.5 89.2 129.5 90 131.4 91.2 133.4 92.9 135.4 93.2 143.4 91.8 145.4 90.6 147.4 88.6 151.3 86.1 153.3 84.3 155.3 81.6 157.3 80.7 159.3 80.1 161.3 78.6 165.3 77 167.2 77 169.2 76.3 173.2 77.5 177.2 79 181.2 82.1 185.1 84.6 189.1 89.4 193.1 92.5 197.1 96.3 201.1 98.1 203 97.8 205 98 207 99 209 100.7 211 102 213 102.7 215 102.9 217 102.1 218.9 102.1 222.9 103.3 228.9 103.3 230.9 102.5 234.9 102.4 236.8 102.7 240.8 104.4 242.8 104.2 244.8 103.5 246.8 104.6 248.8 105 252.8 105 254.7 106.4 256.7 106.8 258.7 105.6 260.7 104.8 262.7 106.4 266.7 109 268.7 109.5 270.7 110.8 274.6 110.2 276.6 110.8 278.6 112 280.6 112.9 284.6 110.1 286.6 111.9 288.5 115.3 290.5 116.9 294.5 118.6 296.5 119.9 298.5 120.5 304.5 124 306.4 124.8 308.4 126.6 310.4 127.9 312.4 128.6 314.4 128.1 316.4 128.1 318.4 129.6 320.4 132 322.4 133 324.3 132.9 326.3 133.6 328.3 135.1 330.3 136.2 332.3 136.8 334.3 137.7 336.3 138.1 338.3 137.7 340.3 137.8 342.2 138.8 344.2 141 348.2 143.7 352.2 142.8 354.2 143.1 358.1 145.8 360.1 146.2 362.1 147.1 364.1 147 368.1 148.2 370.1 149.6 372.1 150 374.1 149.5 376 149.3 378 149.9 380 151.3 382 152.4 384 152.9 386 152.8" fill="none" stroke="#2a9d9d" stroke-width="1.1" stroke-opacity="0.16"/><path d="M87.7 84.7 89.7 52.5 91.7 32.4 93.7 34 95.7 40.4 97.6 47.5 99.6 53.2 101.6 57.3 103.6 60.2 107.6 63.8 109.6 66 111.6 67.7 113.6 66.9 115.5 67.2 117.5 68.6 119.5 70.4 121.5 71.5 123.5 72.2 125.5 72.5 127.5 72.3 129.5 71.7 131.4 73.2 133.4 74.3 135.4 74.7 137.4 73.1 139.4 73 143.4 74.2 145.4 73 147.4 72.3 149.3 73.2 151.3 74.8 153.3 74.8 155.3 74.2 161.3 71.9 163.3 71.6 165.3 71.6 167.2 71.3 169.2 70.5 175.2 64.9 177.2 62 181.2 58.1 185.1 54.9 187.1 54.9 189.1 55.2 191.1 55.9 195.1 59 199.1 63.6 201.1 67 205 72 209 76.1 213 78.1 215 79.7 218.9 81.6 220.9 82 224.9 81.5 226.9 81.9 228.9 83.4 234.9 83.2 236.8 83.7 238.8 82.9 240.8 82.6 242.8 82.9 246.8 84.5 248.8 84.7 254.7 88.1 256.7 87 258.7 86.6 260.7 87.1 262.7 88.1 270.7 89.6 274.6 91.3 276.6 91.9 280.6 90.9 282.6 91.3 284.6 92.8 288.5 93.4 290.5 92.8 292.5 93.6 294.5 93.8 296.5 94.7 298.5 95 302.5 94.6 306.4 96.8 308.4 97.7 310.4 97.2 314.4 97.1 318.4 98.3 320.4 98.2 322.4 98.6 324.3 99.4 326.3 99.8 328.3 99.8 330.3 100.6 332.3 101.7 334.3 102.4 336.3 102.1 338.3 103.3 340.3 103.8 344.2 102.6 346.2 103.2 348.2 103.4 350.2 102.7 352.2 102.8 356.2 105.2 358.1 106.6 362.1 106.5 364.1 106.7 368.1 108.4 370.1 110 374.1 109.6 376 109.6 378 110.3 380 110 386 110.3" fill="none" stroke="#dc143c" stroke-width="1.1" stroke-opacity="0.16"/><path d="M87.7 96.3 89.7 64.9 91.7 45 93.7 46 97.6 59.1 99.6 63.8 101.6 67.7 105.6 74.3 107.6 74.7 111.6 78.4 113.6 78.7 115.5 78.3 117.5 78.6 119.5 79.7 121.5 79.8 125.5 82.2 127.5 83 129.5 83.2 131.4 83.7 133.4 84.6 137.4 85 139.4 84.7 143.4 84.9 145.4 86.4 147.4 87.1 149.3 87 151.3 86.1 153.3 86.5 159.3 85.4 161.3 85.6 163.3 85.2 165.3 85.3 169.2 84.5 171.2 83.2 173.2 82.5 175.2 81.2 177.2 79.5 179.2 76.6 185.1 64.4 187.1 61.9 191.1 57.8 193.1 56.9 195.1 58 199.1 63.5 203 71.1 205 75.7 207 78.8 209 82.5 211 85.4 213 89.3 215 91.6 217 93.4 220.9 94.9 224.9 95.4 230.9 98.9 232.9 99.7 234.9 99.7 236.8 99 238.8 99.3 242.8 101.1 244.8 101.7 246.8 101.5 248.8 101.6 252.8 104.3 254.7 104.4 256.7 104.9 258.7 105.7 260.7 106.2 262.7 105.4 266.7 107 268.7 108.1 270.7 108.2 274.6 108 276.6 108.1 278.6 108.8 280.6 108.9 284.6 105.7 286.6 107.3 288.5 109.3 290.5 110.8 294.5 112.8 296.5 112.2 298.5 112.2 300.5 113.2 306.4 114.8 308.4 115 310.4 114.6 312.4 115.5 316.4 116.5 318.4 116.4 320.4 118.9 322.4 120.4 324.3 120.7 326.3 120.1 330.3 120.9 334.3 120.7 338.3 122.5 340.3 123.1 342.2 122 344.2 121.9 346.2 122.7 348.2 124.5 350.2 125.7 352.2 126.1 354.2 125.7 356.2 124.8 358.1 124.3 360.1 125.2 362.1 127 364.1 128.4 370.1 128.4 376 130 380 130.2 384 130.2 386 131.4" fill="none" stroke="#2a9d9d" stroke-width="1.1" stroke-opacity="0.16"/><path d="M87.7 84.3 89.7 54 91.7 35.1 93.7 37.4 95.7 43.6 97.6 46.8 99.6 49.3 103.6 56 105.6 57.2 107.6 56.9 109.6 59.4 111.6 61.2 113.6 62.6 115.5 62.3 117.5 62.4 121.5 65.1 123.5 65.9 125.5 65.8 129.5 68 133.4 69.1 135.4 68.7 137.4 68.9 139.4 68.6 143.4 69.8 147.4 69.2 151.3 67.2 153.3 65.8 157.3 65.2 159.3 64.2 161.3 64 163.3 63 165.3 62.4 167.2 61.5 169.2 62.5 171.2 62.6 173.2 62.1 175.2 62 177.2 63.6 179.2 64.4 181.2 64.8 183.2 66 185.1 68.7 187.1 69.4 189.1 69.8 191.1 69.8 193.1 70.6 195.1 71.1 199.1 73.4 201.1 74.2 203 74.6 205 74.7 209 76.8 211 77.4 215 75.6 217 76.2 218.9 76.5 222.9 74.7 228.9 74.1 232.9 74.4 234.9 75.3 236.8 76.6 238.8 77.4 242.8 77.2 244.8 77.3 248.8 76.3 250.8 76.2 252.8 77.3 260.7 79.8 262.7 80.9 264.7 81.6 266.7 81.9 268.7 81.6 272.6 82.9 274.6 83.1 276.6 83.6 278.6 84.4 280.6 83.9 282.6 81.9 284.6 81 286.6 83.9 288.5 86.1 292.5 88.4 294.5 90 296.5 91.2 300.5 91.5 302.5 91.4 304.5 91.8 310.4 94.2 312.4 94.2 318.4 96 320.4 96.8 324.3 99.5 326.3 100.2 328.3 99.4 330.3 99.8 332.3 100.9 334.3 102.9 336.3 102.6 338.3 103.2 340.3 104.1 342.2 105.4 344.2 105.4 346.2 105.9 348.2 105.9 350.2 106.6 352.2 107.6 354.2 108.1 356.2 107.5 358.1 107.2 360.1 108 362.1 109.9 364.1 111 368.1 109.7 370.1 110.2 374.1 112.4 376 113 378 113.9 382 114.5 384 113.8 386 114.2" fill="none" stroke="#dc143c" stroke-width="1.1" stroke-opacity="0.16"/><path d="M87.7 89.3 89.7 57.8 91.7 38.1 93.7 39.1 95.7 45.2 97.6 52 99.6 57.4 101.6 61.8 103.6 65.5 105.6 68.1 107.6 69.3 109.6 71.2 111.6 72.7 119.5 74.3 123.5 75.4 125.5 75.6 129.5 76.9 131.4 77.2 133.4 76.7 135.4 76.6 139.4 77.7 141.4 77.5 143.4 77.6 147.4 76.6 153.3 76.6 155.3 75.7 157.3 76.3 159.3 76 161.3 76.8 165.3 76.5 171.2 72.7 173.2 72.9 175.2 72 177.2 70.5 179.2 68.5 181.2 67 183.2 64.4 187.1 61.4 191.1 59.4 193.1 60.7 195.1 60.8 197.1 61.2 199.1 61.9 201.1 63.2 203 64 205 65.7 207 68.3 211 71.8 217 74.9 218.9 76.7 220.9 77.8 222.9 78.6 224.9 79 226.9 79.1 228.9 78.4 230.9 77.1 234.9 78.1 236.8 79.2 238.8 78.9 242.8 79.5 248.8 81.6 250.8 82.9 252.8 81.9 254.7 80.3 256.7 79.5 260.7 81 266.7 84.2 268.7 84.3 270.7 84.1 272.6 83.6 278.6 86 280.6 86.4 282.6 87.6 286.6 87 288.5 86.5 290.5 86.4 292.5 86 296.5 87.6 298.5 88.7 302.5 90.3 306.4 90.8 308.4 91.5 310.4 91.9 312.4 93.1 314.4 93.4 316.4 94 318.4 94.1 320.4 95.2 322.4 96 326.3 96.2 330.3 97 332.3 96.6 334.3 96.8 336.3 97.7 338.3 98.2 342.2 98.6 346.2 100 348.2 100.9 354.2 100.2 358.1 101.7 360.1 102.9 362.1 103.8 366.1 103.5 368.1 103.1 370.1 103.2 372.1 103.7 374.1 104.6 378 103.8 380 103.6 384 105.5 386 106.7" fill="none" stroke="#2a9d9d" stroke-width="1.1" stroke-opacity="0.16"/><path d="M87.7 94.3 89.7 61.2 91.7 40 93.7 42.2 95.7 49.4 97.6 57.5 101.6 69.5 103.6 73.9 105.6 77.5 107.6 78.7 109.6 80.5 111.6 80.8 115.5 82.9 121.5 87.1 123.5 87.7 125.5 87.3 127.5 87.8 129.5 88.6 131.4 88.9 133.4 88.6 135.4 88.8 137.4 89.4 141.4 89.2 147.4 87.9 149.3 86.8 151.3 84.6 153.3 82 157.3 78.9 159.3 76.7 163.3 73.5 165.3 71.6 169.2 66.2 171.2 64.7 177.2 60.9 181.2 59.4 183.2 59.1 185.1 58.5 187.1 59.8 189.1 61.4 193.1 65.8 203 78.9 205 82.7 207 87.5 209 90.8 211 92.3 213 92.7 217 94.8 220.9 98.2 222.9 99.1 224.9 98.4 226.9 98.3 228.9 99.7 230.9 100.8 234.9 100.5 238.8 100.9 242.8 103.5 244.8 103.6 246.8 102.5 252.8 103.1 254.7 102.6 256.7 103.5 260.7 105.7 262.7 106 264.7 106 268.7 106.8 270.7 108 274.6 108.6 276.6 108.2 278.6 109.3 280.6 110.8 282.6 111.8 284.6 111.7 288.5 112.9 290.5 114.5 294.5 115.9 296.5 116.4 298.5 117.5 302.5 118.7 304.5 120 306.4 121.6 308.4 121.1 310.4 121.8 314.4 124.5 316.4 124.1 318.4 124.6 320.4 125.5 324.3 126.3 326.3 127.2 330.3 127.6 334.3 131.5 336.3 130.8 338.3 131.3 340.3 132.3 342.2 133.8 344.2 133.1 348.2 134.1 350.2 135.3 352.2 136.1 354.2 136.2 356.2 135.6 358.1 135.3 360.1 136.6 362.1 138.4 364.1 139.5 366.1 139.6 368.1 140.3 372.1 142.1 374.1 142.4 376 143.1 378 143.3 382 144.7 384 144.9 386 144.4" fill="none" stroke="#dc143c" stroke-width="1.1" stroke-opacity="0.16"/><path d="M87.7 101.7 89.7 69.6 91.7 49.6 93.7 50.7 99.6 68.6 101.6 73.1 103.6 76.6 105.6 78.3 107.6 79.1 111.6 83.5 113.6 84.8 115.5 85.3 117.5 86.4 119.5 88.1 123.5 87.2 125.5 88.1 127.5 90.4 129.5 91 131.4 90.7 135.4 90.7 139.4 91.7 141.4 91.7 145.4 90.2 149.3 90.2 151.3 89.9 153.3 90.4 155.3 90.2 157.3 88.7 163.3 81.2 165.3 78.3 169.2 73.7 173.2 65.7 175.2 62.3 179.2 59.2 181.2 58.8 183.2 58.9 187.1 62.9 191.1 71.1 195.1 77.9 197.1 80.5 203 89.6 205 91.9 207 92.8 209 93.4 211 92.8 213 93.9 217 96.9 222.9 93.8 228.9 95.1 230.9 94.5 232.9 93.6 234.9 92.1 236.8 91.2 238.8 91 244.8 94.1 248.8 94.3 250.8 93.4 252.8 92.9 254.7 93.5 256.7 94.9 258.7 94.5 260.7 93.8 262.7 93.8 266.7 95.4 268.7 97.5 272.6 99.5 274.6 98.7 278.6 98.5 282.6 99.1 286.6 101.5 288.5 102.3 290.5 101.9 294.5 103.9 296.5 105.7 300.5 107 302.5 107.3 306.4 110.1 308.4 110.8 310.4 110.9 312.4 111.6 314.4 113.3 316.4 114 318.4 115.1 320.4 115.2 322.4 116.7 324.3 116.5 326.3 117.4 328.3 118 330.3 119 334.3 119.9 338.3 121.1 340.3 122.3 344.2 123.9 346.2 124.3 350.2 124.5 358.1 127.1 360.1 125.9 362.1 125.8 364.1 127.3 366.1 128.5 368.1 127.5 370.1 127.1 374.1 129.7 376 130.6 378 130.9 382 132.3 384 133.5 386 133.6" fill="none" stroke="#2a9d9d" stroke-width="1.1" stroke-opacity="0.16"/><path d="M87.7 120.3 89.7 89.5 91.7 70.2 93.7 71.5 97.6 83 99.6 87 103.6 92.7 105.6 96.3 111.6 98.5 113.6 99.8 115.5 100 117.5 100.5 121.5 102.3 123.5 102.6 125.5 103.5 127.5 103.9 129.5 103.9 133.4 103.5 137.4 103.5 139.4 103.1 145.4 103 147.4 102.4 151.3 101.9 153.3 101.3 159.3 96.5 161.3 95.8 163.3 94.6 165.3 92.9 169.2 90.9 173.2 87.8 175.2 87.4 177.2 86.5 179.2 83.8 181.2 82.4 183.2 82 187.1 84 189.1 84.7 191.1 84.5 193.1 85.3 195.1 86.4 197.1 88 201.1 93 203 94.3 205 95.1 209 100.3 211 101.6 213 102.1 215 102 218.9 104.2 220.9 104.8 224.9 102 230.9 106 232.9 105.2 234.9 105.4 236.8 105.1 238.8 106.2 240.8 105.3 242.8 105.7 244.8 105.5 246.8 105.8 248.8 104.9 250.8 105.5 252.8 106.5 254.7 107 258.7 106.7 260.7 107 262.7 107.6 264.7 108.5 266.7 108.9 268.7 108.6 270.7 109 272.6 109.7 276.6 109.8 280.6 110.4 282.6 108.7 284.6 107.7 286.6 110.1 288.5 113 290.5 114.8 292.5 115.2 298.5 114.4 300.5 114.9 304.5 117.4 306.4 117.8 308.4 117.7 312.4 119.3 316.4 121.5 318.4 122 322.4 121.8 324.3 122.3 326.3 123.7 328.3 123.9 330.3 123.7 332.3 123.2 334.3 124.4 336.3 124.4 340.3 124.8 342.2 125.9 344.2 126.6 348.2 129.7 350.2 129.7 352.2 128.5 354.2 128.6 356.2 130 358.1 130.2 360.1 130 362.1 130.5 366.1 133.2 368.1 133.7 370.1 133.5 372.1 132.9 374.1 132.9 376 133.7 380 133.3 382 133.7 384 135.8 386 136.6" fill="none" stroke="#dc143c" stroke-width="1.1" stroke-opacity="0.16"/><path d="M87.7 109.2 89.7 77.1 91.7 55.5 93.7 55.9 97.6 71.3 99.6 75.2 103.6 81.1 105.6 83.4 107.6 83.8 109.6 87 111.6 89.3 113.6 89.3 115.5 88 117.5 88.6 119.5 89.7 121.5 91.2 123.5 91.6 125.5 91.3 127.5 90.2 129.5 90.4 131.4 91.3 135.4 90 137.4 90 139.4 90.8 145.4 88.6 149.3 86.2 151.3 84.7 153.3 82.7 155.3 80.1 161.3 74.5 163.3 72.2 165.3 70.9 171.2 65.6 173.2 65.3 175.2 65.4 177.2 65.2 179.2 65.8 183.2 70.2 185.1 71.4 187.1 72.3 197.1 80.8 201.1 84.9 203 86.3 205 86.9 209 89 211 89.8 213 89.2 215 88.9 217 88.3 220.9 89.1 222.9 90 224.9 90 226.9 90.4 228.9 90.5 232.9 89.7 234.9 89.1 236.8 89.1 238.8 88.6 240.8 88.9 242.8 88.3 246.8 88.3 248.8 89.1 252.8 89.8 256.7 89.2 258.7 89.5 260.7 90.3 262.7 90.7 264.7 89.9 270.7 91.6 272.6 90.5 274.6 89.9 276.6 89.8 278.6 91.2 280.6 92.1 282.6 92.6 284.6 92.4 286.6 93 288.5 93.3 290.5 93.9 292.5 94.2 294.5 93.9 298.5 94.3 300.5 95.1 304.5 97.1 306.4 97.6 308.4 97.6 312.4 100.2 314.4 100.8 316.4 101 318.4 101.9 322.4 102.4 326.3 103.8 328.3 103.7 330.3 103.9 332.3 104.5 334.3 105.4 336.3 105.5 338.3 105.1 340.3 104.3 342.2 104.3 346.2 106.8 348.2 107.2 350.2 105.6 352.2 104.5 354.2 105 358.1 109.3 360.1 109.8 364.1 108.3 366.1 108.6 368.1 109.3 372.1 107.9 374.1 107.8 378 110.8 380 111.7 382 110.5 384 109.6 386 109.8" fill="none" stroke="#2a9d9d" stroke-width="1.1" stroke-opacity="0.16"/><path d="M87.7 107.8 89.7 74.5 91.7 54.4 93.7 55.6 97.6 73.4 99.6 80.4 101.6 84.6 103.6 88.1 105.6 91 107.6 92.1 109.6 94.3 111.6 94.8 117.5 98.1 119.5 98.5 121.5 99.9 123.5 100.3 125.5 100 127.5 100.6 133.4 101.1 137.4 102 141.4 103.4 143.4 102.5 145.4 102.6 149.3 101.6 151.3 100.1 153.3 99.9 155.3 100 157.3 98.7 161.3 92 165.3 88.3 167.2 85.6 169.2 83.2 171.2 81.2 173.2 80 175.2 76.8 179.2 72.4 181.2 71.5 183.2 69.4 185.1 69.3 193.1 73.9 197.1 79 199.1 83.2 203 90.1 205 92.5 209 98.1 211 100.5 213 101.7 217 106.5 218.9 107.9 220.9 108.2 224.9 110.7 226.9 111.1 232.9 111 236.8 110.6 238.8 111.9 242.8 113.3 244.8 112.5 248.8 113.7 250.8 115.2 252.8 115.3 256.7 116.6 258.7 116.3 260.7 116.3 262.7 117 264.7 118.2 266.7 117.9 268.7 118.1 270.7 118.8 272.6 120.3 274.6 120.6 276.6 120.5 278.6 119.6 280.6 119.4 282.6 117.8 284.6 117.4 286.6 119.8 288.5 122.9 290.5 123.4 296.5 124.1 298.5 123.9 300.5 124.6 302.5 125 304.5 124.9 308.4 127.7 310.4 128.9 312.4 129.1 314.4 130.1 316.4 130.6 318.4 130 320.4 130.1 322.4 130.5 328.3 133.3 330.3 133.1 332.3 131.9 336.3 132.8 338.3 133.7 340.3 134.1 342.2 135.6 344.2 136.8 348.2 137.9 350.2 139.1 352.2 139.5 354.2 138.9 356.2 139.1 358.1 140.2 366.1 142.1 370.1 143.9 372.1 143.9 374.1 143.4 376 143.8 378 144.5 380 144.6 382 144.3 386 145.4" fill="none" stroke="#dc143c" stroke-width="1.1" stroke-opacity="0.16"/><path d="M87.7 97.2 89.7 67.6 91.7 48.8 93.7 50.1 95.7 55.2 97.6 59.3 101.6 65.2 103.6 67.4 105.6 69.2 107.6 68.5 111.6 70.2 113.6 71.9 115.5 72.8 117.5 74.7 119.5 76.2 121.5 77.1 123.5 76.7 125.5 77.6 127.5 77.5 129.5 78 131.4 77.7 135.4 77.7 139.4 79.1 145.4 79.1 149.3 79.9 151.3 79.5 153.3 78.2 155.3 76.6 157.3 76 163.3 76.5 165.3 76 169.2 74.4 171.2 74.4 173.2 74.1 175.2 73.5 179.2 71.7 181.2 70.5 183.2 70.3 185.1 70.5 187.1 71.2 189.1 72.7 193.1 74.3 195.1 74.6 199.1 77.8 201.1 78.9 203 79.1 205 79 209 79.6 211 80.3 213 81.4 215 82.2 217 82.3 218.9 81.7 220.9 81.5 222.9 81 224.9 80.9 226.9 81.3 228.9 81.4 230.9 81 234.9 79.3 236.8 79.4 240.8 82.3 242.8 82.1 246.8 80.5 248.8 80.3 250.8 80.9 252.8 82.2 254.7 83 256.7 81.7 258.7 81.5 260.7 82.3 262.7 84.2 266.7 84.9 270.7 85.1 274.6 85.6 278.6 84.8 280.6 85.3 284.6 87.4 286.6 88 288.5 88 296.5 90.2 298.5 91.6 300.5 93.4 302.5 93.9 304.5 92.9 306.4 92.7 308.4 93.9 310.4 94.5 312.4 94.2 314.4 94.5 316.4 95.9 320.4 96.5 322.4 96.2 324.3 96.8 326.3 97.1 330.3 99.2 332.3 101.1 334.3 102.5 338.3 101.3 340.3 100.5 342.2 100.9 344.2 100.2 346.2 101.6 350.2 103.2 352.2 103.4 354.2 104.7 356.2 105.5 358.1 104.8 360.1 104.8 362.1 105.7 364.1 105.6 366.1 105 368.1 105.4 370.1 106.5 372.1 106.5 374.1 107.3 376 108.9 378 109.7 380 108.7 382 107.4 384 108.1 386 109.4" fill="none" stroke="#2a9d9d" stroke-width="1.1" stroke-opacity="0.16"/><path d="M87.7 100.9 89.7 70.1 91.7 51.8 93.7 54.2 97.6 66.2 99.6 69.7 105.6 75.8 107.6 76.4 109.6 77.7 111.6 78.2 113.6 79.7 115.5 81.8 117.5 83.5 121.5 83.3 123.5 83.8 125.5 85 127.5 85.7 129.5 86.1 131.4 85.4 133.4 85.2 135.4 86.1 137.4 87.5 139.4 87.9 141.4 87.4 143.4 87.3 147.4 86.3 151.3 83.3 153.3 82 155.3 81.6 159.3 77.1 161.3 75.3 163.3 76 167.2 75.8 169.2 76.2 171.2 77.6 173.2 78.2 175.2 79.4 177.2 81 179.2 81.9 185.1 85.6 187.1 85.7 191.1 86.7 195.1 90 197.1 90.4 203 90.8 205 91.2 209 91.3 211 91.1 213 91.8 215 91.4 218.9 89.4 220.9 88.8 222.9 89.5 226.9 90.4 228.9 89.9 230.9 89.7 236.8 88 238.8 88.2 244.8 91.3 246.8 90.8 250.8 88.5 252.8 89.4 254.7 90.8 258.7 90.4 260.7 91.6 262.7 93.6 264.7 93.7 266.7 93.5 268.7 93.6 278.6 95.5 280.6 95.3 282.6 96.6 284.6 97.6 286.6 98.2 288.5 97.4 292.5 98.7 294.5 100.2 296.5 101.4 298.5 101.3 300.5 100.9 304.5 102.1 306.4 102.2 308.4 103.1 310.4 104.9 312.4 105.8 316.4 106.5 320.4 108.7 322.4 110.1 326.3 111.4 330.3 112.2 332.3 112 336.3 113.4 338.3 113.9 340.3 113.8 344.2 116 346.2 117.6 348.2 117.7 350.2 118.2 352.2 118.4 354.2 119 356.2 119.3 360.1 119.1 362.1 118.7 364.1 119.3 366.1 119.6 368.1 120.3 370.1 120.7 374.1 123 376 123.3 382 123.4 384 124.2 386 124.7" fill="none" stroke="#dc143c" stroke-width="1.1" stroke-opacity="0.16"/><path d="M87.7 90 89.7 60.7 91.7 42.5 93.7 43.8 97.6 53 99.6 56.3 101.6 58.7 105.6 61.2 107.6 63 109.6 65.6 111.6 67.5 113.6 68.8 115.5 71.3 117.5 72.7 119.5 72.5 121.5 71.9 125.5 72.3 127.5 72.8 129.5 74.4 131.4 76.3 133.4 77.1 137.4 76.8 139.4 75.5 141.4 75.6 145.4 77.7 147.4 77.3 149.3 75.6 151.3 75.2 155.3 75.1 157.3 75.4 159.3 74.6 161.3 73.1 163.3 70.6 165.3 70.6 169.2 68.9 171.2 66.9 175.2 66.5 179.2 66.5 181.2 65.8 183.2 66.1 185.1 66.1 187.1 65.6 189.1 64.8 191.1 65 195.1 67.2 203 72.7 205 73.7 207 75.4 211 81 213 81.9 215 81.6 217 82.3 220.9 85.8 222.9 85.6 224.9 85.8 228.9 87.6 230.9 87.9 234.9 87.5 236.8 87.9 238.8 88.8 240.8 89.4 244.8 88.2 246.8 88.2 248.8 88.6 250.8 90.3 252.8 91.1 254.7 91.6 256.7 91.7 258.7 92.2 260.7 93.2 262.7 93.9 264.7 95.3 268.7 95.6 270.7 94.8 272.6 95.1 274.6 96.2 276.6 97.7 280.6 97 282.6 97.3 284.6 98.8 286.6 99.3 288.5 100.6 292.5 102.5 294.5 101.8 298.5 103.8 300.5 104.2 302.5 103.5 304.5 104.8 306.4 107 308.4 107.9 310.4 107.3 312.4 108.1 314.4 109.8 316.4 110.1 318.4 109.7 320.4 109.8 324.3 112.7 326.3 113.9 332.3 114 334.3 114.8 336.3 116.3 338.3 117.5 340.3 118 342.2 117.7 344.2 118 348.2 119.2 352.2 119.6 354.2 120.6 360.1 122.4 362.1 123.3 364.1 123.8 366.1 123.7 368.1 123.9 372.1 127.6 374.1 128.8 380 129.1 382 129 384 129.9 386 130.2" fill="none" stroke="#2a9d9d" stroke-width="1.1" stroke-opacity="0.16"/><path d="M87.7 109.2 89.7 77.6 91.7 57.6 93.7 58.4 95.7 65.5 97.6 71.3 99.6 76.3 101.6 79.9 103.6 83 105.6 85.1 107.6 85.9 109.6 88.3 113.6 90.5 115.5 90.7 119.5 92.3 121.5 93.8 125.5 95.6 127.5 95.4 129.5 94.6 131.4 93.4 133.4 93.5 137.4 95.9 139.4 95.4 143.4 93.6 147.4 91.2 151.3 90.3 153.3 89 157.3 84.4 159.3 82.4 163.3 79.3 165.3 78.5 167.2 78.5 171.2 77 173.2 76.5 177.2 77.9 183.2 83 185.1 84 189.1 87.4 191.1 88.6 193.1 89.1 195.1 90.9 197.1 93.1 199.1 96.2 201.1 98.7 203 99.8 205 99.7 207 100.4 209 101.9 211 103.1 213 103.2 215 103.8 217 103.5 218.9 103.6 220.9 103.2 222.9 103.2 224.9 103.8 226.9 103.9 228.9 103.5 230.9 102.7 232.9 102.7 234.9 103.3 238.8 104.1 242.8 105.8 244.8 105.7 246.8 105.1 248.8 104.8 252.8 105.6 254.7 105.4 256.7 105.6 260.7 107.4 262.7 107 264.7 107.2 266.7 107.7 268.7 108.7 276.6 110.2 278.6 110.8 282.6 113.1 284.6 113.9 286.6 113.8 292.5 115.2 294.5 115.1 298.5 116 300.5 115.7 302.5 115.8 304.5 117.5 306.4 119.5 308.4 119.7 310.4 119.6 312.4 120.5 314.4 121.9 316.4 122.3 318.4 122.2 320.4 122.6 324.3 124.6 326.3 125.9 328.3 126.3 330.3 127.4 332.3 127.9 334.3 129.2 336.3 129.1 340.3 130.9 342.2 130.9 346.2 129.5 348.2 130.7 352.2 134 354.2 133.7 356.2 132.6 358.1 132.3 360.1 133 362.1 133.3 364.1 132.7 366.1 133.4 368.1 135.3 370.1 136 372.1 135.5 374.1 135.5 378 137.7 380 139.1 382 140.1 384 139.9 386 139.2" fill="none" stroke="#dc143c" stroke-width="1.1" stroke-opacity="0.16"/><path d="M87.7 97 89.7 66.3 91.7 46.5 93.7 48.2 97.6 59.4 103.6 71.9 105.6 74.9 107.6 75.7 109.6 76.8 111.6 77.6 113.6 77.3 117.5 79.6 119.5 81.1 121.5 82.3 123.5 82.5 125.5 82 131.4 82.4 133.4 81 135.4 80.6 137.4 79.9 139.4 79.8 141.4 77.6 145.4 71.9 147.4 69.9 149.3 66.9 155.3 61.5 157.3 58.6 159.3 56.4 161.3 55 163.3 54.7 165.3 55.6 169.2 59.2 175.2 69.3 179.2 75.2 183.2 79.7 185.1 81.3 187.1 82.2 191.1 86.2 193.1 87.9 197.1 90.6 201.1 92.9 203 93.7 207 94.1 209 94.9 211 96.2 213 97 215 97 217 97.3 218.9 96.6 220.9 96.8 222.9 95.9 224.9 96.5 232.9 96.8 236.8 99.4 238.8 99.3 240.8 98.6 244.8 98.2 246.8 98.5 248.8 99.3 250.8 100.6 252.8 100.1 254.7 100.1 260.7 101 266.7 104 270.7 103.6 272.6 104.3 276.6 107.1 278.6 107.5 280.6 108.3 282.6 108.2 284.6 107.6 286.6 107.9 288.5 108.9 290.5 111.1 292.5 111.7 296.5 111.9 298.5 112.9 300.5 114.6 302.5 115.2 304.5 115.5 306.4 115.5 314.4 118.8 316.4 118.9 318.4 119.9 320.4 120.4 324.3 120.5 326.3 121.7 330.3 123.2 334.3 125.9 336.3 125.9 340.3 125.4 342.2 126.1 346.2 128.8 348.2 129.1 350.2 129.8 354.2 132.2 358.1 132.9 360.1 132.8 362.1 132.4 364.1 132.8 368.1 134.1 370.1 134.1 372.1 134.9 378 138.5 382 138.7 384 138.6 386 139" fill="none" stroke="#2a9d9d" stroke-width="1.1" stroke-opacity="0.16"/><path d="M87.7 95 89.7 63 91.7 42.9 93.7 43.2 95.7 49.3 97.6 56.1 101.6 67.8 103.6 72.7 105.6 76.1 107.6 76.6 109.6 78.3 117.5 82.6 123.5 83.4 129.5 85.4 131.4 85.2 133.4 83.9 135.4 83.4 139.4 84.1 141.4 84 143.4 83.3 145.4 81.7 149.3 75.6 151.3 73.1 153.3 71.4 155.3 69 163.3 56.6 165.3 55.1 167.2 54.2 169.2 52.8 171.2 52.5 175.2 53.4 177.2 53.3 185.1 63.9 187.1 66.9 191.1 71.3 193.1 74.1 197.1 80.9 199.1 82.7 203 87.7 205 90.7 209 92.3 211 92.3 213 92 218.9 92.3 220.9 91.2 222.9 91.1 224.9 92 226.9 93.2 228.9 93.3 230.9 94.1 232.9 94.6 236.8 92.1 238.8 92.4 240.8 94.4 242.8 94.4 244.8 93.8 246.8 93.5 254.7 96.1 260.7 97.4 262.7 97.6 264.7 97.5 268.7 99.5 270.7 100.2 274.6 98.9 278.6 99.1 280.6 98.9 282.6 97.5 284.6 97 288.5 102.6 290.5 104 294.5 103.5 296.5 104.4 298.5 106.1 300.5 106.9 302.5 106.4 304.5 106.5 308.4 108.5 312.4 109.7 314.4 109.8 318.4 109 322.4 111.6 328.3 113.9 330.3 114.4 334.3 114.1 336.3 114.3 342.2 116.2 348.2 116.7 350.2 118 354.2 121.2 358.1 120 360.1 119 362.1 119.2 370.1 122 372.1 123.4 374.1 123.3 376 124 380 123.3 382 122.2 386 124.3" fill="none" stroke="#dc143c" stroke-width="1.1" stroke-opacity="0.16"/><path d="M87.7 108.4 89.7 76.9 91.7 57.6 93.7 58.5 99.6 75.2 101.6 79.3 103.6 82.7 105.6 85.1 107.6 85.5 111.6 89.3 113.6 91.5 119.5 91.9 121.5 93 125.5 93.6 129.5 93.9 133.4 95.3 135.4 94.9 137.4 94.2 139.4 94.5 141.4 95.9 143.4 96.7 147.4 95 149.3 94.6 153.3 94.6 155.3 94 157.3 92.6 159.3 92 163.3 93.6 165.3 93.2 167.2 93.3 169.2 94.3 171.2 94.1 173.2 93.6 177.2 91.8 181.2 88.5 183.2 87.5 187.1 83.9 189.1 82.6 191.1 82 193.1 82.1 195.1 83.2 197.1 85.6 199.1 86 201.1 86.8 203 88.2 205 91 207 92.2 209 92.6 215 95.2 218.9 93.8 220.9 92.8 222.9 92.2 224.9 92.4 226.9 93.4 228.9 93.8 232.9 92.4 238.8 92 240.8 91.5 242.8 91.7 244.8 91.2 248.8 91.2 250.8 92.1 252.8 91.4 254.7 91.2 256.7 90.4 258.7 91.2 260.7 91.3 262.7 92.7 264.7 92.6 268.7 93 270.7 94.5 272.6 95.1 274.6 94.8 278.6 95.5 282.6 95.3 284.6 95.8 286.6 97.3 288.5 97.9 290.5 98.8 292.5 99.1 294.5 100.5 298.5 100.7 302.5 102.3 304.5 103.3 306.4 104.6 308.4 105.5 310.4 105.6 312.4 105.3 314.4 106.3 316.4 106.6 318.4 107.9 320.4 108 322.4 108.7 324.3 109.1 326.3 111.2 328.3 112.7 332.3 113.3 336.3 114.2 338.3 113.6 340.3 113.5 342.2 113.7 344.2 114.4 348.2 116.4 356.2 119.1 358.1 119.5 360.1 118.9 362.1 118.7 364.1 118.1 366.1 118.7 368.1 118.7 370.1 120 374.1 120.4 380 122.5 382 122.5 384 122.9 386 122.8" fill="none" stroke="#2a9d9d" stroke-width="1.1" stroke-opacity="0.16"/><path d="M87.7 81.7 89.7 49.9 91.7 29.9 93.7 31.3 97.6 43.6 99.6 49.1 103.6 56 105.6 57.8 107.6 58.9 109.6 60.7 113.6 61.6 115.5 62.5 117.5 63.9 119.5 64.1 123.5 63.7 125.5 64.7 127.5 66.1 129.5 67.1 133.4 65.4 135.4 65.4 139.4 67.8 143.4 65.9 145.4 65.6 147.4 66.3 153.3 66.7 157.3 65.9 159.3 65.8 161.3 66 163.3 65.5 165.3 64.3 167.2 64.4 169.2 65.3 171.2 65.9 173.2 65.8 175.2 65.2 177.2 64 181.2 60.3 185.1 53.7 189.1 45.5 191.1 40.6 193.1 37.7 197.1 34.2 199.1 33.3 201.1 34.2 203 37.7 205 40.5 207 45.2 209 48.8 211 53.7 213 57.6 215 60.9 217 62.1 220.9 65.7 222.9 68 224.9 69.2 226.9 69.4 228.9 69.2 232.9 70.7 240.8 69.6 242.8 69.8 244.8 70.5 246.8 71.7 248.8 72.5 250.8 72.6 252.8 71.8 256.7 72.5 260.7 72 262.7 72.3 264.7 72.3 266.7 72.7 268.7 72.8 270.7 72.5 272.6 73.1 274.6 74 276.6 75.2 280.6 74.3 284.6 74.3 286.6 74.6 290.5 77.4 292.5 77.5 294.5 76.6 296.5 76.7 298.5 76.4 300.5 76.9 302.5 77 304.5 77.7 306.4 77.8 308.4 78.6 312.4 78.4 314.4 79.6 316.4 80.3 318.4 81.5 320.4 81.6 322.4 82.1 324.3 81 326.3 81.3 330.3 83.5 332.3 83.8 334.3 83.4 336.3 84.1 340.3 84.8 342.2 83.2 344.2 82.8 346.2 83.1 348.2 84.7 350.2 84.7 352.2 85.2 354.2 85.3 356.2 86.1 360.1 86.1 362.1 86.3 364.1 85.4 366.1 85.6 368.1 86.5 370.1 88.6 372.1 88.8 374.1 88.4 376 88.3 378 89 380 90 386 89.7" fill="none" stroke="#dc143c" stroke-width="1.1" stroke-opacity="0.16"/><path d="M87.7 93.3 89.7 60.6 91.7 39.5 93.7 41.6 97.6 55.5 101.6 66.8 103.6 71.3 105.6 73.2 107.6 73.3 111.6 77.7 115.5 80.1 117.5 80.7 119.5 80.2 121.5 80.2 123.5 81.7 125.5 83.6 127.5 83.9 129.5 83.2 133.4 83.2 135.4 84.7 137.4 85.5 139.4 85.6 141.4 83.7 143.4 84 145.4 84.7 147.4 84.1 149.3 82.7 153.3 82.8 155.3 83.1 157.3 82.3 159.3 81 161.3 79.4 163.3 78.4 165.3 77 167.2 74.7 171.2 69.3 175.2 65 177.2 63.7 181.2 61.9 183.2 61.2 185.1 61 189.1 61.9 193.1 66.4 195.1 70.1 197.1 72.8 199.1 76.2 203 80.2 205 81.5 207 83.7 211 87 217 89.4 220.9 89.1 222.9 88.2 224.9 88.6 226.9 88.3 228.9 88.8 232.9 87.5 234.9 87.1 238.8 88.3 240.8 88.6 244.8 86.8 246.8 86.3 248.8 86.3 250.8 87.9 252.8 89.1 254.7 89.4 256.7 87.9 258.7 88.2 260.7 90 262.7 91.1 266.7 89.7 270.7 92.4 272.6 92.4 274.6 93.1 276.6 93.3 278.6 92.5 280.6 92.5 284.6 96.7 286.6 96.9 292.5 99.9 294.5 100.4 296.5 101.5 300.5 101.4 302.5 102 306.4 102.6 310.4 105.9 312.4 106.6 314.4 106.5 316.4 107.5 320.4 110.4 322.4 110.6 326.3 110.2 328.3 110.3 330.3 111 332.3 112.6 334.3 113.9 336.3 113.8 338.3 114.2 340.3 115.5 342.2 117.2 348.2 118.4 350.2 119 352.2 119.1 354.2 118.5 356.2 118.6 358.1 119.2 360.1 120.2 364.1 121.2 366.1 121.5 372.1 123.5 378 123.8 380 123.4 382 123.9 384 123.9 386 124.8" fill="none" stroke="#2a9d9d" stroke-width="1.1" stroke-opacity="0.16"/><path d="M87.7 90.5 89.7 60.6 91.7 42.3 93.7 44.3 97.6 53.6 103.6 62.6 105.6 65.2 109.6 66.4 111.6 67.2 115.5 70.3 117.5 71.4 119.5 71.8 121.5 71.6 125.5 72.8 127.5 73.2 129.5 72.1 135.4 73.9 137.4 73.8 139.4 74.5 143.4 74.8 145.4 76.1 147.4 76.7 151.3 75.8 153.3 75.1 157.3 74.5 159.3 74.9 161.3 74.7 165.3 75.1 169.2 76.6 171.2 76.9 173.2 76.2 175.2 74.8 179.2 73.2 181.2 71.5 187.1 62.1 189.1 58.2 191.1 55.2 193.1 54.2 197.1 54.4 199.1 54.8 201.1 56.4 203 58.6 207 64.1 213 69.7 215 71.8 217 73.3 218.9 75.1 220.9 75.8 224.9 75.5 230.9 75.9 232.9 76.4 234.9 75.7 238.8 75.5 240.8 75.6 242.8 73.8 244.8 74.2 246.8 74.3 248.8 75.6 254.7 75.4 260.7 76.7 262.7 77.7 264.7 79 268.7 80 270.7 78.9 274.6 79.1 276.6 79.9 278.6 79.6 282.6 81.4 284.6 82.8 288.5 83 290.5 82.8 292.5 84.2 294.5 86.3 296.5 87.8 298.5 88.1 300.5 87.7 302.5 87.6 304.5 87.8 306.4 89.8 308.4 91.1 310.4 91.6 312.4 91.3 316.4 94 320.4 93.4 322.4 93.8 324.3 95.6 328.3 97.4 332.3 97.9 334.3 98.6 336.3 100 338.3 100.8 340.3 101.1 342.2 101.7 346.2 103.7 350.2 102.7 352.2 101.8 358.1 103.1 366.1 105.9 368.1 106.2 370.1 105.4 372.1 104.9 374.1 105.8 376 107.3 380 108.8 384 109.2 386 108.8" fill="none" stroke="#dc143c" stroke-width="1.1" stroke-opacity="0.16"/><path d="M87.7 113.8 89.7 84.5 91.7 66.1 93.7 68.5 97.6 79.2 99.6 82 101.6 83.9 103.6 85.4 107.6 89.7 109.6 91.4 113.6 92.7 115.5 94.3 117.5 95 119.5 95.3 123.5 97.6 125.5 98.2 127.5 98.2 129.5 98.8 131.4 98.2 133.4 98.4 135.4 99 137.4 99.3 139.4 98.1 141.4 97.8 145.4 99.3 147.4 98.7 149.3 99.2 153.3 102.4 155.3 101.4 157.3 99.8 159.3 99.6 163.3 101.4 167.2 101 171.2 101.8 173.2 102.6 175.2 103.7 177.2 104.5 179.2 103.9 181.2 102.5 185.1 102.3 187.1 102 189.1 101.2 191.1 102 193.1 103.3 195.1 105.1 197.1 105.9 199.1 106.1 201.1 104.8 205 105 207 105.5 209 105.7 211 106.3 213 107.6 215 108 217 108.1 218.9 107.4 222.9 108 224.9 108.8 226.9 109.2 232.9 109.4 234.9 109.7 238.8 111 242.8 111 244.8 110.7 246.8 111.5 248.8 111.7 252.8 113.1 254.7 114.1 258.7 112.4 260.7 113.2 262.7 114.7 264.7 115.8 266.7 116.6 268.7 116.7 270.7 116.2 272.6 116.7 274.6 117.9 276.6 118.8 278.6 118.9 280.6 118.6 282.6 118.9 284.6 120.1 286.6 121.6 288.5 122.5 292.5 121.8 294.5 122.9 296.5 123.7 300.5 122.7 304.5 123.4 306.4 124.5 308.4 126.1 310.4 126.8 312.4 126.5 314.4 127.2 316.4 128.7 318.4 129.6 320.4 129 322.4 129.4 326.3 132.5 334.3 133.1 336.3 134 340.3 134.6 344.2 133.6 346.2 134.4 348.2 134.8 354.2 137.6 358.1 137.2 362.1 138.2 364.1 139.4 366.1 140.2 368.1 140.3 370.1 139.9 372.1 140.1 374.1 140.6 376 141.7 378 143.3 380 143.9 382 143.8 386 143.2" fill="none" stroke="#2a9d9d" stroke-width="1.1" stroke-opacity="0.16"/><path d="M87.7 120.2 89.7 90.7 91.7 71.6 93.7 72.4 97.6 82.1 99.6 85.9 101.6 88.8 103.6 90.7 107.6 92.8 109.6 94.9 111.6 96.5 115.5 96.6 117.5 97.2 119.5 98.8 123.5 99.3 125.5 99.1 127.5 99.6 129.5 100.4 131.4 101.5 133.4 102.1 135.4 101.7 137.4 102.1 139.4 102.9 141.4 104.1 143.4 104.6 145.4 104.2 147.4 102.3 149.3 101.3 151.3 101.2 153.3 100.8 155.3 100.7 157.3 101.5 159.3 101.5 161.3 100.5 163.3 100.1 165.3 100.9 167.2 100.7 169.2 101 171.2 101 173.2 101.8 175.2 102.3 177.2 102.2 179.2 100.5 181.2 98.4 185.1 96.5 187.1 95.1 191.1 90 193.1 88.7 195.1 88.3 197.1 87.6 199.1 88 203 89.3 205 89.1 207 89.9 209 91.5 213 96.2 217 98.4 220.9 102.3 222.9 102.8 224.9 102.8 230.9 101.6 232.9 101.9 236.8 102.9 238.8 103.2 240.8 103.9 242.8 104 244.8 104.8 250.8 106.5 252.8 107.5 254.7 108.1 256.7 108.3 258.7 107.4 260.7 105.9 262.7 104.8 264.7 105.5 268.7 108.6 270.7 109.7 272.6 108.8 274.6 108.3 276.6 109.2 278.6 110.6 280.6 111.1 282.6 110.8 284.6 111.7 286.6 111.8 288.5 112.9 292.5 113.3 296.5 112.6 298.5 112.7 302.5 114.2 308.4 115.4 314.4 118.9 316.4 119 318.4 119.8 322.4 122 324.3 122.5 326.3 122.6 328.3 122.4 332.3 122.8 336.3 122.7 338.3 123.9 340.3 124.5 342.2 124.3 344.2 124.6 346.2 125.2 350.2 127.4 352.2 128.9 354.2 129.7 356.2 129.8 358.1 128.9 362.1 128.7 364.1 129.6 366.1 129.7 368.1 130.1 374.1 133.5 376 133.1 380 131.8 384 132.9 386 132.8" fill="none" stroke="#dc143c" stroke-width="1.1" stroke-opacity="0.16"/><path d="M87.7 88.9 89.7 58.4 91.7 39.4 93.7 41.7 97.6 51.3 99.6 55.2 101.6 58.3 105.6 62.7 109.6 65.4 117.5 69.4 119.5 69.9 121.5 70.1 125.5 72.3 127.5 72.5 129.5 72.4 131.4 72.7 137.4 75.2 139.4 75.3 141.4 74.4 143.4 73.9 147.4 74.6 149.3 74.2 151.3 74.5 153.3 74.1 155.3 72.5 157.3 70.4 159.3 69.6 163.3 69.4 165.3 68 167.2 66.3 169.2 65.8 171.2 66 173.2 65 179.2 60.7 181.2 58.1 185.1 54.3 187.1 53.5 189.1 52.1 191.1 52.4 195.1 53.7 197.1 54.6 203 58.9 205 61.2 207 64.4 211 69.4 217 73.8 218.9 75.9 220.9 77.2 224.9 78.3 226.9 79.3 228.9 79.9 232.9 78.9 234.9 79 238.8 82.4 240.8 83.7 246.8 83.6 252.8 84.6 260.7 86.6 262.7 87.6 266.7 87.8 268.7 88.6 270.7 89.9 274.6 90.8 278.6 90.6 280.6 90.8 282.6 91.6 284.6 92.1 286.6 92.9 288.5 94.1 290.5 94.7 292.5 94.3 298.5 97 300.5 96.6 302.5 97.4 304.5 98.7 306.4 100.6 308.4 101.3 310.4 100.9 312.4 101.4 314.4 103.2 316.4 104.3 318.4 104.4 320.4 103.3 322.4 104 324.3 105.3 326.3 107.5 330.3 108.6 334.3 108 336.3 108.1 340.3 110.7 342.2 111.3 344.2 111.2 346.2 111.8 348.2 112.7 350.2 112.8 354.2 112 356.2 112.7 358.1 113 360.1 113.9 362.1 114.5 368.1 116.9 370.1 117.9 372.1 117.3 374.1 117.1 376 118.2 378 119.7 380 120 382 118.9 384 119.2 386 120.2" fill="none" stroke="#2a9d9d" stroke-width="1.1" stroke-opacity="0.16"/><path d="M87.7 100.4 89.7 67 91.7 47 93.7 49.6 95.7 57.2 99.6 68.4 101.6 72.2 103.6 75.5 105.6 78.1 107.6 79.7 109.6 81.9 111.6 83 115.5 82.6 119.5 84.6 121.5 84.7 123.5 84.5 125.5 83.1 127.5 83.5 131.4 86.7 135.4 86 137.4 84.1 139.4 83.5 141.4 84.3 143.4 86.1 145.4 86.3 149.3 84.2 151.3 84.1 153.3 84.3 155.3 83.9 157.3 82.8 159.3 80.7 161.3 78 163.3 75.8 165.3 75.5 167.2 75.8 171.2 74.8 175.2 73 177.2 71.8 179.2 72.1 181.2 70.4 183.2 69.2 185.1 69.4 187.1 70.3 189.1 70.6 193.1 74.1 197.1 75.8 199.1 77.1 201.1 78.1 203 79.4 207 82.9 209 83 211 84.1 213 84.8 215 86.6 217 86.5 218.9 87.4 220.9 86.5 222.9 86.2 224.9 86.2 226.9 87.3 228.9 87.6 230.9 86.6 232.9 86 234.9 86.8 236.8 87.3 238.8 87.4 240.8 86.7 244.8 86.4 246.8 87.5 248.8 87.7 252.8 86.6 254.7 87.5 256.7 89.1 260.7 90.6 262.7 90.1 264.7 89.9 270.7 90.2 272.6 90.1 274.6 91.2 278.6 92.2 280.6 92.1 282.6 91.7 284.6 91.6 286.6 92 288.5 92 292.5 91.3 294.5 92.3 298.5 95.3 300.5 95.1 304.5 93.7 306.4 93.6 308.4 93.9 310.4 94.9 314.4 95.8 318.4 97.1 322.4 96.6 328.3 98.3 330.3 98.3 332.3 99.2 334.3 98.8 336.3 99.2 338.3 99 340.3 100 344.2 99.9 346.2 100.5 348.2 100.4 352.2 101.2 354.2 101.8 358.1 101.6 360.1 102 362.1 101.1 364.1 101.1 366.1 101.5 368.1 103.1 370.1 103.8 372.1 104.2 376 103.2 380 104.5 384 103.9 386 104.3" fill="none" stroke="#dc143c" stroke-width="1.1" stroke-opacity="0.16"/><path d="M87.7 98.1 89.7 64.7 91.7 43.5 93.7 45.1 95.7 52.2 97.6 60.2 99.6 66.5 101.6 71.3 103.6 75.5 105.6 78 109.6 79.6 115.5 83.9 121.5 85.7 123.5 85.4 127.5 85.9 129.5 85.2 131.4 83.8 133.4 84 137.4 85.1 139.4 85 141.4 85.2 143.4 84.3 145.4 84.7 151.3 82.1 153.3 82.5 155.3 82.2 159.3 81.1 161.3 81.3 163.3 82.5 165.3 82.2 167.2 81.3 169.2 81.2 171.2 82.5 175.2 83.4 177.2 83.2 179.2 82.5 181.2 82.2 183.2 82.5 185.1 82.3 187.1 80.6 189.1 79.8 191.1 79.9 193.1 80.8 195.1 81.2 197.1 82.2 199.1 82.6 201.1 82 203 80.7 205 80.6 213 79 215 78.2 217 78.1 218.9 78.3 220.9 77.2 222.9 76.4 224.9 75.9 226.9 75.8 230.9 74 232.9 74.4 234.9 73.9 240.8 73.6 242.8 73.1 244.8 72.9 246.8 73.3 248.8 72.4 250.8 72.2 254.7 72.8 256.7 71.7 258.7 72 262.7 71.9 264.7 72.2 266.7 73.2 268.7 73.2 270.7 72.9 272.6 73.3 274.6 74.2 276.6 74.2 278.6 73.8 280.6 72.9 282.6 74.4 286.6 76.6 288.5 75.7 290.5 76.8 292.5 78.5 294.5 79.4 298.5 78.6 302.5 79.4 304.5 80.9 306.4 81.9 308.4 82 310.4 80.9 312.4 81.4 314.4 82.4 316.4 84.2 320.4 85.4 322.4 85.7 324.3 86.8 328.3 85.8 330.3 86.4 332.3 87.7 336.3 88.7 338.3 88.5 340.3 88.6 342.2 89.2 344.2 90.9 346.2 91 350.2 89.8 352.2 89.8 354.2 90.4 358.1 92.8 360.1 92.2 362.1 91.9 366.1 94.1 368.1 94 370.1 93.2 372.1 92.8 374.1 92 376 92 378 93 380 93.5 382 93.4 384 92.8 386 93" fill="none" stroke="#2a9d9d" stroke-width="1.1" stroke-opacity="0.16"/><path d="M87.7 95.9 89.7 65.1 91.7 45.6 93.7 46 95.7 51.9 97.6 58.9 99.6 63.9 101.6 67.4 105.6 71.4 107.6 71.5 111.6 76.8 113.6 78.2 115.5 78.4 119.5 80 121.5 81.2 125.5 81.9 129.5 81.8 131.4 82.6 133.4 83.9 135.4 84.3 137.4 83.3 139.4 83.5 141.4 84.2 143.4 84.5 145.4 83.4 147.4 83.8 151.3 84.2 155.3 83.4 157.3 82.7 159.3 82.9 163.3 82.4 169.2 78.9 179.2 69.6 181.2 68 183.2 67 185.1 65.1 187.1 63.6 189.1 64.4 191.1 66.4 195.1 71.5 197.1 74.5 199.1 76 203 80.8 209 86.7 211 87.5 213 87.4 215 87 217 87.3 218.9 86.4 220.9 86.8 222.9 86.8 224.9 86.5 226.9 85.6 228.9 85.6 230.9 86.7 232.9 86.3 234.9 85.3 236.8 85.7 238.8 86.7 240.8 87.1 242.8 86.3 244.8 86 246.8 86.3 250.8 87.7 256.7 86.3 258.7 86.8 262.7 86.9 264.7 87.4 266.7 88.7 268.7 89.6 270.7 90.1 272.6 89.8 274.6 90.2 276.6 90.9 278.6 91.9 280.6 91.2 282.6 89.8 284.6 89.2 286.6 91.8 288.5 93.4 292.5 95.9 294.5 97.9 298.5 98 300.5 98.3 302.5 99.5 304.5 100.4 306.4 101.6 308.4 103.5 312.4 105.3 314.4 105 318.4 106.8 320.4 108.6 322.4 109 324.3 108.4 326.3 108.1 330.3 111.9 332.3 112.5 334.3 111.1 336.3 111.2 338.3 112.8 340.3 114.9 342.2 116.1 346.2 115.3 348.2 114.7 350.2 115 354.2 118.1 356.2 118.9 360.1 118.9 362.1 118.5 364.1 118.9 366.1 120 368.1 121.4 370.1 122 376 124.2 378 123.8 382 124.6 384 126 386 125.9" fill="none" stroke="#dc143c" stroke-width="1.1" stroke-opacity="0.16"/><path d="M87.7 111.2 89.7 79.7 91.7 59.7 93.7 60.9 97.6 72.2 101.6 81.5 103.6 84.8 105.6 86.8 107.6 87.4 109.6 89.2 111.6 90 113.6 90.3 115.5 90.9 119.5 93.4 121.5 94.3 123.5 94.4 125.5 95.1 127.5 95.2 131.4 94.2 133.4 94.9 135.4 95.9 137.4 96 139.4 94.7 141.4 94.5 143.4 94.7 145.4 95.3 147.4 95.1 149.3 94.5 161.3 86.6 163.3 84.2 173.2 74.9 177.2 70.7 179.2 69.2 183.2 68.5 185.1 66.8 187.1 65.4 189.1 65.4 191.1 67.5 193.1 68.8 195.1 71.3 197.1 73.1 199.1 76.1 201.1 78.3 203 80.9 205 83 207 85.5 209 87.4 211 89.7 213 91.6 215 94.3 218.9 96.2 220.9 96 222.9 96.6 224.9 96.5 228.9 99 230.9 100.6 232.9 100.6 236.8 99.6 240.8 99.6 242.8 100 244.8 100.8 246.8 101.1 248.8 100.7 252.8 102.7 254.7 102.9 256.7 102.5 262.7 104.3 266.7 105.7 268.7 105.7 272.6 104.7 274.6 105 276.6 105 278.6 105.8 280.6 106.2 282.6 107.2 284.6 107.2 286.6 107.6 290.5 105.9 292.5 106.3 294.5 107.7 298.5 108.5 300.5 107.9 302.5 108.1 306.4 109.7 308.4 108 310.4 107.3 312.4 108.4 314.4 109.8 318.4 110.2 322.4 109.9 324.3 110.5 326.3 111.5 328.3 111.5 330.3 111.9 332.3 112.9 334.3 113.4 338.3 111.7 340.3 111.9 342.2 111.8 346.2 113.2 350.2 113.6 352.2 113.5 354.2 113.9 356.2 113.5 360.1 114.6 364.1 115.2 368.1 116.7 370.1 116.9 374.1 115.7 376 116 378 117.6 382 119.2 386 119.1" fill="none" stroke="#2a9d9d" stroke-width="1.1" stroke-opacity="0.16"/><path d="M87.7 96.8 89.7 64.6 91.7 44.4 93.7 46.7 97.6 60.3 99.6 64.7 101.6 68.2 103.6 71.1 105.6 73.4 109.6 76.9 115.5 80.1 121.5 81.8 131.4 83.3 141.4 83.6 147.4 82.7 151.3 81.6 155.3 79.8 161.3 76.2 165.3 73.5 167.2 72.5 171.2 71.5 175.2 70.9 177.2 70.4 185.1 67.4 187.1 67.5 189.1 68.5 203 79.7 207 82.4 211 84.5 215 85.9 217 86.2 218.9 85.8 254.7 89.6 278.6 94.4 282.6 94.6 284.6 94.2 286.6 94.1 288.5 95.1 290.5 97 292.5 97.8 308.4 102 338.3 110.5 386 120.3" fill="none" stroke="#dc143c" stroke-width="3.2" stroke-linejoin="round"/><path d="M87.7 97.5 89.7 66.7 91.7 47.5 93.7 49.1 97.6 60.5 99.6 64.7 101.6 68.2 103.6 71.1 105.6 73.4 109.6 76.9 115.5 80.1 121.5 81.8 131.4 83.3 141.4 83.6 147.4 82.7 151.3 81.7 165.3 74.9 167.2 74.4 173.2 74 175.2 73.7 181.2 71.6 185.1 69.9 187.1 69.8 189.1 70.5 199.1 77 205 81.2 211 84.6 215 85.9 230.9 87.8 244.8 88.8 272.6 93.8 280.6 95.3 282.6 95.3 284.6 94.9 286.6 94.1 288.5 95.6 290.5 97.6 296.5 99.4 312.4 103.8 334.3 110.1 386 120.8" fill="none" stroke="#008080" stroke-width="3.2" stroke-linejoin="round"/><rect x="246.6" y="86.3" width="29.9" height="8.9" fill="none" stroke="#555" stroke-width="0.9"/><line x1="246.60" y1="86.30" x2="302.80" y2="21.00" stroke="#999" stroke-width="1.3"/><line x1="276.50" y1="95.20" x2="340.60" y2="59.60" stroke="#999" stroke-width="1.3"/><path d="M437.3 65 438.4 56.2 439.4 44.9 440.5 40.8 441.6 40.4 442.6 41.2 445.8 47.2 446.9 49.9 449 53.5 451.2 55.7 454.4 58.1 455.4 58.6 459.7 62.2 462.9 62.9 464 62.8 465 63.4 466.1 63.5 467.1 63.3 468.2 63.5 470.3 63.3 471.4 64.1 472.5 64.2 474.6 65.3 475.7 65 478.9 65.9 481 66.9 483.1 66.9 485.3 67.3 487.4 68.5 492.7 70.2 493.8 71.3 495.9 71.8 497 72.6 498.1 72.5 499.1 73.3 501.3 74.2 502.3 74.9 504.5 75.3 507.7 76.6 508.7 77.4 509.8 77.1 514.1 78.9 516.2 79.5 518.3 80.3 520.4 80.6 521.5 80.3 525.8 82.4 526.8 82.4 529 82.8 530 82.8 531.1 83.2 532.2 83 535.4 84 537.5 84 538.6 83.8 541.8 85 547.1 86.4 548.2 86.5 549.2 86.2 551.4 86.3 554.6 88.6 556.7 89.4 558.8 89.3 559.9 89.9 561 89.9 562 90.6 563.1 91 564.2 90.9 565.2 90.5 567.4 90.7 569.5 91.2 571.6 91.2 574.8 92.6 575.9 92.7 576.9 92.5 579.1 92.7 582.3 93.7 584.4 93.4 586.5 93.5 587.6 94 588.7 94.9 592.9 94.6 599.3 96.3 600.4 96.2 602.5 96.6 603.6 96.4 607.9 96.5 608.9 96.2 610 96.7 611.1 96.7 613.2 97.4 614.3 97 616.4 96.8 618.5 97 620.7 97.8 621.7 97.9 622.8 98.6 623.8 98.4 627 99 628.1 100 631.3 101.9 636.6 103.9 637.7 104.6 638.8 105.7 639.8 106.3 640.9 107.4 646.2 109.7 648.4 111.3 650.5 113.6 L650.5,122.6 L649.4,121.2 L648.4,120.3 L647.3,119.5 L646.2,118.6 L645.2,118.1 L644.1,117.8 L643.0,117.2 L642.0,116.9 L640.9,116.3 L639.8,115.2 L638.8,114.6 L637.7,113.5 L636.6,112.9 L635.6,112.5 L634.5,111.9 L633.4,111.6 L632.4,111.1 L631.3,110.8 L630.2,110.3 L629.2,109.5 L628.1,108.9 L627.0,108.0 L626.0,107.6 L624.9,107.5 L623.9,107.4 L622.8,107.5 L621.7,106.8 L620.7,106.7 L619.6,106.3 L618.5,105.9 L617.5,105.9 L616.4,105.8 L615.3,105.9 L614.3,105.9 L613.2,106.4 L612.1,106.0 L611.1,105.7 L610.0,105.6 L608.9,105.1 L607.9,105.5 L606.8,105.3 L605.7,105.5 L604.7,105.5 L603.6,105.4 L602.5,105.6 L601.5,105.4 L600.4,105.2 L599.3,105.2 L598.3,104.9 L597.2,104.8 L596.1,104.5 L595.1,104.0 L594.0,103.7 L592.9,103.5 L591.9,103.7 L590.8,103.7 L589.7,103.9 L588.7,103.9 L587.6,103.0 L586.5,102.5 L585.5,102.4 L584.4,102.3 L583.3,102.6 L582.3,102.6 L581.2,102.4 L580.1,102.0 L579.1,101.6 L578.0,101.6 L576.9,101.4 L575.9,101.6 L574.8,101.5 L573.7,101.1 L572.7,100.6 L571.6,100.2 L570.5,100.1 L569.5,100.1 L568.4,99.9 L567.4,99.6 L566.3,99.6 L565.2,99.5 L564.2,99.8 L563.1,100.0 L562.0,99.5 L561.0,98.9 L559.9,98.8 L558.8,98.2 L557.8,98.3 L556.7,98.3 L555.6,98.0 L554.6,97.5 L553.5,96.8 L552.4,95.9 L551.4,95.2 L550.3,95.1 L549.2,95.2 L548.2,95.4 L547.1,95.3 L546.0,95.0 L545.0,94.8 L543.9,94.5 L542.8,94.1 L541.8,94.0 L540.7,93.5 L539.6,93.1 L538.6,92.7 L537.5,92.9 L536.4,93.0 L535.4,92.9 L534.3,92.7 L533.2,92.2 L532.2,91.9 L531.1,92.1 L530.0,91.8 L529.0,91.7 L527.9,91.6 L526.8,91.3 L525.8,91.3 L524.7,90.8 L523.6,90.3 L522.6,89.8 L521.5,89.2 L520.4,89.5 L519.4,89.4 L518.3,89.2 L517.2,89.0 L516.2,88.5 L515.1,88.0 L514.1,87.9 L513.0,87.4 L511.9,87.0 L510.9,86.6 L509.8,86.0 L508.7,86.3 L507.7,85.6 L506.6,85.1 L505.5,84.7 L504.5,84.3 L503.4,83.9 L502.3,83.8 L501.3,83.2 L500.2,82.6 L499.1,82.3 L498.1,81.5 L497.0,81.5 L495.9,80.7 L494.9,80.5 L493.8,80.2 L492.7,79.2 L491.7,78.7 L490.6,78.4 L489.5,78.0 L488.5,77.6 L487.4,77.4 L486.3,76.8 L485.3,76.2 L484.2,76.1 L483.1,75.8 L482.1,75.8 L481.0,75.8 L479.9,75.3 L478.9,74.9 L477.8,74.6 L476.7,74.3 L475.7,73.9 L474.6,74.2 L473.5,73.5 L472.5,73.1 L471.4,73.0 L470.3,72.2 L469.3,72.3 L468.2,72.4 L467.1,72.2 L466.1,72.4 L465.0,72.4 L463.9,71.8 L462.9,71.8 L461.8,71.6 L460.8,71.4 L459.7,71.2 L458.6,70.3 L457.6,69.4 L456.5,68.5 L455.4,67.6 L454.4,67.1 L453.3,66.1 L452.2,65.2 L451.2,64.6 L450.1,63.6 L449.0,62.4 L448.0,60.9 L446.9,58.8 L445.8,56.1 L444.8,54.4 L443.7,52.2 L442.6,50.2 L441.6,49.3 L440.5,49.7 L439.4,53.9 L438.4,65.1 L437.3,73.9Z" fill="#dc143c" fill-opacity="0.2"/><path d="M437.3 66.3 438.4 57.9 439.4 46.5 440.5 42.4 441.6 41.8 442.6 43.4 446.9 52.2 449 55.6 450.1 56.7 451.2 57.1 452.2 58.5 453.3 59.1 455.4 61.5 456.5 61.9 458.6 64 460.8 65.1 462.9 65.4 465 65.1 466.1 65.4 468.2 65.6 469.3 65.9 470.3 65.4 471.4 65.4 473.5 65.9 474.6 66.5 475.7 66.4 478.9 67 479.9 67.8 481 67.6 483.1 68.4 484.2 68.6 486.3 69.6 487.4 69.6 490.6 70.5 491.7 71.3 495.9 72 501.3 74.6 503.4 75.3 506.6 76.9 507.7 77.2 511.9 79.5 513 80.3 515.1 80.9 516.2 81.7 517.2 81.5 518.3 81.9 519.4 82.7 520.4 82.9 521.5 83.9 522.6 84.5 523.6 84.4 524.7 84.9 525.8 84.5 527.9 85.1 529 85.2 530 86.3 533.2 87.5 535.4 87.7 537.5 88.6 540.7 89.3 542.8 89 545 90 547.1 91.3 550.3 91.5 555.6 93.7 556.7 94.4 559.9 95.3 561 95.2 562 95.4 563.1 94.9 564.2 94.8 565.2 95.3 566.3 95.3 568.4 96.5 569.5 96.4 570.6 96.9 571.6 97.7 572.7 97.6 573.7 98 575.9 97.4 576.9 97.9 578 97.6 579.1 98.3 581.2 97.9 582.3 98.3 583.3 98.2 586.5 99 590.8 99.1 591.9 99.6 592.9 99.7 594 100.4 597.2 100.5 599.3 101 601.5 102.3 602.5 102 603.6 102.3 604.7 102.1 606.8 102.6 608.9 102.8 610 102.5 613.2 102.8 615.3 102.8 616.4 103.2 617.5 103.3 618.5 103.9 620.7 104.3 622.8 104.3 624.9 104.8 628.1 107.1 630.2 108 631.3 108 634.5 110 638.8 112 639.8 112.9 644.1 114.8 646.2 116.2 647.3 116.7 650.5 119.1 L650.5,123.6 L649.4,122.8 L648.4,121.9 L647.3,121.1 L646.2,120.7 L645.2,120.0 L644.1,119.3 L643.0,118.9 L642.0,118.3 L640.9,117.8 L639.8,117.4 L638.8,116.5 L637.7,115.8 L636.6,115.3 L635.6,114.8 L634.5,114.5 L633.4,113.8 L632.4,113.1 L631.3,112.5 L630.2,112.5 L629.2,112.0 L628.1,111.6 L627.0,110.9 L626.0,109.9 L624.9,109.3 L623.9,109.1 L622.8,108.8 L621.7,108.7 L620.7,108.7 L619.6,108.5 L618.5,108.4 L617.5,107.8 L616.4,107.6 L615.3,107.3 L614.3,107.2 L613.2,107.2 L612.1,107.2 L611.1,107.2 L610.0,107.0 L608.9,107.2 L607.9,107.0 L606.8,107.1 L605.7,106.7 L604.7,106.5 L603.6,106.7 L602.5,106.5 L601.5,106.7 L600.4,106.2 L599.3,105.5 L598.3,105.2 L597.2,105.0 L596.1,104.9 L595.1,104.9 L594.0,104.9 L592.9,104.2 L591.9,104.0 L590.8,103.6 L589.7,103.5 L588.7,103.6 L587.6,103.5 L586.5,103.5 L585.5,103.2 L584.4,102.9 L583.3,102.7 L582.3,102.7 L581.2,102.3 L580.1,102.7 L579.1,102.7 L578.0,102.1 L576.9,102.4 L575.9,101.9 L574.8,102.2 L573.7,102.5 L572.7,102.0 L571.6,102.2 L570.5,101.3 L569.5,100.9 L568.4,101.0 L567.4,100.5 L566.3,99.8 L565.2,99.7 L564.2,99.2 L563.1,99.3 L562.0,99.9 L561.0,99.7 L559.9,99.8 L558.8,99.6 L557.8,99.1 L556.7,98.8 L555.6,98.2 L554.6,97.7 L553.5,97.2 L552.4,96.7 L551.4,96.3 L550.3,95.9 L549.2,96.0 L548.2,96.0 L547.1,95.8 L546.0,95.2 L545.0,94.4 L543.9,94.0 L542.8,93.5 L541.8,93.6 L540.7,93.8 L539.6,93.5 L538.6,93.3 L537.5,93.1 L536.4,92.7 L535.4,92.2 L534.3,92.1 L533.2,92.0 L532.2,91.5 L531.1,91.1 L530.0,90.7 L529.0,89.7 L527.9,89.6 L526.8,89.2 L525.8,89.0 L524.7,89.4 L523.6,88.8 L522.6,89.0 L521.5,88.4 L520.4,87.4 L519.4,87.2 L518.3,86.4 L517.2,86.0 L516.2,86.2 L515.1,85.3 L514.1,85.1 L513.0,84.7 L511.9,83.9 L510.9,83.3 L509.8,82.7 L508.7,82.2 L507.7,81.7 L506.6,81.3 L505.5,80.9 L504.5,80.3 L503.4,79.8 L502.3,79.4 L501.3,79.1 L500.2,78.5 L499.1,77.9 L498.1,77.5 L497.0,76.8 L495.9,76.4 L494.9,76.4 L493.8,76.3 L492.7,76.0 L491.7,75.8 L490.6,75.0 L489.5,74.7 L488.5,74.4 L487.4,74.1 L486.3,74.0 L485.3,73.7 L484.2,73.1 L483.1,72.8 L482.1,72.6 L481.0,72.1 L479.9,72.2 L478.9,71.4 L477.8,71.2 L476.7,71.0 L475.7,70.9 L474.6,71.0 L473.5,70.4 L472.5,70.1 L471.4,69.8 L470.3,69.9 L469.3,70.4 L468.2,70.1 L467.1,69.8 L466.1,69.9 L465.0,69.6 L463.9,69.7 L462.9,69.8 L461.8,69.8 L460.8,69.6 L459.7,69.0 L458.6,68.4 L457.6,67.3 L456.5,66.3 L455.4,66.0 L454.4,64.7 L453.3,63.6 L452.2,62.9 L451.2,61.6 L450.1,61.1 L449.0,60.1 L448.0,58.4 L446.9,56.7 L445.8,54.4 L444.8,52.5 L443.7,50.2 L442.6,47.9 L441.6,46.2 L440.5,46.9 L439.4,51.0 L438.4,62.4 L437.3,70.8Z" fill="#008080" fill-opacity="0.2"/><path d="M437.3 69.4 438.4 60.6 439.4 49.4 440.5 45.2 441.6 44.9 442.6 45.7 445.8 51.7 448 56.4 449 58 451.2 60.2 453.3 61.6 454.4 62.6 455.4 63.1 459.7 66.7 462.9 67.3 464 67.3 465 67.9 467.1 67.8 468.2 68 470.3 67.7 471.4 68.6 472.5 68.6 473.5 69 474.6 69.8 475.7 69.5 479.9 70.8 481 71.4 483.1 71.4 485.3 71.7 487.4 72.9 488.5 73.1 492.7 74.7 493.8 75.7 495.9 76.2 497 77.1 498.1 77 499.1 77.8 502.3 79.3 503.4 79.4 507.7 81.1 508.7 81.9 509.8 81.5 514.1 83.4 515.1 83.5 517.2 84.5 520.4 85 521.5 84.8 525.8 86.9 526.8 86.8 529 87.3 530 87.3 531.1 87.7 532.2 87.4 535.4 88.5 536.4 88.6 538.6 88.3 541.8 89.5 542.8 89.6 547.1 90.9 550.3 90.7 551.4 90.8 554.6 93 556.7 93.8 558.8 93.8 559.9 94.4 561 94.4 563.1 95.5 565.2 95 569.5 95.7 571.6 95.7 574.8 97.1 575.9 97.2 576.9 97 579.1 97.2 582.3 98.1 585.5 97.9 586.5 98 587.6 98.5 588.7 99.4 592.9 99 595.1 99.5 597.2 100.3 598.3 100.4 599.3 100.8 600.4 100.7 602.5 101.1 603.6 100.9 607.9 101 608.9 100.7 610 101.1 612.1 101.5 613.2 101.9 614.3 101.4 615.3 101.5 616.4 101.3 618.5 101.4 620.7 102.3 621.7 102.4 622.8 103 624.9 103 627 103.5 631.3 106.4 636.6 108.4 637.7 109.1 638.8 110.2 639.8 110.8 640.9 111.9 646.2 114.1 649.4 116.7 650.5 118.1" fill="none" stroke="#dc143c" stroke-width="2.2" stroke-linejoin="round"/><path d="M437.3 68.6 438.4 60.2 439.4 48.7 440.5 44.7 441.6 44 442.6 45.6 446.9 54.4 449 57.9 450.1 58.9 451.2 59.4 452.2 60.7 453.3 61.3 455.4 63.7 456.5 64.1 458.6 66.2 460.8 67.4 462.9 67.6 465 67.4 468.2 67.8 469.3 68.2 470.3 67.7 471.4 67.6 473.5 68.1 474.6 68.8 475.7 68.6 478.9 69.2 479.9 70 481 69.9 484.2 70.8 486.3 71.8 487.4 71.8 490.6 72.7 491.7 73.6 495.9 74.2 500.2 76.2 501.3 76.9 506.6 79.1 507.7 79.4 511.9 81.7 513 82.5 515.1 83.1 516.2 83.9 517.2 83.7 518.3 84.1 519.4 84.9 520.4 85.1 521.5 86.1 522.6 86.7 523.6 86.6 524.7 87.1 525.8 86.8 526.8 86.9 527.9 87.4 529 87.4 530 88.5 533.2 89.8 535.4 90 537.5 90.9 540.7 91.6 542.8 91.3 545 92.2 547.1 93.6 550.3 93.7 555.6 95.9 556.7 96.6 558.8 97.4 559.9 97.6 561 97.4 562 97.6 563.1 97.1 564.2 97 565.2 97.5 566.3 97.5 568.4 98.8 569.5 98.6 570.6 99.1 571.6 99.9 572.7 99.8 573.7 100.3 575.9 99.6 576.9 100.2 578 99.9 579.1 100.5 580.1 100.5 581.2 100.1 582.3 100.5 584.4 100.6 586.5 101.3 590.8 101.3 591.9 101.8 592.9 102 594 102.7 597.2 102.8 599.3 103.2 601.5 104.5 602.5 104.2 603.6 104.5 604.7 104.3 606.8 104.8 608.9 105 610 104.8 613.2 105 614.3 104.9 617.5 105.6 618.5 106.1 620.7 106.5 621.7 106.4 624.9 107 628.1 109.3 630.2 110.2 631.3 110.2 634.5 112.3 636.6 113 638.8 114.3 639.8 115.2 644.1 117.1 648.4 119.7 650.5 121.4" fill="none" stroke="#008080" stroke-width="2.2" stroke-linejoin="round"/><rect x="88.5" y="206.3" width="20.3" height="134.5" fill="#fde8d8"/><rect x="126.9" y="206.3" width="28.2" height="134.5" fill="#fde8d8"/><path d="M87.9 317.5 90.5 292.3 91.8 288 93.1 286.6 94.4 287.6 95.6 289.7 96.9 293.5 98.2 298.2 102.1 314.7 104.7 323.3 107.3 329.7 108.5 331.4 111.1 333.5 112.4 333.9 113.7 333.8 116.3 333.2 118.9 332.2 120.2 331.5 122.7 329.2 124 328.5 126.6 326.1 131.8 322.6 134.4 321.9 135.6 321.2 136.9 320.8 139.5 320.6 140.8 320.3 143.4 321.4 147.3 324.6 148.5 326 149.8 326.7 152.4 328.7 157.6 331.1 160.2 331.7 167.9 334.1 169.2 334.2 170.5 334 173.1 334.4 174.4 333.9 175.6 333.9 176.9 334.3 180.8 334.4 183.4 335.2 184.7 334.7 186 335.1 187.3 335.2 188.5 334.9 191.1 334.9 192.4 335.2 193.7 334.8 197.6 334.9 198.9 334.7 202.7 335.7 205.3 334.7 206.6 335 209.2 334.2 210.5 334.4 211.8 334.9 213.1 335.1 214.4 334.8 216.9 335.3 220.8 333.9 223.4 334.3 224.7 333.7 227.3 334.3 228.6 334.8 231.1 334.2 232.4 334.6 236.3 334.4 237.6 334.1 241.5 334.7 242.7 334.5 244 334.6 245.3 335.5 246.6 335.6 249.2 334.8 250.5 335.4 251.8 335.1 253.1 334.5 256.9 334.5 258.2 333.9 260.8 334 262.1 333.6 263.4 333.6 264.7 333.9 266 334.5 268.6 334.7 269.8 334.4 271.1 334.4 273.7 333.7 276.3 333.5 277.6 334.5 280.2 334.5 281.5 335.3 284 335.5 285.3 335.1 287.9 335.6 290.5 334.8 293.1 335 295.7 334.8 296.9 334.4 300.8 334.4 306 334.9 308.6 335.5 311.1 335.1 313.7 335.4 321.5 333.8 327.9 334.5 330.5 334.5 331.8 334.9 335.7 334.6 336.9 335.1 339.5 334.1 340.8 334.4 343.4 334.6 344.7 334.3 347.3 335.1 348.6 334.8 352.4 334.7 353.7 335.2 355 334.8 357.6 335.2 360.2 335.4 361.5 334.8 366.6 335.2 367.9 334.9 370.5 335.3 371.8 334.9 373.1 335 374.4 334.8 379.5 334.9 380.8 334.5 382.1 334.8 383.4 334.6 384.7 334 386 333.9 391.1 335.2 392.4 335.8 393.7 336 395 335.7 396.3 336 397.6 336" fill="none" stroke="#dc143c" stroke-width="1.3" stroke-opacity="0.2"/><path d="M87.9 314.9 90.5 290.8 91.8 287.2 93.1 286.1 94.4 286.5 95.6 288.7 96.9 292 98.2 296.2 102.1 312 104.7 320.6 107.3 326.9 108.5 329.1 111.1 331.8 115 334.5 117.6 334.6 120.2 334.2 122.7 333 124 333.4 125.3 333.2 126.6 333.5 130.5 332.8 131.8 331.9 133.1 331.7 136.9 329.9 138.2 328.7 139.5 328 143.4 324.2 144.7 323.2 146 323.1 148.5 322.3 151.1 323.2 152.4 324.1 153.7 324.6 157.6 327.7 158.9 329 160.2 329.4 162.7 330.5 164 331.4 165.3 331.9 166.6 332 169.2 332.8 175.6 333.2 176.9 333.1 179.5 333.5 182.1 333 183.4 333.1 184.7 333.6 188.5 333.9 189.8 334.4 193.7 333.8 196.3 333.9 197.6 333.3 198.9 333.9 204 333.6 205.3 333.9 206.6 333.3 209.2 333.4 210.5 332.8 211.8 332.8 213.1 332.5 214.4 333 215.6 333.2 216.9 333.1 220.8 333.6 223.4 333.4 224.7 333.8 227.3 334 228.6 334.3 232.4 333.7 233.7 333.9 235 333.6 236.3 333.6 237.6 333.2 238.9 333.5 244 332.8 246.6 333 249.2 333.6 254.4 333.5 256.9 333.1 258.2 333.6 262.1 334.1 263.4 333.9 264.7 334 266 333.7 268.6 333.5 269.8 333.2 272.4 333.8 275 333.7 276.3 333.4 277.6 333.5 278.9 333 282.7 332.9 285.3 333.9 286.6 334.1 287.9 333.8 289.2 334.6 290.5 334.7 294.4 334.2 295.7 334.2 296.9 333.8 299.5 333.8 302.1 334 303.4 333.8 304.7 333.9 307.3 334.6 308.6 334 311.1 334.4 313.7 334.1 316.3 334.5 317.6 334.4 318.9 334.8 321.5 334.8 322.7 334.4 325.3 334.2 329.2 332.7 331.8 333.1 335.7 333.5 336.9 334.2 338.2 334.4 339.5 334.1 343.4 334.5 344.7 334.4 346 334 348.6 333.6 355 333.1 356.3 333.5 360.2 333.3 361.5 334.1 362.7 334.5 364 334.3 366.6 334.8 367.9 335.4 369.2 334.6 370.5 334.4 371.8 334.5 374.4 334.2 375.7 333.6 378.2 334.1 380.8 334 382.1 333.5 383.4 333.8 386 333.8 387.3 334 388.6 334.5 389.8 334.7 391.1 334.6 392.4 334.8 395 334.6 396.3 334.1 397.6 334.3" fill="none" stroke="#2a9d9d" stroke-width="1.3" stroke-opacity="0.2"/><path d="M87.9 328.1 90.5 320.5 91.8 319.3 94.4 319.6 99.5 326.4 100.8 327.2 102.1 328.5 103.4 329.1 104.7 330 107.3 330.7 108.5 331.6 109.8 331.4 112.4 332 116.3 330.9 117.6 331.2 118.9 330.1 120.2 329.5 121.4 329.8 122.7 329.8 125.3 327.5 126.6 327.1 127.9 325.9 129.2 324.2 130.5 323 131.8 322.4 135.6 319 139.5 314.6 142.1 312.6 143.4 311.9 144.7 312.3 147.3 312.4 148.5 312.8 152.4 316.4 158.9 323.5 161.5 325.5 164 328.1 166.6 328.9 169.2 330.3 170.5 330.4 174.4 332 176.9 332.1 178.2 332.7 179.5 332.4 180.8 332.5 183.4 333.3 184.7 333.1 187.3 333.3 191.1 332 192.4 332.3 193.7 331.9 196.3 332.5 198.9 332.6 200.2 332.1 202.7 332 204 331.7 206.6 331.8 209.2 332.6 211.8 332.5 213.1 332.8 215.6 332.5 218.2 331.9 219.5 331.9 220.8 332.2 223.4 331.8 224.7 332 228.6 331.6 229.8 332 231.1 331.7 236.3 332.1 237.6 331.8 240.2 331.7 241.5 332.1 246.6 332.2 249.2 331.6 253.1 331.5 255.6 332.2 258.2 332.4 264.7 332.5 266 331.9 271.1 331.9 272.4 331.7 273.7 332.2 275 332.1 276.3 332.6 278.9 332.1 282.7 332 284 331.8 286.6 332.2 289.2 331.9 290.5 332.2 293.1 331.6 294.4 331.9 295.7 332.7 300.8 333.8 302.1 333.7 303.4 333.1 308.6 331.9 311.1 331.7 315 332.3 317.6 331.9 318.9 332.1 320.2 331.6 321.5 331.4 324 332 326.6 332.1 327.9 332.4 329.2 332.2 330.5 331.6 334.4 331.3 335.7 331 338.2 331.6 339.5 331.3 343.4 331.9 344.7 331.5 346 331.6 347.3 331.2 348.6 331.3 349.8 331.1 353.7 331.4 355 332 357.6 332.5 361.5 332 362.7 332.2 365.3 331.8 367.9 332.2 369.2 332.2 370.5 331.9 371.8 332 373.1 332.4 376.9 333 379.5 333.2 380.8 332.8 382.1 332.8 383.4 332.1 384.7 332 386 332.5 387.3 332.1 389.8 332 391.1 332.5 392.4 332.4 393.7 331.9 395 331.9 396.3 332.2 397.6 332.2" fill="none" stroke="#8c8c8c" stroke-width="1.3" stroke-opacity="0.3"/><path d="M87.9 324 90.5 316.5 91.8 314.8 93.1 314.2 94.4 313.9 95.6 314.4 96.9 315.3 102.1 322.5 104.7 325.4 106 325.8 107.3 326.9 108.5 327.5 109.8 327.8 111.1 328.4 112.4 328.2 115 328.4 117.6 328.4 118.9 328.1 121.4 329.1 125.3 328.9 127.9 329.4 129.2 329 130.5 329.2 131.8 329.7 134.4 330 135.6 329.2 138.2 329.6 140.8 328.4 142.1 328.4 143.4 329.3 146 329.1 148.5 329.9 149.8 329.4 151.1 328.6 156.3 328.2 157.6 328.8 158.9 328.8 160.2 329.1 164 328.9 165.3 328.4 167.9 328.2 170.5 328.4 171.8 328.8 173.1 328.8 174.4 329.4 175.6 329.3 178.2 328.7 180.8 328.5 182.1 328 183.4 328.4 187.3 328.8 189.8 329.5 191.1 329 193.7 328.8 195 328.5 197.6 328.7 198.9 328.6 202.7 329.1 205.3 328.5 209.2 328.3 213.1 328.8 215.6 329.7 219.5 329.4 220.8 329.6 222.1 329.5 223.4 328.8 224.7 329 228.6 328.9 229.8 328.7 232.4 328.9 233.7 329.5 235 329.6 236.3 329.3 237.6 329.6 240.2 329.4 242.7 328.6 246.6 328.7 250.5 329.8 251.8 329.8 255.6 329.1 256.9 328.5 258.2 328.6 259.5 328.2 260.8 328.7 263.4 328.4 264.7 328.5 266 328.3 267.3 328.5 268.6 328.2 273.7 328.5 277.6 328.5 278.9 328.7 280.2 328.6 284 328.9 285.3 328.6 287.9 328.9 289.2 328.6 293.1 329.2 294.4 328.9 296.9 329.5 299.5 328.9 303.4 328.9 304.7 328.6 306 328.7 307.3 329.3 309.8 329.9 311.1 329.4 313.7 329.6 316.3 328.6 320.2 329.1 321.5 329 322.7 329.2 325.3 328.8 326.6 328.3 327.9 328.2 329.2 328.4 330.5 328.3 331.8 328.5 333.1 328 334.4 328.6 336.9 328.8 338.2 328.7 340.8 329.2 343.4 328.8 344.7 328.8 346 329.1 347.3 329 348.6 329.3 351.1 328.9 353.7 328.7 355 329 357.6 329.2 358.9 329.5 361.5 329.2 362.7 328.8 364 328.8 365.3 328.5 366.6 329 371.8 329.8 373.1 330.2 376.9 329.4 379.5 329.1 383.4 329.4 387.3 329 389.8 328.2 393.7 328.2 396.3 328 397.6 328.2" fill="none" stroke="#dc143c" stroke-width="1.3" stroke-opacity="0.2"/><path d="M87.9 322.3 90.5 297.2 91.8 291.7 93.1 289.3 94.4 288.6 95.6 290 96.9 294.2 103.4 320.8 106 326.7 107.3 327.9 108.5 328.6 109.8 329 112.4 329 113.7 328.7 116.3 329.1 120.2 329.3 124 328.6 130.5 324.4 131.8 323.1 134.4 321.6 136.9 319.9 139.5 319.1 140.8 319 142.1 318.4 143.4 318.1 146 318.9 151.1 323 152.4 324.7 153.7 325.7 156.3 326.2 158.9 327.6 160.2 327.4 169.2 329.6 173.1 329.4 174.4 329 176.9 328.6 180.8 329.1 182.1 329.6 184.7 329.8 188.5 330.3 191.1 329.7 193.7 329.4 196.3 329.5 197.6 329.2 201.5 329.8 206.6 329.4 209.2 328.8 213.1 329.3 214.4 329 215.6 329.3 216.9 329.3 218.2 329.6 220.8 329.6 224.7 330.1 228.6 329.5 233.7 329.1 235 329.5 237.6 329.4 238.9 329.1 244 329.2 246.6 329.5 253.1 329.2 258.2 329.6 259.5 330 262.1 329.9 264.7 330.7 266 330.6 267.3 330.2 269.8 330 272.4 328.5 275 328.7 276.3 328.6 280.2 330 282.7 329.2 284 329.8 285.3 329.8 286.6 329.5 290.5 330 291.8 329.3 296.9 328.8 302.1 329.7 303.4 329.5 304.7 329.6 306 329.1 308.6 328.9 309.8 328.6 312.4 328.9 313.7 328.8 315 329 316.3 328.8 320.2 328.7 321.5 329 322.7 328.5 326.6 329.1 327.9 329 329.2 329.5 330.5 329.6 331.8 329.4 335.7 329.7 336.9 329.4 339.5 330 342.1 329.2 343.4 329.4 347.3 328.7 348.6 328.9 349.8 328.8 351.1 329.1 353.7 329.3 355 329.6 356.3 329.5 357.6 329.7 358.9 329 361.5 328.7 364 328.1 366.6 329 369.2 329.1 371.8 329.7 373.1 329.3 374.4 329.6 375.7 330.2 378.2 330.2 379.5 329.8 382.1 329.8 383.4 329.2 386 328.8 388.6 329.4 389.8 329.4 393.7 330.6 395 330.7 397.6 330.3" fill="none" stroke="#2a9d9d" stroke-width="1.3" stroke-opacity="0.2"/><path d="M87.9 315.1 90.5 273.5 91.8 265.4 93.1 261.6 94.4 260.7 95.6 263.5 96.9 269.1 98.2 276.6 102.1 303.1 104.7 316.3 106 321.2 107.3 324.7 108.5 327.3 109.8 329.2 111.1 330.4 113.7 331.6 115 332 117.6 332.1 118.9 331.7 121.4 331.5 122.7 330.8 125.3 330.7 127.9 331.4 130.5 331 131.8 331.3 133.1 331.3 135.6 330.3 136.9 330 138.2 330.4 140.8 329.4 143.4 328.8 144.7 328.8 146 328.1 148.5 328.1 149.8 328.4 151.1 328 153.7 327.9 155 328.2 157.6 327.6 158.9 328.4 160.2 328.8 164 328.8 166.6 329.7 167.9 329.4 169.2 329.9 170.5 329.8 171.8 330.6 173.1 330.7 174.4 330.2 176.9 331.5 179.5 331.8 180.8 331.6 182.1 332 183.4 332 184.7 331.7 186 332.4 187.3 332.1 188.5 332.5 189.8 332.5 191.1 332.1 192.4 332.1 193.7 331.4 195 331.6 197.6 331.2 201.5 331.4 202.7 331.7 204 331.6 205.3 332.1 206.6 332.3 211.8 332 213.1 331.1 219.5 332.5 220.8 333 226 331.9 228.6 332.1 231.1 331.7 232.4 331.9 233.7 332.4 235 332 236.3 332 237.6 332.7 240.2 331.6 242.7 331.8 245.3 331.3 246.6 332 247.9 331.9 249.2 331.2 250.5 331.4 253.1 332.4 254.4 332 256.9 332.5 258.2 332.4 260.8 331.6 263.4 332.6 264.7 332.7 266 332.3 269.8 332.2 271.1 331.7 273.7 332.3 278.9 332.6 280.2 332.2 281.5 332.4 282.7 332.1 285.3 332 286.6 332.3 287.9 332.1 291.8 332.4 295.7 331.9 300.8 331.7 303.4 332.1 307.3 331.9 308.6 332.2 309.8 332 311.1 332.4 312.4 332.1 316.3 333.3 318.9 332.6 321.5 332.4 324 331.4 325.3 331.5 329.2 332.4 330.5 332.4 333.1 332.8 334.4 332.4 335.7 332.3 336.9 331.8 338.2 331.6 342.1 332.2 346 332.5 351.1 331.1 353.7 331.6 356.3 331.5 358.9 332.2 362.7 331.8 364 332.1 365.3 332.1 367.9 331.6 371.8 331.6 373.1 331.8 376.9 331.8 378.2 332.2 380.8 331.4 384.7 331.3 386 330.2 387.3 330.8 392.4 331.1 393.7 331.9 395 331.6 396.3 332.1 397.6 331.8" fill="none" stroke="#8c8c8c" stroke-width="1.3" stroke-opacity="0.3"/><path d="M87.9 292.8 90.5 230.9 91.8 223 93.1 223.5 94.4 230.3 96.9 256.8 99.5 288.5 100.8 301.5 102.1 311.3 103.4 318.8 104.7 324.1 106 327.3 107.3 328.9 109.8 330.6 112.4 330.6 116.3 330.4 117.6 330.1 118.9 330.3 120.2 329.9 122.7 330.5 126.6 330.6 127.9 331 130.5 330.4 133.1 331 135.6 331.3 140.8 330.8 142.1 330.4 144.7 330.7 146 330.6 149.8 331 151.1 330.8 155 331.4 160.2 330.5 161.5 330.7 162.7 330.4 164 330.5 165.3 330.9 173.1 329.7 174.4 329.9 175.6 330.5 176.9 330.5 178.2 330.9 179.5 331 180.8 331.4 183.4 331.1 186 330.2 191.1 329.7 195 331.1 197.6 330.8 198.9 331 201.5 330.6 202.7 330.1 204 330 205.3 330.8 209.2 330.9 210.5 330.7 211.8 330.9 214.4 329.9 215.6 330.1 216.9 330 218.2 330.4 219.5 330.1 222.1 331.4 226 331.1 227.3 331.4 228.6 330.6 229.8 330.3 233.7 330.3 235 330.1 236.3 330.8 237.6 330.9 240.2 330.7 241.5 331.1 245.3 330.9 251.8 331.9 253.1 332.3 256.9 331 258.2 330.9 260.8 329.9 264.7 330.2 266 329.8 267.3 330.1 269.8 330.1 272.4 330.9 275 331.3 277.6 331 280.2 330.2 281.5 330.2 282.7 329.5 284 329.8 286.6 329.8 287.9 330.1 289.2 330 293.1 330.6 294.4 331.2 295.7 330.7 298.2 331.6 300.8 331 302.1 330.5 303.4 330.9 306 330.6 307.3 331 309.8 330.8 311.1 330.5 313.7 330.7 315 330.5 316.3 330.6 317.6 331.4 320.2 331.3 321.5 330.9 324 330.9 325.3 330.3 327.9 330.6 330.5 330.4 331.8 329.9 338.2 330.3 339.5 330.7 342.1 330.7 344.7 330.2 351.1 330.8 355 331.4 356.3 331.2 360.2 331.8 362.7 331.5 364 331.7 365.3 331.2 367.9 330.7 373.1 330.3 374.4 330.5 375.7 331 380.8 331 382.1 330.6 384.7 331.3 386 331 389.8 331.6 392.4 331 393.7 331.6 395 331.2 396.3 331.1 397.6 331.3" fill="none" stroke="#dc143c" stroke-width="1.3" stroke-opacity="0.2"/><path d="M87.9 325 90.5 317.1 91.8 315.3 93.1 314.3 94.4 314.2 96.9 315.9 103.4 324.7 104.7 326 106 326.4 107.3 327.6 108.5 328.2 109.8 328.3 112.4 329.2 113.7 329.9 115 329.7 117.6 330.5 118.9 330.2 120.2 329.6 122.7 329.8 124 329.4 125.3 330 129.2 330.3 131.8 330.3 133.1 329.7 134.4 330 138.2 330.2 139.5 329.8 144.7 329.5 146 329.2 148.5 330 151.1 329.9 153.7 330.2 156.3 329.5 158.9 329.7 160.2 329.5 161.5 329.7 166.6 329.5 167.9 330 169.2 329.9 170.5 330.1 171.8 330.7 173.1 330.3 174.4 330.4 175.6 329.9 176.9 330.1 178.2 330 179.5 329.6 180.8 330.4 182.1 330.5 186 330 187.3 330.2 189.8 329.9 193.7 330.5 196.3 330 198.9 329.8 200.2 330.1 204 330.4 205.3 330.8 206.6 330.9 209.2 330.1 213.1 329.3 214.4 329.2 216.9 330 218.2 329.8 219.5 330 220.8 329.8 223.4 328.6 227.3 329 228.6 328.9 229.8 329.9 231.1 330.4 232.4 330.5 233.7 330.2 235 330.5 236.3 330.4 237.6 329.8 240.2 329.2 241.5 329.1 242.7 328.7 244 329 246.6 328.8 249.2 329.7 251.8 329.9 254.4 330.6 258.2 330.6 259.5 330.8 262.1 330.5 266 330.7 268.6 330.6 269.8 331.1 271.1 330.7 272.4 330.8 273.7 331.2 275 331.2 276.3 331.5 277.6 330.7 278.9 331.1 282.7 330.8 284 330.3 285.3 331.1 286.6 330.7 289.2 330.7 290.5 330.3 291.8 330.3 293.1 330 294.4 330.1 295.7 329.9 298.2 330.1 303.4 329.3 304.7 329.7 307.3 329.7 308.6 330 311.1 331.3 312.4 330.5 316.3 330.8 317.6 330.4 318.9 329.6 320.2 330.3 321.5 330.1 326.6 331.1 327.9 330.5 330.5 330.1 331.8 330.1 333.1 329.7 334.4 329.7 336.9 330.5 338.2 330.5 339.5 329.8 344.7 329 346 329 351.1 330.3 352.4 330 356.3 330 358.9 329.5 360.2 329.6 361.5 329.4 364 330 365.3 330.1 366.6 329.9 369.2 330.6 370.5 329.9 373.1 330 374.4 330.5 376.9 330.4 378.2 330.6 380.8 330.1 382.1 330.4 384.7 329.9 386 330.1 388.6 329.9 389.8 329.6 392.4 329.8 395 330.5 397.6 330.5" fill="none" stroke="#2a9d9d" stroke-width="1.3" stroke-opacity="0.2"/><path d="M87.9 314.9 90.5 292 91.8 289.1 93.1 289.6 94.4 290.9 95.6 294.1 102.1 318 103.4 322.1 106 328.3 108.5 332.1 111.1 334.2 113.7 334.9 115 335 116.3 335.5 117.6 335.5 118.9 335 120.2 335.1 121.4 334.7 124 335.1 126.6 335.3 127.9 335.2 129.2 335.8 130.5 335.8 131.8 335.1 133.1 334.8 135.6 335.1 138.2 334.5 139.5 334.7 140.8 334.5 142.1 334.6 143.4 335.2 146 334.3 147.3 334.1 149.8 334.5 151.1 333.9 153.7 334.6 156.3 334.6 160.2 335 162.7 335.6 164 335.6 165.3 335.2 166.6 335.1 167.9 335.3 170.5 334.5 174.4 334.8 175.6 334.2 176.9 334.3 179.5 335.2 182.1 334.4 183.4 334.7 184.7 334.2 186 334.1 187.3 333.6 189.8 334.7 191.1 334.7 192.4 335 193.7 334.8 195 335.2 197.6 334.8 201.5 335 202.7 334.5 204 334.8 207.9 334.3 210.5 334.4 211.8 333.9 213.1 334.5 214.4 334.4 215.6 334.7 218.2 334.8 219.5 335.3 220.8 334.9 222.1 335.2 223.4 335.1 224.7 334.7 226 334.8 228.6 334.1 231.1 334 232.4 334.8 236.3 334.4 237.6 334.6 238.9 334.4 240.2 333.7 241.5 333.6 242.7 333.8 244 334.6 245.3 334.3 247.9 335.3 250.5 335.4 253.1 334.7 255.6 334.8 256.9 335.4 259.5 335.2 260.8 335.8 262.1 336.1 264.7 335.6 268.6 335.9 269.8 335.5 271.1 335.5 272.4 335.2 273.7 335.9 275 336 276.3 335.5 280.2 335.7 281.5 335.1 284 334.8 285.3 335 286.6 334.7 290.5 335.1 291.8 335.6 294.4 335.7 296.9 335.3 298.2 334.9 299.5 334.8 303.4 333.9 304.7 334 307.3 333.8 308.6 334.4 309.8 334.5 312.4 335.1 313.7 335.6 315 335.7 316.3 334.9 317.6 334.9 322.7 333.2 324 334 325.3 333.8 326.6 334.4 329.2 334.7 330.5 334.6 331.8 334 334.4 333.6 335.7 333.7 338.2 333.3 342.1 334.2 344.7 334.5 346 334.9 348.6 334.9 352.4 333.7 356.3 333.2 357.6 332.8 360.2 333.9 362.7 334.3 364 334.3 365.3 335 367.9 334.6 371.8 334.9 373.1 334.5 376.9 334.4 378.2 334.2 379.5 334.4 383.4 334.5 386 334.9 387.3 334.7 388.6 335.1 393.7 334.7 395 335.1 397.6 334.4" fill="none" stroke="#8c8c8c" stroke-width="1.3" stroke-opacity="0.3"/><path d="M87.9 327 90.5 319.8 93.1 318.9 95.6 319.4 96.9 319.9 98.2 321 100.8 323.8 104.7 327.6 108.5 330 109.8 330.1 111.1 330.8 112.4 331.2 115 331.3 116.3 330.8 117.6 331.8 120.2 331.2 121.4 331.6 122.7 331.6 124 332.5 125.3 332.2 126.6 332.4 127.9 331.7 129.2 331.9 130.5 331.5 131.8 330.8 133.1 330.4 135.6 331.2 136.9 331.2 138.2 332 139.5 331.8 140.8 332.2 146 332.1 147.3 332.3 149.8 331.7 151.1 332.1 153.7 331.3 157.6 331.9 158.9 331.9 160.2 332.3 164 332.6 167.9 332.1 169.2 332.6 171.8 332.7 173.1 333.2 174.4 332.8 178.2 333.1 179.5 332.6 180.8 332.6 182.1 332.9 186 332.7 187.3 333 191.1 332.4 192.4 331.5 193.7 331.6 195 331.1 198.9 330.8 200.2 331.8 204 331.8 205.3 332.4 206.6 332.6 209.2 331.8 210.5 332.1 214.4 332.1 216.9 332.3 218.2 332 219.5 332.1 223.4 331.5 226 332.1 227.3 331.9 229.8 331.9 231.1 332.3 236.3 332.5 237.6 332.8 238.9 332.3 241.5 332.2 244 332.4 247.9 331.9 249.2 331.3 251.8 330.7 253.1 330.9 254.4 330.5 255.6 330.6 256.9 331.1 260.8 331.1 262.1 331.5 263.4 331.1 264.7 331 267.3 331.5 269.8 331.4 271.1 331.8 275 331.5 276.3 331.1 280.2 331.7 281.5 332.3 282.7 332.1 284 332.4 285.3 332 286.6 332 289.2 331.1 291.8 331.3 293.1 332.1 294.4 331.5 298.2 331.9 300.8 331.5 302.1 331.8 303.4 331.7 304.7 332 306 331.8 307.3 332.2 308.6 331.9 309.8 332.2 312.4 331.7 313.7 331.8 315 331.5 316.3 330.9 320.2 330.9 321.5 330.7 324 331.5 325.3 331.4 326.6 332 327.9 332 329.2 332.4 330.5 331.8 331.8 332.2 334.4 331.7 338.2 332.3 339.5 332.2 340.8 332.5 344.7 331.8 347.3 331.8 348.6 331.6 351.1 332.3 356.3 332.4 357.6 332.6 362.7 332 364 332.4 366.6 332.7 370.5 332.3 373.1 331.4 378.2 331.5 380.8 331.7 382.1 331.3 384.7 331.8 388.6 331.7 391.1 331.9 392.4 331.4 395 331.8 396.3 331.7 397.6 332" fill="none" stroke="#dc143c" stroke-width="1.3" stroke-opacity="0.2"/><path d="M87.9 318.6 90.5 300.7 91.8 297.6 93.1 296.3 94.4 296.1 95.6 297.1 96.9 299.5 102.1 314.1 104.7 319.9 107.3 324 111.1 327.3 112.4 327.6 113.7 328.7 116.3 328.9 120.2 330 121.4 329.3 125.3 328.8 126.6 328.2 127.9 327.9 134.4 328.5 136.9 328.1 139.5 326.9 143.4 322.9 148.5 316.6 153.7 313.1 157.6 313.2 158.9 313.9 160.2 315 165.3 320.8 170.5 324.8 174.4 327.3 175.6 327.8 178.2 328.2 180.8 327.9 183.4 328.3 186 328.1 187.3 328.7 188.5 329 191.1 328.4 193.7 328.6 195 328 196.3 328.1 197.6 328.6 200.2 328.6 201.5 328.4 204 329.1 207.9 328.7 210.5 329 211.8 328.4 216.9 329.5 218.2 329.2 219.5 329.3 220.8 328.8 223.4 329 224.7 328.6 226 329.3 227.3 329.5 228.6 330.2 229.8 329.8 233.7 330.1 235 329.8 236.3 329.2 237.6 329.3 240.2 329 241.5 328.5 244 328.4 246.6 327.8 251.8 328.7 253.1 329.2 254.4 329.2 255.6 328.7 260.8 329 262.1 328.8 263.4 329.3 264.7 329 266 329.2 268.6 328.9 269.8 329.4 272.4 329.1 273.7 328.7 276.3 328.9 277.6 328.4 282.7 328.7 284 328.6 285.3 328.8 287.9 328.5 289.2 328.8 293.1 328.5 294.4 328.2 298.2 328.3 300.8 328.8 303.4 329.6 304.7 329.1 306 329 307.3 329.4 311.1 329.1 313.7 329.6 315 329 316.3 329.1 317.6 328.7 326.6 328.5 327.9 328.9 331.8 328.9 334.4 329.5 336.9 329.3 338.2 329.6 340.8 329.2 343.4 329.7 344.7 329.4 348.6 329.9 349.8 329.3 351.1 329.5 355 329 357.6 329 358.9 328.6 360.2 328.9 364 328 366.6 328.4 367.9 328.4 369.2 328.7 375.7 328.6 376.9 328.3 380.8 328.5 388.6 328.4 389.8 328.2 391.1 328.5 392.4 328.4 395 328.9 397.6 328.7" fill="none" stroke="#2a9d9d" stroke-width="1.3" stroke-opacity="0.2"/><path d="M87.9 327.5 89.2 323 90.5 319.3 91.8 317.3 93.1 317 94.4 317 96.9 319.5 98.2 321.3 100.8 326 103.4 328.6 106 330.6 108.5 331 111.1 331.9 113.7 332.3 118.9 331.6 120.2 331.2 121.4 330.3 122.7 330.1 125.3 328.7 127.9 326.7 131.8 324.6 134.4 322.5 135.6 321.8 136.9 321.5 138.2 320.9 140.8 321.3 142.1 321.8 143.4 322.7 144.7 323.3 147.3 325 148.5 326.3 153.7 329 156.3 329.5 160.2 330.9 161.5 330.9 165.3 331.8 169.2 333.1 173.1 332.4 175.6 331.1 176.9 330.9 182.1 332 183.4 332.5 184.7 332.6 186 332.4 189.8 332.4 191.1 331.9 192.4 331.7 193.7 332 195 331.7 197.6 331.9 198.9 332.9 201.5 332.5 204 332.8 205.3 332.3 206.6 331.3 207.9 331.6 209.2 331.2 211.8 331 214.4 331.7 215.6 331.6 216.9 332.1 219.5 332.3 220.8 332.1 222.1 332.3 224.7 332 226 332.4 227.3 331.9 229.8 331.9 231.1 332.1 233.7 331.3 236.3 331.4 237.6 331.7 238.9 331.5 240.2 332.1 245.3 332 246.6 331.8 247.9 331.2 250.5 331.6 251.8 331.3 254.4 331.4 255.6 331.9 258.2 331.7 262.1 332.6 264.7 331.9 267.3 331.9 268.6 331.5 273.7 331.6 276.3 332.2 277.6 331.7 280.2 332.5 284 332.2 285.3 332.3 286.6 331.8 287.9 331.7 289.2 332.3 291.8 332 294.4 332.7 298.2 331.7 300.8 331.6 302.1 331.3 304.7 331.3 307.3 332.2 309.8 332.1 312.4 332.5 313.7 332.5 315 332 318.9 331.9 320.2 332.5 321.5 332.3 322.7 332.7 325.3 332.9 326.6 332.7 327.9 331.9 330.5 331.4 333.1 331.7 335.7 332.4 342.1 331.3 346 332.1 348.6 331.6 349.8 331.7 351.1 331.3 355 331.8 356.3 332.2 357.6 332 358.9 332.5 364 332.1 365.3 332.2 366.6 331.8 367.9 332.1 369.2 332.1 371.8 332.9 373.1 332.9 374.4 333.5 376.9 333.4 378.2 332.7 379.5 332.6 382.1 331.7 384.7 331.6 386 332.1 387.3 331.9 388.6 332.2 389.8 332.1 391.1 332.3 393.7 331.3 395 331.8 396.3 331.7 397.6 331.9" fill="none" stroke="#8c8c8c" stroke-width="1.3" stroke-opacity="0.3"/><path d="M87.9 317.1 90.5 277.5 91.8 270.3 93.1 268.8 94.4 270.9 95.6 276.2 100.8 312.7 102.1 319.8 103.4 325.2 104.7 329 106 331.6 107.3 333.2 111.1 335.2 112.4 335.5 115 335.3 116.3 335.5 117.6 335.4 118.9 335 121.4 335.4 124 334.4 126.6 334.6 127.9 334.2 129.2 334.1 136.9 335.9 139.5 335.6 144.7 333.8 147.3 334 149.8 335 152.4 335.4 153.7 335.1 156.3 335.1 157.6 334.5 158.9 334.9 160.2 334.9 161.5 335.7 162.7 336 164 335.8 167.9 336.4 170.5 335.9 171.8 335.9 174.4 335 176.9 334.9 179.5 335.3 182.1 335.3 184.7 335.8 186 335.2 187.3 335.6 188.5 335.7 189.8 336.1 191.1 335.7 192.4 335.6 193.7 336 196.3 335.6 197.6 334.9 198.9 335.4 200.2 335.4 201.5 335.8 204 335.4 205.3 335.6 206.6 334.8 210.5 334.2 213.1 335.1 215.6 335.6 216.9 335.5 218.2 336 220.8 335.5 222.1 335.6 224.7 335 227.3 335 228.6 335.3 229.8 334.8 235 335.5 236.3 335.3 237.6 335.7 238.9 335.4 240.2 335.4 241.5 334.6 244 334.4 246.6 334.7 247.9 335.1 249.2 335.1 251.8 335.6 253.1 335.6 255.6 335.1 256.9 335.2 258.2 334.6 263.4 334 269.8 334.4 271.1 334.3 275 335 277.6 335 278.9 335.3 280.2 334.9 285.3 334.9 287.9 335.7 290.5 335.5 293.1 335.9 294.4 335.2 295.7 335.6 296.9 335.7 299.5 335.2 300.8 335.2 303.4 334.4 306 334.6 307.3 334.9 308.6 334.7 309.8 335.3 313.7 335.8 317.6 335.3 321.5 334.3 322.7 334.4 324 335.1 325.3 334.7 329.2 335.3 331.8 335 334.4 335.5 335.7 334.9 339.5 335.3 342.1 334.9 343.4 335.4 344.7 335.5 347.3 334.9 348.6 335 351.1 334.5 353.7 333.7 355 334.1 357.6 334.4 358.9 334.1 360.2 334.8 361.5 335.1 362.7 334.6 364 334.7 365.3 334.3 366.6 334.8 367.9 334.8 371.8 335.5 374.4 335.4 376.9 334.5 378.2 334.9 379.5 334.8 380.8 335 382.1 334.8 383.4 335.1 387.3 334.3 389.8 335.1 391.1 335 395 335.9 397.6 335.6" fill="none" stroke="#dc143c" stroke-width="1.3" stroke-opacity="0.2"/><path d="M87.9 322.1 90.5 306.4 91.8 304.1 93.1 303.5 94.4 304.7 96.9 310.1 100.8 321.4 102.1 324.5 104.7 329.1 106 330.8 107.3 331.7 109.8 332.7 111.1 333 112.4 332.9 113.7 333.1 115 333 116.3 333.3 118.9 332.8 122.7 333.2 124 332.8 127.9 332.5 129.2 332.2 133.1 332.4 134.4 332.7 135.6 332.4 136.9 332.4 138.2 331.5 140.8 331.1 142.1 330.4 143.4 330.6 144.7 330.1 146 330.2 147.3 329.8 148.5 329 151.1 328.8 155 328.7 157.6 328.9 158.9 328.7 160.2 328.2 161.5 328.4 165.3 328.4 166.6 328.6 167.9 329.1 169.2 329.2 173.1 331.2 176.9 331.6 183.4 333.1 186 333.3 188.5 333.1 191.1 333.7 196.3 333.3 197.6 332.6 198.9 332.2 200.2 332.3 201.5 331.8 206.6 332.2 207.9 332.5 209.2 333.2 210.5 333 211.8 333.2 213.1 332.9 214.4 333 215.6 332.7 219.5 332.6 220.8 333.4 222.1 333.2 223.4 333.3 224.7 333 227.3 333 229.8 332.5 233.7 332.4 235 332.7 236.3 332.7 238.9 333.1 244 333.2 245.3 332.7 246.6 332.7 249.2 333.1 250.5 332.9 251.8 332.4 254.4 332.5 255.6 332.1 256.9 332.4 258.2 332.4 262.1 333.2 264.7 333.2 266 333.7 267.3 333.4 268.6 333.7 269.8 333.3 271.1 333.5 273.7 332.9 275 333 276.3 332.6 277.6 333 278.9 333 281.5 332.4 282.7 332.7 285.3 332.5 286.6 332.2 287.9 332.7 290.5 332.8 291.8 333.2 295.7 333.3 296.9 333.9 299.5 333.5 302.1 333.8 304.7 333.2 308.6 332.8 312.4 332.8 313.7 333.3 316.3 333.7 318.9 333.5 320.2 333.6 322.7 333.3 326.6 333.4 327.9 333.7 329.2 333.3 333.1 333.3 335.7 332.6 336.9 332.6 338.2 332.2 340.8 332 342.1 332.4 344.7 332.2 351.1 333.2 352.4 333 353.7 333.2 358.9 332.5 364 333.2 366.6 333 367.9 332.7 369.2 333.2 373.1 332.2 374.4 332.5 375.7 333.1 376.9 332.4 380.8 333.7 383.4 334 386 333.4 388.6 333.2 391.1 332.7 393.7 333.1 395 332.6 397.6 332.9" fill="none" stroke="#2a9d9d" stroke-width="1.3" stroke-opacity="0.2"/><path d="M87.9 328 89.2 317.8 90.5 309.4 91.8 305.2 93.1 303.2 94.4 302.6 95.6 303.6 96.9 306.3 98.2 310 102.1 322.6 104.7 328.9 106 330.6 108.5 332.7 109.8 333.4 112.4 334 113.7 334.1 115 334.5 120.2 333.4 121.4 334 127.9 334.4 129.2 333.6 130.5 333.1 135.6 333.4 136.9 333.7 138.2 333 142.1 332.1 146 332.4 147.3 332.8 148.5 332.5 149.8 332.5 151.1 332.1 152.4 332.1 153.7 332.6 155 332.3 158.9 332.5 162.7 331.9 164 331.9 165.3 331.6 170.5 332.3 171.8 332.7 173.1 332.7 174.4 333 175.6 332.7 179.5 332.3 182.1 332.7 183.4 333.1 184.7 333.2 186 333.7 188.5 333.7 191.1 333.2 193.7 333.7 196.3 333.8 197.6 333.5 198.9 333.8 202.7 333.2 204 333.4 205.3 334 210.5 334.5 215.6 333.2 218.2 333.3 219.5 333.1 222.1 333.6 223.4 333.6 224.7 333.1 227.3 333.4 229.8 333.3 232.4 333.6 233.7 333.4 235 333.6 236.3 333.3 237.6 333.4 238.9 333.2 240.2 333.8 241.5 334 242.7 333.8 247.9 334.3 250.5 334.8 254.4 334.1 256.9 333.3 259.5 333.1 260.8 333.3 262.1 333.1 264.7 333.7 266 333.7 267.3 334.3 268.6 333.9 269.8 334.1 271.1 333.7 275 333.3 276.3 333.4 277.6 333.1 280.2 333.4 282.7 334 285.3 334.1 290.5 332.4 294.4 333 295.7 333 298.2 333.8 299.5 333 302.1 333.6 304.7 333.4 306 333 307.3 333.7 309.8 333.2 312.4 333.2 313.7 333.6 317.6 334.1 324 334 325.3 333.6 327.9 333.6 330.5 332.8 334.4 332.9 335.7 332.7 338.2 332.9 339.5 332.5 343.4 333.4 346 333.6 348.6 334.1 349.8 333.9 355 334 356.3 333.5 358.9 333.3 361.5 333.6 362.7 333.3 364 333.8 366.6 334 367.9 333.7 374.4 334.7 375.7 335.3 376.9 334.5 378.2 334.7 382.1 334.6 383.4 334 386 334.6 387.3 333.9 391.1 333.1 392.4 333 393.7 332.5 395 332.8 396.3 332.7 397.6 333.3" fill="none" stroke="#8c8c8c" stroke-width="1.3" stroke-opacity="0.3"/><path d="M87.9 330 90.5 321.9 91.8 320.9 93.1 320.8 95.6 321.2 98.2 323.5 100.8 326.6 104.7 331.8 107.3 333.7 108.5 334.2 111.1 334.4 112.4 334.3 113.7 334.6 117.6 334.6 118.9 334.2 120.2 334.3 121.4 333.9 125.3 331.8 126.6 331.5 130.5 327.2 133.1 323.5 135.6 319.2 138.2 316.3 139.5 315.4 140.8 315 142.1 314.9 144.7 316.3 148.5 320.9 153.7 328.8 155 330 156.3 331.8 158.9 333.8 161.5 334.3 162.7 334.9 164 335.1 165.3 335 167.9 335.6 169.2 335.7 171.8 335.3 173.1 335.8 174.4 335.3 175.6 335.5 176.9 335.3 179.5 335.5 180.8 335.1 182.1 335.5 186 335.5 189.8 335.3 191.1 335.6 193.7 335.2 196.3 335.6 197.6 335.4 200.2 336.1 202.7 335.9 206.6 334.7 211.8 335 214.4 335.6 216.9 335.7 218.2 335.2 220.8 335.5 224.7 334.9 226 335.2 228.6 334.7 231.1 334.9 232.4 335.3 233.7 335.1 235 335.4 236.3 335.1 237.6 335.3 238.9 334.9 242.7 335 244 335.2 245.3 335.1 246.6 335.3 247.9 335.2 249.2 335.7 250.5 335.7 251.8 336 254.4 335.8 256.9 335.1 258.2 335.3 260.8 334.8 263.4 335.2 269.8 335.1 271.1 334.7 273.7 334.5 275 334.7 277.6 334.4 280.2 335 284 334.6 287.9 333.8 290.5 334.2 291.8 334.9 295.7 335.3 298.2 335 299.5 334.4 306 335.4 309.8 335.5 311.1 335.2 312.4 335.4 313.7 335.2 315 335.3 316.3 335.7 318.9 335.7 320.2 335.9 321.5 335.5 322.7 336.4 325.3 335.4 326.6 335.6 327.9 335.3 329.2 335.7 330.5 334.7 333.1 335 334.4 334.8 338.2 335.7 339.5 335.4 342.1 335.5 346 334.5 348.6 334.8 349.8 334.3 357.6 335.6 358.9 335.4 366.6 336 367.9 335.6 370.5 335.6 371.8 335.2 376.9 335.4 378.2 335.1 383.4 335.4 384.7 335.1 386 335.3 388.6 334.8 389.8 334.2 392.4 335 393.7 334.9 397.6 335.7" fill="none" stroke="#dc143c" stroke-width="1.3" stroke-opacity="0.2"/><path d="M87.9 316.6 90.5 294.9 91.8 291.8 93.1 292.4 94.4 294.8 95.6 298.7 100.8 320.5 103.4 328 104.7 329.9 107.3 332 111.1 331.5 115 332.1 117.6 332.9 121.4 332.2 125.3 330 127.9 329.2 129.2 328.5 130.5 328.4 133.1 327.6 135.6 326.2 136.9 326.4 139.5 326 140.8 325.4 143.4 325.8 144.7 325.4 146 325.3 148.5 326.6 149.8 326.9 151.1 327.5 153.7 329.6 155 330.2 156.3 331.2 158.9 331.8 160.2 331.7 162.7 332.3 164 332.2 166.6 332.6 167.9 333.2 169.2 333.4 170.5 333.3 171.8 332.6 174.4 333.2 176.9 332.3 178.2 332.2 179.5 333.6 180.8 333.2 184.7 333.2 187.3 332.8 189.8 332.8 191.1 333.1 193.7 333.1 198.9 332.1 201.5 332.3 205.3 332.4 206.6 332.6 209.2 332.1 211.8 332.3 213.1 332.6 215.6 332.4 218.2 333.4 220.8 332.9 223.4 333.2 224.7 333.6 226 333.1 227.3 333.4 231.1 332.8 233.7 332.1 236.3 332 238.9 332.6 241.5 332.6 242.7 332.2 245.3 332.4 246.6 332 249.2 332 250.5 331.8 254.4 333 256.9 332.5 258.2 332.8 259.5 332.4 260.8 332.4 262.1 332.1 264.7 332.7 266 332.5 267.3 332 269.8 332 271.1 332.3 272.4 332.1 275 332.9 276.3 332.4 277.6 332.6 278.9 332 280.2 331.8 281.5 331.3 282.7 331.4 284 332 285.3 331.9 290.5 333.1 291.8 332.2 293.1 332.6 295.7 332.6 298.2 331.7 299.5 332.5 300.8 332.1 302.1 332.4 303.4 332.1 306 332.5 307.3 332.2 308.6 332.3 309.8 332 312.4 331.9 313.7 332.2 318.9 332 320.2 332.6 324 332.4 326.6 332.8 327.9 332.3 331.8 332.8 333.1 333.2 334.4 333 335.7 333.4 338.2 333.2 340.8 332.4 342.1 332.4 343.4 332.1 346 332.1 349.8 333.1 351.1 332.8 352.4 333 353.7 333.5 355 333.7 356.3 333.6 357.6 333.2 360.2 333.6 361.5 333.4 362.7 332.8 364 333.2 365.3 333.1 366.6 332.7 369.2 332.5 370.5 332.6 371.8 332.4 374.4 332.6 375.7 332.2 378.2 332.9 383.4 332.5 386 331.7 387.3 331.8 389.8 331.5 392.4 332.1 393.7 332.6 395 332.6 397.6 333.2" fill="none" stroke="#2a9d9d" stroke-width="1.3" stroke-opacity="0.2"/><path d="M87.9 320.3 90.5 302.4 91.8 300.3 93.1 299.9 94.4 300.6 95.6 302.2 96.9 304.7 103.4 323.3 104.7 326.2 106 328.5 109.8 331.3 111.1 330.9 115 331 116.3 331.3 117.6 331.3 118.9 331.7 121.4 332 124 330.8 125.3 329.9 127.9 329.1 129.2 327.6 130.5 327.5 131.8 326.9 133.1 326.6 136.9 324.1 138.2 323.7 139.5 322.9 142.1 321.9 143.4 321.6 144.7 322.6 146 322.6 147.3 323.4 148.5 323.6 151.1 325.2 152.4 325.7 155 327.3 156.3 328.5 160.2 330 161.5 330.2 162.7 330.7 166.6 331.3 167.9 331.2 169.2 331.8 174.4 332.3 175.6 333.1 176.9 332.8 179.5 333 182.1 333.4 183.4 332.8 191.1 331.7 193.7 331.9 196.3 331.6 198.9 332.2 202.7 331.2 205.3 330.9 213.1 332.4 215.6 331.9 218.2 332.1 220.8 331.5 222.1 331.7 223.4 332.3 227.3 332.4 228.6 332.7 231.1 332 233.7 332.6 235 332.6 236.3 332.2 238.9 332.3 240.2 331.6 242.7 331.6 244 331.8 245.3 331.4 247.9 332 249.2 331.7 250.5 331.1 251.8 330.8 253.1 330.9 255.6 330.3 259.5 330.8 262.1 331.6 267.3 332.4 268.6 332.3 269.8 332.5 271.1 332.2 272.4 332.2 273.7 332.5 276.3 332.3 280.2 331.8 284 332.3 285.3 332.2 286.6 332.4 290.5 331.6 294.4 331.9 295.7 332.4 296.9 331.9 302.1 332.2 303.4 331.6 304.7 332.2 307.3 332.1 308.6 331.8 309.8 331.9 311.1 332.7 315 332.7 318.9 332.1 320.2 331.7 321.5 331.7 322.7 331.2 325.3 331.8 327.9 331.3 331.8 331.4 334.4 331 335.7 331.1 338.2 330.8 339.5 330.9 340.8 331.5 346 332.1 347.3 332.5 348.6 332 351.1 331.9 352.4 331.6 353.7 331.8 355 331.6 358.9 332.3 362.7 332.6 365.3 332.4 366.6 332.1 367.9 332.5 373.1 332.3 374.4 332.5 375.7 332.3 376.9 332.6 378.2 332.2 382.1 332.5 383.4 332.9 384.7 332.6 388.6 332.5 393.7 331.4 396.3 331.4 397.6 331.7" fill="none" stroke="#8c8c8c" stroke-width="1.3" stroke-opacity="0.3"/><path d="M87.9 326.6 90.5 310.7 91.8 308.1 93.1 307 94.4 306.8 95.6 308.1 96.9 310.3 100.8 321.5 103.4 327.6 104.7 330.1 107.3 331.8 108.5 332.1 109.8 332.9 111.1 333 113.7 332.8 115 331.9 116.3 331.8 117.6 331 121.4 329.4 122.7 329.1 126.6 326.8 127.9 325.8 131.8 324.4 134.4 324 135.6 324.8 136.9 324.9 138.2 325.7 139.5 326.9 146 330.9 147.3 331.4 148.5 331.6 149.8 332.1 151.1 332.1 153.7 332.9 155 332.7 157.6 333.4 160.2 333.6 161.5 333.5 164 333.9 165.3 333.7 166.6 334.1 167.9 333.8 171.8 333.9 173.1 334.6 174.4 334.6 175.6 335 176.9 335.1 178.2 334.8 179.5 334.9 180.8 334.4 183.4 334.3 184.7 334.5 186 335.2 187.3 334.8 189.8 335.2 192.4 335 193.7 334.6 198.9 335.4 200.2 334.9 202.7 335.8 204 335.1 206.6 335.2 209.2 335.8 210.5 335.1 211.8 335.3 214.4 334.7 215.6 333.9 216.9 333.7 219.5 334.3 220.8 335 222.1 335.2 223.4 335.9 224.7 335.7 227.3 335.7 228.6 335.2 236.3 334 238.9 334.3 240.2 334 241.5 334.8 242.7 335.2 244 334.7 245.3 334.6 246.6 334.8 247.9 335.3 249.2 334.9 250.5 334.9 251.8 335.7 254.4 335.5 255.6 335.6 258.2 334.9 262.1 334.8 263.4 334.5 266 334.6 267.3 334.1 268.6 333.9 271.1 334.1 273.7 334.7 277.6 334.9 280.2 334.5 281.5 334.5 282.7 335 284 334.8 286.6 335.4 287.9 335.2 289.2 335.6 290.5 335.6 291.8 336.2 293.1 335.7 294.4 335.5 295.7 335.6 296.9 335.2 298.2 335.1 299.5 334.5 303.4 334.8 307.3 335.5 312.4 334.8 316.3 335.1 317.6 334.5 318.9 335.1 321.5 334.6 324 334.8 325.3 335.3 326.6 334.7 331.8 334.1 334.4 334.9 336.9 335.1 338.2 334.8 339.5 335.1 342.1 334.5 343.4 334.6 344.7 334.3 346 334.9 347.3 334.5 348.6 334.4 352.4 335.3 353.7 334.8 356.3 334.9 357.6 334.5 360.2 334.6 361.5 335.3 362.7 335.2 364 335.4 366.6 335 367.9 335.2 369.2 334.9 371.8 334.9 374.4 335.4 376.9 334.9 378.2 335.2 383.4 334.8 386 335.1 388.6 334.5 389.8 334 391.1 334 392.4 334.3 393.7 334 395 334.5 397.6 335.1" fill="none" stroke="#dc143c" stroke-width="1.3" stroke-opacity="0.2"/><path d="M87.9 311.5 89.2 298.4 90.5 287.9 91.8 285 93.1 284.8 94.4 286.3 95.6 289.3 96.9 293.5 102.1 314.7 104.7 323 107.3 328.5 108.5 330.2 109.8 331.5 112.4 333.3 113.7 333.7 118.9 334.3 121.4 333.7 126.6 333.8 130.5 334.6 138.2 334.1 140.8 334.3 144.7 332.8 148.5 329.8 151.1 328.4 152.4 327 153.7 326.5 155 326.8 156.3 326.1 157.6 326.6 158.9 326.5 162.7 328.4 164 329.4 166.6 330.8 167.9 331.9 169.2 332.7 170.5 332.5 171.8 333 173.1 332.9 174.4 333.4 175.6 333.5 176.9 333.9 179.5 333.9 180.8 334.5 184.7 334.1 186 334.5 189.8 334.1 193.7 333.2 197.6 333.3 200.2 334 201.5 334 202.7 334.5 204 334.5 205.3 335 206.6 334.6 209.2 334.9 211.8 333.9 213.1 333.2 218.2 333.5 220.8 334.5 223.4 333.7 224.7 334 227.3 333.7 229.8 334 231.1 334.4 232.4 334.1 233.7 334.2 235 334.6 238.9 334.4 240.2 335.1 244 334.3 246.6 334.5 247.9 333.7 251.8 334.1 259.5 333.7 260.8 333.4 267.3 333.6 268.6 334 271.1 334 273.7 333.3 275 333.7 277.6 333.1 281.5 333.4 282.7 332.8 284 333.2 286.6 333.2 287.9 333.5 289.2 333.4 290.5 334.2 291.8 333.8 296.9 334.2 298.2 333.9 299.5 334.4 302.1 334 303.4 333.6 304.7 333.6 307.3 333.2 308.6 333.3 309.8 333.1 312.4 334 315 334.2 316.3 334.5 321.5 334.5 325.3 334.3 326.6 333.9 330.5 334.2 331.8 333.8 334.4 334.2 335.7 333.8 336.9 333.7 339.5 334.1 342.1 334.1 343.4 334.6 344.7 334.7 346 334.4 347.3 334.4 349.8 334.8 351.1 334.3 352.4 334.5 355 334.4 356.3 333.7 358.9 333.8 360.2 333.5 364 334.3 365.3 333.8 367.9 334.4 370.5 334.2 373.1 334.4 375.7 333.8 376.9 334 379.5 333.6 384.7 333.5 386 333.9 387.3 333.7 388.6 333.8 393.7 333.1 396.3 333.4 397.6 334" fill="none" stroke="#2a9d9d" stroke-width="1.3" stroke-opacity="0.2"/><path d="M87.9 322.8 90.5 300.8 91.8 297.1 93.1 296.2 94.4 297.1 95.6 299.4 96.9 303 102.1 321.9 104.7 328.2 107.3 331.9 108.5 333.3 109.8 333.7 112.4 335 115 335.4 117.6 335.2 118.9 335.4 120.2 335.2 124 335.7 126.6 335.2 127.9 335.2 130.5 334.4 131.8 334.2 133.1 334.5 134.4 334.3 136.9 334.4 138.2 334.2 139.5 334.4 140.8 334.2 142.1 334.3 143.4 333.9 144.7 334.5 146 334.6 147.3 334.3 149.8 334.2 151.1 334.5 152.4 334.2 155 335 157.6 335.3 161.5 335.2 162.7 334.7 165.3 334.5 166.6 334.9 169.2 334.6 170.5 334.7 171.8 333.9 173.1 334.1 174.4 333.8 175.6 333.8 178.2 334.3 179.5 335.3 180.8 335.3 182.1 334.7 183.4 334.9 186 334.3 187.3 333.7 188.5 333.5 189.8 334.1 191.1 333.7 192.4 333.7 193.7 334.3 198.9 334.2 200.2 334.4 201.5 334.3 202.7 334.9 204 334.8 206.6 335.6 207.9 335.8 209.2 335.6 210.5 334.9 211.8 335.4 214.4 334.8 218.2 335 222.1 335 224.7 334.2 226 334.6 228.6 334.4 229.8 334.6 231.1 335.2 233.7 335.5 236.3 336.4 240.2 335.7 241.5 335.8 244 335.1 247.9 335.5 255.6 335.8 258.2 335.4 262.1 335.4 263.4 335.2 264.7 335.3 266 335.7 268.6 334.9 269.8 334.8 272.4 335.1 275 334.9 276.3 335.1 278.9 334.5 284 334.9 286.6 335.7 287.9 335.1 291.8 334.6 295.7 335.1 296.9 334.7 299.5 335.2 300.8 334.9 302.1 335 303.4 334.8 304.7 335.5 306 335.5 308.6 335 309.8 334.4 313.7 333.8 315 334.4 318.9 335.3 320.2 334.9 321.5 335.3 322.7 335.1 326.6 335.1 327.9 335.6 330.5 335.6 333.1 335.2 335.7 335.6 339.5 335.2 342.1 335.2 343.4 334.5 344.7 334.2 346 334.7 347.3 334.9 349.8 334.3 352.4 335.3 353.7 334.8 358.9 335.1 360.2 334.8 362.7 335 364 334.8 366.6 334.8 367.9 334.5 370.5 334.5 373.1 335.1 374.4 334.9 375.7 335.4 378.2 335 379.5 335.1 380.8 334.9 382.1 335.4 383.4 335.2 386 335.4 395 334.8 397.6 334.8" fill="none" stroke="#8c8c8c" stroke-width="1.3" stroke-opacity="0.3"/><path d="M87.9 318.6 90.5 303 91.8 301.1 93.1 301.5 94.4 303.1 96.9 309.4 99.5 317.6 102.1 323.8 103.4 325.8 104.7 327.3 106 328.2 107.3 328.6 108.5 328.6 111.1 329.4 115 329.6 116.3 330.2 118.9 330.3 120.2 329.9 121.4 330.3 122.7 330.3 124 329.9 126.6 329.6 127.9 330 129.2 329.1 131.8 329.3 133.1 329 135.6 329 136.9 329.5 139.5 329.3 140.8 329.5 143.4 329.1 144.7 329.1 148.5 328.5 149.8 328.5 151.1 328.8 152.4 328.8 155 329.4 156.3 330.2 157.6 330.3 161.5 329.4 162.7 329.3 165.3 328.3 166.6 328.4 169.2 329.5 171.8 329.7 173.1 330.5 174.4 330.8 178.2 330.2 179.5 330.5 180.8 329.9 183.4 329.1 186 328.8 187.3 328.1 188.5 328.4 191.1 328.2 192.4 328.5 193.7 328.5 195 329.1 196.3 328.2 198.9 328.8 201.5 329 202.7 328.6 204 329.2 209.2 328.8 210.5 328.3 213.1 329 215.6 328.8 216.9 329.3 218.2 330.1 219.5 329.6 220.8 329.8 222.1 330.4 223.4 330.6 231.1 329.6 232.4 329.8 233.7 329.6 236.3 329.9 238.9 329.3 240.2 329.3 241.5 329.8 245.3 329.8 246.6 330.2 251.8 329 254.4 329 256.9 329.5 258.2 329.4 259.5 329.7 263.4 329.7 266 329.4 268.6 329.5 271.1 328.9 272.4 329.1 275 328.6 276.3 328.7 277.6 329.3 280.2 329.5 281.5 329.9 284 330 285.3 329.3 286.6 328.9 291.8 328.8 293.1 329.4 294.4 329.7 298.2 329.7 300.8 328.8 306 328.5 307.3 328.9 308.6 329.6 309.8 329.7 312.4 330.7 316.3 330.1 317.6 330.5 320.2 330.1 321.5 329.7 324 330.1 325.3 329.9 326.6 329.4 327.9 329.3 329.2 329.6 330.5 329.6 331.8 329.2 334.4 329.5 335.7 329.2 338.2 329.6 339.5 329.6 340.8 329.3 343.4 330.3 346 329.7 348.6 330.1 351.1 329.2 352.4 329.4 353.7 329.9 355 329.9 357.6 329.4 358.9 329.9 361.5 329.3 362.7 329.3 364 328.9 365.3 329.1 369.2 329.2 370.5 328.7 371.8 329.2 373.1 329.2 374.4 328.9 375.7 329.1 376.9 329 378.2 329.6 382.1 329.8 383.4 329.6 388.6 329.6 389.8 330 392.4 330 393.7 330.4 397.6 329.9" fill="none" stroke="#dc143c" stroke-width="1.3" stroke-opacity="0.2"/><path d="M87.9 314.2 90.5 289.3 91.8 285.5 93.1 284 94.4 284.5 95.6 286.7 96.9 289.7 98.2 293.9 102.1 310.8 106 323.9 108.5 328.5 109.8 330.1 111.1 331.3 115 333.3 121.4 333.4 122.7 333.9 125.3 334 126.6 333.8 127.9 334.2 129.2 334.1 130.5 333.2 133.1 333 134.4 333.4 136.9 333 138.2 333.5 142.1 333.8 144.7 333.6 146 333.3 151.1 334.1 152.4 334.5 153.7 334.6 156.3 333.8 157.6 334 161.5 333.6 164 333.7 165.3 333.2 166.6 333.4 169.2 333.4 170.5 333.7 173.1 333.1 174.4 333 176.9 333.6 178.2 333.3 179.5 333.9 183.4 333.8 184.7 333.4 186 333.6 187.3 333.1 188.5 333.4 191.1 333.1 192.4 333.5 193.7 333.4 195 333.9 196.3 333.8 197.6 334.1 198.9 334 200.2 333.6 202.7 333.6 204 334 205.3 333.6 206.6 334.2 209.2 334.2 211.8 333.6 213.1 333.8 214.4 333.3 215.6 333.5 216.9 332.9 219.5 332.9 220.8 332.6 223.4 332.6 224.7 333.4 226 333.8 229.8 333.7 232.4 333.9 236.3 333.8 237.6 334.2 240.2 333 244 333.6 246.6 333.4 247.9 333.8 249.2 333.6 251.8 333.6 253.1 333.8 255.6 334.7 256.9 334.7 258.2 334.4 260.8 334.6 262.1 334.4 263.4 333.9 264.7 333.7 266 334.1 267.3 334.1 268.6 333.7 271.1 333.7 272.4 334.1 273.7 334 277.6 333.2 281.5 333 282.7 333.8 284 334 285.3 334.5 287.9 334.7 290.5 334.5 291.8 334.1 293.1 333.3 294.4 333.6 295.7 332.9 298.2 332.4 299.5 332.6 300.8 333.5 302.1 333.2 304.7 333.5 306 333.4 307.3 333.7 308.6 333.4 309.8 333.4 311.1 333.8 313.7 334.2 316.3 333.7 321.5 333.7 326.6 334.4 330.5 333.9 334.4 333.9 335.7 334.2 339.5 333.3 342.1 333.4 343.4 333.1 347.3 334.1 348.6 334.2 349.8 334 351.1 334.3 358.9 333.4 361.5 333.6 364 333.3 366.6 333.4 367.9 333.9 371.8 334.3 373.1 334.2 374.4 334.5 375.7 334 378.2 334.2 379.5 334 380.8 334.4 382.1 333.8 386 333.5 388.6 334 391.1 334.8 393.7 334.5 395 335.1 397.6 334.5" fill="none" stroke="#2a9d9d" stroke-width="1.3" stroke-opacity="0.2"/><path d="M87.9 317.9 90.5 294 91.8 289.7 93.1 288.5 94.4 288.5 95.6 291.3 98.2 300.6 100.8 312.4 103.4 321.1 106 326.4 107.3 327.8 108.5 328.1 109.8 329.1 112.4 329.5 113.7 329.1 115 329.2 118.9 328.6 120.2 327.7 121.4 327.7 122.7 327.3 124 327.2 126.6 325.8 127.9 325.5 130.5 324 133.1 321.5 138.2 317.4 143.4 315.5 144.7 314.8 146 314.8 147.3 314.5 149.8 315.6 155 319 156.3 320.1 157.6 320.9 158.9 322.1 160.2 322.9 161.5 323.2 164 325.2 165.3 325.8 167.9 326.6 169.2 327.7 170.5 327.9 171.8 327.5 174.4 328 175.6 328.5 176.9 328.7 178.2 329.2 180.8 329.4 182.1 329.1 184.7 329.8 186 329.5 189.8 329.8 191.1 329.4 192.4 329.4 195 330 196.3 330.1 197.6 330.6 200.2 329.7 202.7 329.2 204 329.6 205.3 328.7 206.6 328.9 209.2 329.7 211.8 329.5 213.1 329.8 218.2 330.2 219.5 329.8 222.1 330 223.4 329.8 224.7 329.2 227.3 329.2 229.8 329.6 233.7 329.2 235 329.7 236.3 329.5 237.6 329.8 238.9 329.7 241.5 330 242.7 329.6 244 329.9 245.3 329.9 247.9 330.3 249.2 330.7 250.5 330.8 253.1 329.6 255.6 329.3 256.9 329.5 258.2 330 260.8 330 262.1 330.3 263.4 330.3 266 329 267.3 329.1 269.8 329.7 272.4 329.9 273.7 330.6 275 330.7 277.6 329.5 280.2 329.4 281.5 328.7 282.7 328.6 285.3 329.7 287.9 329.9 290.5 330.3 291.8 330.1 293.1 329.6 294.4 329.5 295.7 330 296.9 329.9 299.5 330.1 300.8 330.6 303.4 330 304.7 330.3 307.3 330.1 308.6 329.5 311.1 329.3 312.4 328.8 313.7 328.6 317.6 328.6 318.9 329.1 321.5 329.3 322.7 329 325.3 329.7 326.6 329.2 329.2 329.6 331.8 329.8 335.7 329 338.2 329.5 339.5 329.2 340.8 329.3 342.1 329.8 343.4 329.9 344.7 329.4 346 329.5 348.6 330.2 351.1 329.9 352.4 330.2 353.7 329.9 355 329.9 357.6 330.3 360.2 329.9 362.7 330.3 364 329.9 365.3 330.2 367.9 330.1 370.5 329.1 371.8 329.1 373.1 328.5 374.4 328.9 375.7 328.7 380.8 329.5 382.1 329.4 384.7 329.8 391.1 328.8 392.4 329.2 395 329.4 397.6 329.4" fill="none" stroke="#8c8c8c" stroke-width="1.3" stroke-opacity="0.3"/><path d="M87.9 321.7 90.5 295.5 91.8 290.4 93.1 288.3 94.4 287.8 95.6 289.5 96.9 292.6 102.1 315.6 104.7 324.5 106 327.5 107.3 329.8 108.5 330.9 109.8 331 111.1 331.6 113.7 332 116.3 332.6 117.6 333.3 118.9 333.6 122.7 333.2 124 333.5 126.6 333.3 127.9 334 129.2 334.3 133.1 333.6 134.4 333.9 136.9 332.5 138.2 332.5 139.5 332.1 140.8 332.2 142.1 331.8 143.4 332 144.7 332.8 147.3 333.3 149.8 333.5 151.1 333.9 152.4 333.4 156.3 333.5 158.9 332.8 162.7 332.8 164 332.6 167.9 333 169.2 332.7 174.4 333 175.6 333.3 183.4 332.8 189.8 333 191.1 332.6 192.4 332.8 196.3 332.8 197.6 332.4 198.9 332.9 200.2 333 201.5 333.4 202.7 333.2 205.3 334 207.9 334.2 209.2 333.5 210.5 333.6 211.8 333 213.1 332.7 214.4 332.1 215.6 331.8 216.9 332.4 218.2 331.9 220.8 333.1 222.1 333.3 224.7 332.7 226 333.2 227.3 333.2 228.6 332.7 229.8 332.6 231.1 332.9 233.7 332.7 235 332.2 237.6 332.5 238.9 332.2 241.5 332.1 242.7 332.3 247.9 332.5 249.2 332.9 251.8 332.2 254.4 332.4 255.6 332.8 256.9 332.5 259.5 333.1 260.8 332.9 262.1 333.1 263.4 332.8 264.7 333.4 268.6 333.7 269.8 333.5 271.1 333.8 273.7 333.3 276.3 333.9 280.2 333.2 281.5 332.7 282.7 332.8 284 332.3 287.9 332.5 289.2 333.1 291.8 332.6 299.5 333.7 300.8 333.2 303.4 333.2 304.7 332.6 306 332.3 308.6 333.1 311.1 333.3 312.4 334 313.7 334 315 333.4 317.6 333.5 318.9 332.9 320.2 332.6 322.7 332.8 324 333.2 326.6 332.8 329.2 332.9 331.8 332.6 334.4 333.1 336.9 332.9 338.2 333.4 340.8 332.9 342.1 333.1 343.4 332.9 344.7 333 346 332.7 348.6 332.7 349.8 332.4 351.1 332.9 353.7 332.8 356.3 333.5 357.6 333.1 360.2 333.5 362.7 333 365.3 333.4 367.9 332.8 369.2 333.1 371.8 333 374.4 333.4 376.9 332.7 379.5 332.3 380.8 331.9 382.1 331.8 386 332.7 387.3 332.5 388.6 332.8 389.8 333.4 393.7 332.8 396.3 332.9 397.6 332.4" fill="none" stroke="#dc143c" stroke-width="1.3" stroke-opacity="0.2"/><path d="M87.9 311 89.2 296.8 90.5 285.3 91.8 282.3 93.1 282.3 94.4 284.8 95.6 289.4 100.8 314.7 102.1 319.5 103.4 323.3 104.7 326 106 328 107.3 329 111.1 329.9 112.4 329.3 115 328.9 117.6 329.3 118.9 329.2 120.2 329.5 124 329.4 125.3 329.2 127.9 329.8 131.8 330 133.1 330.3 136.9 329.7 138.2 329 139.5 328.8 142.1 326.9 143.4 326.4 149.8 323.1 152.4 320.8 153.7 320.2 155 319.1 156.3 319.1 157.6 318.7 158.9 318.7 160.2 319.1 161.5 318.9 162.7 319.6 164 320 166.6 321.9 167.9 322.5 169.2 324.1 170.5 325.1 174.4 327.3 175.6 328.2 176.9 328.6 178.2 328.6 179.5 329 180.8 328.8 182.1 329.1 183.4 328.8 186 329 188.5 329.5 189.8 329 192.4 329.8 193.7 329.4 196.3 329.4 201.5 329.7 202.7 329.4 207.9 329.6 209.2 330.2 213.1 330.5 216.9 329.6 218.2 329.7 219.5 329.3 220.8 329.7 222.1 329.5 223.4 329.6 224.7 329.3 227.3 329.5 228.6 329.3 229.8 329.6 233.7 328.9 236.3 329.3 237.6 329.3 242.7 330.2 245.3 330.1 249.2 329.3 253.1 329 254.4 329.2 255.6 329.8 258.2 330 259.5 329.9 260.8 330.2 264.7 330 267.3 330.1 268.6 329.9 269.8 330.2 271.1 329.8 272.4 330.3 277.6 329.3 278.9 329.4 280.2 328.9 281.5 329 286.6 330.9 289.2 330.5 290.5 330 293.1 329.9 294.4 329.4 295.7 329.4 298.2 330.2 299.5 330.1 300.8 329.4 302.1 329.4 303.4 329.9 306 329.9 308.6 330.5 312.4 330.3 313.7 329.7 315 329.6 316.3 330.1 320.2 329.8 321.5 330.3 322.7 329.7 325.3 329.4 326.6 330 329.2 330 330.5 330.3 331.8 330.1 333.1 330.4 334.4 329.9 336.9 329.8 339.5 330.4 343.4 330.7 348.6 330.9 349.8 331.1 352.4 331 353.7 330.7 355 330.1 358.9 329.2 361.5 329.2 365.3 329.8 367.9 329.7 369.2 330.3 370.5 330.5 371.8 330.2 375.7 330.4 378.2 329.3 379.5 329.5 380.8 328.9 383.4 328.9 384.7 328.7 386 329.3 387.3 329.3 389.8 329.9 392.4 329.9 393.7 329.6 395 329.6 396.3 330.2 397.6 329.9" fill="none" stroke="#2a9d9d" stroke-width="1.3" stroke-opacity="0.2"/><path d="M87.9 317.7 90.5 299.3 91.8 296.4 93.1 295 94.4 295.4 95.6 297 96.9 299.9 99.5 308.1 100.8 312.9 103.4 320.5 106 325.3 108.5 328 109.8 329.1 112.4 330.1 116.3 330.6 120.2 330.2 121.4 329.8 122.7 329.9 126.6 328.2 127.9 327.9 129.2 328 133.1 327 134.4 326.9 135.6 326.3 136.9 325.2 138.2 324.6 142.1 321.7 143.4 320.4 144.7 319.8 146 318.7 149.8 316.9 155 318.2 156.3 319.4 160.2 321.8 162.7 324.1 164 324.6 165.3 326.1 166.6 326.6 169.2 328.1 170.5 328.6 171.8 329.5 173.1 329.3 176.9 330.2 178.2 330.8 179.5 330.9 180.8 330.7 182.1 331.3 187.3 330.2 188.5 330.6 189.8 330.3 197.6 330.7 200.2 331.1 202.7 331.1 205.3 331.7 206.6 331.4 209.2 331.6 219.5 330.3 220.8 330.5 222.1 331 224.7 331.3 227.3 331.9 229.8 331.1 232.4 331.2 233.7 330.8 237.6 331.6 238.9 331.7 240.2 331.4 241.5 331.7 242.7 331.3 245.3 331.2 246.6 330.7 250.5 331 253.1 330.2 255.6 331 262.1 331.3 263.4 331.2 264.7 330.7 266 330.6 267.3 330.9 269.8 330.5 273.7 330.7 275 330.5 276.3 331.1 277.6 331.3 280.2 331.2 281.5 331.5 285.3 331.2 286.6 330.8 287.9 330.8 289.2 330.3 291.8 330 294.4 330.8 298.2 331 302.1 330.3 303.4 330.3 306 331.1 309.8 331 313.7 330.5 315 330.8 316.3 330.6 317.6 331.2 318.9 331 320.2 331.3 321.5 331.3 322.7 331 324 331.4 326.6 331.5 329.2 330.8 330.5 331.3 333.1 330.8 336.9 331.4 338.2 330.8 340.8 331 342.1 330.8 343.4 330.9 344.7 330.5 346 330.8 347.3 330.5 348.6 330.8 351.1 330.8 352.4 331.2 353.7 331.2 355 331.5 356.3 331.3 357.6 331.8 358.9 332 366.6 331.4 367.9 330.9 374.4 330.4 376.9 330.7 382.1 330.1 384.7 330.5 386 331 391.1 331.4 392.4 331.1 393.7 330.5 395 330.4 397.6 329.8" fill="none" stroke="#8c8c8c" stroke-width="1.3" stroke-opacity="0.3"/><path d="M87.9 320.6 90.5 302.1 91.8 299.3 93.1 297.7 94.4 297.6 95.6 298.7 98.2 304.3 103.4 318.9 106 324.4 108.5 327.6 109.8 328.7 111.1 329.5 112.4 329.8 115 331.4 116.3 331.8 118.9 331.8 120.2 332 122.7 331.7 124 331.9 125.3 331.7 126.6 331.8 129.2 331.4 130.5 331 131.8 330.1 133.1 329.8 138.2 326.9 140.8 325.8 142.1 324.6 144.7 323.5 146 323.3 148.5 322.2 149.8 322.3 151.1 321.8 152.4 321.7 153.7 320.8 155 320.4 157.6 320.6 158.9 320.9 160.2 320.9 161.5 321.8 164 322.9 167.9 325.5 170.5 326.5 173.1 327.9 175.6 328.8 176.9 329.7 183.4 332.4 186 332.6 188.5 332.2 189.8 332.2 192.4 331.8 193.7 331.4 198.9 330.9 200.2 330.6 201.5 331.2 202.7 331.4 204 330.9 205.3 331.3 209.2 331.4 211.8 332.3 213.1 331.9 214.4 332 215.6 332.5 216.9 332 220.8 331.7 222.1 331.9 223.4 331.7 224.7 332.4 226 332.2 228.6 332.7 232.4 331.9 235 332.8 237.6 332.4 238.9 332.9 240.2 332.3 241.5 332.2 242.7 331.8 245.3 332.1 246.6 331.9 247.9 332.1 250.5 331.7 251.8 331.3 254.4 331.2 255.6 331.5 256.9 331.5 258.2 331.8 259.5 331.6 260.8 331.8 262.1 332.3 266 332 267.3 332.3 268.6 332.3 269.8 331.7 271.1 331.5 272.4 331.7 276.3 331.1 278.9 331.6 281.5 331.2 284 331.7 285.3 331.3 287.9 331.7 293.1 332 295.7 331.7 296.9 331.3 298.2 331.3 299.5 331 303.4 331.9 306 331.9 309.8 331 311.1 330.5 320.2 331.3 321.5 331.7 322.7 331.8 324 332.2 325.3 332 326.6 332.2 327.9 332.1 329.2 331.7 330.5 332 331.8 331.5 333.1 331.7 334.4 331.5 339.5 331.9 340.8 331.7 343.4 332.2 346 331.8 349.8 332.3 351.1 331.9 352.4 332 353.7 331.7 356.3 332 357.6 331.6 360.2 331.4 361.5 331.6 364 331.2 365.3 331.8 367.9 331.7 370.5 332.5 371.8 332.7 375.7 332.4 376.9 332.1 378.2 332.1 379.5 331.7 380.8 331.7 382.1 332.2 386 331.5 387.3 331.7 388.6 331.5 389.8 330.9 391.1 331.3 393.7 331.3 395 331.8 396.3 331.8 397.6 332.6" fill="none" stroke="#dc143c" stroke-width="1.3" stroke-opacity="0.2"/><path d="M87.9 313.3 90.5 267.5 91.8 258.3 93.1 254.7 94.4 255.3 95.6 260 98.2 278.6 100.8 300.2 102.1 309.5 103.4 316.6 104.7 321.2 106 324.7 107.3 326.8 108.5 327.6 109.8 327.9 112.4 327.9 115 326.5 116.3 326.5 118.9 324.8 121.4 324.3 122.7 323.8 124 322.7 125.3 322.7 126.6 322.1 127.9 321.2 130.5 320 131.8 320.3 133.1 319.5 135.6 319.9 138.2 320.9 139.5 320.9 140.8 322.1 142.1 322.7 144.7 323.5 146 324.3 147.3 324.8 148.5 324.8 149.8 325.3 151.1 326.1 153.7 326.7 156.3 328.3 157.6 328.8 158.9 328.8 161.5 329.9 162.7 329.5 165.3 329.9 166.6 330.4 170.5 329.2 173.1 329.6 174.4 329.3 175.6 330 176.9 330.1 178.2 330.9 179.5 330.1 180.8 329.9 182.1 330.3 184.7 329.7 186 329.2 187.3 329 188.5 329.1 191.1 328.6 193.7 329 195 329.4 197.6 329.3 200.2 329.6 206.6 329.2 213.1 330.4 214.4 330.1 216.9 330.3 218.2 329.9 219.5 330 220.8 329.5 222.1 330.1 223.4 330.1 226 329.1 227.3 328.8 228.6 329 231.1 328.4 233.7 329.3 235 329.2 236.3 329.6 237.6 329.3 238.9 329.7 240.2 329.2 242.7 330 244 329.8 245.3 329.9 246.6 329.3 247.9 329.8 249.2 329.1 251.8 329.3 253.1 328.7 255.6 328.6 256.9 328.9 258.2 328.4 259.5 328.4 260.8 329 266 329.5 271.1 330.3 275 330.1 276.3 329.8 278.9 329.8 280.2 329.6 281.5 329.7 285.3 329.5 286.6 329.2 287.9 329.8 289.2 329.8 294.4 330.6 295.7 330.1 298.2 330.3 299.5 330.1 302.1 329.3 304.7 329.1 306 328.6 307.3 328.5 308.6 329.2 309.8 329.3 311.1 329.8 312.4 329.4 315 329.9 316.3 329.4 317.6 329.4 318.9 329 324 329.6 326.6 329.4 327.9 329.7 331.8 328.8 334.4 329.4 335.7 329.1 344.7 330.3 346 330.3 348.6 329.5 351.1 329.1 352.4 329.5 355 329.5 357.6 330.3 358.9 330.5 360.2 330.1 365.3 330 367.9 329.4 371.8 329.3 373.1 329.1 376.9 330.4 380.8 330.4 384.7 329.5 391.1 329.3 392.4 328.7 393.7 328.5 397.6 328.6" fill="none" stroke="#2a9d9d" stroke-width="1.3" stroke-opacity="0.2"/><path d="M87.9 321.4 90.5 309.5 91.8 307.2 93.1 306.4 94.4 306.7 96.9 309.3 98.2 311.3 104.7 323.5 108.5 328.1 109.8 328.8 116.3 330.6 117.6 330.8 118.9 330.6 120.2 330.9 122.7 330.9 124 330.6 125.3 331 126.6 331.8 130.5 331.8 133.1 331.2 134.4 330.5 135.6 330.4 136.9 330.7 139.5 330.7 140.8 330.2 142.1 330.7 143.4 330.9 144.7 330.7 146 331.3 148.5 331.9 151.1 331.1 152.4 330.9 153.7 330.2 155 329.9 157.6 329.9 158.9 330.1 160.2 330.6 161.5 330.5 164 331 165.3 330.9 166.6 331.2 170.5 331.4 171.8 330.8 173.1 331.2 175.6 330.2 178.2 330 183.4 330.3 186 331.1 187.3 331.3 188.5 331.1 189.8 331.5 192.4 330.9 193.7 330.4 196.3 330.5 197.6 330.2 198.9 330.4 200.2 330.2 205.3 330.2 206.6 329.9 207.9 330.2 209.2 329.6 210.5 329.7 211.8 329.5 213.1 329.6 214.4 330.1 215.6 329.9 216.9 330.4 219.5 330.3 220.8 330.6 222.1 330.4 223.4 330.5 224.7 330.9 228.6 330.1 229.8 330.1 232.4 329.4 235 329.9 236.3 329.7 238.9 330.6 244 331.4 250.5 331 253.1 331.3 258.2 331.1 260.8 330.4 266 330.6 267.3 330.9 271.1 330.7 275 329.8 278.9 329.7 281.5 330 284 330.8 287.9 331.2 289.2 331.6 290.5 331.3 291.8 330.6 293.1 330.7 294.4 330.3 296.9 330.2 298.2 330.4 299.5 331.1 300.8 331.1 302.1 331.4 306 331.2 307.3 330.8 309.8 331.4 312.4 331.6 313.7 331.5 316.3 330.3 317.6 330.1 318.9 330.3 320.2 329.7 322.7 330.5 325.3 330.9 331.8 331 333.1 330.6 335.7 330.6 336.9 330.4 338.2 329.9 340.8 330.4 343.4 330.2 344.7 330.3 346 331 348.6 331.1 351.1 330.9 352.4 331.1 353.7 330.4 355 330.6 360.2 330.5 361.5 330.9 362.7 330.4 364 330.2 366.6 330.8 370.5 331.1 371.8 331.6 374.4 330.4 378.2 329.9 379.5 329.5 382.1 330.5 384.7 330.8 386 331.2 387.3 331.1 388.6 331.4 389.8 331.2 391.1 331.6 395 331.6 397.6 330.9" fill="none" stroke="#8c8c8c" stroke-width="1.3" stroke-opacity="0.3"/><path d="M87.9 321.5 90.5 309.9 91.8 308.1 93.1 308.3 94.4 308.8 96.9 313 102.1 323.9 104.7 327.6 106 328.7 107.3 329.4 109.8 329.8 111.1 329.8 113.7 329.2 116.3 329.3 117.6 329.9 118.9 330.1 124 330.1 126.6 329.7 127.9 329.7 131.8 330.4 133.1 330 135.6 330.4 138.2 329.6 140.8 329.7 144.7 329.1 146 329.1 147.3 328.6 151.1 328.6 152.4 328.4 155 329 156.3 329.1 157.6 329.6 158.9 329.6 160.2 330.2 161.5 329.8 164 330 165.3 330.4 169.2 330.8 170.5 331.1 174.4 329.6 176.9 329.9 178.2 329.5 179.5 329.9 182.1 329.9 183.4 329.5 184.7 329.5 186 329.8 188.5 329.4 191.1 329.4 195 328.5 200.2 328.9 204 329.8 205.3 329.9 209.2 329.3 210.5 329.6 213.1 329.6 215.6 329.2 216.9 329.3 218.2 328.8 219.5 328.6 220.8 328.7 222.1 329.4 224.7 329.4 227.3 330.2 228.6 330.3 231.1 330 237.6 328.7 241.5 329.4 242.7 329.4 244 329 245.3 329.4 246.6 329.2 249.2 329.5 250.5 329.3 251.8 330 254.4 330 256.9 329.7 262.1 330.3 263.4 330.9 266 330.7 267.3 330.3 269.8 329.9 271.1 329.1 272.4 329.6 275 329.4 278.9 330.1 280.2 329.5 281.5 329.2 282.7 329.7 284 329 285.3 328.8 286.6 329 287.9 328.8 289.2 329.2 290.5 328.3 291.8 328.8 293.1 329 294.4 328.5 295.7 329.2 296.9 329.2 298.2 329.7 299.5 329.5 300.8 329 303.4 329.5 304.7 329.3 308.6 329.4 309.8 329.7 312.4 329.9 318.9 329.5 321.5 328.9 322.7 329.5 324 329.2 326.6 329.2 327.9 329 329.2 329.6 330.5 329.9 331.8 330.5 334.4 330.3 335.7 330.6 336.9 330.3 338.2 329.5 339.5 329.1 342.1 329.1 344.7 329.4 346 329 347.3 329.3 348.6 329.2 349.8 329.5 352.4 329.3 353.7 329.8 355 329.7 356.3 330 358.9 329.6 360.2 329.7 362.7 329.3 367.9 328.9 370.5 329.7 371.8 329.2 374.4 329.8 378.2 329.6 379.5 330 380.8 329.6 384.7 329.2 387.3 328.7 389.8 328.9 392.4 329.5 393.7 329.5 396.3 329.9 397.6 329.8" fill="none" stroke="#dc143c" stroke-width="1.3" stroke-opacity="0.2"/><path d="M87.9 313.6 90.5 285.2 91.8 280.9 93.1 279.6 94.4 280.6 95.6 283.9 96.9 288.5 102.1 313.9 104.7 323.9 106 327.2 108.5 331.9 109.8 333.1 111.1 333.6 112.4 333.4 115 334 116.3 333.3 117.6 333.7 118.9 333.7 120.2 334.1 122.7 333.4 125.3 333.2 129.2 332.2 131.8 331 133.1 330.6 136.9 328.8 139.5 328.3 140.8 327.7 142.1 327.7 143.4 327.2 146 327.3 147.3 327.6 149.8 328.6 151.1 329.5 153.7 329.9 155 330.5 156.3 330.8 157.6 331.6 158.9 332.1 160.2 333.1 164 334.1 167.9 333.3 169.2 333.8 171.8 333.3 173.1 333.4 174.4 334 180.8 334.3 184.7 333.3 186 333.7 187.3 333.8 188.5 333.4 191.1 333.8 192.4 334.2 193.7 333.6 195 333.4 196.3 333.7 198.9 333.5 200.2 333.8 201.5 333.7 204 333.9 205.3 333.7 209.2 334 211.8 333.9 213.1 334.1 214.4 333.4 215.6 333.4 216.9 333.8 219.5 333.4 220.8 333.5 223.4 334.3 226 334.5 227.3 334.8 229.8 334.6 232.4 333.6 235 333.4 238.9 333.8 240.2 334.3 244 334.2 245.3 334.6 246.6 334.3 247.9 333.7 251.8 333.7 253.1 333.2 254.4 333 256.9 333.5 258.2 333.3 259.5 333.5 260.8 333.3 262.1 333.8 264.7 333.7 266 334.3 267.3 334 268.6 334.4 271.1 334.3 272.4 334.5 273.7 334.2 275 334.5 277.6 334.3 278.9 334.6 282.7 333.4 285.3 334.2 286.6 334.2 287.9 334.5 290.5 334.5 293.1 334 294.4 334 295.7 333.6 298.2 334.2 299.5 333.8 306 334 308.6 333.8 309.8 333.4 312.4 334.2 313.7 333.9 317.6 334.7 320.2 334.1 322.7 334.2 324 333.8 325.3 334 329.2 333.4 330.5 333 331.8 333.4 334.4 333.4 338.2 334.6 339.5 333.9 342.1 334.2 344.7 333.8 346 333.8 347.3 334.3 349.8 333.9 352.4 334.1 353.7 333.9 356.3 334.3 360.2 333.7 361.5 334 362.7 333.6 371.8 333.7 373.1 334 374.4 333.9 375.7 334.4 376.9 334.1 378.2 334.3 380.8 333.9 382.1 334 383.4 333.8 386 334.2 388.6 334.3 391.1 333.6 392.4 333.6 395 333.2 396.3 333.3 397.6 334.1" fill="none" stroke="#2a9d9d" stroke-width="1.3" stroke-opacity="0.2"/><path d="M87.9 302 90.5 256.2 91.8 248.7 93.1 246.9 94.4 248.3 95.6 253.3 98.2 271.3 102.1 301.6 103.4 309.6 104.7 315.8 106 320.4 108.5 326.3 111.1 328.7 113.7 329.9 115 330.3 116.3 329.9 117.6 330.1 120.2 329.4 121.4 329.3 122.7 328.8 124 329.5 125.3 329.4 130.5 327.5 131.8 326.5 133.1 326 135.6 325.4 136.9 324.6 138.2 324.2 140.8 322.6 142.1 322.5 143.4 322 146 322.5 147.3 322.4 151.1 323.8 152.4 324.1 153.7 324.8 155 326.2 156.3 326.9 160.2 328.1 162.7 328.1 164 329.1 167.9 330.4 170.5 331 171.8 330.5 173.1 330.4 174.4 330.7 175.6 330.2 176.9 330.6 178.2 330.1 179.5 330.1 183.4 329.2 186 329.4 187.3 329.2 189.8 329.8 191.1 330.6 192.4 330.3 197.6 330.3 198.9 330 200.2 330.6 204 330.5 206.6 330.7 207.9 330.3 211.8 330.5 215.6 329.7 218.2 329.7 222.1 330.9 223.4 331.1 227.3 330.8 229.8 330.1 232.4 330.7 233.7 330.3 235 330.3 238.9 329.6 240.2 329.1 244 330 245.3 330 247.9 330.6 251.8 330 253.1 330.1 254.4 329.7 255.6 329.6 256.9 329.8 258.2 330.3 260.8 330.5 263.4 330.5 264.7 330.9 266 330.3 269.8 330.4 271.1 330.2 272.4 329.2 276.3 328.6 277.6 328.7 280.2 329.7 282.7 329.5 284 329.6 287.9 328.8 290.5 329.4 295.7 329.7 296.9 329.2 299.5 329 303.4 329.3 306 329.3 307.3 329.6 309.8 329 311.1 329.1 312.4 329.6 315 329.3 316.3 329.9 317.6 330.1 321.5 329.8 322.7 330.1 324 329.6 326.6 330.3 327.9 330.4 329.2 330.9 330.5 330.1 331.8 330.3 334.4 329.1 336.9 328.6 338.2 329.2 344.7 330.2 346 330.1 347.3 329.6 351.1 329.7 353.7 329.1 355 329.6 357.6 329.8 360.2 329.6 361.5 329.8 364 328.9 365.3 329.3 369.2 329 370.5 329.1 371.8 329.6 373.1 329.3 374.4 329.5 375.7 329.4 376.9 329.6 378.2 330.4 379.5 330.8 380.8 330.8 382.1 330.3 383.4 330.5 384.7 330.3 387.3 329.1 388.6 329.3 389.8 330 393.7 330.3 397.6 330" fill="none" stroke="#8c8c8c" stroke-width="1.3" stroke-opacity="0.3"/><path d="M87.9 324.3 90.5 310.4 91.8 307.4 93.1 306.6 94.4 307.2 96.9 311.2 98.2 314 99.5 317.7 102.1 323.2 104.7 327.6 106 329 108.5 331 109.8 331.6 113.7 331.5 115 331.8 116.3 331.2 118.9 331.2 120.2 330.9 121.4 331.1 122.7 330.6 124 331 127.9 329.5 134.4 324.9 135.6 323.5 136.9 322.9 139.5 320.9 142.1 319.5 143.4 319.4 144.7 319 147.3 319.8 149.8 321.8 151.1 322.6 153.7 324.8 156.3 326.2 157.6 327.3 161.5 329.2 162.7 330.3 164 330.7 165.3 330.8 166.6 331.4 167.9 331.2 169.2 331.4 173.1 331.1 174.4 330.8 176.9 331.2 178.2 330.9 179.5 331.3 180.8 331.2 182.1 331.6 183.4 331.7 188.5 331.5 191.1 330.8 193.7 331.4 196.3 331.2 197.6 331.8 198.9 331.9 200.2 331.6 201.5 332 202.7 331.6 206.6 331.9 209.2 331.6 210.5 332.2 211.8 332.5 214.4 332.1 224.7 332.2 226 331.4 228.6 330.8 231.1 331.6 232.4 331.2 233.7 331.7 236.3 332.1 237.6 331.7 242.7 331.8 245.3 331.4 246.6 331.4 247.9 331 249.2 331.4 250.5 331.2 251.8 331.4 253.1 330.9 254.4 330.7 255.6 331.4 256.9 330.9 258.2 331.3 259.5 330.9 260.8 331.4 266 331.1 267.3 331.5 272.4 331.6 273.7 331.2 275 331.2 276.3 330.9 280.2 331.3 281.5 331.6 286.6 331.9 287.9 331.7 290.5 331.9 294.4 330.6 295.7 330.5 296.9 330.1 299.5 330.1 308.6 331.3 309.8 331.3 311.1 331.6 315 331.3 320.2 331.7 322.7 331.6 324 331.3 325.3 331.5 326.6 331.3 327.9 331.6 329.2 331.4 331.8 331.8 334.4 331.5 335.7 331.6 338.2 331.2 339.5 331.2 342.1 330.2 347.3 330.2 348.6 330.9 349.8 331.1 352.4 330.8 355 331 356.3 330.6 357.6 330.8 360.2 330.4 362.7 330.5 364 330.8 366.6 331 367.9 331.4 371.8 330.8 374.4 330.8 375.7 330.6 380.8 331.8 382.1 331.9 383.4 331.6 386 331.6 388.6 330.8 389.8 330.8 392.4 331.5 393.7 331.1 397.6 332.2" fill="none" stroke="#dc143c" stroke-width="1.3" stroke-opacity="0.2"/><path d="M87.9 310.5 89.2 292.5 90.5 278.2 91.8 273.7 93.1 273.6 94.4 276.7 95.6 282.6 100.8 314.1 102.1 319.9 103.4 324.2 104.7 327.5 106 330 107.3 331.8 108.5 332 111.1 333.3 113.7 332.7 115 331.8 116.3 332 120.2 331.5 122.7 331.7 125.3 331.3 127.9 330.7 129.2 330.1 130.5 329.9 134.4 327.8 138.2 325.1 140.8 324.1 143.4 324.7 146 325.1 147.3 325.1 148.5 325.9 149.8 325.9 151.1 326.3 152.4 327.3 157.6 330.3 160.2 330.9 162.7 332 164 332 166.6 332.8 167.9 332.6 169.2 332.7 170.5 332.4 173.1 333 174.4 332.8 175.6 333.1 176.9 333.1 178.2 333.6 179.5 333.2 182.1 333.3 183.4 333 184.7 333 186 332.6 187.3 333.2 188.5 333 193.7 333.4 195 332.9 197.6 332.7 198.9 333.1 201.5 332.7 205.3 332.9 206.6 332.7 210.5 333.1 213.1 332.6 214.4 332.7 218.2 331.8 219.5 331.7 220.8 332 222.1 331.7 224.7 332.3 227.3 332.2 228.6 332.6 232.4 332.5 235 332.8 236.3 332.6 237.6 332.7 240.2 332 241.5 331.9 242.7 332.2 244 332.1 246.6 333.1 247.9 333.4 253.1 333.4 256.9 333.8 262.1 332 263.4 331.9 267.3 333 268.6 332.7 271.1 333.3 275 333.4 276.3 333.9 277.6 333.7 280.2 332.8 281.5 333 282.7 332.7 285.3 332.9 287.9 332.6 289.2 332.1 290.5 332.4 291.8 332 293.1 331.9 300.8 333 302.1 333.5 304.7 333.7 306 333.2 307.3 333.3 308.6 332.8 309.8 332.8 311.1 332.3 313.7 332.9 316.3 332.7 318.9 333.2 321.5 333.1 324 334.1 325.3 333.6 326.6 333.5 327.9 333.1 330.5 332.9 331.8 332.3 333.1 332.4 334.4 332.9 336.9 333.2 338.2 332.9 340.8 332.9 343.4 332.5 344.7 332.5 347.3 332.9 348.6 333.3 349.8 333 352.4 333.3 353.7 333 355 333 356.3 332.6 357.6 333 360.2 332.6 361.5 333.1 364 333.1 365.3 332.7 367.9 332.8 369.2 332.5 371.8 332.5 374.4 333.3 375.7 332.8 376.9 332.9 378.2 333.4 382.1 333.1 386 333.4 387.3 333.7 388.6 333.6 391.1 334 393.7 333.1 396.3 333.1 397.6 332.7" fill="none" stroke="#2a9d9d" stroke-width="1.3" stroke-opacity="0.2"/><path d="M87.9 298.7 90.5 230.2 91.8 217.7 93.1 213.3 94.4 214.6 95.6 222 96.9 233.8 102.1 294.3 103.4 305.6 104.7 314.4 106 321.4 107.3 326.1 108.5 329.5 109.8 331 111.1 332.1 112.4 332.9 113.7 332.8 115 333.1 116.3 332.8 117.6 333.3 120.2 333.3 121.4 332.8 125.3 332.3 126.6 332.7 127.9 332.8 129.2 333.2 133.1 333.4 134.4 333 138.2 333.5 139.5 334.1 140.8 334 142.1 334.4 147.3 333.2 148.5 332.7 151.1 332.7 155 333.2 156.3 333.7 157.6 333.8 158.9 333.1 160.2 332.9 162.7 333.3 165.3 333.3 166.6 334 170.5 334.5 173.1 334.7 174.4 335.3 175.6 335.6 176.9 335.2 180.8 334.9 182.1 334.2 184.7 334.1 186 333.8 189.8 334.1 193.7 334 195 333.5 197.6 333.3 198.9 332.9 201.5 332.9 202.7 333.4 204 333.4 205.3 333.9 209.2 333.8 211.8 333.4 214.4 334.1 216.9 333.7 218.2 333.3 219.5 333.5 220.8 333 222.1 333.4 223.4 333.3 224.7 334 227.3 334.4 229.8 334 232.4 334 235 334.4 237.6 334 241.5 334.4 242.7 334 244 334.1 245.3 334.7 247.9 334.7 249.2 334.2 250.5 334 251.8 334.1 253.1 333.9 254.4 333.2 255.6 332.9 259.5 334 260.8 333.8 263.4 334.8 264.7 334.6 266 334.7 267.3 334.1 268.6 334.2 269.8 334 272.4 334.3 273.7 333.9 276.3 334 277.6 334.4 280.2 333.9 282.7 334.2 284 334 287.9 334.3 289.2 334 293.1 333.7 294.4 333.3 298.2 333 303.4 332.9 306 333.7 308.6 333.5 311.1 334.2 313.7 333.9 316.3 334.1 317.6 333.9 318.9 334.4 322.7 335.1 324 334.9 325.3 335 326.6 334.4 330.5 334.1 331.8 334.3 334.4 334.1 335.7 333.8 339.5 334.1 340.8 334 343.4 334.3 344.7 333.7 346 333.8 347.3 333.2 348.6 333.7 349.8 333.8 351.1 333.3 352.4 333.3 353.7 333 355 333.2 356.3 333 357.6 332.5 360.2 332.9 361.5 333.3 362.7 333.3 364 332.9 366.6 333.8 367.9 333.9 370.5 333.5 371.8 333.9 374.4 333.2 376.9 333.1 378.2 333.6 382.1 334 383.4 333.8 384.7 334.3 386 334.4 389.8 333.4 392.4 333.4 393.7 333 397.6 334.5" fill="none" stroke="#8c8c8c" stroke-width="1.3" stroke-opacity="0.3"/><path d="M87.9 312 90.5 286.3 91.8 283.3 93.1 283 94.4 285.5 95.6 289.6 100.8 314 103.4 323.1 106 328.1 107.3 330 109.8 332.2 112.4 333.2 115 333.4 116.3 333.3 118.9 332.3 121.4 332.1 124 332.5 126.6 333.3 130.5 333 133.1 332.3 134.4 332.2 135.6 332.6 139.5 333.2 143.4 332.7 147.3 331.6 155 333.3 158.9 333 161.5 332.3 162.7 332.5 165.3 332.5 166.6 332.3 167.9 332.6 171.8 332.8 175.6 332.5 176.9 332.8 179.5 332.5 182.1 333 183.4 333 184.7 332.5 188.5 332.5 189.8 332.2 192.4 332.8 195 332.4 196.3 332 197.6 332.5 198.9 332 200.2 332.3 205.3 332.2 206.6 332.7 207.9 332.4 211.8 332.8 216.9 332.2 218.2 331.8 222.1 332.3 223.4 332.1 226 333 229.8 333.1 231.1 333.8 235 333.2 236.3 332.6 237.6 332.4 238.9 331.8 242.7 331.4 244 332.3 247.9 332.3 249.2 332.9 251.8 332.4 253.1 332.5 256.9 331.4 259.5 331.9 260.8 331.9 262.1 332.4 263.4 333.3 264.7 333 266 333.5 267.3 332.6 269.8 333.4 271.1 332.9 273.7 333 275 333.5 277.6 332.9 280.2 333.1 281.5 332.8 284 333 286.6 332.6 289.2 333.1 290.5 332.6 291.8 332.5 294.4 333.3 296.9 332.5 298.2 333.1 300.8 332.3 302.1 332.2 303.4 332.6 304.7 332.6 306 332.3 307.3 332.4 308.6 333.1 313.7 332.8 315 333.1 316.3 332.4 320.2 332.1 321.5 332.2 322.7 332 324 332.5 326.6 332.5 329.2 332.7 330.5 333.5 331.8 333 333.1 333 334.4 332.7 336.9 333.3 338.2 332.6 342.1 333.2 344.7 332.2 346 332 349.8 332.3 351.1 332.6 352.4 332.5 353.7 332.8 355 332.3 356.3 332.7 358.9 332.5 360.2 332.8 361.5 332.5 362.7 332.6 364 332.2 365.3 332.6 369.2 332 371.8 331.8 373.1 331.5 374.4 332 378.2 332.3 379.5 332.6 380.8 332.6 382.1 332.3 383.4 332.3 384.7 332.8 386 333 387.3 332.7 389.8 332.5 392.4 331.9 395 332.2 396.3 332.1 397.6 332.4" fill="none" stroke="#dc143c" stroke-width="1.3" stroke-opacity="0.2"/><path d="M87.9 329.7 90.5 316.5 91.8 313.7 93.1 312.1 94.4 311.1 95.6 311.5 96.9 313.2 100.8 320.9 102.1 324.2 103.4 326.6 104.7 328.5 108.5 332.5 109.8 332.4 111.1 333 113.7 333.4 116.3 333 117.6 333.3 118.9 333.1 121.4 333.5 122.7 333.4 124 333 125.3 333.2 126.6 332.7 127.9 332.5 129.2 331.9 131.8 331.2 133.1 330.3 138.2 328.7 140.8 328.5 142.1 328.7 143.4 328.6 146 327.8 147.3 327.8 148.5 327.4 149.8 326.5 151.1 326.1 152.4 326.1 153.7 326.6 155 326.1 156.3 326.5 157.6 327.3 160.2 327.7 161.5 327.6 164 329 165.3 329 167.9 330 169.2 330.9 171.8 331.5 173.1 332.2 174.4 332.6 175.6 332.4 183.4 333.5 186 333.4 188.5 332.6 189.8 332.5 192.4 332.8 195 333.7 196.3 334.4 200.2 334.1 201.5 333.6 202.7 333.9 204 333.6 206.6 333.9 207.9 334.3 211.8 334 215.6 334 216.9 334.2 222.1 333.5 223.4 333.1 226 333.1 228.6 332.6 229.8 332.6 232.4 333.6 233.7 333.6 236.3 334.3 237.6 334.2 238.9 333.5 241.5 333.7 242.7 333.3 246.6 334 249.2 333.4 250.5 333.7 251.8 333.1 253.1 333.2 254.4 333 256.9 333 258.2 332.8 260.8 333.5 262.1 333.5 264.7 334.1 266 334.7 268.6 334.1 269.8 334.2 271.1 333.4 273.7 332.9 275 333.2 277.6 332.8 280.2 333.8 282.7 333.2 284 333.7 286.6 333.7 287.9 332.8 290.5 333 291.8 332.4 293.1 332.3 295.7 332.9 296.9 332.6 298.2 332.7 300.8 333.5 302.1 333.1 303.4 333.2 306 334 308.6 333.7 309.8 334.3 311.1 334.6 315 333.9 316.3 334.1 317.6 333.9 318.9 334 321.5 333.8 322.7 334.1 326.6 333.2 327.9 333.5 329.2 333.5 330.5 333 334.4 333.6 336.9 333.7 338.2 334 339.5 333.8 340.8 333.3 342.1 333.2 343.4 333.4 346 333.2 349.8 333.7 352.4 333.2 353.7 333.6 355 333.4 356.3 333.5 358.9 332.7 360.2 333.1 361.5 332.7 365.3 332.9 366.6 333.2 367.9 332.9 370.5 333.3 371.8 332.9 374.4 332.8 375.7 333.3 378.2 332.9 379.5 333.4 382.1 333.7 384.7 333.4 386 333.8 387.3 333.5 388.6 333.6 389.8 333.1 391.1 333.2 392.4 333.6 393.7 333.5 395 333.7 396.3 333.5 397.6 333.7" fill="none" stroke="#2a9d9d" stroke-width="1.3" stroke-opacity="0.2"/><path d="M87.9 315.6 89.2 299.8 90.5 286.9 91.8 282.6 93.1 282 94.4 283.4 95.6 287.3 98.2 299.5 99.5 307.1 102.1 319.1 103.4 323.7 104.7 327.4 106 329.7 107.3 331.3 111.1 333.4 113.7 333.1 115 332.7 116.3 332.8 117.6 332.2 118.9 330.8 121.4 329.1 124 325.8 125.3 323.7 126.6 322.2 129.2 318.1 131.8 315.4 133.1 314.6 134.4 314.2 136.9 314.9 139.5 317.4 146 326.4 149.8 330.3 152.4 332.6 157.6 334.7 161.5 333.5 164 333.3 165.3 332.9 166.6 333.5 167.9 333.5 170.5 334.1 173.1 333.9 174.4 333.6 178.2 334 179.5 334.4 180.8 334.3 182.1 334.5 184.7 334.3 186 333.8 187.3 333.8 188.5 334.3 191.1 334.1 193.7 334.9 197.6 334 198.9 334.1 200.2 333.7 201.5 333.6 204 333.8 205.3 333.4 207.9 333.9 209.2 333.4 211.8 333.9 213.1 334.4 215.6 333.9 216.9 334.8 218.2 334.8 219.5 334.4 220.8 334.6 222.1 334.1 223.4 334.3 224.7 333.9 226 334.1 228.6 333.5 232.4 333.6 233.7 332.8 235 332.8 236.3 333.3 238.9 333.3 240.2 333.5 241.5 334.1 242.7 334.1 245.3 333.6 246.6 333.7 247.9 333.5 249.2 333 251.8 333.2 254.4 333.9 255.6 334 256.9 334.4 259.5 334.3 260.8 334 262.1 334.2 264.7 333.8 268.6 334.6 269.8 334.2 273.7 334.4 276.3 333.7 278.9 334.1 282.7 334.4 284 333.9 285.3 334 286.6 333.5 287.9 333.4 289.2 333 290.5 333 291.8 333.3 293.1 333 294.4 333.1 295.7 332.9 296.9 333.6 298.2 333.5 299.5 334.1 300.8 334.2 302.1 333.9 303.4 334.3 304.7 334 306 334.2 307.3 333.8 309.8 334.6 311.1 334.2 313.7 334.2 315 334.5 316.3 334.1 317.6 334.3 318.9 334.8 320.2 334.4 321.5 334.4 322.7 334.1 324 334.1 327.9 333.4 330.5 333.3 331.8 333.6 333.1 333.4 335.7 334 336.9 333.9 338.2 334.2 339.5 334.1 340.8 334.3 343.4 333.3 344.7 333.9 347.3 333.6 351.1 334.9 352.4 334.8 353.7 335.2 358.9 333.9 360.2 334 361.5 333.6 362.7 334.1 365.3 334.3 366.6 334.6 369.2 334.4 370.5 334.1 371.8 334.6 373.1 334.3 374.4 333.7 375.7 333.4 378.2 333.3 379.5 332.8 382.1 333.6 386 333.9 389.8 332.9 395 333.3 396.3 334 397.6 334.2" fill="none" stroke="#8c8c8c" stroke-width="1.3" stroke-opacity="0.3"/><path d="M87.9 329.1 90.5 321 91.8 320.5 93.1 320.5 94.4 321.6 96.9 324.5 98.2 326.9 99.5 328.2 100.8 330.1 102.1 331 103.4 332.3 106 333.5 107.3 333.8 108.5 333.8 109.8 334.2 111.1 334.2 112.4 334.6 113.7 334.5 117.6 335.1 120.2 334.9 121.4 335.2 122.7 334.7 127.9 334.7 129.2 334.1 130.5 334 131.8 334.3 134.4 333.3 135.6 333.2 138.2 333.5 139.5 333.1 142.1 333.9 143.4 334.5 144.7 334.5 146 334.9 147.3 334.9 151.1 334 152.4 334.2 153.7 333.7 155 334.1 158.9 334.3 160.2 333.9 161.5 334.5 162.7 334.4 164 334.6 166.6 334.1 167.9 334.5 170.5 334.2 171.8 334.6 175.6 334.9 176.9 334.6 178.2 335 179.5 334.7 182.1 334.8 183.4 334.6 184.7 334.9 186 334.5 187.3 334.7 188.5 335.3 189.8 335 191.1 335.2 192.4 334.7 195 334.9 196.3 334 198.9 334.3 200.2 334.8 201.5 334.4 202.7 333.7 204 334.1 205.3 334 206.6 333.5 207.9 333.5 210.5 334.2 213.1 333.4 214.4 333.7 218.2 333.8 219.5 334.5 220.8 334.8 223.4 334.5 226 334.7 227.3 334.4 229.8 334.5 233.7 335.1 235 335.1 236.3 335.4 240.2 335 241.5 334.3 242.7 334.3 244 334 245.3 334.1 247.9 333.9 249.2 334.2 255.6 333.7 258.2 333.7 259.5 334 260.8 333.9 262.1 334.1 263.4 334.7 264.7 334.4 269.8 335.2 271.1 334.8 272.4 335.1 273.7 334.8 277.6 335.1 278.9 334.8 281.5 335.2 282.7 334.5 285.3 334 286.6 334.7 287.9 334.2 289.2 334.1 290.5 334.6 293.1 334.4 294.4 333.9 295.7 334.6 296.9 334.6 298.2 334.2 300.8 334.2 302.1 334.5 304.7 333.4 307.3 334.5 309.8 334.3 311.1 334.6 312.4 335.3 313.7 335.2 315 334.8 316.3 335 318.9 334.8 320.2 334.4 324 334.5 325.3 334.9 329.2 335 331.8 334.6 338.2 335.5 340.8 335.2 342.1 334.7 344.7 334.4 346 334.6 351.1 334.1 352.4 334.2 353.7 334 361.5 334.8 364 334.4 366.6 334.8 367.9 334.4 369.2 334.3 370.5 334.6 374.4 334.6 375.7 335.2 379.5 334.3 380.8 333.7 383.4 333.1 389.8 335.1 393.7 334.8 395 335 397.6 334.9" fill="none" stroke="#dc143c" stroke-width="1.3" stroke-opacity="0.2"/><path d="M87.9 296.9 89.2 290.3 90.5 286.7 91.8 284.5 93.1 284.8 94.4 287.1 96.9 295 100.8 310.3 103.4 318.2 104.7 321.2 106 323.5 107.3 325.1 108.5 326.2 112.4 328.1 117.6 328.8 126.6 328.7 143.4 326.3 173.1 330.2 397.6 332" fill="none" stroke="#dc143c" stroke-width="3.6" stroke-linejoin="round"/><path d="M87.9 289.5 89.2 281.1 90.5 277.7 91.8 275.9 93.1 276.3 94.4 278.8 95.6 282.6 96.9 288.1 99.5 301.1 102.1 310.5 103.4 314.4 104.7 317.6 106 320.2 108.5 323.7 111.1 325.7 113.7 326.7 118.9 327.4 127.9 326.6 142.1 323.6 146 323.9 167.9 329.1 316.3 331.6 324 332.7 330.5 332.5 357.6 331.3 366.6 332 375.7 330.1 379.5 330.1 392.4 331.7 397.6 332" fill="none" stroke="#008080" stroke-width="4.4" stroke-linejoin="round"/><text x="103.0" y="242.2" font-size="10" text-anchor="start" font-style="italic" fill="#000">δ</text><text x="148.5" y="307.5" font-size="10" text-anchor="start" font-style="italic" fill="#000">θ</text><line x1="126.90" y1="196.60" x2="149.40" y2="196.60" stroke="#dc143c" stroke-width="2.2"/><text x="156.7" y="200.2" font-size="10" text-anchor="start" fill="#000">Dutch</text><line x1="202.00" y1="196.60" x2="224.70" y2="196.60" stroke="#008080" stroke-width="2.2"/><text x="231.7" y="200.2" font-size="10" text-anchor="start" fill="#000">French (uncomprehended)</text><path d="M91.2,578.5 L92.1,568.8 L93.0,548.7 L93.0,530.4 L94.9,517.6 L95.8,512.0 L101.3,511.2 L102.2,501.1 L105.0,500.2 L105.9,488.3 L107.7,477.3 L109.5,477.0 L116.8,477.0 L116.8,474.2" fill="none" stroke="#000" stroke-width="2.3" stroke-dasharray="7.4 3.2" stroke-linejoin="miter"/><path d="M126.9,474.2 L126.9,478.2 L127.8,488.3 L129.6,491.0 L130.5,510.2 L136.0,511.2 L138.8,519.4 L151.6,520.3 L153.7,518.5 L154.6,512.1 L166.5,511.7 L170.1,511.2 L171.0,475.5 L174.7,475.5" fill="none" stroke="#000" stroke-width="2.3" stroke-dasharray="7.4 3.2" stroke-linejoin="miter"/><path d="M188.4,474.2 L188.4,475.5 L187.5,497.4 L189.3,500.2 L191.2,510.2 L192.4,502.9 L193.9,501.1 L201.2,501.1 L204.0,499.3 L204.9,491.0 L206.7,489.2 L214.0,489.2 L215.8,493.8 L216.8,506.6 L215.8,521.2 L214.9,543.2 L214.0,549.6 L197.6,549.9 L192.1,550.5 L191.2,555.0 L188.4,555.0 L186.6,550.5 L183.4,550.2 L179.4,543.7 L178.1,537.1 L171.5,536.8 L167.6,534.5 L166.9,529.2 L163.7,537.1 L161.0,543.7 L155.8,551.5 L153.1,558.1 L149.6,564.5 L153.1,566.0 L154.5,568.6 L163.7,569.3 L169.0,570.0 L171.0,572.4 L177.5,572.4 L179.5,575.8 L185.0,576.0 L185.5,578.5" fill="none" stroke="#000" stroke-width="2.3" stroke-dasharray="7.4 3.2" stroke-linejoin="miter"/><path d="M468.0,494.6 L472.9,491.6 L475.9,496.5 L477.8,501.5 L480.8,500.5 L483.8,492.6 L486.7,491.6 L487.7,494.6 L496.6,494.6 L499.5,497.5 L504.5,497.5 L507.4,494.6 L518.2,495.5 L526.1,496.5 L529.6,497.5 L535.5,504.4 L539.4,498.5 L549.3,497.5 L561.1,496.5 L564.0,490.6 L566.0,496.5 L576.9,497.5 L580.8,501.5 L586.7,500.5 L590.7,502.4 L596.6,497.5 L601.5,502.4 L600.5,507.4 L598.5,510.9 L586.7,510.9 L582.8,515.3 L576.9,517.2 L565.0,517.8 L561.1,523.1 L545.3,524.1 L541.4,521.2 L537.4,516.2 L535.5,515.3 L533.5,521.2 L529.6,523.7 L489.7,524.1 L487.7,521.2 L484.7,515.3 L478.8,511.3 L472.9,511.3 L470.0,516.2 L468.0,521.2 L465.0,517.2 L467.0,510.3 L465.0,503.4 L466.0,498.5 L468.0,494.6" fill="none" stroke="#000" stroke-width="2.3" stroke-dasharray="7.4 3.2" stroke-linejoin="miter"/><circle cx="109.30" cy="432.40" r="19.50" fill="none" stroke="#000" stroke-width="1.1"/><path d="M105.22 413.33 L109.30 409.97 L113.38 413.33" fill="#fff" stroke="#000" stroke-width="1.1" stroke-linejoin="miter"/><rect x="87.56" y="428.89" width="2.44" height="9.16" rx="1.10" ry="1.46" fill="#fff" stroke="#000" stroke-width="1.10"/><rect x="128.60" y="428.89" width="2.44" height="9.16" rx="1.10" ry="1.46" fill="#fff" stroke="#000" stroke-width="1.10"/><circle cx="109.30" cy="432.40" r="19.50" fill="none" stroke="#000" stroke-width="1.1"/><circle cx="256.80" cy="432.40" r="19.50" fill="none" stroke="#000" stroke-width="1.1"/><path d="M252.72 413.33 L256.80 409.97 L260.88 413.33" fill="#fff" stroke="#000" stroke-width="1.1" stroke-linejoin="miter"/><rect x="235.06" y="428.89" width="2.44" height="9.16" rx="1.10" ry="1.46" fill="#fff" stroke="#000" stroke-width="1.10"/><rect x="276.11" y="428.89" width="2.44" height="9.16" rx="1.10" ry="1.46" fill="#fff" stroke="#000" stroke-width="1.10"/><circle cx="256.80" cy="432.40" r="19.50" fill="none" stroke="#000" stroke-width="1.1"/><circle cx="472.60" cy="432.40" r="19.50" fill="none" stroke="#000" stroke-width="1.1"/><path d="M468.52 413.33 L472.60 409.97 L476.68 413.33" fill="#fff" stroke="#000" stroke-width="1.1" stroke-linejoin="miter"/><rect x="450.86" y="428.89" width="2.44" height="9.16" rx="1.10" ry="1.46" fill="#fff" stroke="#000" stroke-width="1.10"/><rect x="491.91" y="428.89" width="2.44" height="9.16" rx="1.10" ry="1.46" fill="#fff" stroke="#000" stroke-width="1.10"/><circle cx="472.60" cy="432.40" r="19.50" fill="none" stroke="#000" stroke-width="1.1"/><circle cx="473.50" cy="237.00" r="22.50" fill="none" stroke="#000" stroke-width="1.1"/><path d="M468.79 215.00 L473.50 211.12 L478.21 215.00" fill="#fff" stroke="#000" stroke-width="1.1" stroke-linejoin="miter"/><rect x="448.41" y="232.95" width="2.81" height="10.57" rx="1.27" ry="1.69" fill="#fff" stroke="#000" stroke-width="1.10"/><rect x="495.77" y="232.95" width="2.81" height="10.57" rx="1.27" ry="1.69" fill="#fff" stroke="#000" stroke-width="1.10"/><circle cx="473.50" cy="237.00" r="22.50" fill="none" stroke="#000" stroke-width="1.1"/><circle cx="473.40" cy="310.50" r="22.60" fill="none" stroke="#000" stroke-width="1.1"/><path d="M468.67 288.40 L473.40 284.51 L478.13 288.40" fill="#fff" stroke="#000" stroke-width="1.1" stroke-linejoin="miter"/><rect x="448.20" y="306.43" width="2.82" height="10.62" rx="1.27" ry="1.69" fill="#fff" stroke="#000" stroke-width="1.10"/><rect x="495.77" y="306.43" width="2.82" height="10.62" rx="1.27" ry="1.69" fill="#fff" stroke="#000" stroke-width="1.10"/><circle cx="473.40" cy="310.50" r="22.60" fill="none" stroke="#000" stroke-width="1.1"/><circle cx="599.30" cy="237.30" r="22.60" fill="none" stroke="#000" stroke-width="1.1"/><path d="M594.57 215.20 L599.30 211.31 L604.03 215.20" fill="#fff" stroke="#000" stroke-width="1.1" stroke-linejoin="miter"/><rect x="574.10" y="233.23" width="2.82" height="10.62" rx="1.27" ry="1.69" fill="#fff" stroke="#000" stroke-width="1.10"/><rect x="621.67" y="233.23" width="2.82" height="10.62" rx="1.27" ry="1.69" fill="#fff" stroke="#000" stroke-width="1.10"/><circle cx="599.30" cy="237.30" r="22.60" fill="none" stroke="#000" stroke-width="1.1"/><circle cx="599.40" cy="310.20" r="22.70" fill="none" stroke="#000" stroke-width="1.1"/><path d="M594.65 288.00 L599.40 284.09 L604.15 288.00" fill="#fff" stroke="#000" stroke-width="1.1" stroke-linejoin="miter"/><rect x="574.09" y="306.11" width="2.84" height="10.67" rx="1.28" ry="1.70" fill="#fff" stroke="#000" stroke-width="1.10"/><rect x="621.87" y="306.11" width="2.84" height="10.67" rx="1.28" ry="1.70" fill="#fff" stroke="#000" stroke-width="1.10"/><circle cx="599.40" cy="310.20" r="22.70" fill="none" stroke="#000" stroke-width="1.1"/><circle cx="322.6" cy="39.7" r="14.8" fill="none" stroke="#000" stroke-width="1.1"/><path d="M322.5 25.6 L326.5 27.2 L329.6 30 L330.2 36 L329.8 44 L328.6 50 L327 54.5 L325.2 56.5 L324 54.5 L324.2 50 L325.3 45 L325.6 40 L324.8 34 L322.8 30 Z" fill="#000"/><g fill="#000"><circle cx="307.6" cy="46.5" r="0.7"/><circle cx="304.6" cy="47.1" r="0.7"/><circle cx="306.6" cy="40.6" r="0.7"/><circle cx="305.2" cy="44.0" r="0.7"/><circle cx="307.8" cy="45.3" r="0.7"/><circle cx="307.3" cy="45.8" r="0.7"/><circle cx="309.5" cy="37.5" r="0.7"/><circle cx="306.6" cy="47.2" r="0.7"/><circle cx="310.5" cy="47.0" r="0.7"/><circle cx="308.3" cy="33.1" r="0.7"/><circle cx="310.6" cy="42.3" r="0.7"/><circle cx="304.9" cy="41.6" r="0.7"/><circle cx="307.5" cy="38.7" r="0.7"/><circle cx="310.7" cy="38.8" r="0.7"/><circle cx="305.6" cy="36.1" r="0.7"/><circle cx="308.5" cy="39.1" r="0.7"/><circle cx="308.1" cy="46.4" r="0.7"/><circle cx="310.5" cy="34.7" r="0.7"/><circle cx="308.7" cy="38.6" r="0.7"/><circle cx="305.5" cy="38.3" r="0.7"/><circle cx="309.4" cy="42.1" r="0.7"/><circle cx="307.2" cy="33.3" r="0.7"/><circle cx="305.2" cy="36.3" r="0.7"/><circle cx="310.7" cy="33.9" r="0.7"/><circle cx="306.7" cy="45.5" r="0.7"/><circle cx="304.3" cy="42.9" r="0.7"/><circle cx="307.8" cy="46.0" r="0.7"/><circle cx="305.9" cy="44.4" r="0.7"/><circle cx="306.4" cy="36.6" r="0.7"/><circle cx="307.0" cy="47.0" r="0.7"/><circle cx="310.7" cy="38.7" r="0.7"/><circle cx="306.8" cy="45.8" r="0.7"/><circle cx="309.6" cy="35.4" r="0.7"/><circle cx="306.7" cy="31.9" r="0.7"/><circle cx="310.4" cy="45.3" r="0.7"/><circle cx="304.6" cy="34.1" r="0.7"/><circle cx="308.4" cy="43.8" r="0.7"/><circle cx="307.5" cy="34.2" r="0.7"/><circle cx="308.9" cy="31.2" r="0.7"/><circle cx="308.9" cy="39.2" r="0.7"/><circle cx="308.5" cy="31.5" r="0.7"/><circle cx="307.5" cy="36.5" r="0.7"/><circle cx="308.4" cy="35.9" r="0.7"/><circle cx="308.3" cy="39.9" r="0.7"/><circle cx="305.6" cy="31.1" r="0.7"/><circle cx="306.7" cy="31.3" r="0.7"/><circle cx="304.8" cy="38.4" r="0.7"/><circle cx="307.4" cy="41.7" r="0.7"/><circle cx="308.2" cy="38.8" r="0.7"/><circle cx="308.1" cy="46.4" r="0.7"/><circle cx="305.0" cy="31.6" r="0.7"/><circle cx="306.3" cy="42.1" r="0.7"/><circle cx="307.6" cy="43.2" r="0.7"/><circle cx="309.2" cy="36.6" r="0.7"/><circle cx="306.0" cy="33.2" r="0.7"/><circle cx="306.9" cy="35.1" r="0.7"/><circle cx="309.7" cy="45.9" r="0.7"/><circle cx="308.4" cy="44.4" r="0.7"/><circle cx="306.0" cy="30.1" r="0.7"/><circle cx="310.3" cy="38.8" r="0.7"/><circle cx="307.9" cy="36.4" r="0.7"/><circle cx="306.4" cy="44.8" r="0.7"/><circle cx="308.2" cy="43.1" r="0.7"/><circle cx="308.4" cy="39.2" r="0.7"/><circle cx="304.8" cy="38.5" r="0.7"/><circle cx="310.8" cy="45.7" r="0.7"/><circle cx="306.5" cy="44.6" r="0.7"/><circle cx="309.4" cy="41.1" r="0.7"/><circle cx="309.5" cy="31.1" r="0.7"/><circle cx="310.6" cy="31.5" r="0.7"/><circle cx="327.4" cy="34.0" r="0.7"/><circle cx="325.2" cy="33.7" r="0.7"/><circle cx="327.0" cy="52.3" r="0.7"/><circle cx="327.1" cy="48.4" r="0.7"/><circle cx="327.1" cy="38.6" r="0.7"/><circle cx="327.9" cy="38.4" r="0.7"/><circle cx="324.4" cy="50.5" r="0.7"/><circle cx="322.8" cy="50.8" r="0.7"/><circle cx="324.8" cy="55.2" r="0.7"/><circle cx="326.3" cy="36.6" r="0.7"/><circle cx="325.6" cy="50.8" r="0.7"/><circle cx="323.7" cy="54.0" r="0.7"/><circle cx="324.9" cy="36.4" r="0.7"/><circle cx="325.2" cy="35.2" r="0.7"/><circle cx="327.0" cy="50.0" r="0.7"/><circle cx="327.2" cy="46.1" r="0.7"/><circle cx="324.2" cy="56.6" r="0.7"/><circle cx="324.4" cy="29.1" r="0.7"/><circle cx="324.1" cy="27.1" r="0.7"/><circle cx="323.1" cy="57.5" r="0.7"/><circle cx="321.3" cy="55.4" r="0.7"/><circle cx="321.8" cy="56.4" r="0.7"/><circle cx="323.5" cy="52.5" r="0.7"/><circle cx="324.0" cy="38.7" r="0.7"/><circle cx="324.6" cy="27.7" r="0.7"/><circle cx="323.3" cy="49.6" r="0.7"/><circle cx="324.6" cy="45.8" r="0.7"/><circle cx="322.2" cy="54.3" r="0.7"/><circle cx="327.9" cy="44.7" r="0.7"/><circle cx="326.8" cy="43.2" r="0.7"/><circle cx="325.8" cy="51.6" r="0.7"/><circle cx="323.3" cy="52.1" r="0.7"/><circle cx="324.0" cy="54.7" r="0.7"/><circle cx="324.9" cy="54.9" r="0.7"/><circle cx="327.5" cy="49.3" r="0.7"/><circle cx="325.8" cy="29.8" r="0.7"/><circle cx="327.0" cy="35.6" r="0.7"/><circle cx="324.8" cy="33.4" r="0.7"/><circle cx="325.8" cy="30.8" r="0.7"/><circle cx="325.2" cy="35.6" r="0.7"/><circle cx="324.2" cy="51.2" r="0.7"/><circle cx="324.2" cy="53.9" r="0.7"/><circle cx="325.0" cy="55.7" r="0.7"/><circle cx="324.2" cy="57.3" r="0.7"/><circle cx="325.6" cy="36.2" r="0.7"/><circle cx="325.8" cy="55.7" r="0.7"/><circle cx="323.9" cy="34.3" r="0.7"/><circle cx="325.7" cy="34.3" r="0.7"/><circle cx="325.7" cy="32.5" r="0.7"/><circle cx="327.2" cy="36.4" r="0.7"/><circle cx="327.2" cy="34.1" r="0.7"/><circle cx="323.2" cy="36.8" r="0.7"/><circle cx="326.0" cy="31.5" r="0.7"/><circle cx="323.3" cy="31.8" r="0.7"/><circle cx="322.8" cy="57.4" r="0.7"/><circle cx="326.0" cy="46.4" r="0.7"/><circle cx="328.0" cy="41.0" r="0.7"/><circle cx="322.7" cy="27.6" r="0.7"/><circle cx="326.9" cy="40.5" r="0.7"/><circle cx="322.8" cy="49.1" r="0.7"/><circle cx="322.6" cy="29.5" r="0.7"/><circle cx="326.9" cy="36.9" r="0.7"/><circle cx="327.4" cy="49.5" r="0.7"/><circle cx="325.4" cy="39.0" r="0.7"/><circle cx="326.2" cy="30.9" r="0.7"/><circle cx="326.3" cy="54.4" r="0.7"/><circle cx="327.2" cy="49.2" r="0.7"/><circle cx="327.6" cy="44.1" r="0.7"/><circle cx="326.8" cy="36.6" r="0.7"/><circle cx="325.7" cy="50.0" r="0.7"/><circle cx="325.4" cy="52.5" r="0.7"/><circle cx="322.9" cy="34.2" r="0.7"/><circle cx="324.0" cy="36.6" r="0.7"/><circle cx="324.2" cy="54.6" r="0.7"/><circle cx="327.4" cy="49.1" r="0.7"/><circle cx="326.7" cy="51.0" r="0.7"/><circle cx="327.3" cy="43.9" r="0.7"/><circle cx="323.2" cy="56.1" r="0.7"/><circle cx="327.7" cy="48.2" r="0.7"/><circle cx="322.9" cy="34.0" r="0.7"/><circle cx="327.9" cy="41.4" r="0.7"/><circle cx="324.5" cy="42.7" r="0.7"/><circle cx="323.1" cy="57.0" r="0.7"/><circle cx="323.8" cy="40.1" r="0.7"/><circle cx="328.3" cy="39.8" r="0.7"/><circle cx="327.3" cy="39.9" r="0.7"/><circle cx="321.3" cy="55.3" r="0.7"/><circle cx="323.7" cy="48.0" r="0.7"/><circle cx="327.8" cy="42.3" r="0.7"/><circle cx="326.8" cy="37.6" r="0.7"/><circle cx="334.6" cy="36.4" r="0.6"/><circle cx="333.6" cy="48.0" r="0.6"/><circle cx="336.2" cy="37.4" r="0.6"/><circle cx="331.2" cy="32.6" r="0.6"/><circle cx="333.0" cy="49.4" r="0.6"/><circle cx="334.7" cy="31.4" r="0.6"/><circle cx="329.0" cy="52.8" r="0.6"/><circle cx="327.3" cy="52.9" r="0.6"/><circle cx="333.5" cy="53.8" r="0.6"/><circle cx="329.9" cy="35.7" r="0.6"/><circle cx="333.4" cy="40.4" r="0.6"/><circle cx="334.3" cy="42.2" r="0.6"/><circle cx="330.1" cy="31.3" r="0.6"/><circle cx="336.4" cy="32.8" r="0.6"/><circle cx="334.8" cy="32.9" r="0.6"/><circle cx="334.4" cy="31.3" r="0.6"/><circle cx="334.2" cy="40.3" r="0.6"/><circle cx="331.1" cy="48.5" r="0.6"/><circle cx="337.7" cy="47.1" r="0.6"/><circle cx="334.2" cy="48.2" r="0.6"/><circle cx="337.5" cy="46.9" r="0.6"/><circle cx="337.7" cy="29.7" r="0.6"/><circle cx="338.4" cy="41.2" r="0.6"/><circle cx="330.4" cy="30.5" r="0.6"/><circle cx="334.6" cy="43.5" r="0.6"/><circle cx="330.5" cy="53.4" r="0.6"/><circle cx="334.8" cy="35.2" r="0.6"/><circle cx="337.4" cy="33.2" r="0.6"/><circle cx="328.1" cy="35.1" r="0.6"/><circle cx="330.7" cy="45.3" r="0.6"/><circle cx="328.3" cy="52.8" r="0.6"/><circle cx="335.1" cy="42.0" r="0.6"/><circle cx="329.5" cy="41.9" r="0.6"/><circle cx="330.1" cy="42.5" r="0.6"/><circle cx="336.9" cy="30.1" r="0.6"/><circle cx="329.0" cy="35.8" r="0.6"/><circle cx="336.3" cy="29.3" r="0.6"/><circle cx="335.3" cy="51.3" r="0.6"/><circle cx="330.6" cy="49.6" r="0.6"/><circle cx="336.3" cy="44.2" r="0.6"/><circle cx="335.9" cy="35.5" r="0.6"/><circle cx="333.2" cy="49.7" r="0.6"/><circle cx="328.6" cy="45.7" r="0.6"/><circle cx="332.1" cy="38.8" r="0.6"/><circle cx="338.3" cy="38.3" r="0.6"/><circle cx="327.8" cy="53.5" r="0.6"/><circle cx="330.6" cy="44.2" r="0.6"/><circle cx="338.5" cy="46.0" r="0.6"/><circle cx="331.8" cy="32.7" r="0.6"/><circle cx="336.0" cy="37.9" r="0.6"/><circle cx="328.1" cy="50.2" r="0.6"/><circle cx="331.9" cy="34.4" r="0.6"/><circle cx="335.1" cy="54.0" r="0.6"/><circle cx="338.5" cy="45.3" r="0.6"/><circle cx="337.2" cy="39.3" r="0.6"/><circle cx="330.9" cy="35.5" r="0.6"/><circle cx="335.8" cy="52.8" r="0.6"/><circle cx="330.0" cy="45.2" r="0.6"/><circle cx="338.1" cy="37.2" r="0.6"/><circle cx="329.4" cy="40.8" r="0.6"/><circle cx="331.7" cy="26.8" r="0.65"/><circle cx="329.9" cy="30.2" r="0.65"/><circle cx="334.3" cy="26.9" r="0.65"/><circle cx="327.5" cy="27.2" r="0.65"/><circle cx="330.7" cy="28.7" r="0.65"/><circle cx="329.9" cy="30.2" r="0.65"/><circle cx="330.0" cy="29.1" r="0.65"/><circle cx="335.7" cy="29.2" r="0.65"/><circle cx="335.6" cy="26.0" r="0.65"/><circle cx="328.7" cy="30.5" r="0.65"/><circle cx="330.0" cy="25.5" r="0.65"/><circle cx="326.6" cy="29.2" r="0.65"/><circle cx="328.7" cy="26.5" r="0.65"/><circle cx="331.8" cy="30.4" r="0.65"/><circle cx="331.6" cy="29.3" r="0.65"/><circle cx="329.7" cy="29.2" r="0.65"/><circle cx="325.4" cy="28.2" r="0.65"/><circle cx="326.2" cy="31.0" r="0.65"/><circle cx="332.2" cy="30.0" r="0.65"/><circle cx="330.9" cy="29.6" r="0.65"/></g><text x="301.8" y="11.6" font-size="10" text-anchor="start" fill="#000">Δ Power</text><defs><linearGradient id="cb34121" x1="0" y1="1" x2="0" y2="0"><stop offset="0" stop-color="#0f7f80"/><stop offset="0.25" stop-color="#7fbfbf"/><stop offset="0.5" stop-color="#ffffff"/><stop offset="0.75" stop-color="#ee8a9e"/><stop offset="1" stop-color="#dc143c"/></linearGradient></defs><rect x="341.4" y="21.5" width="3.20" height="38.00" fill="url(#cb34121)" stroke="#000" stroke-width="0.9"/><line x1="344.60" y1="27.90" x2="349.10" y2="27.90" stroke="#000" stroke-width="0.9"/><text x="354.8" y="30.9" font-size="8.6" text-anchor="start" fill="#000">0.5</text><line x1="344.60" y1="40.40" x2="349.10" y2="40.40" stroke="#000" stroke-width="0.9"/><text x="354.8" y="43.4" font-size="8.6" text-anchor="start" fill="#000">0.0</text><line x1="344.60" y1="53.20" x2="349.10" y2="53.20" stroke="#000" stroke-width="0.9"/><text x="354.8" y="56.2" font-size="8.6" text-anchor="start" fill="#000">−0.5</text><text x="380.2" y="41.0" font-size="8" text-anchor="middle" transform="rotate(-90 380.2 41.0)" fill="#000">dB.Hz<tspan dy="-3" font-size="6">−1</tspan></text><text x="473.1" y="194.7" font-size="10" text-anchor="middle" fill="#000">Coherence</text><text x="582.3" y="193.6" font-size="10">Δ<tspan dy="1.5" font-size="7" font-style="italic">NL − FR</tspan></text><text x="424.8" y="234.2" font-size="10.5" text-anchor="start" font-style="italic" fill="#000">δ</text><text x="424.8" y="307.6" font-size="10.5" text-anchor="start" font-style="italic" fill="#000">θ</text><defs><linearGradient id="cb508279" x1="0" y1="1" x2="0" y2="0"><stop offset="0" stop-color="#f7f7f7"/><stop offset="0.2" stop-color="#fddbc7"/><stop offset="0.4" stop-color="#f4a582"/><stop offset="0.6" stop-color="#d6604d"/><stop offset="0.8" stop-color="#b2182b"/><stop offset="1" stop-color="#67001f"/></linearGradient></defs><rect x="508.5" y="279.4" width="3.50" height="62.20" fill="url(#cb508279)" stroke="#000" stroke-width="0.9"/><line x1="512.00" y1="279.40" x2="516.50" y2="279.40" stroke="#000" stroke-width="0.9"/><text x="522.2" y="282.4" font-size="8.6" text-anchor="start" fill="#000">0.02</text><line x1="512.00" y1="310.50" x2="516.50" y2="310.50" stroke="#000" stroke-width="0.9"/><text x="522.2" y="313.5" font-size="8.6" text-anchor="start" fill="#000">0.01</text><line x1="512.00" y1="341.60" x2="516.50" y2="341.60" stroke="#000" stroke-width="0.9"/><text x="522.2" y="344.6" font-size="8.6" text-anchor="start" fill="#000">0.00</text><text x="543.8" y="313.2" font-size="10" text-anchor="middle" transform="rotate(90 543.8 313.2)" fill="#000">Coherence</text><defs><linearGradient id="cb635206" x1="0" y1="1" x2="0" y2="0"><stop offset="0" stop-color="#0f7f80"/><stop offset="0.25" stop-color="#7fbfbf"/><stop offset="0.5" stop-color="#ffffff"/><stop offset="0.75" stop-color="#ee8a9e"/><stop offset="1" stop-color="#dc143c"/></linearGradient></defs><rect x="635.4" y="206.1" width="3.10" height="61.50" fill="url(#cb635206)" stroke="#000" stroke-width="0.9"/><line x1="638.50" y1="208.30" x2="643.00" y2="208.30" stroke="#000" stroke-width="0.9"/><text x="648.5" y="211.3" font-size="8.6" text-anchor="start" fill="#000">0.01</text><line x1="638.50" y1="236.70" x2="643.00" y2="236.70" stroke="#000" stroke-width="0.9"/><text x="648.5" y="239.7" font-size="8.6" text-anchor="start" fill="#000">0.00</text><line x1="638.50" y1="266.10" x2="643.00" y2="266.10" stroke="#000" stroke-width="0.9"/><text x="648.5" y="269.1" font-size="8.6" text-anchor="start" fill="#000">−0.01</text><defs><linearGradient id="cb635279" x1="0" y1="1" x2="0" y2="0"><stop offset="0" stop-color="#0f7f80"/><stop offset="0.25" stop-color="#7fbfbf"/><stop offset="0.5" stop-color="#ffffff"/><stop offset="0.75" stop-color="#ee8a9e"/><stop offset="1" stop-color="#dc143c"/></linearGradient></defs><rect x="635.4" y="279.5" width="3.10" height="61.70" fill="url(#cb635279)" stroke="#000" stroke-width="0.9"/><line x1="638.50" y1="294.60" x2="643.00" y2="294.60" stroke="#000" stroke-width="0.9"/><text x="648.5" y="297.6" font-size="8.6" text-anchor="start" fill="#000">0.001</text><line x1="638.50" y1="310.50" x2="643.00" y2="310.50" stroke="#000" stroke-width="0.9"/><text x="648.5" y="313.5" font-size="8.6" text-anchor="start" fill="#000">0.000</text><line x1="638.50" y1="326.20" x2="643.00" y2="326.20" stroke="#000" stroke-width="0.9"/><text x="648.5" y="329.2" font-size="8.6" text-anchor="start" fill="#000">−0.001</text><text x="0" y="0" font-size="10" transform="translate(676.2 217.8) rotate(90)">Δ<tspan dy="1.5" font-size="7" font-style="italic">NL − FR</tspan></text><text x="0" y="0" font-size="10" transform="translate(676.2 293.9) rotate(90)">Δ<tspan dy="1.5" font-size="7" font-style="italic">NL − FR</tspan></text><text x="109.0" y="397.9" font-size="10" text-anchor="middle" fill="#000">6 Hz - 0.12s</text><text x="256.6" y="397.9" font-size="10" text-anchor="middle" fill="#000">3 Hz - 0.30s</text><text x="472.6" y="397.9" font-size="10" text-anchor="middle" fill="#000">25 Hz - 0.45s</text><defs><linearGradient id="cb281479" x1="0" y1="1" x2="0" y2="0"><stop offset="0" stop-color="#053061"/><stop offset="0.1" stop-color="#2166ac"/><stop offset="0.2" stop-color="#4393c3"/><stop offset="0.3" stop-color="#92c5de"/><stop offset="0.4" stop-color="#d1e5f0"/><stop offset="0.5" stop-color="#f7f7f7"/><stop offset="0.6" stop-color="#fddbc7"/><stop offset="0.7" stop-color="#f4a582"/><stop offset="0.8" stop-color="#d6604d"/><stop offset="0.9" stop-color="#b2182b"/><stop offset="1" stop-color="#67001f"/></linearGradient></defs><path d="M281.90 479.00 L284.40 473.50 L286.90 479.00 Z" fill="#67001f"/><path d="M281.90 573.40 L284.40 578.90 L286.90 573.40 Z" fill="#053061"/><rect x="281.9" y="479.0" width="5.00" height="94.40" fill="url(#cb281479)"/><path d="M281.90 479.00 L284.40 473.50 L286.90 479.00 L286.90 573.40 L284.40 578.90 L281.90 573.40 Z" fill="none" stroke="#000" stroke-width="0.9"/><line x1="286.90" y1="479.00" x2="291.40" y2="479.00" stroke="#000" stroke-width="0.9"/><text x="296.9" y="482.0" font-size="8.6" text-anchor="start" fill="#000">5.0</text><line x1="286.90" y1="487.90" x2="291.40" y2="487.90" stroke="#000" stroke-width="0.9"/><text x="296.9" y="490.9" font-size="8.6" text-anchor="start" fill="#000">2.5</text><line x1="286.90" y1="526.40" x2="291.40" y2="526.40" stroke="#000" stroke-width="0.9"/><text x="296.9" y="529.4" font-size="8.6" text-anchor="start" fill="#000">0.0</text><line x1="286.90" y1="564.90" x2="291.40" y2="564.90" stroke="#000" stroke-width="0.9"/><text x="296.9" y="567.9" font-size="8.6" text-anchor="start" fill="#000">−2.5</text><line x1="286.90" y1="573.60" x2="291.40" y2="573.60" stroke="#000" stroke-width="0.9"/><text x="296.9" y="576.6" font-size="8.6" text-anchor="start" fill="#000">−5.0</text><defs><linearGradient id="cb644479" x1="0" y1="1" x2="0" y2="0"><stop offset="0" stop-color="#053061"/><stop offset="0.1" stop-color="#2166ac"/><stop offset="0.2" stop-color="#4393c3"/><stop offset="0.3" stop-color="#92c5de"/><stop offset="0.4" stop-color="#d1e5f0"/><stop offset="0.5" stop-color="#f7f7f7"/><stop offset="0.6" stop-color="#fddbc7"/><stop offset="0.7" stop-color="#f4a582"/><stop offset="0.8" stop-color="#d6604d"/><stop offset="0.9" stop-color="#b2182b"/><stop offset="1" stop-color="#67001f"/></linearGradient></defs><path d="M644.50 479.00 L647.00 473.50 L649.50 479.00 Z" fill="#67001f"/><path d="M644.50 573.40 L647.00 578.90 L649.50 573.40 Z" fill="#053061"/><rect x="644.5" y="479.0" width="5.00" height="94.40" fill="url(#cb644479)"/><path d="M644.50 479.00 L647.00 473.50 L649.50 479.00 L649.50 573.40 L647.00 578.90 L644.50 573.40 Z" fill="none" stroke="#000" stroke-width="0.9"/><line x1="649.50" y1="479.00" x2="654.00" y2="479.00" stroke="#000" stroke-width="0.9"/><text x="659.5" y="482.0" font-size="8.6" text-anchor="start" fill="#000">5.0</text><line x1="649.50" y1="487.90" x2="654.00" y2="487.90" stroke="#000" stroke-width="0.9"/><text x="659.5" y="490.9" font-size="8.6" text-anchor="start" fill="#000">2.5</text><line x1="649.50" y1="526.40" x2="654.00" y2="526.40" stroke="#000" stroke-width="0.9"/><text x="659.5" y="529.4" font-size="8.6" text-anchor="start" fill="#000">0.0</text><line x1="649.50" y1="564.90" x2="654.00" y2="564.90" stroke="#000" stroke-width="0.9"/><text x="659.5" y="567.9" font-size="8.6" text-anchor="start" fill="#000">−2.5</text><line x1="649.50" y1="573.60" x2="654.00" y2="573.60" stroke="#000" stroke-width="0.9"/><text x="659.5" y="576.6" font-size="8.6" text-anchor="start" fill="#000">−5.0</text><text x="321.6" y="526.4" font-size="8.6" text-anchor="middle" transform="rotate(-90 321.6 526.4)" fill="#000">Z-score</text><text x="684.3" y="526.4" font-size="8.6" text-anchor="middle" transform="rotate(-90 684.3 526.4)" fill="#000">Z-score</text><line x1="87.70" y1="11.90" x2="87.70" y2="147.40" stroke="#000" stroke-width="1.2"/><line x1="87.10" y1="146.80" x2="386.50" y2="146.80" stroke="#000" stroke-width="1.2"/><line x1="82.80" y1="12.40" x2="87.70" y2="12.40" stroke="#000" stroke-width="1.0"/><text x="77.1" y="15.6" font-size="8.6" text-anchor="end" fill="#000">−255</text><line x1="82.80" y1="34.80" x2="87.70" y2="34.80" stroke="#000" stroke-width="1.0"/><text x="77.1" y="38.0" font-size="8.6" text-anchor="end" fill="#000">−260</text><line x1="82.80" y1="57.20" x2="87.70" y2="57.20" stroke="#000" stroke-width="1.0"/><text x="77.1" y="60.4" font-size="8.6" text-anchor="end" fill="#000">−265</text><line x1="82.80" y1="79.60" x2="87.70" y2="79.60" stroke="#000" stroke-width="1.0"/><text x="77.1" y="82.8" font-size="8.6" text-anchor="end" fill="#000">−270</text><line x1="82.80" y1="102.00" x2="87.70" y2="102.00" stroke="#000" stroke-width="1.0"/><text x="77.1" y="105.2" font-size="8.6" text-anchor="end" fill="#000">−275</text><line x1="82.80" y1="124.40" x2="87.70" y2="124.40" stroke="#000" stroke-width="1.0"/><text x="77.1" y="127.6" font-size="8.6" text-anchor="end" fill="#000">−280</text><line x1="82.80" y1="146.80" x2="87.70" y2="146.80" stroke="#000" stroke-width="1.0"/><text x="77.1" y="150.0" font-size="8.6" text-anchor="end" fill="#000">−285</text><line x1="87.70" y1="146.80" x2="87.70" y2="151.70" stroke="#000" stroke-width="1.0"/><text x="87.7" y="163.4" font-size="8.6" text-anchor="middle" fill="#000">0</text><line x1="137.42" y1="146.80" x2="137.42" y2="151.70" stroke="#000" stroke-width="1.0"/><text x="137.4" y="163.4" font-size="8.6" text-anchor="middle" fill="#000">5</text><line x1="187.13" y1="146.80" x2="187.13" y2="151.70" stroke="#000" stroke-width="1.0"/><text x="187.1" y="163.4" font-size="8.6" text-anchor="middle" fill="#000">10</text><line x1="236.85" y1="146.80" x2="236.85" y2="151.70" stroke="#000" stroke-width="1.0"/><text x="236.9" y="163.4" font-size="8.6" text-anchor="middle" fill="#000">15</text><line x1="286.57" y1="146.80" x2="286.57" y2="151.70" stroke="#000" stroke-width="1.0"/><text x="286.6" y="163.4" font-size="8.6" text-anchor="middle" fill="#000">20</text><line x1="336.28" y1="146.80" x2="336.28" y2="151.70" stroke="#000" stroke-width="1.0"/><text x="336.3" y="163.4" font-size="8.6" text-anchor="middle" fill="#000">25</text><line x1="386.00" y1="146.80" x2="386.00" y2="151.70" stroke="#000" stroke-width="1.0"/><text x="386.0" y="163.4" font-size="8.6" text-anchor="middle" fill="#000">30</text><text x="236.8" y="178.0" font-size="10" text-anchor="middle" fill="#000">Frequency (Hz)</text><text x="48.3" y="80.0" font-size="10" text-anchor="middle" transform="rotate(-90 48.3 80.0)" fill="#000">Power density (dB.Hz<tspan dy="-3.5" font-size="7">−1</tspan><tspan dy="3.5">)</tspan></text><text x="43.0" y="8.1" font-size="10.5" text-anchor="start" font-weight="bold" fill="#000">a</text><line x1="437.30" y1="11.90" x2="437.30" y2="147.40" stroke="#000" stroke-width="1.2"/><line x1="436.70" y1="146.80" x2="651.00" y2="146.80" stroke="#000" stroke-width="1.2"/><line x1="432.40" y1="12.40" x2="437.30" y2="12.40" stroke="#000" stroke-width="1.0"/><text x="426.7" y="15.6" font-size="8.6" text-anchor="end" fill="#000">0</text><line x1="432.40" y1="34.80" x2="437.30" y2="34.80" stroke="#000" stroke-width="1.0"/><text x="426.7" y="38.0" font-size="8.6" text-anchor="end" fill="#000">−10</text><line x1="432.40" y1="57.20" x2="437.30" y2="57.20" stroke="#000" stroke-width="1.0"/><text x="426.7" y="60.4" font-size="8.6" text-anchor="end" fill="#000">−20</text><line x1="432.40" y1="79.60" x2="437.30" y2="79.60" stroke="#000" stroke-width="1.0"/><text x="426.7" y="82.8" font-size="8.6" text-anchor="end" fill="#000">−30</text><line x1="432.40" y1="102.00" x2="437.30" y2="102.00" stroke="#000" stroke-width="1.0"/><text x="426.7" y="105.2" font-size="8.6" text-anchor="end" fill="#000">−40</text><line x1="432.40" y1="124.40" x2="437.30" y2="124.40" stroke="#000" stroke-width="1.0"/><text x="426.7" y="127.6" font-size="8.6" text-anchor="end" fill="#000">−50</text><line x1="432.40" y1="146.80" x2="437.30" y2="146.80" stroke="#000" stroke-width="1.0"/><text x="426.7" y="150.0" font-size="8.6" text-anchor="end" fill="#000">−60</text><line x1="437.30" y1="146.80" x2="437.30" y2="151.70" stroke="#000" stroke-width="1.0"/><text x="437.3" y="163.4" font-size="8.6" text-anchor="middle" fill="#000">0</text><line x1="490.60" y1="146.80" x2="490.60" y2="151.70" stroke="#000" stroke-width="1.0"/><text x="490.6" y="163.4" font-size="8.6" text-anchor="middle" fill="#000">5</text><line x1="543.90" y1="146.80" x2="543.90" y2="151.70" stroke="#000" stroke-width="1.0"/><text x="543.9" y="163.4" font-size="8.6" text-anchor="middle" fill="#000">10</text><line x1="597.20" y1="146.80" x2="597.20" y2="151.70" stroke="#000" stroke-width="1.0"/><text x="597.2" y="163.4" font-size="8.6" text-anchor="middle" fill="#000">15</text><line x1="650.50" y1="146.80" x2="650.50" y2="151.70" stroke="#000" stroke-width="1.0"/><text x="650.5" y="163.4" font-size="8.6" text-anchor="middle" fill="#000">20</text><text x="543.9" y="178.0" font-size="10" text-anchor="middle" fill="#000">Frequency (Hz)</text><text x="404.3" y="80.0" font-size="10" text-anchor="middle" transform="rotate(-90 404.3 80.0)" fill="#000">Power density (dB.Hz<tspan dy="-3.5" font-size="7">−1</tspan><tspan dy="3.5">)</tspan></text><text x="406.2" y="7.6" font-size="10.5" text-anchor="start" font-weight="bold" fill="#000">b</text><line x1="87.90" y1="206.00" x2="87.90" y2="341.40" stroke="#000" stroke-width="1.2"/><line x1="87.30" y1="340.80" x2="398.10" y2="340.80" stroke="#000" stroke-width="1.2"/><line x1="83.00" y1="337.40" x2="87.90" y2="337.40" stroke="#000" stroke-width="1.0"/><text x="77.3" y="340.6" font-size="8.6" text-anchor="end" fill="#000">0.00</text><line x1="83.00" y1="312.85" x2="87.90" y2="312.85" stroke="#000" stroke-width="1.0"/><text x="77.3" y="316.0" font-size="8.6" text-anchor="end" fill="#000">0.01</text><line x1="83.00" y1="288.30" x2="87.90" y2="288.30" stroke="#000" stroke-width="1.0"/><text x="77.3" y="291.5" font-size="8.6" text-anchor="end" fill="#000">0.02</text><line x1="83.00" y1="263.75" x2="87.90" y2="263.75" stroke="#000" stroke-width="1.0"/><text x="77.3" y="266.9" font-size="8.6" text-anchor="end" fill="#000">0.03</text><line x1="83.00" y1="239.20" x2="87.90" y2="239.20" stroke="#000" stroke-width="1.0"/><text x="77.3" y="242.4" font-size="8.6" text-anchor="end" fill="#000">0.04</text><line x1="83.00" y1="214.65" x2="87.90" y2="214.65" stroke="#000" stroke-width="1.0"/><text x="77.3" y="217.8" font-size="8.6" text-anchor="end" fill="#000">0.05</text><line x1="87.90" y1="340.80" x2="87.90" y2="345.70" stroke="#000" stroke-width="1.0"/><text x="87.9" y="357.5" font-size="8.6" text-anchor="middle" fill="#000">0</text><line x1="139.52" y1="340.80" x2="139.52" y2="345.70" stroke="#000" stroke-width="1.0"/><text x="139.5" y="357.5" font-size="8.6" text-anchor="middle" fill="#000">5</text><line x1="191.13" y1="340.80" x2="191.13" y2="345.70" stroke="#000" stroke-width="1.0"/><text x="191.1" y="357.5" font-size="8.6" text-anchor="middle" fill="#000">10</text><line x1="242.75" y1="340.80" x2="242.75" y2="345.70" stroke="#000" stroke-width="1.0"/><text x="242.8" y="357.5" font-size="8.6" text-anchor="middle" fill="#000">15</text><line x1="294.37" y1="340.80" x2="294.37" y2="345.70" stroke="#000" stroke-width="1.0"/><text x="294.4" y="357.5" font-size="8.6" text-anchor="middle" fill="#000">20</text><line x1="345.98" y1="340.80" x2="345.98" y2="345.70" stroke="#000" stroke-width="1.0"/><text x="346.0" y="357.5" font-size="8.6" text-anchor="middle" fill="#000">25</text><line x1="397.60" y1="340.80" x2="397.60" y2="345.70" stroke="#000" stroke-width="1.0"/><text x="397.6" y="357.5" font-size="8.6" text-anchor="middle" fill="#000">30</text><text x="242.8" y="372.5" font-size="10" text-anchor="middle" fill="#000">Frequency (Hz)</text><text x="42.8" y="273.0" font-size="10" text-anchor="middle" transform="rotate(-90 42.8 273.0)" fill="#000">Cerebro-Acoustic</text><text x="53.4" y="273.0" font-size="10" text-anchor="middle" transform="rotate(-90 53.4 273.0)" fill="#000">Coherence</text><text x="41.4" y="199.7" font-size="10.5" text-anchor="start" font-weight="bold" fill="#000">c</text><rect x="42.4" y="474.2" width="225.20000000000002" height="103.69999999999999" fill="none" stroke="#000" stroke-width="1.2"/><line x1="37.50" y1="474.20" x2="42.40" y2="474.20" stroke="#000" stroke-width="1.0"/><text x="31.8" y="477.4" font-size="8.6" text-anchor="end" fill="#000">15.0</text><line x1="37.50" y1="496.00" x2="42.40" y2="496.00" stroke="#000" stroke-width="1.0"/><text x="31.8" y="499.2" font-size="8.6" text-anchor="end" fill="#000">12.5</text><line x1="37.50" y1="517.80" x2="42.40" y2="517.80" stroke="#000" stroke-width="1.0"/><text x="31.8" y="521.0" font-size="8.6" text-anchor="end" fill="#000">10.0</text><line x1="37.50" y1="539.60" x2="42.40" y2="539.60" stroke="#000" stroke-width="1.0"/><text x="31.8" y="542.8" font-size="8.6" text-anchor="end" fill="#000">7.5</text><line x1="37.50" y1="561.40" x2="42.40" y2="561.40" stroke="#000" stroke-width="1.0"/><text x="31.8" y="564.6" font-size="8.6" text-anchor="end" fill="#000">5.0</text><line x1="42.40" y1="577.90" x2="42.40" y2="582.80" stroke="#000" stroke-width="1.0"/><text x="42.4" y="595.0" font-size="8.6" text-anchor="middle" fill="#000">−0.2</text><line x1="87.44" y1="577.90" x2="87.44" y2="582.80" stroke="#000" stroke-width="1.0"/><text x="87.4" y="595.0" font-size="8.6" text-anchor="middle" fill="#000">0.0</text><line x1="132.48" y1="577.90" x2="132.48" y2="582.80" stroke="#000" stroke-width="1.0"/><text x="132.5" y="595.0" font-size="8.6" text-anchor="middle" fill="#000">0.2</text><line x1="177.52" y1="577.90" x2="177.52" y2="582.80" stroke="#000" stroke-width="1.0"/><text x="177.5" y="595.0" font-size="8.6" text-anchor="middle" fill="#000">0.4</text><line x1="222.56" y1="577.90" x2="222.56" y2="582.80" stroke="#000" stroke-width="1.0"/><text x="222.6" y="595.0" font-size="8.6" text-anchor="middle" fill="#000">0.6</text><line x1="267.60" y1="577.90" x2="267.60" y2="582.80" stroke="#000" stroke-width="1.0"/><text x="267.6" y="595.0" font-size="8.6" text-anchor="middle" fill="#000">0.8</text><text x="155.0" y="609.7" font-size="10" text-anchor="middle" fill="#000">Time (s)</text><text x="8.3" y="526.0" font-size="10" text-anchor="middle" transform="rotate(-90 8.3 526.0)" fill="#000">Frequency (Hz)</text><text x="20.0" y="422.2" font-size="10.5" text-anchor="start" font-weight="bold" fill="#000">d</text><rect x="405.5" y="474.2" width="224.79999999999995" height="103.69999999999999" fill="none" stroke="#000" stroke-width="1.2"/><line x1="402.70" y1="569.70" x2="405.50" y2="569.70" stroke="#000" stroke-width="0.9"/><line x1="402.70" y1="562.62" x2="405.50" y2="562.62" stroke="#000" stroke-width="0.9"/><line x1="402.70" y1="556.83" x2="405.50" y2="556.83" stroke="#000" stroke-width="0.9"/><line x1="402.70" y1="551.94" x2="405.50" y2="551.94" stroke="#000" stroke-width="0.9"/><line x1="402.70" y1="543.96" x2="405.50" y2="543.96" stroke="#000" stroke-width="0.9"/><line x1="402.70" y1="518.62" x2="405.50" y2="518.62" stroke="#000" stroke-width="0.9"/><line x1="402.70" y1="505.75" x2="405.50" y2="505.75" stroke="#000" stroke-width="0.9"/><line x1="402.70" y1="496.62" x2="405.50" y2="496.62" stroke="#000" stroke-width="0.9"/><line x1="402.70" y1="489.54" x2="405.50" y2="489.54" stroke="#000" stroke-width="0.9"/><line x1="402.70" y1="483.75" x2="405.50" y2="483.75" stroke="#000" stroke-width="0.9"/><line x1="402.70" y1="478.86" x2="405.50" y2="478.86" stroke="#000" stroke-width="0.9"/><line x1="402.70" y1="474.62" x2="405.50" y2="474.62" stroke="#000" stroke-width="0.9"/><line x1="400.60" y1="481.70" x2="405.50" y2="481.70" stroke="#000" stroke-width="1.0"/><text x="394.9" y="484.9" font-size="8.6" text-anchor="end" fill="#000">64</text><line x1="400.60" y1="503.70" x2="405.50" y2="503.70" stroke="#000" stroke-width="1.0"/><text x="394.9" y="506.9" font-size="8.6" text-anchor="end" fill="#000">32</text><line x1="400.60" y1="525.70" x2="405.50" y2="525.70" stroke="#000" stroke-width="1.0"/><text x="394.9" y="528.9" font-size="8.6" text-anchor="end" fill="#000">16</text><line x1="400.60" y1="534.83" x2="405.50" y2="534.83" stroke="#000" stroke-width="1.0"/><text x="394.9" y="538.0" font-size="8.6" text-anchor="end" fill="#000">12</text><line x1="400.60" y1="547.70" x2="405.50" y2="547.70" stroke="#000" stroke-width="1.0"/><text x="394.9" y="550.9" font-size="8.6" text-anchor="end" fill="#000">8</text><line x1="405.50" y1="577.90" x2="405.50" y2="582.80" stroke="#000" stroke-width="1.0"/><text x="405.5" y="595.0" font-size="8.6" text-anchor="middle" fill="#000">−0.2</text><line x1="450.46" y1="577.90" x2="450.46" y2="582.80" stroke="#000" stroke-width="1.0"/><text x="450.5" y="595.0" font-size="8.6" text-anchor="middle" fill="#000">0.0</text><line x1="495.42" y1="577.90" x2="495.42" y2="582.80" stroke="#000" stroke-width="1.0"/><text x="495.4" y="595.0" font-size="8.6" text-anchor="middle" fill="#000">0.2</text><line x1="540.38" y1="577.90" x2="540.38" y2="582.80" stroke="#000" stroke-width="1.0"/><text x="540.4" y="595.0" font-size="8.6" text-anchor="middle" fill="#000">0.4</text><line x1="585.34" y1="577.90" x2="585.34" y2="582.80" stroke="#000" stroke-width="1.0"/><text x="585.3" y="595.0" font-size="8.6" text-anchor="middle" fill="#000">0.6</text><line x1="630.30" y1="577.90" x2="630.30" y2="582.80" stroke="#000" stroke-width="1.0"/><text x="630.3" y="595.0" font-size="8.6" text-anchor="middle" fill="#000">0.8</text><text x="517.9" y="609.7" font-size="10" text-anchor="middle" fill="#000">Time (s)</text><text x="378.1" y="526.0" font-size="10" text-anchor="middle" transform="rotate(-90 378.1 526.0)" fill="#000">Frequency (Hz)</text><text x="383.2" y="422.2" font-size="10.5" text-anchor="start" font-weight="bold" fill="#000">e</text><line x1="105.00" y1="458.50" x2="115.40" y2="549.00" stroke="#8c8c8c" stroke-width="1.6"/><line x1="251.30" y1="458.70" x2="155.20" y2="578.50" stroke="#8c8c8c" stroke-width="1.6"/><line x1="467.10" y1="458.70" x2="552.20" y2="511.30" stroke="#8c8c8c" stroke-width="1.6"/>
</svg></div></body></html>
